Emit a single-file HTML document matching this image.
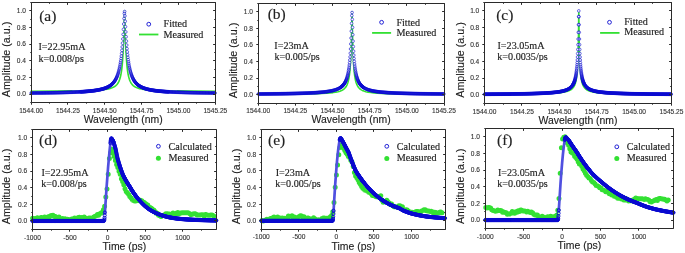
<!DOCTYPE html>
<html><head><meta charset="utf-8"><title>Figure</title>
<style>html,body{margin:0;padding:0;background:#fff;width:685px;height:253px;overflow:hidden}svg{display:block;will-change:transform}</style>
</head><body>
<svg width="685" height="253" viewBox="0 0 685 253">
<style>.tl{font:6.6px "Liberation Sans", sans-serif;fill:#333;stroke:#333;stroke-width:.12px}.at{font:10.45px "Liberation Sans", sans-serif;fill:#222;stroke:#222;stroke-width:.12px}.yt{font:10.7px "Liberation Sans", sans-serif;fill:#222;stroke:#222;stroke-width:.12px}.tx{font:10.15px "Liberation Serif", serif;fill:#222;stroke:#222;stroke-width:.15px}.pl{font:15.5px "Liberation Serif", serif;fill:#222;stroke:#222;stroke-width:.15px}</style>
<rect width="685" height="253" fill="#fff"/>
<path d="M31.1 91.2 57.33 91.07 75.6 90.87 88.42 90.58 97.71 90.15 101.39 89.87 104.49 89.53 107.14 89.13 109.5 88.63 111.41 88.07 113.18 87.35 114.65 86.53 115.83 85.65 117.01 84.47 118.04 83.04 118.93 81.38 119.66 79.52 120.25 77.58 120.84 75.05 121.43 71.67 121.87 68.32 122.32 63.95 122.61 60.28 123.2 50.27 123.64 39.49 124.38 15.13 124.56 10.92 124.67 13.36 125.41 37.79 125.85 49.01 126.44 59.45 126.74 63.27 127.18 67.8 127.62 71.27 128.21 74.76 128.8 77.36 129.39 79.35 130.13 81.25 131.01 82.94 132.04 84.4 133.22 85.6 134.4 86.5 135.87 87.33 137.64 88.05 139.56 88.61 141.77 89.09 144.42 89.51 147.37 89.84 150.9 90.12 159.89 90.55 172.42 90.85 190.1 91.05 215.3 91.19" fill="none" stroke="#33e033" stroke-width="1.6" stroke-linejoin="round" stroke-linecap="round"/>
<path d="M29.83 93.05a1.35 1.35 0 1 0 2.7 0a1.35 1.35 0 1 0 -2.7 0M30.43 93.04a1.35 1.35 0 1 0 2.7 0a1.35 1.35 0 1 0 -2.7 0M31.03 93.04a1.35 1.35 0 1 0 2.7 0a1.35 1.35 0 1 0 -2.7 0M31.63 93.03a1.35 1.35 0 1 0 2.7 0a1.35 1.35 0 1 0 -2.7 0M32.23 93.02a1.35 1.35 0 1 0 2.7 0a1.35 1.35 0 1 0 -2.7 0M32.83 93.02a1.35 1.35 0 1 0 2.7 0a1.35 1.35 0 1 0 -2.7 0M33.43 93.01a1.35 1.35 0 1 0 2.7 0a1.35 1.35 0 1 0 -2.7 0M34.03 93a1.35 1.35 0 1 0 2.7 0a1.35 1.35 0 1 0 -2.7 0M34.62 93a1.35 1.35 0 1 0 2.7 0a1.35 1.35 0 1 0 -2.7 0M35.22 92.99a1.35 1.35 0 1 0 2.7 0a1.35 1.35 0 1 0 -2.7 0M35.82 92.98a1.35 1.35 0 1 0 2.7 0a1.35 1.35 0 1 0 -2.7 0M36.42 92.98a1.35 1.35 0 1 0 2.7 0a1.35 1.35 0 1 0 -2.7 0M37.02 92.97a1.35 1.35 0 1 0 2.7 0a1.35 1.35 0 1 0 -2.7 0M37.62 92.96a1.35 1.35 0 1 0 2.7 0a1.35 1.35 0 1 0 -2.7 0M38.22 92.95a1.35 1.35 0 1 0 2.7 0a1.35 1.35 0 1 0 -2.7 0M38.82 92.95a1.35 1.35 0 1 0 2.7 0a1.35 1.35 0 1 0 -2.7 0M39.42 92.94a1.35 1.35 0 1 0 2.7 0a1.35 1.35 0 1 0 -2.7 0M40.02 92.93a1.35 1.35 0 1 0 2.7 0a1.35 1.35 0 1 0 -2.7 0M40.62 92.92a1.35 1.35 0 1 0 2.7 0a1.35 1.35 0 1 0 -2.7 0M41.21 92.91a1.35 1.35 0 1 0 2.7 0a1.35 1.35 0 1 0 -2.7 0M41.81 92.91a1.35 1.35 0 1 0 2.7 0a1.35 1.35 0 1 0 -2.7 0M42.41 92.9a1.35 1.35 0 1 0 2.7 0a1.35 1.35 0 1 0 -2.7 0M43.01 92.89a1.35 1.35 0 1 0 2.7 0a1.35 1.35 0 1 0 -2.7 0M43.61 92.88a1.35 1.35 0 1 0 2.7 0a1.35 1.35 0 1 0 -2.7 0M44.21 92.87a1.35 1.35 0 1 0 2.7 0a1.35 1.35 0 1 0 -2.7 0M44.81 92.86a1.35 1.35 0 1 0 2.7 0a1.35 1.35 0 1 0 -2.7 0M45.41 92.85a1.35 1.35 0 1 0 2.7 0a1.35 1.35 0 1 0 -2.7 0M46.01 92.84a1.35 1.35 0 1 0 2.7 0a1.35 1.35 0 1 0 -2.7 0M46.61 92.83a1.35 1.35 0 1 0 2.7 0a1.35 1.35 0 1 0 -2.7 0M47.2 92.82a1.35 1.35 0 1 0 2.7 0a1.35 1.35 0 1 0 -2.7 0M47.8 92.81a1.35 1.35 0 1 0 2.7 0a1.35 1.35 0 1 0 -2.7 0M48.4 92.8a1.35 1.35 0 1 0 2.7 0a1.35 1.35 0 1 0 -2.7 0M49 92.79a1.35 1.35 0 1 0 2.7 0a1.35 1.35 0 1 0 -2.7 0M49.6 92.78a1.35 1.35 0 1 0 2.7 0a1.35 1.35 0 1 0 -2.7 0M50.2 92.77a1.35 1.35 0 1 0 2.7 0a1.35 1.35 0 1 0 -2.7 0M50.8 92.76a1.35 1.35 0 1 0 2.7 0a1.35 1.35 0 1 0 -2.7 0M51.4 92.75a1.35 1.35 0 1 0 2.7 0a1.35 1.35 0 1 0 -2.7 0M52 92.74a1.35 1.35 0 1 0 2.7 0a1.35 1.35 0 1 0 -2.7 0M52.6 92.73a1.35 1.35 0 1 0 2.7 0a1.35 1.35 0 1 0 -2.7 0M53.19 92.72a1.35 1.35 0 1 0 2.7 0a1.35 1.35 0 1 0 -2.7 0M53.79 92.7a1.35 1.35 0 1 0 2.7 0a1.35 1.35 0 1 0 -2.7 0M54.39 92.69a1.35 1.35 0 1 0 2.7 0a1.35 1.35 0 1 0 -2.7 0M54.99 92.68a1.35 1.35 0 1 0 2.7 0a1.35 1.35 0 1 0 -2.7 0M55.59 92.67a1.35 1.35 0 1 0 2.7 0a1.35 1.35 0 1 0 -2.7 0M56.19 92.65a1.35 1.35 0 1 0 2.7 0a1.35 1.35 0 1 0 -2.7 0M56.79 92.64a1.35 1.35 0 1 0 2.7 0a1.35 1.35 0 1 0 -2.7 0M57.39 92.63a1.35 1.35 0 1 0 2.7 0a1.35 1.35 0 1 0 -2.7 0M57.99 92.61a1.35 1.35 0 1 0 2.7 0a1.35 1.35 0 1 0 -2.7 0M58.59 92.6a1.35 1.35 0 1 0 2.7 0a1.35 1.35 0 1 0 -2.7 0M59.18 92.58a1.35 1.35 0 1 0 2.7 0a1.35 1.35 0 1 0 -2.7 0M59.78 92.57a1.35 1.35 0 1 0 2.7 0a1.35 1.35 0 1 0 -2.7 0M60.38 92.55a1.35 1.35 0 1 0 2.7 0a1.35 1.35 0 1 0 -2.7 0M60.98 92.54a1.35 1.35 0 1 0 2.7 0a1.35 1.35 0 1 0 -2.7 0M61.58 92.52a1.35 1.35 0 1 0 2.7 0a1.35 1.35 0 1 0 -2.7 0M62.18 92.51a1.35 1.35 0 1 0 2.7 0a1.35 1.35 0 1 0 -2.7 0M62.78 92.49a1.35 1.35 0 1 0 2.7 0a1.35 1.35 0 1 0 -2.7 0M63.38 92.47a1.35 1.35 0 1 0 2.7 0a1.35 1.35 0 1 0 -2.7 0M63.98 92.46a1.35 1.35 0 1 0 2.7 0a1.35 1.35 0 1 0 -2.7 0M64.58 92.44a1.35 1.35 0 1 0 2.7 0a1.35 1.35 0 1 0 -2.7 0M65.18 92.42a1.35 1.35 0 1 0 2.7 0a1.35 1.35 0 1 0 -2.7 0M65.77 92.4a1.35 1.35 0 1 0 2.7 0a1.35 1.35 0 1 0 -2.7 0M66.37 92.38a1.35 1.35 0 1 0 2.7 0a1.35 1.35 0 1 0 -2.7 0M66.97 92.36a1.35 1.35 0 1 0 2.7 0a1.35 1.35 0 1 0 -2.7 0M67.57 92.34a1.35 1.35 0 1 0 2.7 0a1.35 1.35 0 1 0 -2.7 0M68.17 92.32a1.35 1.35 0 1 0 2.7 0a1.35 1.35 0 1 0 -2.7 0M68.77 92.3a1.35 1.35 0 1 0 2.7 0a1.35 1.35 0 1 0 -2.7 0M69.37 92.28a1.35 1.35 0 1 0 2.7 0a1.35 1.35 0 1 0 -2.7 0M69.97 92.26a1.35 1.35 0 1 0 2.7 0a1.35 1.35 0 1 0 -2.7 0M70.57 92.24a1.35 1.35 0 1 0 2.7 0a1.35 1.35 0 1 0 -2.7 0M71.17 92.21a1.35 1.35 0 1 0 2.7 0a1.35 1.35 0 1 0 -2.7 0M71.76 92.19a1.35 1.35 0 1 0 2.7 0a1.35 1.35 0 1 0 -2.7 0M72.36 92.16a1.35 1.35 0 1 0 2.7 0a1.35 1.35 0 1 0 -2.7 0M72.96 92.14a1.35 1.35 0 1 0 2.7 0a1.35 1.35 0 1 0 -2.7 0M73.56 92.11a1.35 1.35 0 1 0 2.7 0a1.35 1.35 0 1 0 -2.7 0M74.16 92.09a1.35 1.35 0 1 0 2.7 0a1.35 1.35 0 1 0 -2.7 0M74.76 92.06a1.35 1.35 0 1 0 2.7 0a1.35 1.35 0 1 0 -2.7 0M75.36 92.03a1.35 1.35 0 1 0 2.7 0a1.35 1.35 0 1 0 -2.7 0M75.96 92a1.35 1.35 0 1 0 2.7 0a1.35 1.35 0 1 0 -2.7 0M76.56 91.97a1.35 1.35 0 1 0 2.7 0a1.35 1.35 0 1 0 -2.7 0M77.16 91.94a1.35 1.35 0 1 0 2.7 0a1.35 1.35 0 1 0 -2.7 0M77.75 91.91a1.35 1.35 0 1 0 2.7 0a1.35 1.35 0 1 0 -2.7 0M78.35 91.88a1.35 1.35 0 1 0 2.7 0a1.35 1.35 0 1 0 -2.7 0M78.95 91.84a1.35 1.35 0 1 0 2.7 0a1.35 1.35 0 1 0 -2.7 0M79.25 91.82a1.35 1.35 0 1 0 2.7 0a1.35 1.35 0 1 0 -2.7 0M79.55 91.81a1.35 1.35 0 1 0 2.7 0a1.35 1.35 0 1 0 -2.7 0M79.85 91.79a1.35 1.35 0 1 0 2.7 0a1.35 1.35 0 1 0 -2.7 0M80.15 91.77a1.35 1.35 0 1 0 2.7 0a1.35 1.35 0 1 0 -2.7 0M80.45 91.75a1.35 1.35 0 1 0 2.7 0a1.35 1.35 0 1 0 -2.7 0M80.75 91.73a1.35 1.35 0 1 0 2.7 0a1.35 1.35 0 1 0 -2.7 0M81.05 91.71a1.35 1.35 0 1 0 2.7 0a1.35 1.35 0 1 0 -2.7 0M81.35 91.7a1.35 1.35 0 1 0 2.7 0a1.35 1.35 0 1 0 -2.7 0M81.65 91.68a1.35 1.35 0 1 0 2.7 0a1.35 1.35 0 1 0 -2.7 0M81.95 91.66a1.35 1.35 0 1 0 2.7 0a1.35 1.35 0 1 0 -2.7 0M82.25 91.64a1.35 1.35 0 1 0 2.7 0a1.35 1.35 0 1 0 -2.7 0M82.55 91.61a1.35 1.35 0 1 0 2.7 0a1.35 1.35 0 1 0 -2.7 0M82.85 91.59a1.35 1.35 0 1 0 2.7 0a1.35 1.35 0 1 0 -2.7 0M83.15 91.57a1.35 1.35 0 1 0 2.7 0a1.35 1.35 0 1 0 -2.7 0M83.45 91.55a1.35 1.35 0 1 0 2.7 0a1.35 1.35 0 1 0 -2.7 0M83.74 91.53a1.35 1.35 0 1 0 2.7 0a1.35 1.35 0 1 0 -2.7 0M84.04 91.51a1.35 1.35 0 1 0 2.7 0a1.35 1.35 0 1 0 -2.7 0M84.34 91.48a1.35 1.35 0 1 0 2.7 0a1.35 1.35 0 1 0 -2.7 0M84.64 91.46a1.35 1.35 0 1 0 2.7 0a1.35 1.35 0 1 0 -2.7 0M84.94 91.44a1.35 1.35 0 1 0 2.7 0a1.35 1.35 0 1 0 -2.7 0M85.24 91.41a1.35 1.35 0 1 0 2.7 0a1.35 1.35 0 1 0 -2.7 0M85.54 91.39a1.35 1.35 0 1 0 2.7 0a1.35 1.35 0 1 0 -2.7 0M85.84 91.36a1.35 1.35 0 1 0 2.7 0a1.35 1.35 0 1 0 -2.7 0M86.14 91.34a1.35 1.35 0 1 0 2.7 0a1.35 1.35 0 1 0 -2.7 0M86.44 91.31a1.35 1.35 0 1 0 2.7 0a1.35 1.35 0 1 0 -2.7 0M86.74 91.28a1.35 1.35 0 1 0 2.7 0a1.35 1.35 0 1 0 -2.7 0M87.04 91.26a1.35 1.35 0 1 0 2.7 0a1.35 1.35 0 1 0 -2.7 0M87.34 91.23a1.35 1.35 0 1 0 2.7 0a1.35 1.35 0 1 0 -2.7 0M87.64 91.2a1.35 1.35 0 1 0 2.7 0a1.35 1.35 0 1 0 -2.7 0M87.94 91.17a1.35 1.35 0 1 0 2.7 0a1.35 1.35 0 1 0 -2.7 0M88.24 91.14a1.35 1.35 0 1 0 2.7 0a1.35 1.35 0 1 0 -2.7 0M88.54 91.11a1.35 1.35 0 1 0 2.7 0a1.35 1.35 0 1 0 -2.7 0M88.84 91.08a1.35 1.35 0 1 0 2.7 0a1.35 1.35 0 1 0 -2.7 0M89.14 91.05a1.35 1.35 0 1 0 2.7 0a1.35 1.35 0 1 0 -2.7 0M89.44 91.02a1.35 1.35 0 1 0 2.7 0a1.35 1.35 0 1 0 -2.7 0M89.74 90.99a1.35 1.35 0 1 0 2.7 0a1.35 1.35 0 1 0 -2.7 0M90.03 90.96a1.35 1.35 0 1 0 2.7 0a1.35 1.35 0 1 0 -2.7 0M90.33 90.92a1.35 1.35 0 1 0 2.7 0a1.35 1.35 0 1 0 -2.7 0M90.63 90.89a1.35 1.35 0 1 0 2.7 0a1.35 1.35 0 1 0 -2.7 0M90.93 90.85a1.35 1.35 0 1 0 2.7 0a1.35 1.35 0 1 0 -2.7 0M91.23 90.82a1.35 1.35 0 1 0 2.7 0a1.35 1.35 0 1 0 -2.7 0M91.53 90.78a1.35 1.35 0 1 0 2.7 0a1.35 1.35 0 1 0 -2.7 0M91.83 90.74a1.35 1.35 0 1 0 2.7 0a1.35 1.35 0 1 0 -2.7 0M92.13 90.71a1.35 1.35 0 1 0 2.7 0a1.35 1.35 0 1 0 -2.7 0M92.43 90.67a1.35 1.35 0 1 0 2.7 0a1.35 1.35 0 1 0 -2.7 0M92.73 90.63a1.35 1.35 0 1 0 2.7 0a1.35 1.35 0 1 0 -2.7 0M93.03 90.59a1.35 1.35 0 1 0 2.7 0a1.35 1.35 0 1 0 -2.7 0M93.33 90.55a1.35 1.35 0 1 0 2.7 0a1.35 1.35 0 1 0 -2.7 0M93.63 90.5a1.35 1.35 0 1 0 2.7 0a1.35 1.35 0 1 0 -2.7 0M93.93 90.46a1.35 1.35 0 1 0 2.7 0a1.35 1.35 0 1 0 -2.7 0M94.23 90.42a1.35 1.35 0 1 0 2.7 0a1.35 1.35 0 1 0 -2.7 0M94.53 90.37a1.35 1.35 0 1 0 2.7 0a1.35 1.35 0 1 0 -2.7 0M94.83 90.32a1.35 1.35 0 1 0 2.7 0a1.35 1.35 0 1 0 -2.7 0M95.13 90.28a1.35 1.35 0 1 0 2.7 0a1.35 1.35 0 1 0 -2.7 0M95.43 90.23a1.35 1.35 0 1 0 2.7 0a1.35 1.35 0 1 0 -2.7 0M95.73 90.18a1.35 1.35 0 1 0 2.7 0a1.35 1.35 0 1 0 -2.7 0M96.02 90.13a1.35 1.35 0 1 0 2.7 0a1.35 1.35 0 1 0 -2.7 0M96.32 90.07a1.35 1.35 0 1 0 2.7 0a1.35 1.35 0 1 0 -2.7 0M96.62 90.02a1.35 1.35 0 1 0 2.7 0a1.35 1.35 0 1 0 -2.7 0M96.92 89.96a1.35 1.35 0 1 0 2.7 0a1.35 1.35 0 1 0 -2.7 0M97.22 89.91a1.35 1.35 0 1 0 2.7 0a1.35 1.35 0 1 0 -2.7 0M97.52 89.85a1.35 1.35 0 1 0 2.7 0a1.35 1.35 0 1 0 -2.7 0M97.82 89.79a1.35 1.35 0 1 0 2.7 0a1.35 1.35 0 1 0 -2.7 0M98.12 89.73a1.35 1.35 0 1 0 2.7 0a1.35 1.35 0 1 0 -2.7 0M98.42 89.66a1.35 1.35 0 1 0 2.7 0a1.35 1.35 0 1 0 -2.7 0M98.72 89.6a1.35 1.35 0 1 0 2.7 0a1.35 1.35 0 1 0 -2.7 0M99.02 89.53a1.35 1.35 0 1 0 2.7 0a1.35 1.35 0 1 0 -2.7 0M99.32 89.46a1.35 1.35 0 1 0 2.7 0a1.35 1.35 0 1 0 -2.7 0M99.62 89.39a1.35 1.35 0 1 0 2.7 0a1.35 1.35 0 1 0 -2.7 0M99.92 89.32a1.35 1.35 0 1 0 2.7 0a1.35 1.35 0 1 0 -2.7 0M100.22 89.25a1.35 1.35 0 1 0 2.7 0a1.35 1.35 0 1 0 -2.7 0M100.52 89.17a1.35 1.35 0 1 0 2.7 0a1.35 1.35 0 1 0 -2.7 0M100.82 89.09a1.35 1.35 0 1 0 2.7 0a1.35 1.35 0 1 0 -2.7 0M101.12 89.01a1.35 1.35 0 1 0 2.7 0a1.35 1.35 0 1 0 -2.7 0M101.42 88.93a1.35 1.35 0 1 0 2.7 0a1.35 1.35 0 1 0 -2.7 0M101.72 88.84a1.35 1.35 0 1 0 2.7 0a1.35 1.35 0 1 0 -2.7 0M102.02 88.75a1.35 1.35 0 1 0 2.7 0a1.35 1.35 0 1 0 -2.7 0M102.31 88.66a1.35 1.35 0 1 0 2.7 0a1.35 1.35 0 1 0 -2.7 0M102.61 88.57a1.35 1.35 0 1 0 2.7 0a1.35 1.35 0 1 0 -2.7 0M102.91 88.47a1.35 1.35 0 1 0 2.7 0a1.35 1.35 0 1 0 -2.7 0M103.21 88.37a1.35 1.35 0 1 0 2.7 0a1.35 1.35 0 1 0 -2.7 0M103.51 88.26a1.35 1.35 0 1 0 2.7 0a1.35 1.35 0 1 0 -2.7 0M103.81 88.16a1.35 1.35 0 1 0 2.7 0a1.35 1.35 0 1 0 -2.7 0M104.11 88.04a1.35 1.35 0 1 0 2.7 0a1.35 1.35 0 1 0 -2.7 0M104.41 87.93a1.35 1.35 0 1 0 2.7 0a1.35 1.35 0 1 0 -2.7 0M104.71 87.81a1.35 1.35 0 1 0 2.7 0a1.35 1.35 0 1 0 -2.7 0M105.01 87.69a1.35 1.35 0 1 0 2.7 0a1.35 1.35 0 1 0 -2.7 0M105.31 87.56a1.35 1.35 0 1 0 2.7 0a1.35 1.35 0 1 0 -2.7 0M105.61 87.42a1.35 1.35 0 1 0 2.7 0a1.35 1.35 0 1 0 -2.7 0M105.91 87.29a1.35 1.35 0 1 0 2.7 0a1.35 1.35 0 1 0 -2.7 0M106.21 87.14a1.35 1.35 0 1 0 2.7 0a1.35 1.35 0 1 0 -2.7 0M106.51 87a1.35 1.35 0 1 0 2.7 0a1.35 1.35 0 1 0 -2.7 0M106.81 86.84a1.35 1.35 0 1 0 2.7 0a1.35 1.35 0 1 0 -2.7 0M107.11 86.68a1.35 1.35 0 1 0 2.7 0a1.35 1.35 0 1 0 -2.7 0M107.41 86.51a1.35 1.35 0 1 0 2.7 0a1.35 1.35 0 1 0 -2.7 0M107.71 86.34a1.35 1.35 0 1 0 2.7 0a1.35 1.35 0 1 0 -2.7 0M108.01 86.16a1.35 1.35 0 1 0 2.7 0a1.35 1.35 0 1 0 -2.7 0M108.3 85.97a1.35 1.35 0 1 0 2.7 0a1.35 1.35 0 1 0 -2.7 0M108.6 85.77a1.35 1.35 0 1 0 2.7 0a1.35 1.35 0 1 0 -2.7 0M108.9 85.57a1.35 1.35 0 1 0 2.7 0a1.35 1.35 0 1 0 -2.7 0M109.2 85.35a1.35 1.35 0 1 0 2.7 0a1.35 1.35 0 1 0 -2.7 0M109.5 85.13a1.35 1.35 0 1 0 2.7 0a1.35 1.35 0 1 0 -2.7 0M109.8 84.89a1.35 1.35 0 1 0 2.7 0a1.35 1.35 0 1 0 -2.7 0M110.1 84.65a1.35 1.35 0 1 0 2.7 0a1.35 1.35 0 1 0 -2.7 0M110.4 84.39a1.35 1.35 0 1 0 2.7 0a1.35 1.35 0 1 0 -2.7 0M110.7 84.12a1.35 1.35 0 1 0 2.7 0a1.35 1.35 0 1 0 -2.7 0M111 83.83a1.35 1.35 0 1 0 2.7 0a1.35 1.35 0 1 0 -2.7 0M111.3 83.54a1.35 1.35 0 1 0 2.7 0a1.35 1.35 0 1 0 -2.7 0M111.6 83.22a1.35 1.35 0 1 0 2.7 0a1.35 1.35 0 1 0 -2.7 0M111.9 82.89a1.35 1.35 0 1 0 2.7 0a1.35 1.35 0 1 0 -2.7 0M112.2 82.54a1.35 1.35 0 1 0 2.7 0a1.35 1.35 0 1 0 -2.7 0M112.5 82.17a1.35 1.35 0 1 0 2.7 0a1.35 1.35 0 1 0 -2.7 0M112.8 81.78a1.35 1.35 0 1 0 2.7 0a1.35 1.35 0 1 0 -2.7 0M113.1 81.37a1.35 1.35 0 1 0 2.7 0a1.35 1.35 0 1 0 -2.7 0M113.4 80.93a1.35 1.35 0 1 0 2.7 0a1.35 1.35 0 1 0 -2.7 0M113.7 80.47a1.35 1.35 0 1 0 2.7 0a1.35 1.35 0 1 0 -2.7 0M114 79.98a1.35 1.35 0 1 0 2.7 0a1.35 1.35 0 1 0 -2.7 0M114.3 79.45a1.35 1.35 0 1 0 2.7 0a1.35 1.35 0 1 0 -2.7 0M114.59 78.89a1.35 1.35 0 1 0 2.7 0a1.35 1.35 0 1 0 -2.7 0M114.89 78.3a1.35 1.35 0 1 0 2.7 0a1.35 1.35 0 1 0 -2.7 0M115.19 77.66a1.35 1.35 0 1 0 2.7 0a1.35 1.35 0 1 0 -2.7 0M115.49 76.98a1.35 1.35 0 1 0 2.7 0a1.35 1.35 0 1 0 -2.7 0M115.79 76.25a1.35 1.35 0 1 0 2.7 0a1.35 1.35 0 1 0 -2.7 0M116.09 75.46a1.35 1.35 0 1 0 2.7 0a1.35 1.35 0 1 0 -2.7 0M116.39 74.61a1.35 1.35 0 1 0 2.7 0a1.35 1.35 0 1 0 -2.7 0M116.69 73.7a1.35 1.35 0 1 0 2.7 0a1.35 1.35 0 1 0 -2.7 0M116.99 72.71a1.35 1.35 0 1 0 2.7 0a1.35 1.35 0 1 0 -2.7 0M117.29 71.64a1.35 1.35 0 1 0 2.7 0a1.35 1.35 0 1 0 -2.7 0M117.59 70.47a1.35 1.35 0 1 0 2.7 0a1.35 1.35 0 1 0 -2.7 0M117.89 69.21a1.35 1.35 0 1 0 2.7 0a1.35 1.35 0 1 0 -2.7 0M118.19 67.82a1.35 1.35 0 1 0 2.7 0a1.35 1.35 0 1 0 -2.7 0M118.49 66.31a1.35 1.35 0 1 0 2.7 0a1.35 1.35 0 1 0 -2.7 0M118.79 64.65a1.35 1.35 0 1 0 2.7 0a1.35 1.35 0 1 0 -2.7 0M119.09 62.82a1.35 1.35 0 1 0 2.7 0a1.35 1.35 0 1 0 -2.7 0M119.39 60.81a1.35 1.35 0 1 0 2.7 0a1.35 1.35 0 1 0 -2.7 0M119.69 58.58a1.35 1.35 0 1 0 2.7 0a1.35 1.35 0 1 0 -2.7 0M119.99 56.11a1.35 1.35 0 1 0 2.7 0a1.35 1.35 0 1 0 -2.7 0M120.29 53.37a1.35 1.35 0 1 0 2.7 0a1.35 1.35 0 1 0 -2.7 0M120.58 50.33a1.35 1.35 0 1 0 2.7 0a1.35 1.35 0 1 0 -2.7 0M120.88 46.94a1.35 1.35 0 1 0 2.7 0a1.35 1.35 0 1 0 -2.7 0M121.18 43.17a1.35 1.35 0 1 0 2.7 0a1.35 1.35 0 1 0 -2.7 0M121.48 38.99a1.35 1.35 0 1 0 2.7 0a1.35 1.35 0 1 0 -2.7 0M121.78 34.39a1.35 1.35 0 1 0 2.7 0a1.35 1.35 0 1 0 -2.7 0M122.08 29.37a1.35 1.35 0 1 0 2.7 0a1.35 1.35 0 1 0 -2.7 0M122.38 24.03a1.35 1.35 0 1 0 2.7 0a1.35 1.35 0 1 0 -2.7 0M122.68 18.56a1.35 1.35 0 1 0 2.7 0a1.35 1.35 0 1 0 -2.7 0M122.98 13.49a1.35 1.35 0 1 0 2.7 0a1.35 1.35 0 1 0 -2.7 0M123.28 11.51a1.35 1.35 0 1 0 2.7 0a1.35 1.35 0 1 0 -2.7 0M123.58 15.92a1.35 1.35 0 1 0 2.7 0a1.35 1.35 0 1 0 -2.7 0M123.88 21.29a1.35 1.35 0 1 0 2.7 0a1.35 1.35 0 1 0 -2.7 0M124.18 26.73a1.35 1.35 0 1 0 2.7 0a1.35 1.35 0 1 0 -2.7 0M124.48 31.93a1.35 1.35 0 1 0 2.7 0a1.35 1.35 0 1 0 -2.7 0M124.78 36.74a1.35 1.35 0 1 0 2.7 0a1.35 1.35 0 1 0 -2.7 0M125.08 41.13a1.35 1.35 0 1 0 2.7 0a1.35 1.35 0 1 0 -2.7 0M125.38 45.1a1.35 1.35 0 1 0 2.7 0a1.35 1.35 0 1 0 -2.7 0M125.68 48.68a1.35 1.35 0 1 0 2.7 0a1.35 1.35 0 1 0 -2.7 0M125.98 51.89a1.35 1.35 0 1 0 2.7 0a1.35 1.35 0 1 0 -2.7 0M126.28 54.78a1.35 1.35 0 1 0 2.7 0a1.35 1.35 0 1 0 -2.7 0M126.58 57.38a1.35 1.35 0 1 0 2.7 0a1.35 1.35 0 1 0 -2.7 0M126.87 59.72a1.35 1.35 0 1 0 2.7 0a1.35 1.35 0 1 0 -2.7 0M127.17 61.84a1.35 1.35 0 1 0 2.7 0a1.35 1.35 0 1 0 -2.7 0M127.47 63.76a1.35 1.35 0 1 0 2.7 0a1.35 1.35 0 1 0 -2.7 0M127.77 65.5a1.35 1.35 0 1 0 2.7 0a1.35 1.35 0 1 0 -2.7 0M128.07 67.08a1.35 1.35 0 1 0 2.7 0a1.35 1.35 0 1 0 -2.7 0M128.37 68.53a1.35 1.35 0 1 0 2.7 0a1.35 1.35 0 1 0 -2.7 0M128.67 69.85a1.35 1.35 0 1 0 2.7 0a1.35 1.35 0 1 0 -2.7 0M128.97 71.07a1.35 1.35 0 1 0 2.7 0a1.35 1.35 0 1 0 -2.7 0M129.27 72.18a1.35 1.35 0 1 0 2.7 0a1.35 1.35 0 1 0 -2.7 0M129.57 73.21a1.35 1.35 0 1 0 2.7 0a1.35 1.35 0 1 0 -2.7 0M129.87 74.16a1.35 1.35 0 1 0 2.7 0a1.35 1.35 0 1 0 -2.7 0M130.17 75.04a1.35 1.35 0 1 0 2.7 0a1.35 1.35 0 1 0 -2.7 0M130.47 75.86a1.35 1.35 0 1 0 2.7 0a1.35 1.35 0 1 0 -2.7 0M130.77 76.62a1.35 1.35 0 1 0 2.7 0a1.35 1.35 0 1 0 -2.7 0M131.07 77.33a1.35 1.35 0 1 0 2.7 0a1.35 1.35 0 1 0 -2.7 0M131.37 77.99a1.35 1.35 0 1 0 2.7 0a1.35 1.35 0 1 0 -2.7 0M131.67 78.6a1.35 1.35 0 1 0 2.7 0a1.35 1.35 0 1 0 -2.7 0M131.97 79.18a1.35 1.35 0 1 0 2.7 0a1.35 1.35 0 1 0 -2.7 0M132.27 79.72a1.35 1.35 0 1 0 2.7 0a1.35 1.35 0 1 0 -2.7 0M132.57 80.23a1.35 1.35 0 1 0 2.7 0a1.35 1.35 0 1 0 -2.7 0M132.86 80.71a1.35 1.35 0 1 0 2.7 0a1.35 1.35 0 1 0 -2.7 0M133.16 81.16a1.35 1.35 0 1 0 2.7 0a1.35 1.35 0 1 0 -2.7 0M133.46 81.58a1.35 1.35 0 1 0 2.7 0a1.35 1.35 0 1 0 -2.7 0M133.76 81.98a1.35 1.35 0 1 0 2.7 0a1.35 1.35 0 1 0 -2.7 0M134.06 82.36a1.35 1.35 0 1 0 2.7 0a1.35 1.35 0 1 0 -2.7 0M134.36 82.72a1.35 1.35 0 1 0 2.7 0a1.35 1.35 0 1 0 -2.7 0M134.66 83.06a1.35 1.35 0 1 0 2.7 0a1.35 1.35 0 1 0 -2.7 0M134.96 83.38a1.35 1.35 0 1 0 2.7 0a1.35 1.35 0 1 0 -2.7 0M135.26 83.69a1.35 1.35 0 1 0 2.7 0a1.35 1.35 0 1 0 -2.7 0M135.56 83.98a1.35 1.35 0 1 0 2.7 0a1.35 1.35 0 1 0 -2.7 0M135.86 84.26a1.35 1.35 0 1 0 2.7 0a1.35 1.35 0 1 0 -2.7 0M136.16 84.52a1.35 1.35 0 1 0 2.7 0a1.35 1.35 0 1 0 -2.7 0M136.46 84.77a1.35 1.35 0 1 0 2.7 0a1.35 1.35 0 1 0 -2.7 0M136.76 85.01a1.35 1.35 0 1 0 2.7 0a1.35 1.35 0 1 0 -2.7 0M137.06 85.24a1.35 1.35 0 1 0 2.7 0a1.35 1.35 0 1 0 -2.7 0M137.36 85.46a1.35 1.35 0 1 0 2.7 0a1.35 1.35 0 1 0 -2.7 0M137.66 85.67a1.35 1.35 0 1 0 2.7 0a1.35 1.35 0 1 0 -2.7 0M137.96 85.87a1.35 1.35 0 1 0 2.7 0a1.35 1.35 0 1 0 -2.7 0M138.26 86.07a1.35 1.35 0 1 0 2.7 0a1.35 1.35 0 1 0 -2.7 0M138.56 86.25a1.35 1.35 0 1 0 2.7 0a1.35 1.35 0 1 0 -2.7 0M138.86 86.43a1.35 1.35 0 1 0 2.7 0a1.35 1.35 0 1 0 -2.7 0M139.15 86.6a1.35 1.35 0 1 0 2.7 0a1.35 1.35 0 1 0 -2.7 0M139.45 86.76a1.35 1.35 0 1 0 2.7 0a1.35 1.35 0 1 0 -2.7 0M139.75 86.92a1.35 1.35 0 1 0 2.7 0a1.35 1.35 0 1 0 -2.7 0M140.05 87.07a1.35 1.35 0 1 0 2.7 0a1.35 1.35 0 1 0 -2.7 0M140.35 87.22a1.35 1.35 0 1 0 2.7 0a1.35 1.35 0 1 0 -2.7 0M140.65 87.36a1.35 1.35 0 1 0 2.7 0a1.35 1.35 0 1 0 -2.7 0M140.95 87.49a1.35 1.35 0 1 0 2.7 0a1.35 1.35 0 1 0 -2.7 0M141.25 87.62a1.35 1.35 0 1 0 2.7 0a1.35 1.35 0 1 0 -2.7 0M141.55 87.75a1.35 1.35 0 1 0 2.7 0a1.35 1.35 0 1 0 -2.7 0M141.85 87.87a1.35 1.35 0 1 0 2.7 0a1.35 1.35 0 1 0 -2.7 0M142.15 87.99a1.35 1.35 0 1 0 2.7 0a1.35 1.35 0 1 0 -2.7 0M142.45 88.1a1.35 1.35 0 1 0 2.7 0a1.35 1.35 0 1 0 -2.7 0M142.75 88.21a1.35 1.35 0 1 0 2.7 0a1.35 1.35 0 1 0 -2.7 0M143.05 88.32a1.35 1.35 0 1 0 2.7 0a1.35 1.35 0 1 0 -2.7 0M143.35 88.42a1.35 1.35 0 1 0 2.7 0a1.35 1.35 0 1 0 -2.7 0M143.65 88.52a1.35 1.35 0 1 0 2.7 0a1.35 1.35 0 1 0 -2.7 0M143.95 88.61a1.35 1.35 0 1 0 2.7 0a1.35 1.35 0 1 0 -2.7 0M144.25 88.71a1.35 1.35 0 1 0 2.7 0a1.35 1.35 0 1 0 -2.7 0M144.55 88.8a1.35 1.35 0 1 0 2.7 0a1.35 1.35 0 1 0 -2.7 0M144.85 88.88a1.35 1.35 0 1 0 2.7 0a1.35 1.35 0 1 0 -2.7 0M145.14 88.97a1.35 1.35 0 1 0 2.7 0a1.35 1.35 0 1 0 -2.7 0M145.44 89.05a1.35 1.35 0 1 0 2.7 0a1.35 1.35 0 1 0 -2.7 0M145.74 89.13a1.35 1.35 0 1 0 2.7 0a1.35 1.35 0 1 0 -2.7 0M146.04 89.21a1.35 1.35 0 1 0 2.7 0a1.35 1.35 0 1 0 -2.7 0M146.34 89.29a1.35 1.35 0 1 0 2.7 0a1.35 1.35 0 1 0 -2.7 0M146.64 89.36a1.35 1.35 0 1 0 2.7 0a1.35 1.35 0 1 0 -2.7 0M146.94 89.43a1.35 1.35 0 1 0 2.7 0a1.35 1.35 0 1 0 -2.7 0M147.24 89.5a1.35 1.35 0 1 0 2.7 0a1.35 1.35 0 1 0 -2.7 0M147.54 89.57a1.35 1.35 0 1 0 2.7 0a1.35 1.35 0 1 0 -2.7 0M147.84 89.63a1.35 1.35 0 1 0 2.7 0a1.35 1.35 0 1 0 -2.7 0M148.14 89.7a1.35 1.35 0 1 0 2.7 0a1.35 1.35 0 1 0 -2.7 0M148.44 89.76a1.35 1.35 0 1 0 2.7 0a1.35 1.35 0 1 0 -2.7 0M148.74 89.82a1.35 1.35 0 1 0 2.7 0a1.35 1.35 0 1 0 -2.7 0M149.04 89.88a1.35 1.35 0 1 0 2.7 0a1.35 1.35 0 1 0 -2.7 0M149.34 89.94a1.35 1.35 0 1 0 2.7 0a1.35 1.35 0 1 0 -2.7 0M149.64 89.99a1.35 1.35 0 1 0 2.7 0a1.35 1.35 0 1 0 -2.7 0M149.94 90.05a1.35 1.35 0 1 0 2.7 0a1.35 1.35 0 1 0 -2.7 0M150.24 90.1a1.35 1.35 0 1 0 2.7 0a1.35 1.35 0 1 0 -2.7 0M150.54 90.15a1.35 1.35 0 1 0 2.7 0a1.35 1.35 0 1 0 -2.7 0M150.84 90.2a1.35 1.35 0 1 0 2.7 0a1.35 1.35 0 1 0 -2.7 0M151.14 90.25a1.35 1.35 0 1 0 2.7 0a1.35 1.35 0 1 0 -2.7 0M151.43 90.3a1.35 1.35 0 1 0 2.7 0a1.35 1.35 0 1 0 -2.7 0M151.73 90.35a1.35 1.35 0 1 0 2.7 0a1.35 1.35 0 1 0 -2.7 0M152.03 90.39a1.35 1.35 0 1 0 2.7 0a1.35 1.35 0 1 0 -2.7 0M152.33 90.44a1.35 1.35 0 1 0 2.7 0a1.35 1.35 0 1 0 -2.7 0M152.63 90.48a1.35 1.35 0 1 0 2.7 0a1.35 1.35 0 1 0 -2.7 0M152.93 90.52a1.35 1.35 0 1 0 2.7 0a1.35 1.35 0 1 0 -2.7 0M153.23 90.57a1.35 1.35 0 1 0 2.7 0a1.35 1.35 0 1 0 -2.7 0M153.53 90.61a1.35 1.35 0 1 0 2.7 0a1.35 1.35 0 1 0 -2.7 0M153.83 90.65a1.35 1.35 0 1 0 2.7 0a1.35 1.35 0 1 0 -2.7 0M154.13 90.69a1.35 1.35 0 1 0 2.7 0a1.35 1.35 0 1 0 -2.7 0M154.43 90.73a1.35 1.35 0 1 0 2.7 0a1.35 1.35 0 1 0 -2.7 0M154.73 90.76a1.35 1.35 0 1 0 2.7 0a1.35 1.35 0 1 0 -2.7 0M155.03 90.8a1.35 1.35 0 1 0 2.7 0a1.35 1.35 0 1 0 -2.7 0M155.33 90.84a1.35 1.35 0 1 0 2.7 0a1.35 1.35 0 1 0 -2.7 0M155.63 90.87a1.35 1.35 0 1 0 2.7 0a1.35 1.35 0 1 0 -2.7 0M155.93 90.91a1.35 1.35 0 1 0 2.7 0a1.35 1.35 0 1 0 -2.7 0M156.23 90.94a1.35 1.35 0 1 0 2.7 0a1.35 1.35 0 1 0 -2.7 0M156.53 90.97a1.35 1.35 0 1 0 2.7 0a1.35 1.35 0 1 0 -2.7 0M156.83 91.01a1.35 1.35 0 1 0 2.7 0a1.35 1.35 0 1 0 -2.7 0M157.13 91.04a1.35 1.35 0 1 0 2.7 0a1.35 1.35 0 1 0 -2.7 0M157.42 91.07a1.35 1.35 0 1 0 2.7 0a1.35 1.35 0 1 0 -2.7 0M157.72 91.1a1.35 1.35 0 1 0 2.7 0a1.35 1.35 0 1 0 -2.7 0M158.02 91.13a1.35 1.35 0 1 0 2.7 0a1.35 1.35 0 1 0 -2.7 0M158.32 91.16a1.35 1.35 0 1 0 2.7 0a1.35 1.35 0 1 0 -2.7 0M158.62 91.19a1.35 1.35 0 1 0 2.7 0a1.35 1.35 0 1 0 -2.7 0M158.92 91.22a1.35 1.35 0 1 0 2.7 0a1.35 1.35 0 1 0 -2.7 0M159.22 91.24a1.35 1.35 0 1 0 2.7 0a1.35 1.35 0 1 0 -2.7 0M159.52 91.27a1.35 1.35 0 1 0 2.7 0a1.35 1.35 0 1 0 -2.7 0M159.82 91.3a1.35 1.35 0 1 0 2.7 0a1.35 1.35 0 1 0 -2.7 0M160.12 91.32a1.35 1.35 0 1 0 2.7 0a1.35 1.35 0 1 0 -2.7 0M160.42 91.35a1.35 1.35 0 1 0 2.7 0a1.35 1.35 0 1 0 -2.7 0M160.72 91.37a1.35 1.35 0 1 0 2.7 0a1.35 1.35 0 1 0 -2.7 0M161.02 91.4a1.35 1.35 0 1 0 2.7 0a1.35 1.35 0 1 0 -2.7 0M161.32 91.42a1.35 1.35 0 1 0 2.7 0a1.35 1.35 0 1 0 -2.7 0M161.62 91.45a1.35 1.35 0 1 0 2.7 0a1.35 1.35 0 1 0 -2.7 0M161.92 91.47a1.35 1.35 0 1 0 2.7 0a1.35 1.35 0 1 0 -2.7 0M162.22 91.49a1.35 1.35 0 1 0 2.7 0a1.35 1.35 0 1 0 -2.7 0M162.52 91.52a1.35 1.35 0 1 0 2.7 0a1.35 1.35 0 1 0 -2.7 0M162.82 91.54a1.35 1.35 0 1 0 2.7 0a1.35 1.35 0 1 0 -2.7 0M163.12 91.56a1.35 1.35 0 1 0 2.7 0a1.35 1.35 0 1 0 -2.7 0M163.42 91.58a1.35 1.35 0 1 0 2.7 0a1.35 1.35 0 1 0 -2.7 0M163.71 91.6a1.35 1.35 0 1 0 2.7 0a1.35 1.35 0 1 0 -2.7 0M164.01 91.62a1.35 1.35 0 1 0 2.7 0a1.35 1.35 0 1 0 -2.7 0M164.31 91.65a1.35 1.35 0 1 0 2.7 0a1.35 1.35 0 1 0 -2.7 0M164.61 91.67a1.35 1.35 0 1 0 2.7 0a1.35 1.35 0 1 0 -2.7 0M164.91 91.69a1.35 1.35 0 1 0 2.7 0a1.35 1.35 0 1 0 -2.7 0M165.21 91.7a1.35 1.35 0 1 0 2.7 0a1.35 1.35 0 1 0 -2.7 0M165.51 91.72a1.35 1.35 0 1 0 2.7 0a1.35 1.35 0 1 0 -2.7 0M165.81 91.74a1.35 1.35 0 1 0 2.7 0a1.35 1.35 0 1 0 -2.7 0M166.11 91.76a1.35 1.35 0 1 0 2.7 0a1.35 1.35 0 1 0 -2.7 0M166.41 91.78a1.35 1.35 0 1 0 2.7 0a1.35 1.35 0 1 0 -2.7 0M166.71 91.8a1.35 1.35 0 1 0 2.7 0a1.35 1.35 0 1 0 -2.7 0M167.01 91.82a1.35 1.35 0 1 0 2.7 0a1.35 1.35 0 1 0 -2.7 0M167.31 91.83a1.35 1.35 0 1 0 2.7 0a1.35 1.35 0 1 0 -2.7 0M167.61 91.85a1.35 1.35 0 1 0 2.7 0a1.35 1.35 0 1 0 -2.7 0M168.21 91.88a1.35 1.35 0 1 0 2.7 0a1.35 1.35 0 1 0 -2.7 0M168.81 91.92a1.35 1.35 0 1 0 2.7 0a1.35 1.35 0 1 0 -2.7 0M169.41 91.95a1.35 1.35 0 1 0 2.7 0a1.35 1.35 0 1 0 -2.7 0M170 91.98a1.35 1.35 0 1 0 2.7 0a1.35 1.35 0 1 0 -2.7 0M170.6 92.01a1.35 1.35 0 1 0 2.7 0a1.35 1.35 0 1 0 -2.7 0M171.2 92.04a1.35 1.35 0 1 0 2.7 0a1.35 1.35 0 1 0 -2.7 0M171.8 92.07a1.35 1.35 0 1 0 2.7 0a1.35 1.35 0 1 0 -2.7 0M172.4 92.09a1.35 1.35 0 1 0 2.7 0a1.35 1.35 0 1 0 -2.7 0M173 92.12a1.35 1.35 0 1 0 2.7 0a1.35 1.35 0 1 0 -2.7 0M173.6 92.14a1.35 1.35 0 1 0 2.7 0a1.35 1.35 0 1 0 -2.7 0M174.2 92.17a1.35 1.35 0 1 0 2.7 0a1.35 1.35 0 1 0 -2.7 0M174.8 92.19a1.35 1.35 0 1 0 2.7 0a1.35 1.35 0 1 0 -2.7 0M175.4 92.22a1.35 1.35 0 1 0 2.7 0a1.35 1.35 0 1 0 -2.7 0M175.99 92.24a1.35 1.35 0 1 0 2.7 0a1.35 1.35 0 1 0 -2.7 0M176.59 92.26a1.35 1.35 0 1 0 2.7 0a1.35 1.35 0 1 0 -2.7 0M177.19 92.29a1.35 1.35 0 1 0 2.7 0a1.35 1.35 0 1 0 -2.7 0M177.79 92.31a1.35 1.35 0 1 0 2.7 0a1.35 1.35 0 1 0 -2.7 0M178.39 92.33a1.35 1.35 0 1 0 2.7 0a1.35 1.35 0 1 0 -2.7 0M178.99 92.35a1.35 1.35 0 1 0 2.7 0a1.35 1.35 0 1 0 -2.7 0M179.59 92.37a1.35 1.35 0 1 0 2.7 0a1.35 1.35 0 1 0 -2.7 0M180.19 92.39a1.35 1.35 0 1 0 2.7 0a1.35 1.35 0 1 0 -2.7 0M180.79 92.41a1.35 1.35 0 1 0 2.7 0a1.35 1.35 0 1 0 -2.7 0M181.39 92.43a1.35 1.35 0 1 0 2.7 0a1.35 1.35 0 1 0 -2.7 0M181.98 92.44a1.35 1.35 0 1 0 2.7 0a1.35 1.35 0 1 0 -2.7 0M182.58 92.46a1.35 1.35 0 1 0 2.7 0a1.35 1.35 0 1 0 -2.7 0M183.18 92.48a1.35 1.35 0 1 0 2.7 0a1.35 1.35 0 1 0 -2.7 0M183.78 92.5a1.35 1.35 0 1 0 2.7 0a1.35 1.35 0 1 0 -2.7 0M184.38 92.51a1.35 1.35 0 1 0 2.7 0a1.35 1.35 0 1 0 -2.7 0M184.98 92.53a1.35 1.35 0 1 0 2.7 0a1.35 1.35 0 1 0 -2.7 0M185.58 92.54a1.35 1.35 0 1 0 2.7 0a1.35 1.35 0 1 0 -2.7 0M186.18 92.56a1.35 1.35 0 1 0 2.7 0a1.35 1.35 0 1 0 -2.7 0M186.78 92.57a1.35 1.35 0 1 0 2.7 0a1.35 1.35 0 1 0 -2.7 0M187.38 92.59a1.35 1.35 0 1 0 2.7 0a1.35 1.35 0 1 0 -2.7 0M187.98 92.6a1.35 1.35 0 1 0 2.7 0a1.35 1.35 0 1 0 -2.7 0M188.57 92.62a1.35 1.35 0 1 0 2.7 0a1.35 1.35 0 1 0 -2.7 0M189.17 92.63a1.35 1.35 0 1 0 2.7 0a1.35 1.35 0 1 0 -2.7 0M189.77 92.64a1.35 1.35 0 1 0 2.7 0a1.35 1.35 0 1 0 -2.7 0M190.37 92.66a1.35 1.35 0 1 0 2.7 0a1.35 1.35 0 1 0 -2.7 0M190.97 92.67a1.35 1.35 0 1 0 2.7 0a1.35 1.35 0 1 0 -2.7 0M191.57 92.68a1.35 1.35 0 1 0 2.7 0a1.35 1.35 0 1 0 -2.7 0M192.17 92.7a1.35 1.35 0 1 0 2.7 0a1.35 1.35 0 1 0 -2.7 0M192.77 92.71a1.35 1.35 0 1 0 2.7 0a1.35 1.35 0 1 0 -2.7 0M193.37 92.72a1.35 1.35 0 1 0 2.7 0a1.35 1.35 0 1 0 -2.7 0M193.97 92.73a1.35 1.35 0 1 0 2.7 0a1.35 1.35 0 1 0 -2.7 0M194.56 92.74a1.35 1.35 0 1 0 2.7 0a1.35 1.35 0 1 0 -2.7 0M195.16 92.75a1.35 1.35 0 1 0 2.7 0a1.35 1.35 0 1 0 -2.7 0M195.76 92.77a1.35 1.35 0 1 0 2.7 0a1.35 1.35 0 1 0 -2.7 0M196.36 92.78a1.35 1.35 0 1 0 2.7 0a1.35 1.35 0 1 0 -2.7 0M196.96 92.79a1.35 1.35 0 1 0 2.7 0a1.35 1.35 0 1 0 -2.7 0M197.56 92.8a1.35 1.35 0 1 0 2.7 0a1.35 1.35 0 1 0 -2.7 0M198.16 92.81a1.35 1.35 0 1 0 2.7 0a1.35 1.35 0 1 0 -2.7 0M198.76 92.82a1.35 1.35 0 1 0 2.7 0a1.35 1.35 0 1 0 -2.7 0M199.36 92.83a1.35 1.35 0 1 0 2.7 0a1.35 1.35 0 1 0 -2.7 0M199.96 92.84a1.35 1.35 0 1 0 2.7 0a1.35 1.35 0 1 0 -2.7 0M200.55 92.85a1.35 1.35 0 1 0 2.7 0a1.35 1.35 0 1 0 -2.7 0M201.15 92.86a1.35 1.35 0 1 0 2.7 0a1.35 1.35 0 1 0 -2.7 0M201.75 92.86a1.35 1.35 0 1 0 2.7 0a1.35 1.35 0 1 0 -2.7 0M202.35 92.87a1.35 1.35 0 1 0 2.7 0a1.35 1.35 0 1 0 -2.7 0M202.95 92.88a1.35 1.35 0 1 0 2.7 0a1.35 1.35 0 1 0 -2.7 0M203.55 92.89a1.35 1.35 0 1 0 2.7 0a1.35 1.35 0 1 0 -2.7 0M204.15 92.9a1.35 1.35 0 1 0 2.7 0a1.35 1.35 0 1 0 -2.7 0M204.75 92.91a1.35 1.35 0 1 0 2.7 0a1.35 1.35 0 1 0 -2.7 0M205.35 92.92a1.35 1.35 0 1 0 2.7 0a1.35 1.35 0 1 0 -2.7 0M205.95 92.92a1.35 1.35 0 1 0 2.7 0a1.35 1.35 0 1 0 -2.7 0M206.54 92.93a1.35 1.35 0 1 0 2.7 0a1.35 1.35 0 1 0 -2.7 0M207.14 92.94a1.35 1.35 0 1 0 2.7 0a1.35 1.35 0 1 0 -2.7 0M207.74 92.95a1.35 1.35 0 1 0 2.7 0a1.35 1.35 0 1 0 -2.7 0M208.34 92.96a1.35 1.35 0 1 0 2.7 0a1.35 1.35 0 1 0 -2.7 0M208.94 92.96a1.35 1.35 0 1 0 2.7 0a1.35 1.35 0 1 0 -2.7 0M209.54 92.97a1.35 1.35 0 1 0 2.7 0a1.35 1.35 0 1 0 -2.7 0M210.14 92.98a1.35 1.35 0 1 0 2.7 0a1.35 1.35 0 1 0 -2.7 0M210.74 92.99a1.35 1.35 0 1 0 2.7 0a1.35 1.35 0 1 0 -2.7 0M211.34 92.99a1.35 1.35 0 1 0 2.7 0a1.35 1.35 0 1 0 -2.7 0M211.94 93a1.35 1.35 0 1 0 2.7 0a1.35 1.35 0 1 0 -2.7 0M212.54 93.01a1.35 1.35 0 1 0 2.7 0a1.35 1.35 0 1 0 -2.7 0M213.13 93.01a1.35 1.35 0 1 0 2.7 0a1.35 1.35 0 1 0 -2.7 0M213.73 93.02a1.35 1.35 0 1 0 2.7 0a1.35 1.35 0 1 0 -2.7 0" fill="#fff" stroke="#0a0ad0" stroke-width="0.6"/>
<path d="M258.2 94.21 285.25 94.08 303.98 93.89 317.06 93.6 326.43 93.18 329.99 92.91 333.11 92.58 335.79 92.19 338.02 91.72 339.95 91.16 341.59 90.51 343.07 89.69 344.26 88.78 345.45 87.52 346.34 86.22 347.09 84.76 347.83 82.78 348.42 80.63 349.02 77.7 349.46 74.72 349.91 70.71 350.51 62.75 350.8 56.99 351.1 49.38 351.4 39.24 352.01 11.7 352.59 38.06 353.03 52.69 353.63 64.67 354.22 71.9 354.67 75.6 355.11 78.37 355.56 80.51 356.15 82.69 356.9 84.69 357.64 86.16 358.53 87.48 359.72 88.75 360.91 89.67 362.25 90.42 363.88 91.1 365.82 91.68 368.04 92.15 370.72 92.56 373.84 92.9 377.41 93.17 386.62 93.59 399.56 93.88 417.84 94.08 444 94.21" fill="none" stroke="#33e033" stroke-width="1.6" stroke-linejoin="round" stroke-linecap="round"/>
<path d="M256.95 94.01a1.35 1.35 0 1 0 2.7 0a1.35 1.35 0 1 0 -2.7 0M257.44 94.01a1.35 1.35 0 1 0 2.7 0a1.35 1.35 0 1 0 -2.7 0M257.94 94a1.35 1.35 0 1 0 2.7 0a1.35 1.35 0 1 0 -2.7 0M258.44 94a1.35 1.35 0 1 0 2.7 0a1.35 1.35 0 1 0 -2.7 0M258.94 94a1.35 1.35 0 1 0 2.7 0a1.35 1.35 0 1 0 -2.7 0M259.44 93.99a1.35 1.35 0 1 0 2.7 0a1.35 1.35 0 1 0 -2.7 0M259.94 93.99a1.35 1.35 0 1 0 2.7 0a1.35 1.35 0 1 0 -2.7 0M260.44 93.98a1.35 1.35 0 1 0 2.7 0a1.35 1.35 0 1 0 -2.7 0M260.94 93.98a1.35 1.35 0 1 0 2.7 0a1.35 1.35 0 1 0 -2.7 0M261.44 93.97a1.35 1.35 0 1 0 2.7 0a1.35 1.35 0 1 0 -2.7 0M261.93 93.97a1.35 1.35 0 1 0 2.7 0a1.35 1.35 0 1 0 -2.7 0M262.43 93.96a1.35 1.35 0 1 0 2.7 0a1.35 1.35 0 1 0 -2.7 0M262.93 93.96a1.35 1.35 0 1 0 2.7 0a1.35 1.35 0 1 0 -2.7 0M263.43 93.95a1.35 1.35 0 1 0 2.7 0a1.35 1.35 0 1 0 -2.7 0M263.93 93.95a1.35 1.35 0 1 0 2.7 0a1.35 1.35 0 1 0 -2.7 0M264.43 93.94a1.35 1.35 0 1 0 2.7 0a1.35 1.35 0 1 0 -2.7 0M264.93 93.94a1.35 1.35 0 1 0 2.7 0a1.35 1.35 0 1 0 -2.7 0M265.43 93.93a1.35 1.35 0 1 0 2.7 0a1.35 1.35 0 1 0 -2.7 0M265.92 93.93a1.35 1.35 0 1 0 2.7 0a1.35 1.35 0 1 0 -2.7 0M266.42 93.92a1.35 1.35 0 1 0 2.7 0a1.35 1.35 0 1 0 -2.7 0M266.92 93.92a1.35 1.35 0 1 0 2.7 0a1.35 1.35 0 1 0 -2.7 0M267.42 93.91a1.35 1.35 0 1 0 2.7 0a1.35 1.35 0 1 0 -2.7 0M267.92 93.91a1.35 1.35 0 1 0 2.7 0a1.35 1.35 0 1 0 -2.7 0M268.42 93.9a1.35 1.35 0 1 0 2.7 0a1.35 1.35 0 1 0 -2.7 0M268.92 93.9a1.35 1.35 0 1 0 2.7 0a1.35 1.35 0 1 0 -2.7 0M269.42 93.89a1.35 1.35 0 1 0 2.7 0a1.35 1.35 0 1 0 -2.7 0M269.91 93.88a1.35 1.35 0 1 0 2.7 0a1.35 1.35 0 1 0 -2.7 0M270.41 93.88a1.35 1.35 0 1 0 2.7 0a1.35 1.35 0 1 0 -2.7 0M270.91 93.87a1.35 1.35 0 1 0 2.7 0a1.35 1.35 0 1 0 -2.7 0M271.41 93.87a1.35 1.35 0 1 0 2.7 0a1.35 1.35 0 1 0 -2.7 0M271.91 93.86a1.35 1.35 0 1 0 2.7 0a1.35 1.35 0 1 0 -2.7 0M272.41 93.85a1.35 1.35 0 1 0 2.7 0a1.35 1.35 0 1 0 -2.7 0M272.91 93.85a1.35 1.35 0 1 0 2.7 0a1.35 1.35 0 1 0 -2.7 0M273.41 93.84a1.35 1.35 0 1 0 2.7 0a1.35 1.35 0 1 0 -2.7 0M273.91 93.84a1.35 1.35 0 1 0 2.7 0a1.35 1.35 0 1 0 -2.7 0M274.4 93.83a1.35 1.35 0 1 0 2.7 0a1.35 1.35 0 1 0 -2.7 0M274.9 93.82a1.35 1.35 0 1 0 2.7 0a1.35 1.35 0 1 0 -2.7 0M275.4 93.82a1.35 1.35 0 1 0 2.7 0a1.35 1.35 0 1 0 -2.7 0M275.9 93.81a1.35 1.35 0 1 0 2.7 0a1.35 1.35 0 1 0 -2.7 0M276.4 93.8a1.35 1.35 0 1 0 2.7 0a1.35 1.35 0 1 0 -2.7 0M276.9 93.8a1.35 1.35 0 1 0 2.7 0a1.35 1.35 0 1 0 -2.7 0M277.4 93.79a1.35 1.35 0 1 0 2.7 0a1.35 1.35 0 1 0 -2.7 0M277.9 93.78a1.35 1.35 0 1 0 2.7 0a1.35 1.35 0 1 0 -2.7 0M278.39 93.77a1.35 1.35 0 1 0 2.7 0a1.35 1.35 0 1 0 -2.7 0M278.89 93.77a1.35 1.35 0 1 0 2.7 0a1.35 1.35 0 1 0 -2.7 0M279.39 93.76a1.35 1.35 0 1 0 2.7 0a1.35 1.35 0 1 0 -2.7 0M279.89 93.75a1.35 1.35 0 1 0 2.7 0a1.35 1.35 0 1 0 -2.7 0M280.39 93.74a1.35 1.35 0 1 0 2.7 0a1.35 1.35 0 1 0 -2.7 0M280.89 93.74a1.35 1.35 0 1 0 2.7 0a1.35 1.35 0 1 0 -2.7 0M281.39 93.73a1.35 1.35 0 1 0 2.7 0a1.35 1.35 0 1 0 -2.7 0M281.89 93.72a1.35 1.35 0 1 0 2.7 0a1.35 1.35 0 1 0 -2.7 0M282.38 93.71a1.35 1.35 0 1 0 2.7 0a1.35 1.35 0 1 0 -2.7 0M282.88 93.7a1.35 1.35 0 1 0 2.7 0a1.35 1.35 0 1 0 -2.7 0M283.38 93.7a1.35 1.35 0 1 0 2.7 0a1.35 1.35 0 1 0 -2.7 0M283.88 93.69a1.35 1.35 0 1 0 2.7 0a1.35 1.35 0 1 0 -2.7 0M284.38 93.68a1.35 1.35 0 1 0 2.7 0a1.35 1.35 0 1 0 -2.7 0M284.88 93.67a1.35 1.35 0 1 0 2.7 0a1.35 1.35 0 1 0 -2.7 0M285.38 93.66a1.35 1.35 0 1 0 2.7 0a1.35 1.35 0 1 0 -2.7 0M285.88 93.65a1.35 1.35 0 1 0 2.7 0a1.35 1.35 0 1 0 -2.7 0M286.37 93.64a1.35 1.35 0 1 0 2.7 0a1.35 1.35 0 1 0 -2.7 0M286.87 93.63a1.35 1.35 0 1 0 2.7 0a1.35 1.35 0 1 0 -2.7 0M287.37 93.62a1.35 1.35 0 1 0 2.7 0a1.35 1.35 0 1 0 -2.7 0M287.87 93.61a1.35 1.35 0 1 0 2.7 0a1.35 1.35 0 1 0 -2.7 0M288.37 93.6a1.35 1.35 0 1 0 2.7 0a1.35 1.35 0 1 0 -2.7 0M288.87 93.59a1.35 1.35 0 1 0 2.7 0a1.35 1.35 0 1 0 -2.7 0M289.37 93.58a1.35 1.35 0 1 0 2.7 0a1.35 1.35 0 1 0 -2.7 0M289.87 93.57a1.35 1.35 0 1 0 2.7 0a1.35 1.35 0 1 0 -2.7 0M290.37 93.56a1.35 1.35 0 1 0 2.7 0a1.35 1.35 0 1 0 -2.7 0M290.86 93.55a1.35 1.35 0 1 0 2.7 0a1.35 1.35 0 1 0 -2.7 0M291.36 93.54a1.35 1.35 0 1 0 2.7 0a1.35 1.35 0 1 0 -2.7 0M291.86 93.53a1.35 1.35 0 1 0 2.7 0a1.35 1.35 0 1 0 -2.7 0M292.36 93.52a1.35 1.35 0 1 0 2.7 0a1.35 1.35 0 1 0 -2.7 0M292.86 93.51a1.35 1.35 0 1 0 2.7 0a1.35 1.35 0 1 0 -2.7 0M293.36 93.49a1.35 1.35 0 1 0 2.7 0a1.35 1.35 0 1 0 -2.7 0M293.86 93.48a1.35 1.35 0 1 0 2.7 0a1.35 1.35 0 1 0 -2.7 0M294.36 93.47a1.35 1.35 0 1 0 2.7 0a1.35 1.35 0 1 0 -2.7 0M294.85 93.46a1.35 1.35 0 1 0 2.7 0a1.35 1.35 0 1 0 -2.7 0M295.35 93.44a1.35 1.35 0 1 0 2.7 0a1.35 1.35 0 1 0 -2.7 0M295.85 93.43a1.35 1.35 0 1 0 2.7 0a1.35 1.35 0 1 0 -2.7 0M296.35 93.42a1.35 1.35 0 1 0 2.7 0a1.35 1.35 0 1 0 -2.7 0M296.85 93.4a1.35 1.35 0 1 0 2.7 0a1.35 1.35 0 1 0 -2.7 0M297.35 93.39a1.35 1.35 0 1 0 2.7 0a1.35 1.35 0 1 0 -2.7 0M297.85 93.38a1.35 1.35 0 1 0 2.7 0a1.35 1.35 0 1 0 -2.7 0M298.35 93.36a1.35 1.35 0 1 0 2.7 0a1.35 1.35 0 1 0 -2.7 0M298.84 93.35a1.35 1.35 0 1 0 2.7 0a1.35 1.35 0 1 0 -2.7 0M299.34 93.33a1.35 1.35 0 1 0 2.7 0a1.35 1.35 0 1 0 -2.7 0M299.84 93.32a1.35 1.35 0 1 0 2.7 0a1.35 1.35 0 1 0 -2.7 0M300.34 93.3a1.35 1.35 0 1 0 2.7 0a1.35 1.35 0 1 0 -2.7 0M300.84 93.29a1.35 1.35 0 1 0 2.7 0a1.35 1.35 0 1 0 -2.7 0M301.34 93.27a1.35 1.35 0 1 0 2.7 0a1.35 1.35 0 1 0 -2.7 0M301.84 93.25a1.35 1.35 0 1 0 2.7 0a1.35 1.35 0 1 0 -2.7 0M302.34 93.24a1.35 1.35 0 1 0 2.7 0a1.35 1.35 0 1 0 -2.7 0M302.84 93.22a1.35 1.35 0 1 0 2.7 0a1.35 1.35 0 1 0 -2.7 0M303.33 93.2a1.35 1.35 0 1 0 2.7 0a1.35 1.35 0 1 0 -2.7 0M303.83 93.18a1.35 1.35 0 1 0 2.7 0a1.35 1.35 0 1 0 -2.7 0M304.33 93.16a1.35 1.35 0 1 0 2.7 0a1.35 1.35 0 1 0 -2.7 0M304.83 93.14a1.35 1.35 0 1 0 2.7 0a1.35 1.35 0 1 0 -2.7 0M305.33 93.13a1.35 1.35 0 1 0 2.7 0a1.35 1.35 0 1 0 -2.7 0M305.83 93.11a1.35 1.35 0 1 0 2.7 0a1.35 1.35 0 1 0 -2.7 0M306.33 93.09a1.35 1.35 0 1 0 2.7 0a1.35 1.35 0 1 0 -2.7 0M306.83 93.06a1.35 1.35 0 1 0 2.7 0a1.35 1.35 0 1 0 -2.7 0M307.32 93.04a1.35 1.35 0 1 0 2.7 0a1.35 1.35 0 1 0 -2.7 0M307.82 93.02a1.35 1.35 0 1 0 2.7 0a1.35 1.35 0 1 0 -2.7 0M308.32 93a1.35 1.35 0 1 0 2.7 0a1.35 1.35 0 1 0 -2.7 0M308.82 92.98a1.35 1.35 0 1 0 2.7 0a1.35 1.35 0 1 0 -2.7 0M309.32 92.95a1.35 1.35 0 1 0 2.7 0a1.35 1.35 0 1 0 -2.7 0M309.82 92.93a1.35 1.35 0 1 0 2.7 0a1.35 1.35 0 1 0 -2.7 0M310.32 92.9a1.35 1.35 0 1 0 2.7 0a1.35 1.35 0 1 0 -2.7 0M310.82 92.88a1.35 1.35 0 1 0 2.7 0a1.35 1.35 0 1 0 -2.7 0M311.31 92.85a1.35 1.35 0 1 0 2.7 0a1.35 1.35 0 1 0 -2.7 0M311.81 92.82a1.35 1.35 0 1 0 2.7 0a1.35 1.35 0 1 0 -2.7 0M312.31 92.8a1.35 1.35 0 1 0 2.7 0a1.35 1.35 0 1 0 -2.7 0M312.81 92.77a1.35 1.35 0 1 0 2.7 0a1.35 1.35 0 1 0 -2.7 0M313.31 92.74a1.35 1.35 0 1 0 2.7 0a1.35 1.35 0 1 0 -2.7 0M313.81 92.71a1.35 1.35 0 1 0 2.7 0a1.35 1.35 0 1 0 -2.7 0M314.31 92.68a1.35 1.35 0 1 0 2.7 0a1.35 1.35 0 1 0 -2.7 0M314.81 92.65a1.35 1.35 0 1 0 2.7 0a1.35 1.35 0 1 0 -2.7 0M315.3 92.61a1.35 1.35 0 1 0 2.7 0a1.35 1.35 0 1 0 -2.7 0M315.8 92.58a1.35 1.35 0 1 0 2.7 0a1.35 1.35 0 1 0 -2.7 0M316.3 92.54a1.35 1.35 0 1 0 2.7 0a1.35 1.35 0 1 0 -2.7 0M316.8 92.51a1.35 1.35 0 1 0 2.7 0a1.35 1.35 0 1 0 -2.7 0M317.3 92.47a1.35 1.35 0 1 0 2.7 0a1.35 1.35 0 1 0 -2.7 0M317.8 92.43a1.35 1.35 0 1 0 2.7 0a1.35 1.35 0 1 0 -2.7 0M318.3 92.39a1.35 1.35 0 1 0 2.7 0a1.35 1.35 0 1 0 -2.7 0M318.8 92.35a1.35 1.35 0 1 0 2.7 0a1.35 1.35 0 1 0 -2.7 0M319.3 92.31a1.35 1.35 0 1 0 2.7 0a1.35 1.35 0 1 0 -2.7 0M319.79 92.27a1.35 1.35 0 1 0 2.7 0a1.35 1.35 0 1 0 -2.7 0M320.29 92.22a1.35 1.35 0 1 0 2.7 0a1.35 1.35 0 1 0 -2.7 0M320.79 92.18a1.35 1.35 0 1 0 2.7 0a1.35 1.35 0 1 0 -2.7 0M321.29 92.13a1.35 1.35 0 1 0 2.7 0a1.35 1.35 0 1 0 -2.7 0M321.79 92.08a1.35 1.35 0 1 0 2.7 0a1.35 1.35 0 1 0 -2.7 0M322.29 92.03a1.35 1.35 0 1 0 2.7 0a1.35 1.35 0 1 0 -2.7 0M322.79 91.97a1.35 1.35 0 1 0 2.7 0a1.35 1.35 0 1 0 -2.7 0M323.29 91.92a1.35 1.35 0 1 0 2.7 0a1.35 1.35 0 1 0 -2.7 0M323.78 91.86a1.35 1.35 0 1 0 2.7 0a1.35 1.35 0 1 0 -2.7 0M324.28 91.8a1.35 1.35 0 1 0 2.7 0a1.35 1.35 0 1 0 -2.7 0M324.78 91.73a1.35 1.35 0 1 0 2.7 0a1.35 1.35 0 1 0 -2.7 0M325.28 91.67a1.35 1.35 0 1 0 2.7 0a1.35 1.35 0 1 0 -2.7 0M325.78 91.6a1.35 1.35 0 1 0 2.7 0a1.35 1.35 0 1 0 -2.7 0M326.28 91.53a1.35 1.35 0 1 0 2.7 0a1.35 1.35 0 1 0 -2.7 0M326.78 91.46a1.35 1.35 0 1 0 2.7 0a1.35 1.35 0 1 0 -2.7 0M327.28 91.38a1.35 1.35 0 1 0 2.7 0a1.35 1.35 0 1 0 -2.7 0M327.77 91.3a1.35 1.35 0 1 0 2.7 0a1.35 1.35 0 1 0 -2.7 0M328.27 91.21a1.35 1.35 0 1 0 2.7 0a1.35 1.35 0 1 0 -2.7 0M328.77 91.12a1.35 1.35 0 1 0 2.7 0a1.35 1.35 0 1 0 -2.7 0M329.27 91.03a1.35 1.35 0 1 0 2.7 0a1.35 1.35 0 1 0 -2.7 0M329.77 90.93a1.35 1.35 0 1 0 2.7 0a1.35 1.35 0 1 0 -2.7 0M330.27 90.83a1.35 1.35 0 1 0 2.7 0a1.35 1.35 0 1 0 -2.7 0M330.77 90.72a1.35 1.35 0 1 0 2.7 0a1.35 1.35 0 1 0 -2.7 0M331.27 90.61a1.35 1.35 0 1 0 2.7 0a1.35 1.35 0 1 0 -2.7 0M331.76 90.49a1.35 1.35 0 1 0 2.7 0a1.35 1.35 0 1 0 -2.7 0M332.26 90.36a1.35 1.35 0 1 0 2.7 0a1.35 1.35 0 1 0 -2.7 0M332.76 90.23a1.35 1.35 0 1 0 2.7 0a1.35 1.35 0 1 0 -2.7 0M333.26 90.09a1.35 1.35 0 1 0 2.7 0a1.35 1.35 0 1 0 -2.7 0M333.76 89.94a1.35 1.35 0 1 0 2.7 0a1.35 1.35 0 1 0 -2.7 0M334.26 89.78a1.35 1.35 0 1 0 2.7 0a1.35 1.35 0 1 0 -2.7 0M334.76 89.61a1.35 1.35 0 1 0 2.7 0a1.35 1.35 0 1 0 -2.7 0M335.26 89.42a1.35 1.35 0 1 0 2.7 0a1.35 1.35 0 1 0 -2.7 0M335.76 89.23a1.35 1.35 0 1 0 2.7 0a1.35 1.35 0 1 0 -2.7 0M336.25 89.02a1.35 1.35 0 1 0 2.7 0a1.35 1.35 0 1 0 -2.7 0M336.75 88.8a1.35 1.35 0 1 0 2.7 0a1.35 1.35 0 1 0 -2.7 0M337.25 88.56a1.35 1.35 0 1 0 2.7 0a1.35 1.35 0 1 0 -2.7 0M337.75 88.3a1.35 1.35 0 1 0 2.7 0a1.35 1.35 0 1 0 -2.7 0M338.25 88.02a1.35 1.35 0 1 0 2.7 0a1.35 1.35 0 1 0 -2.7 0M338.75 87.72a1.35 1.35 0 1 0 2.7 0a1.35 1.35 0 1 0 -2.7 0M339.25 87.39a1.35 1.35 0 1 0 2.7 0a1.35 1.35 0 1 0 -2.7 0M339.5 87.22a1.35 1.35 0 1 0 2.7 0a1.35 1.35 0 1 0 -2.7 0M339.75 87.03a1.35 1.35 0 1 0 2.7 0a1.35 1.35 0 1 0 -2.7 0M340 86.84a1.35 1.35 0 1 0 2.7 0a1.35 1.35 0 1 0 -2.7 0M340.24 86.64a1.35 1.35 0 1 0 2.7 0a1.35 1.35 0 1 0 -2.7 0M340.49 86.43a1.35 1.35 0 1 0 2.7 0a1.35 1.35 0 1 0 -2.7 0M340.74 86.21a1.35 1.35 0 1 0 2.7 0a1.35 1.35 0 1 0 -2.7 0M340.99 85.98a1.35 1.35 0 1 0 2.7 0a1.35 1.35 0 1 0 -2.7 0M341.24 85.73a1.35 1.35 0 1 0 2.7 0a1.35 1.35 0 1 0 -2.7 0M341.49 85.47a1.35 1.35 0 1 0 2.7 0a1.35 1.35 0 1 0 -2.7 0M341.74 85.2a1.35 1.35 0 1 0 2.7 0a1.35 1.35 0 1 0 -2.7 0M341.99 84.92a1.35 1.35 0 1 0 2.7 0a1.35 1.35 0 1 0 -2.7 0M342.24 84.61a1.35 1.35 0 1 0 2.7 0a1.35 1.35 0 1 0 -2.7 0M342.49 84.29a1.35 1.35 0 1 0 2.7 0a1.35 1.35 0 1 0 -2.7 0M342.74 83.95a1.35 1.35 0 1 0 2.7 0a1.35 1.35 0 1 0 -2.7 0M342.99 83.59a1.35 1.35 0 1 0 2.7 0a1.35 1.35 0 1 0 -2.7 0M343.24 83.21a1.35 1.35 0 1 0 2.7 0a1.35 1.35 0 1 0 -2.7 0M343.49 82.8a1.35 1.35 0 1 0 2.7 0a1.35 1.35 0 1 0 -2.7 0M343.74 82.36a1.35 1.35 0 1 0 2.7 0a1.35 1.35 0 1 0 -2.7 0M343.99 81.89a1.35 1.35 0 1 0 2.7 0a1.35 1.35 0 1 0 -2.7 0M344.23 81.39a1.35 1.35 0 1 0 2.7 0a1.35 1.35 0 1 0 -2.7 0M344.48 80.85a1.35 1.35 0 1 0 2.7 0a1.35 1.35 0 1 0 -2.7 0M344.73 80.27a1.35 1.35 0 1 0 2.7 0a1.35 1.35 0 1 0 -2.7 0M344.98 79.64a1.35 1.35 0 1 0 2.7 0a1.35 1.35 0 1 0 -2.7 0M345.23 78.96a1.35 1.35 0 1 0 2.7 0a1.35 1.35 0 1 0 -2.7 0M345.48 78.23a1.35 1.35 0 1 0 2.7 0a1.35 1.35 0 1 0 -2.7 0M345.73 77.43a1.35 1.35 0 1 0 2.7 0a1.35 1.35 0 1 0 -2.7 0M345.98 76.55a1.35 1.35 0 1 0 2.7 0a1.35 1.35 0 1 0 -2.7 0M346.23 75.59a1.35 1.35 0 1 0 2.7 0a1.35 1.35 0 1 0 -2.7 0M346.48 74.53a1.35 1.35 0 1 0 2.7 0a1.35 1.35 0 1 0 -2.7 0M346.73 73.36a1.35 1.35 0 1 0 2.7 0a1.35 1.35 0 1 0 -2.7 0M346.98 72.07a1.35 1.35 0 1 0 2.7 0a1.35 1.35 0 1 0 -2.7 0M347.23 70.62a1.35 1.35 0 1 0 2.7 0a1.35 1.35 0 1 0 -2.7 0M347.48 69a1.35 1.35 0 1 0 2.7 0a1.35 1.35 0 1 0 -2.7 0M347.73 67.18a1.35 1.35 0 1 0 2.7 0a1.35 1.35 0 1 0 -2.7 0M347.98 65.11a1.35 1.35 0 1 0 2.7 0a1.35 1.35 0 1 0 -2.7 0M348.23 62.75a1.35 1.35 0 1 0 2.7 0a1.35 1.35 0 1 0 -2.7 0M348.47 60.04a1.35 1.35 0 1 0 2.7 0a1.35 1.35 0 1 0 -2.7 0M348.72 56.91a1.35 1.35 0 1 0 2.7 0a1.35 1.35 0 1 0 -2.7 0M348.97 53.26a1.35 1.35 0 1 0 2.7 0a1.35 1.35 0 1 0 -2.7 0M349.22 49a1.35 1.35 0 1 0 2.7 0a1.35 1.35 0 1 0 -2.7 0M349.47 43.98a1.35 1.35 0 1 0 2.7 0a1.35 1.35 0 1 0 -2.7 0M349.72 38.07a1.35 1.35 0 1 0 2.7 0a1.35 1.35 0 1 0 -2.7 0M349.97 31.19a1.35 1.35 0 1 0 2.7 0a1.35 1.35 0 1 0 -2.7 0M350.22 23.44a1.35 1.35 0 1 0 2.7 0a1.35 1.35 0 1 0 -2.7 0M350.47 15.61a1.35 1.35 0 1 0 2.7 0a1.35 1.35 0 1 0 -2.7 0M350.72 12.51a1.35 1.35 0 1 0 2.7 0a1.35 1.35 0 1 0 -2.7 0M350.97 19.43a1.35 1.35 0 1 0 2.7 0a1.35 1.35 0 1 0 -2.7 0M351.22 27.4a1.35 1.35 0 1 0 2.7 0a1.35 1.35 0 1 0 -2.7 0M351.47 34.75a1.35 1.35 0 1 0 2.7 0a1.35 1.35 0 1 0 -2.7 0M351.72 41.14a1.35 1.35 0 1 0 2.7 0a1.35 1.35 0 1 0 -2.7 0M351.97 46.59a1.35 1.35 0 1 0 2.7 0a1.35 1.35 0 1 0 -2.7 0M352.22 51.22a1.35 1.35 0 1 0 2.7 0a1.35 1.35 0 1 0 -2.7 0M352.46 55.16a1.35 1.35 0 1 0 2.7 0a1.35 1.35 0 1 0 -2.7 0M352.71 58.53a1.35 1.35 0 1 0 2.7 0a1.35 1.35 0 1 0 -2.7 0M352.96 61.44a1.35 1.35 0 1 0 2.7 0a1.35 1.35 0 1 0 -2.7 0M353.21 63.97a1.35 1.35 0 1 0 2.7 0a1.35 1.35 0 1 0 -2.7 0M353.46 66.18a1.35 1.35 0 1 0 2.7 0a1.35 1.35 0 1 0 -2.7 0M353.71 68.12a1.35 1.35 0 1 0 2.7 0a1.35 1.35 0 1 0 -2.7 0M353.96 69.84a1.35 1.35 0 1 0 2.7 0a1.35 1.35 0 1 0 -2.7 0M354.21 71.37a1.35 1.35 0 1 0 2.7 0a1.35 1.35 0 1 0 -2.7 0M354.46 72.73a1.35 1.35 0 1 0 2.7 0a1.35 1.35 0 1 0 -2.7 0M354.71 73.96a1.35 1.35 0 1 0 2.7 0a1.35 1.35 0 1 0 -2.7 0M354.96 75.07a1.35 1.35 0 1 0 2.7 0a1.35 1.35 0 1 0 -2.7 0M355.21 76.08a1.35 1.35 0 1 0 2.7 0a1.35 1.35 0 1 0 -2.7 0M355.46 77a1.35 1.35 0 1 0 2.7 0a1.35 1.35 0 1 0 -2.7 0M355.71 77.84a1.35 1.35 0 1 0 2.7 0a1.35 1.35 0 1 0 -2.7 0M355.96 78.6a1.35 1.35 0 1 0 2.7 0a1.35 1.35 0 1 0 -2.7 0M356.21 79.31a1.35 1.35 0 1 0 2.7 0a1.35 1.35 0 1 0 -2.7 0M356.46 79.96a1.35 1.35 0 1 0 2.7 0a1.35 1.35 0 1 0 -2.7 0M356.7 80.56a1.35 1.35 0 1 0 2.7 0a1.35 1.35 0 1 0 -2.7 0M356.95 81.12a1.35 1.35 0 1 0 2.7 0a1.35 1.35 0 1 0 -2.7 0M357.2 81.64a1.35 1.35 0 1 0 2.7 0a1.35 1.35 0 1 0 -2.7 0M357.45 82.13a1.35 1.35 0 1 0 2.7 0a1.35 1.35 0 1 0 -2.7 0M357.7 82.58a1.35 1.35 0 1 0 2.7 0a1.35 1.35 0 1 0 -2.7 0M357.95 83a1.35 1.35 0 1 0 2.7 0a1.35 1.35 0 1 0 -2.7 0M358.2 83.4a1.35 1.35 0 1 0 2.7 0a1.35 1.35 0 1 0 -2.7 0M358.45 83.77a1.35 1.35 0 1 0 2.7 0a1.35 1.35 0 1 0 -2.7 0M358.7 84.12a1.35 1.35 0 1 0 2.7 0a1.35 1.35 0 1 0 -2.7 0M358.95 84.45a1.35 1.35 0 1 0 2.7 0a1.35 1.35 0 1 0 -2.7 0M359.2 84.77a1.35 1.35 0 1 0 2.7 0a1.35 1.35 0 1 0 -2.7 0M359.45 85.06a1.35 1.35 0 1 0 2.7 0a1.35 1.35 0 1 0 -2.7 0M359.7 85.34a1.35 1.35 0 1 0 2.7 0a1.35 1.35 0 1 0 -2.7 0M359.95 85.6a1.35 1.35 0 1 0 2.7 0a1.35 1.35 0 1 0 -2.7 0M360.2 85.85a1.35 1.35 0 1 0 2.7 0a1.35 1.35 0 1 0 -2.7 0M360.45 86.09a1.35 1.35 0 1 0 2.7 0a1.35 1.35 0 1 0 -2.7 0M360.69 86.32a1.35 1.35 0 1 0 2.7 0a1.35 1.35 0 1 0 -2.7 0M360.94 86.54a1.35 1.35 0 1 0 2.7 0a1.35 1.35 0 1 0 -2.7 0M361.19 86.74a1.35 1.35 0 1 0 2.7 0a1.35 1.35 0 1 0 -2.7 0M361.44 86.94a1.35 1.35 0 1 0 2.7 0a1.35 1.35 0 1 0 -2.7 0M361.69 87.13a1.35 1.35 0 1 0 2.7 0a1.35 1.35 0 1 0 -2.7 0M361.94 87.3a1.35 1.35 0 1 0 2.7 0a1.35 1.35 0 1 0 -2.7 0M362.19 87.48a1.35 1.35 0 1 0 2.7 0a1.35 1.35 0 1 0 -2.7 0M362.69 87.8a1.35 1.35 0 1 0 2.7 0a1.35 1.35 0 1 0 -2.7 0M363.19 88.09a1.35 1.35 0 1 0 2.7 0a1.35 1.35 0 1 0 -2.7 0M363.69 88.37a1.35 1.35 0 1 0 2.7 0a1.35 1.35 0 1 0 -2.7 0M364.19 88.62a1.35 1.35 0 1 0 2.7 0a1.35 1.35 0 1 0 -2.7 0M364.69 88.86a1.35 1.35 0 1 0 2.7 0a1.35 1.35 0 1 0 -2.7 0M365.18 89.08a1.35 1.35 0 1 0 2.7 0a1.35 1.35 0 1 0 -2.7 0M365.68 89.28a1.35 1.35 0 1 0 2.7 0a1.35 1.35 0 1 0 -2.7 0M366.18 89.47a1.35 1.35 0 1 0 2.7 0a1.35 1.35 0 1 0 -2.7 0M366.68 89.65a1.35 1.35 0 1 0 2.7 0a1.35 1.35 0 1 0 -2.7 0M367.18 89.82a1.35 1.35 0 1 0 2.7 0a1.35 1.35 0 1 0 -2.7 0M367.68 89.97a1.35 1.35 0 1 0 2.7 0a1.35 1.35 0 1 0 -2.7 0M368.18 90.12a1.35 1.35 0 1 0 2.7 0a1.35 1.35 0 1 0 -2.7 0M368.68 90.26a1.35 1.35 0 1 0 2.7 0a1.35 1.35 0 1 0 -2.7 0M369.17 90.39a1.35 1.35 0 1 0 2.7 0a1.35 1.35 0 1 0 -2.7 0M369.67 90.52a1.35 1.35 0 1 0 2.7 0a1.35 1.35 0 1 0 -2.7 0M370.17 90.64a1.35 1.35 0 1 0 2.7 0a1.35 1.35 0 1 0 -2.7 0M370.67 90.75a1.35 1.35 0 1 0 2.7 0a1.35 1.35 0 1 0 -2.7 0M371.17 90.86a1.35 1.35 0 1 0 2.7 0a1.35 1.35 0 1 0 -2.7 0M371.67 90.96a1.35 1.35 0 1 0 2.7 0a1.35 1.35 0 1 0 -2.7 0M372.17 91.05a1.35 1.35 0 1 0 2.7 0a1.35 1.35 0 1 0 -2.7 0M372.67 91.15a1.35 1.35 0 1 0 2.7 0a1.35 1.35 0 1 0 -2.7 0M373.16 91.23a1.35 1.35 0 1 0 2.7 0a1.35 1.35 0 1 0 -2.7 0M373.66 91.32a1.35 1.35 0 1 0 2.7 0a1.35 1.35 0 1 0 -2.7 0M374.16 91.4a1.35 1.35 0 1 0 2.7 0a1.35 1.35 0 1 0 -2.7 0M374.66 91.47a1.35 1.35 0 1 0 2.7 0a1.35 1.35 0 1 0 -2.7 0M375.16 91.55a1.35 1.35 0 1 0 2.7 0a1.35 1.35 0 1 0 -2.7 0M375.66 91.62a1.35 1.35 0 1 0 2.7 0a1.35 1.35 0 1 0 -2.7 0M376.16 91.69a1.35 1.35 0 1 0 2.7 0a1.35 1.35 0 1 0 -2.7 0M376.66 91.75a1.35 1.35 0 1 0 2.7 0a1.35 1.35 0 1 0 -2.7 0M377.16 91.81a1.35 1.35 0 1 0 2.7 0a1.35 1.35 0 1 0 -2.7 0M377.65 91.87a1.35 1.35 0 1 0 2.7 0a1.35 1.35 0 1 0 -2.7 0M378.15 91.93a1.35 1.35 0 1 0 2.7 0a1.35 1.35 0 1 0 -2.7 0M378.65 91.99a1.35 1.35 0 1 0 2.7 0a1.35 1.35 0 1 0 -2.7 0M379.15 92.04a1.35 1.35 0 1 0 2.7 0a1.35 1.35 0 1 0 -2.7 0M379.65 92.09a1.35 1.35 0 1 0 2.7 0a1.35 1.35 0 1 0 -2.7 0M380.15 92.14a1.35 1.35 0 1 0 2.7 0a1.35 1.35 0 1 0 -2.7 0M380.65 92.19a1.35 1.35 0 1 0 2.7 0a1.35 1.35 0 1 0 -2.7 0M381.15 92.23a1.35 1.35 0 1 0 2.7 0a1.35 1.35 0 1 0 -2.7 0M381.64 92.28a1.35 1.35 0 1 0 2.7 0a1.35 1.35 0 1 0 -2.7 0M382.14 92.32a1.35 1.35 0 1 0 2.7 0a1.35 1.35 0 1 0 -2.7 0M382.64 92.36a1.35 1.35 0 1 0 2.7 0a1.35 1.35 0 1 0 -2.7 0M383.14 92.4a1.35 1.35 0 1 0 2.7 0a1.35 1.35 0 1 0 -2.7 0M383.64 92.44a1.35 1.35 0 1 0 2.7 0a1.35 1.35 0 1 0 -2.7 0M384.14 92.48a1.35 1.35 0 1 0 2.7 0a1.35 1.35 0 1 0 -2.7 0M384.64 92.52a1.35 1.35 0 1 0 2.7 0a1.35 1.35 0 1 0 -2.7 0M385.14 92.55a1.35 1.35 0 1 0 2.7 0a1.35 1.35 0 1 0 -2.7 0M385.63 92.59a1.35 1.35 0 1 0 2.7 0a1.35 1.35 0 1 0 -2.7 0M386.13 92.62a1.35 1.35 0 1 0 2.7 0a1.35 1.35 0 1 0 -2.7 0M386.63 92.65a1.35 1.35 0 1 0 2.7 0a1.35 1.35 0 1 0 -2.7 0M387.13 92.69a1.35 1.35 0 1 0 2.7 0a1.35 1.35 0 1 0 -2.7 0M387.63 92.72a1.35 1.35 0 1 0 2.7 0a1.35 1.35 0 1 0 -2.7 0M388.13 92.75a1.35 1.35 0 1 0 2.7 0a1.35 1.35 0 1 0 -2.7 0M388.63 92.78a1.35 1.35 0 1 0 2.7 0a1.35 1.35 0 1 0 -2.7 0M389.13 92.8a1.35 1.35 0 1 0 2.7 0a1.35 1.35 0 1 0 -2.7 0M389.62 92.83a1.35 1.35 0 1 0 2.7 0a1.35 1.35 0 1 0 -2.7 0M390.12 92.86a1.35 1.35 0 1 0 2.7 0a1.35 1.35 0 1 0 -2.7 0M390.62 92.88a1.35 1.35 0 1 0 2.7 0a1.35 1.35 0 1 0 -2.7 0M391.12 92.91a1.35 1.35 0 1 0 2.7 0a1.35 1.35 0 1 0 -2.7 0M391.62 92.93a1.35 1.35 0 1 0 2.7 0a1.35 1.35 0 1 0 -2.7 0M392.12 92.96a1.35 1.35 0 1 0 2.7 0a1.35 1.35 0 1 0 -2.7 0M392.62 92.98a1.35 1.35 0 1 0 2.7 0a1.35 1.35 0 1 0 -2.7 0M393.12 93a1.35 1.35 0 1 0 2.7 0a1.35 1.35 0 1 0 -2.7 0M393.62 93.03a1.35 1.35 0 1 0 2.7 0a1.35 1.35 0 1 0 -2.7 0M394.11 93.05a1.35 1.35 0 1 0 2.7 0a1.35 1.35 0 1 0 -2.7 0M394.61 93.07a1.35 1.35 0 1 0 2.7 0a1.35 1.35 0 1 0 -2.7 0M395.11 93.09a1.35 1.35 0 1 0 2.7 0a1.35 1.35 0 1 0 -2.7 0M395.61 93.11a1.35 1.35 0 1 0 2.7 0a1.35 1.35 0 1 0 -2.7 0M396.11 93.13a1.35 1.35 0 1 0 2.7 0a1.35 1.35 0 1 0 -2.7 0M396.61 93.15a1.35 1.35 0 1 0 2.7 0a1.35 1.35 0 1 0 -2.7 0M397.11 93.17a1.35 1.35 0 1 0 2.7 0a1.35 1.35 0 1 0 -2.7 0M397.61 93.19a1.35 1.35 0 1 0 2.7 0a1.35 1.35 0 1 0 -2.7 0M398.1 93.21a1.35 1.35 0 1 0 2.7 0a1.35 1.35 0 1 0 -2.7 0M398.6 93.22a1.35 1.35 0 1 0 2.7 0a1.35 1.35 0 1 0 -2.7 0M399.1 93.24a1.35 1.35 0 1 0 2.7 0a1.35 1.35 0 1 0 -2.7 0M399.6 93.26a1.35 1.35 0 1 0 2.7 0a1.35 1.35 0 1 0 -2.7 0M400.1 93.27a1.35 1.35 0 1 0 2.7 0a1.35 1.35 0 1 0 -2.7 0M400.6 93.29a1.35 1.35 0 1 0 2.7 0a1.35 1.35 0 1 0 -2.7 0M401.1 93.31a1.35 1.35 0 1 0 2.7 0a1.35 1.35 0 1 0 -2.7 0M401.6 93.32a1.35 1.35 0 1 0 2.7 0a1.35 1.35 0 1 0 -2.7 0M402.09 93.34a1.35 1.35 0 1 0 2.7 0a1.35 1.35 0 1 0 -2.7 0M402.59 93.35a1.35 1.35 0 1 0 2.7 0a1.35 1.35 0 1 0 -2.7 0M403.09 93.37a1.35 1.35 0 1 0 2.7 0a1.35 1.35 0 1 0 -2.7 0M403.59 93.38a1.35 1.35 0 1 0 2.7 0a1.35 1.35 0 1 0 -2.7 0M404.09 93.39a1.35 1.35 0 1 0 2.7 0a1.35 1.35 0 1 0 -2.7 0M404.59 93.41a1.35 1.35 0 1 0 2.7 0a1.35 1.35 0 1 0 -2.7 0M405.09 93.42a1.35 1.35 0 1 0 2.7 0a1.35 1.35 0 1 0 -2.7 0M405.59 93.43a1.35 1.35 0 1 0 2.7 0a1.35 1.35 0 1 0 -2.7 0M406.08 93.45a1.35 1.35 0 1 0 2.7 0a1.35 1.35 0 1 0 -2.7 0M406.58 93.46a1.35 1.35 0 1 0 2.7 0a1.35 1.35 0 1 0 -2.7 0M407.08 93.47a1.35 1.35 0 1 0 2.7 0a1.35 1.35 0 1 0 -2.7 0M407.58 93.48a1.35 1.35 0 1 0 2.7 0a1.35 1.35 0 1 0 -2.7 0M408.08 93.5a1.35 1.35 0 1 0 2.7 0a1.35 1.35 0 1 0 -2.7 0M408.58 93.51a1.35 1.35 0 1 0 2.7 0a1.35 1.35 0 1 0 -2.7 0M409.08 93.52a1.35 1.35 0 1 0 2.7 0a1.35 1.35 0 1 0 -2.7 0M409.58 93.53a1.35 1.35 0 1 0 2.7 0a1.35 1.35 0 1 0 -2.7 0M410.08 93.54a1.35 1.35 0 1 0 2.7 0a1.35 1.35 0 1 0 -2.7 0M410.57 93.55a1.35 1.35 0 1 0 2.7 0a1.35 1.35 0 1 0 -2.7 0M411.07 93.56a1.35 1.35 0 1 0 2.7 0a1.35 1.35 0 1 0 -2.7 0M411.57 93.58a1.35 1.35 0 1 0 2.7 0a1.35 1.35 0 1 0 -2.7 0M412.07 93.59a1.35 1.35 0 1 0 2.7 0a1.35 1.35 0 1 0 -2.7 0M412.57 93.6a1.35 1.35 0 1 0 2.7 0a1.35 1.35 0 1 0 -2.7 0M413.07 93.61a1.35 1.35 0 1 0 2.7 0a1.35 1.35 0 1 0 -2.7 0M413.57 93.62a1.35 1.35 0 1 0 2.7 0a1.35 1.35 0 1 0 -2.7 0M414.07 93.63a1.35 1.35 0 1 0 2.7 0a1.35 1.35 0 1 0 -2.7 0M414.56 93.64a1.35 1.35 0 1 0 2.7 0a1.35 1.35 0 1 0 -2.7 0M415.06 93.64a1.35 1.35 0 1 0 2.7 0a1.35 1.35 0 1 0 -2.7 0M415.56 93.65a1.35 1.35 0 1 0 2.7 0a1.35 1.35 0 1 0 -2.7 0M416.06 93.66a1.35 1.35 0 1 0 2.7 0a1.35 1.35 0 1 0 -2.7 0M416.56 93.67a1.35 1.35 0 1 0 2.7 0a1.35 1.35 0 1 0 -2.7 0M417.06 93.68a1.35 1.35 0 1 0 2.7 0a1.35 1.35 0 1 0 -2.7 0M417.56 93.69a1.35 1.35 0 1 0 2.7 0a1.35 1.35 0 1 0 -2.7 0M418.06 93.7a1.35 1.35 0 1 0 2.7 0a1.35 1.35 0 1 0 -2.7 0M418.55 93.71a1.35 1.35 0 1 0 2.7 0a1.35 1.35 0 1 0 -2.7 0M419.05 93.71a1.35 1.35 0 1 0 2.7 0a1.35 1.35 0 1 0 -2.7 0M419.55 93.72a1.35 1.35 0 1 0 2.7 0a1.35 1.35 0 1 0 -2.7 0M420.05 93.73a1.35 1.35 0 1 0 2.7 0a1.35 1.35 0 1 0 -2.7 0M420.55 93.74a1.35 1.35 0 1 0 2.7 0a1.35 1.35 0 1 0 -2.7 0M421.05 93.75a1.35 1.35 0 1 0 2.7 0a1.35 1.35 0 1 0 -2.7 0M421.55 93.75a1.35 1.35 0 1 0 2.7 0a1.35 1.35 0 1 0 -2.7 0M422.05 93.76a1.35 1.35 0 1 0 2.7 0a1.35 1.35 0 1 0 -2.7 0M422.55 93.77a1.35 1.35 0 1 0 2.7 0a1.35 1.35 0 1 0 -2.7 0M423.04 93.78a1.35 1.35 0 1 0 2.7 0a1.35 1.35 0 1 0 -2.7 0M423.54 93.78a1.35 1.35 0 1 0 2.7 0a1.35 1.35 0 1 0 -2.7 0M424.04 93.79a1.35 1.35 0 1 0 2.7 0a1.35 1.35 0 1 0 -2.7 0M424.54 93.8a1.35 1.35 0 1 0 2.7 0a1.35 1.35 0 1 0 -2.7 0M425.04 93.8a1.35 1.35 0 1 0 2.7 0a1.35 1.35 0 1 0 -2.7 0M425.54 93.81a1.35 1.35 0 1 0 2.7 0a1.35 1.35 0 1 0 -2.7 0M426.04 93.82a1.35 1.35 0 1 0 2.7 0a1.35 1.35 0 1 0 -2.7 0M426.54 93.82a1.35 1.35 0 1 0 2.7 0a1.35 1.35 0 1 0 -2.7 0M427.03 93.83a1.35 1.35 0 1 0 2.7 0a1.35 1.35 0 1 0 -2.7 0M427.53 93.84a1.35 1.35 0 1 0 2.7 0a1.35 1.35 0 1 0 -2.7 0M428.03 93.84a1.35 1.35 0 1 0 2.7 0a1.35 1.35 0 1 0 -2.7 0M428.53 93.85a1.35 1.35 0 1 0 2.7 0a1.35 1.35 0 1 0 -2.7 0M429.03 93.86a1.35 1.35 0 1 0 2.7 0a1.35 1.35 0 1 0 -2.7 0M429.53 93.86a1.35 1.35 0 1 0 2.7 0a1.35 1.35 0 1 0 -2.7 0M430.03 93.87a1.35 1.35 0 1 0 2.7 0a1.35 1.35 0 1 0 -2.7 0M430.53 93.87a1.35 1.35 0 1 0 2.7 0a1.35 1.35 0 1 0 -2.7 0M431.02 93.88a1.35 1.35 0 1 0 2.7 0a1.35 1.35 0 1 0 -2.7 0M431.52 93.89a1.35 1.35 0 1 0 2.7 0a1.35 1.35 0 1 0 -2.7 0M432.02 93.89a1.35 1.35 0 1 0 2.7 0a1.35 1.35 0 1 0 -2.7 0M432.52 93.9a1.35 1.35 0 1 0 2.7 0a1.35 1.35 0 1 0 -2.7 0M433.02 93.9a1.35 1.35 0 1 0 2.7 0a1.35 1.35 0 1 0 -2.7 0M433.52 93.91a1.35 1.35 0 1 0 2.7 0a1.35 1.35 0 1 0 -2.7 0M434.02 93.91a1.35 1.35 0 1 0 2.7 0a1.35 1.35 0 1 0 -2.7 0M434.52 93.92a1.35 1.35 0 1 0 2.7 0a1.35 1.35 0 1 0 -2.7 0M435.01 93.92a1.35 1.35 0 1 0 2.7 0a1.35 1.35 0 1 0 -2.7 0M435.51 93.93a1.35 1.35 0 1 0 2.7 0a1.35 1.35 0 1 0 -2.7 0M436.01 93.93a1.35 1.35 0 1 0 2.7 0a1.35 1.35 0 1 0 -2.7 0M436.51 93.94a1.35 1.35 0 1 0 2.7 0a1.35 1.35 0 1 0 -2.7 0M437.01 93.94a1.35 1.35 0 1 0 2.7 0a1.35 1.35 0 1 0 -2.7 0M437.51 93.95a1.35 1.35 0 1 0 2.7 0a1.35 1.35 0 1 0 -2.7 0M438.01 93.95a1.35 1.35 0 1 0 2.7 0a1.35 1.35 0 1 0 -2.7 0M438.51 93.96a1.35 1.35 0 1 0 2.7 0a1.35 1.35 0 1 0 -2.7 0M439.01 93.96a1.35 1.35 0 1 0 2.7 0a1.35 1.35 0 1 0 -2.7 0M439.5 93.97a1.35 1.35 0 1 0 2.7 0a1.35 1.35 0 1 0 -2.7 0M440 93.97a1.35 1.35 0 1 0 2.7 0a1.35 1.35 0 1 0 -2.7 0M440.5 93.98a1.35 1.35 0 1 0 2.7 0a1.35 1.35 0 1 0 -2.7 0M441 93.98a1.35 1.35 0 1 0 2.7 0a1.35 1.35 0 1 0 -2.7 0M441.5 93.99a1.35 1.35 0 1 0 2.7 0a1.35 1.35 0 1 0 -2.7 0M442 93.99a1.35 1.35 0 1 0 2.7 0a1.35 1.35 0 1 0 -2.7 0M442.5 94a1.35 1.35 0 1 0 2.7 0a1.35 1.35 0 1 0 -2.7 0" fill="#fff" stroke="#0a0ad0" stroke-width="0.6"/>
<path d="M484.5 94.39 511.28 94.23 530.28 94.02 543.89 93.71 553.62 93.27 557.36 93 560.65 92.66 563.34 92.27 565.73 91.78 567.68 91.24 569.32 90.59 570.82 89.78 572.02 88.88 573.06 87.79 573.96 86.5 574.71 85.03 575.46 82.95 576.06 80.57 576.5 78.1 576.95 74.66 577.25 71.54 577.7 64.68 578.15 52.82 578.45 38.93 578.79 10.9 579.05 33.1 579.35 49.36 579.8 62.84 580.09 68.29 580.39 72.23 580.69 75.2 581.14 78.47 581.59 80.85 582.19 83.14 582.79 84.81 583.54 86.35 584.43 87.68 585.48 88.8 586.68 89.73 588.17 90.55 589.82 91.21 591.76 91.76 594.01 92.23 596.7 92.63 599.84 92.96 603.58 93.25 613.16 93.69 626.47 94 645.17 94.22 671.5 94.38" fill="none" stroke="#33e033" stroke-width="1.6" stroke-linejoin="round" stroke-linecap="round"/>
<path d="M483.16 94.27a1.35 1.35 0 1 0 2.7 0a1.35 1.35 0 1 0 -2.7 0M483.47 94.26a1.35 1.35 0 1 0 2.7 0a1.35 1.35 0 1 0 -2.7 0M483.79 94.26a1.35 1.35 0 1 0 2.7 0a1.35 1.35 0 1 0 -2.7 0M484.1 94.26a1.35 1.35 0 1 0 2.7 0a1.35 1.35 0 1 0 -2.7 0M484.41 94.26a1.35 1.35 0 1 0 2.7 0a1.35 1.35 0 1 0 -2.7 0M484.73 94.25a1.35 1.35 0 1 0 2.7 0a1.35 1.35 0 1 0 -2.7 0M485.04 94.25a1.35 1.35 0 1 0 2.7 0a1.35 1.35 0 1 0 -2.7 0M485.36 94.25a1.35 1.35 0 1 0 2.7 0a1.35 1.35 0 1 0 -2.7 0M485.67 94.25a1.35 1.35 0 1 0 2.7 0a1.35 1.35 0 1 0 -2.7 0M485.99 94.25a1.35 1.35 0 1 0 2.7 0a1.35 1.35 0 1 0 -2.7 0M486.3 94.24a1.35 1.35 0 1 0 2.7 0a1.35 1.35 0 1 0 -2.7 0M486.61 94.24a1.35 1.35 0 1 0 2.7 0a1.35 1.35 0 1 0 -2.7 0M486.93 94.24a1.35 1.35 0 1 0 2.7 0a1.35 1.35 0 1 0 -2.7 0M487.24 94.24a1.35 1.35 0 1 0 2.7 0a1.35 1.35 0 1 0 -2.7 0M487.56 94.23a1.35 1.35 0 1 0 2.7 0a1.35 1.35 0 1 0 -2.7 0M487.87 94.23a1.35 1.35 0 1 0 2.7 0a1.35 1.35 0 1 0 -2.7 0M488.19 94.23a1.35 1.35 0 1 0 2.7 0a1.35 1.35 0 1 0 -2.7 0M488.5 94.23a1.35 1.35 0 1 0 2.7 0a1.35 1.35 0 1 0 -2.7 0M488.81 94.22a1.35 1.35 0 1 0 2.7 0a1.35 1.35 0 1 0 -2.7 0M489.13 94.22a1.35 1.35 0 1 0 2.7 0a1.35 1.35 0 1 0 -2.7 0M489.44 94.22a1.35 1.35 0 1 0 2.7 0a1.35 1.35 0 1 0 -2.7 0M489.76 94.22a1.35 1.35 0 1 0 2.7 0a1.35 1.35 0 1 0 -2.7 0M490.07 94.21a1.35 1.35 0 1 0 2.7 0a1.35 1.35 0 1 0 -2.7 0M490.39 94.21a1.35 1.35 0 1 0 2.7 0a1.35 1.35 0 1 0 -2.7 0M490.7 94.21a1.35 1.35 0 1 0 2.7 0a1.35 1.35 0 1 0 -2.7 0M491.01 94.21a1.35 1.35 0 1 0 2.7 0a1.35 1.35 0 1 0 -2.7 0M491.33 94.2a1.35 1.35 0 1 0 2.7 0a1.35 1.35 0 1 0 -2.7 0M491.64 94.2a1.35 1.35 0 1 0 2.7 0a1.35 1.35 0 1 0 -2.7 0M491.96 94.2a1.35 1.35 0 1 0 2.7 0a1.35 1.35 0 1 0 -2.7 0M492.27 94.2a1.35 1.35 0 1 0 2.7 0a1.35 1.35 0 1 0 -2.7 0M492.59 94.19a1.35 1.35 0 1 0 2.7 0a1.35 1.35 0 1 0 -2.7 0M492.9 94.19a1.35 1.35 0 1 0 2.7 0a1.35 1.35 0 1 0 -2.7 0M493.21 94.19a1.35 1.35 0 1 0 2.7 0a1.35 1.35 0 1 0 -2.7 0M493.53 94.19a1.35 1.35 0 1 0 2.7 0a1.35 1.35 0 1 0 -2.7 0M493.84 94.18a1.35 1.35 0 1 0 2.7 0a1.35 1.35 0 1 0 -2.7 0M494.16 94.18a1.35 1.35 0 1 0 2.7 0a1.35 1.35 0 1 0 -2.7 0M494.47 94.18a1.35 1.35 0 1 0 2.7 0a1.35 1.35 0 1 0 -2.7 0M494.79 94.17a1.35 1.35 0 1 0 2.7 0a1.35 1.35 0 1 0 -2.7 0M495.1 94.17a1.35 1.35 0 1 0 2.7 0a1.35 1.35 0 1 0 -2.7 0M495.41 94.17a1.35 1.35 0 1 0 2.7 0a1.35 1.35 0 1 0 -2.7 0M495.73 94.17a1.35 1.35 0 1 0 2.7 0a1.35 1.35 0 1 0 -2.7 0M496.04 94.16a1.35 1.35 0 1 0 2.7 0a1.35 1.35 0 1 0 -2.7 0M496.36 94.16a1.35 1.35 0 1 0 2.7 0a1.35 1.35 0 1 0 -2.7 0M496.67 94.16a1.35 1.35 0 1 0 2.7 0a1.35 1.35 0 1 0 -2.7 0M496.99 94.15a1.35 1.35 0 1 0 2.7 0a1.35 1.35 0 1 0 -2.7 0M497.3 94.15a1.35 1.35 0 1 0 2.7 0a1.35 1.35 0 1 0 -2.7 0M497.61 94.15a1.35 1.35 0 1 0 2.7 0a1.35 1.35 0 1 0 -2.7 0M497.93 94.15a1.35 1.35 0 1 0 2.7 0a1.35 1.35 0 1 0 -2.7 0M498.24 94.14a1.35 1.35 0 1 0 2.7 0a1.35 1.35 0 1 0 -2.7 0M498.56 94.14a1.35 1.35 0 1 0 2.7 0a1.35 1.35 0 1 0 -2.7 0M498.87 94.14a1.35 1.35 0 1 0 2.7 0a1.35 1.35 0 1 0 -2.7 0M499.19 94.13a1.35 1.35 0 1 0 2.7 0a1.35 1.35 0 1 0 -2.7 0M499.5 94.13a1.35 1.35 0 1 0 2.7 0a1.35 1.35 0 1 0 -2.7 0M499.81 94.13a1.35 1.35 0 1 0 2.7 0a1.35 1.35 0 1 0 -2.7 0M500.13 94.12a1.35 1.35 0 1 0 2.7 0a1.35 1.35 0 1 0 -2.7 0M500.44 94.12a1.35 1.35 0 1 0 2.7 0a1.35 1.35 0 1 0 -2.7 0M500.76 94.12a1.35 1.35 0 1 0 2.7 0a1.35 1.35 0 1 0 -2.7 0M501.07 94.11a1.35 1.35 0 1 0 2.7 0a1.35 1.35 0 1 0 -2.7 0M501.39 94.11a1.35 1.35 0 1 0 2.7 0a1.35 1.35 0 1 0 -2.7 0M501.7 94.11a1.35 1.35 0 1 0 2.7 0a1.35 1.35 0 1 0 -2.7 0M502.01 94.1a1.35 1.35 0 1 0 2.7 0a1.35 1.35 0 1 0 -2.7 0M502.33 94.1a1.35 1.35 0 1 0 2.7 0a1.35 1.35 0 1 0 -2.7 0M502.64 94.1a1.35 1.35 0 1 0 2.7 0a1.35 1.35 0 1 0 -2.7 0M502.96 94.09a1.35 1.35 0 1 0 2.7 0a1.35 1.35 0 1 0 -2.7 0M503.27 94.09a1.35 1.35 0 1 0 2.7 0a1.35 1.35 0 1 0 -2.7 0M503.59 94.09a1.35 1.35 0 1 0 2.7 0a1.35 1.35 0 1 0 -2.7 0M503.9 94.08a1.35 1.35 0 1 0 2.7 0a1.35 1.35 0 1 0 -2.7 0M504.21 94.08a1.35 1.35 0 1 0 2.7 0a1.35 1.35 0 1 0 -2.7 0M504.53 94.08a1.35 1.35 0 1 0 2.7 0a1.35 1.35 0 1 0 -2.7 0M504.84 94.07a1.35 1.35 0 1 0 2.7 0a1.35 1.35 0 1 0 -2.7 0M505.16 94.07a1.35 1.35 0 1 0 2.7 0a1.35 1.35 0 1 0 -2.7 0M505.47 94.07a1.35 1.35 0 1 0 2.7 0a1.35 1.35 0 1 0 -2.7 0M505.79 94.06a1.35 1.35 0 1 0 2.7 0a1.35 1.35 0 1 0 -2.7 0M506.1 94.06a1.35 1.35 0 1 0 2.7 0a1.35 1.35 0 1 0 -2.7 0M506.41 94.05a1.35 1.35 0 1 0 2.7 0a1.35 1.35 0 1 0 -2.7 0M506.73 94.05a1.35 1.35 0 1 0 2.7 0a1.35 1.35 0 1 0 -2.7 0M507.04 94.05a1.35 1.35 0 1 0 2.7 0a1.35 1.35 0 1 0 -2.7 0M507.36 94.04a1.35 1.35 0 1 0 2.7 0a1.35 1.35 0 1 0 -2.7 0M507.67 94.04a1.35 1.35 0 1 0 2.7 0a1.35 1.35 0 1 0 -2.7 0M507.99 94.03a1.35 1.35 0 1 0 2.7 0a1.35 1.35 0 1 0 -2.7 0M508.3 94.03a1.35 1.35 0 1 0 2.7 0a1.35 1.35 0 1 0 -2.7 0M508.61 94.03a1.35 1.35 0 1 0 2.7 0a1.35 1.35 0 1 0 -2.7 0M508.93 94.02a1.35 1.35 0 1 0 2.7 0a1.35 1.35 0 1 0 -2.7 0M509.24 94.02a1.35 1.35 0 1 0 2.7 0a1.35 1.35 0 1 0 -2.7 0M509.56 94.01a1.35 1.35 0 1 0 2.7 0a1.35 1.35 0 1 0 -2.7 0M509.87 94.01a1.35 1.35 0 1 0 2.7 0a1.35 1.35 0 1 0 -2.7 0M510.19 94.01a1.35 1.35 0 1 0 2.7 0a1.35 1.35 0 1 0 -2.7 0M510.5 94a1.35 1.35 0 1 0 2.7 0a1.35 1.35 0 1 0 -2.7 0M510.81 94a1.35 1.35 0 1 0 2.7 0a1.35 1.35 0 1 0 -2.7 0M511.13 93.99a1.35 1.35 0 1 0 2.7 0a1.35 1.35 0 1 0 -2.7 0M511.44 93.99a1.35 1.35 0 1 0 2.7 0a1.35 1.35 0 1 0 -2.7 0M511.76 93.98a1.35 1.35 0 1 0 2.7 0a1.35 1.35 0 1 0 -2.7 0M512.07 93.98a1.35 1.35 0 1 0 2.7 0a1.35 1.35 0 1 0 -2.7 0M512.39 93.98a1.35 1.35 0 1 0 2.7 0a1.35 1.35 0 1 0 -2.7 0M512.7 93.97a1.35 1.35 0 1 0 2.7 0a1.35 1.35 0 1 0 -2.7 0M513.01 93.97a1.35 1.35 0 1 0 2.7 0a1.35 1.35 0 1 0 -2.7 0M513.33 93.96a1.35 1.35 0 1 0 2.7 0a1.35 1.35 0 1 0 -2.7 0M513.64 93.96a1.35 1.35 0 1 0 2.7 0a1.35 1.35 0 1 0 -2.7 0M513.96 93.95a1.35 1.35 0 1 0 2.7 0a1.35 1.35 0 1 0 -2.7 0M514.27 93.95a1.35 1.35 0 1 0 2.7 0a1.35 1.35 0 1 0 -2.7 0M514.59 93.94a1.35 1.35 0 1 0 2.7 0a1.35 1.35 0 1 0 -2.7 0M514.9 93.94a1.35 1.35 0 1 0 2.7 0a1.35 1.35 0 1 0 -2.7 0M515.21 93.93a1.35 1.35 0 1 0 2.7 0a1.35 1.35 0 1 0 -2.7 0M515.53 93.93a1.35 1.35 0 1 0 2.7 0a1.35 1.35 0 1 0 -2.7 0M515.84 93.92a1.35 1.35 0 1 0 2.7 0a1.35 1.35 0 1 0 -2.7 0M516.16 93.92a1.35 1.35 0 1 0 2.7 0a1.35 1.35 0 1 0 -2.7 0M516.47 93.91a1.35 1.35 0 1 0 2.7 0a1.35 1.35 0 1 0 -2.7 0M516.79 93.91a1.35 1.35 0 1 0 2.7 0a1.35 1.35 0 1 0 -2.7 0M517.1 93.9a1.35 1.35 0 1 0 2.7 0a1.35 1.35 0 1 0 -2.7 0M517.41 93.9a1.35 1.35 0 1 0 2.7 0a1.35 1.35 0 1 0 -2.7 0M517.73 93.89a1.35 1.35 0 1 0 2.7 0a1.35 1.35 0 1 0 -2.7 0M518.04 93.89a1.35 1.35 0 1 0 2.7 0a1.35 1.35 0 1 0 -2.7 0M518.36 93.88a1.35 1.35 0 1 0 2.7 0a1.35 1.35 0 1 0 -2.7 0M518.67 93.87a1.35 1.35 0 1 0 2.7 0a1.35 1.35 0 1 0 -2.7 0M518.99 93.87a1.35 1.35 0 1 0 2.7 0a1.35 1.35 0 1 0 -2.7 0M519.3 93.86a1.35 1.35 0 1 0 2.7 0a1.35 1.35 0 1 0 -2.7 0M519.61 93.86a1.35 1.35 0 1 0 2.7 0a1.35 1.35 0 1 0 -2.7 0M519.93 93.85a1.35 1.35 0 1 0 2.7 0a1.35 1.35 0 1 0 -2.7 0M520.24 93.85a1.35 1.35 0 1 0 2.7 0a1.35 1.35 0 1 0 -2.7 0M520.56 93.84a1.35 1.35 0 1 0 2.7 0a1.35 1.35 0 1 0 -2.7 0M520.87 93.83a1.35 1.35 0 1 0 2.7 0a1.35 1.35 0 1 0 -2.7 0M521.19 93.83a1.35 1.35 0 1 0 2.7 0a1.35 1.35 0 1 0 -2.7 0M521.5 93.82a1.35 1.35 0 1 0 2.7 0a1.35 1.35 0 1 0 -2.7 0M521.81 93.82a1.35 1.35 0 1 0 2.7 0a1.35 1.35 0 1 0 -2.7 0M522.13 93.81a1.35 1.35 0 1 0 2.7 0a1.35 1.35 0 1 0 -2.7 0M522.44 93.8a1.35 1.35 0 1 0 2.7 0a1.35 1.35 0 1 0 -2.7 0M522.76 93.8a1.35 1.35 0 1 0 2.7 0a1.35 1.35 0 1 0 -2.7 0M523.07 93.79a1.35 1.35 0 1 0 2.7 0a1.35 1.35 0 1 0 -2.7 0M523.39 93.78a1.35 1.35 0 1 0 2.7 0a1.35 1.35 0 1 0 -2.7 0M523.7 93.78a1.35 1.35 0 1 0 2.7 0a1.35 1.35 0 1 0 -2.7 0M524.01 93.77a1.35 1.35 0 1 0 2.7 0a1.35 1.35 0 1 0 -2.7 0M524.33 93.76a1.35 1.35 0 1 0 2.7 0a1.35 1.35 0 1 0 -2.7 0M524.64 93.76a1.35 1.35 0 1 0 2.7 0a1.35 1.35 0 1 0 -2.7 0M524.96 93.75a1.35 1.35 0 1 0 2.7 0a1.35 1.35 0 1 0 -2.7 0M525.27 93.74a1.35 1.35 0 1 0 2.7 0a1.35 1.35 0 1 0 -2.7 0M525.59 93.74a1.35 1.35 0 1 0 2.7 0a1.35 1.35 0 1 0 -2.7 0M525.9 93.73a1.35 1.35 0 1 0 2.7 0a1.35 1.35 0 1 0 -2.7 0M526.21 93.72a1.35 1.35 0 1 0 2.7 0a1.35 1.35 0 1 0 -2.7 0M526.53 93.71a1.35 1.35 0 1 0 2.7 0a1.35 1.35 0 1 0 -2.7 0M526.84 93.71a1.35 1.35 0 1 0 2.7 0a1.35 1.35 0 1 0 -2.7 0M527.16 93.7a1.35 1.35 0 1 0 2.7 0a1.35 1.35 0 1 0 -2.7 0M527.47 93.69a1.35 1.35 0 1 0 2.7 0a1.35 1.35 0 1 0 -2.7 0M527.79 93.68a1.35 1.35 0 1 0 2.7 0a1.35 1.35 0 1 0 -2.7 0M528.1 93.68a1.35 1.35 0 1 0 2.7 0a1.35 1.35 0 1 0 -2.7 0M528.41 93.67a1.35 1.35 0 1 0 2.7 0a1.35 1.35 0 1 0 -2.7 0M528.73 93.66a1.35 1.35 0 1 0 2.7 0a1.35 1.35 0 1 0 -2.7 0M529.04 93.65a1.35 1.35 0 1 0 2.7 0a1.35 1.35 0 1 0 -2.7 0M529.36 93.64a1.35 1.35 0 1 0 2.7 0a1.35 1.35 0 1 0 -2.7 0M529.67 93.63a1.35 1.35 0 1 0 2.7 0a1.35 1.35 0 1 0 -2.7 0M529.99 93.63a1.35 1.35 0 1 0 2.7 0a1.35 1.35 0 1 0 -2.7 0M530.3 93.62a1.35 1.35 0 1 0 2.7 0a1.35 1.35 0 1 0 -2.7 0M530.61 93.61a1.35 1.35 0 1 0 2.7 0a1.35 1.35 0 1 0 -2.7 0M530.93 93.6a1.35 1.35 0 1 0 2.7 0a1.35 1.35 0 1 0 -2.7 0M531.24 93.59a1.35 1.35 0 1 0 2.7 0a1.35 1.35 0 1 0 -2.7 0M531.56 93.58a1.35 1.35 0 1 0 2.7 0a1.35 1.35 0 1 0 -2.7 0M531.87 93.57a1.35 1.35 0 1 0 2.7 0a1.35 1.35 0 1 0 -2.7 0M532.19 93.56a1.35 1.35 0 1 0 2.7 0a1.35 1.35 0 1 0 -2.7 0M532.5 93.55a1.35 1.35 0 1 0 2.7 0a1.35 1.35 0 1 0 -2.7 0M532.81 93.54a1.35 1.35 0 1 0 2.7 0a1.35 1.35 0 1 0 -2.7 0M533.13 93.53a1.35 1.35 0 1 0 2.7 0a1.35 1.35 0 1 0 -2.7 0M533.44 93.52a1.35 1.35 0 1 0 2.7 0a1.35 1.35 0 1 0 -2.7 0M533.76 93.51a1.35 1.35 0 1 0 2.7 0a1.35 1.35 0 1 0 -2.7 0M534.07 93.5a1.35 1.35 0 1 0 2.7 0a1.35 1.35 0 1 0 -2.7 0M534.39 93.49a1.35 1.35 0 1 0 2.7 0a1.35 1.35 0 1 0 -2.7 0M534.7 93.48a1.35 1.35 0 1 0 2.7 0a1.35 1.35 0 1 0 -2.7 0M535.01 93.47a1.35 1.35 0 1 0 2.7 0a1.35 1.35 0 1 0 -2.7 0M535.33 93.46a1.35 1.35 0 1 0 2.7 0a1.35 1.35 0 1 0 -2.7 0M535.64 93.45a1.35 1.35 0 1 0 2.7 0a1.35 1.35 0 1 0 -2.7 0M535.96 93.44a1.35 1.35 0 1 0 2.7 0a1.35 1.35 0 1 0 -2.7 0M536.27 93.43a1.35 1.35 0 1 0 2.7 0a1.35 1.35 0 1 0 -2.7 0M536.59 93.42a1.35 1.35 0 1 0 2.7 0a1.35 1.35 0 1 0 -2.7 0M536.9 93.41a1.35 1.35 0 1 0 2.7 0a1.35 1.35 0 1 0 -2.7 0M537.21 93.39a1.35 1.35 0 1 0 2.7 0a1.35 1.35 0 1 0 -2.7 0M537.53 93.38a1.35 1.35 0 1 0 2.7 0a1.35 1.35 0 1 0 -2.7 0M537.84 93.37a1.35 1.35 0 1 0 2.7 0a1.35 1.35 0 1 0 -2.7 0M538.16 93.36a1.35 1.35 0 1 0 2.7 0a1.35 1.35 0 1 0 -2.7 0M538.47 93.34a1.35 1.35 0 1 0 2.7 0a1.35 1.35 0 1 0 -2.7 0M538.79 93.33a1.35 1.35 0 1 0 2.7 0a1.35 1.35 0 1 0 -2.7 0M539.1 93.32a1.35 1.35 0 1 0 2.7 0a1.35 1.35 0 1 0 -2.7 0M539.41 93.31a1.35 1.35 0 1 0 2.7 0a1.35 1.35 0 1 0 -2.7 0M539.73 93.29a1.35 1.35 0 1 0 2.7 0a1.35 1.35 0 1 0 -2.7 0M540.04 93.28a1.35 1.35 0 1 0 2.7 0a1.35 1.35 0 1 0 -2.7 0M540.36 93.26a1.35 1.35 0 1 0 2.7 0a1.35 1.35 0 1 0 -2.7 0M540.67 93.25a1.35 1.35 0 1 0 2.7 0a1.35 1.35 0 1 0 -2.7 0M540.99 93.24a1.35 1.35 0 1 0 2.7 0a1.35 1.35 0 1 0 -2.7 0M541.3 93.22a1.35 1.35 0 1 0 2.7 0a1.35 1.35 0 1 0 -2.7 0M541.61 93.21a1.35 1.35 0 1 0 2.7 0a1.35 1.35 0 1 0 -2.7 0M541.93 93.19a1.35 1.35 0 1 0 2.7 0a1.35 1.35 0 1 0 -2.7 0M542.24 93.18a1.35 1.35 0 1 0 2.7 0a1.35 1.35 0 1 0 -2.7 0M542.56 93.16a1.35 1.35 0 1 0 2.7 0a1.35 1.35 0 1 0 -2.7 0M542.87 93.14a1.35 1.35 0 1 0 2.7 0a1.35 1.35 0 1 0 -2.7 0M543.19 93.13a1.35 1.35 0 1 0 2.7 0a1.35 1.35 0 1 0 -2.7 0M543.5 93.11a1.35 1.35 0 1 0 2.7 0a1.35 1.35 0 1 0 -2.7 0M543.81 93.09a1.35 1.35 0 1 0 2.7 0a1.35 1.35 0 1 0 -2.7 0M544.13 93.08a1.35 1.35 0 1 0 2.7 0a1.35 1.35 0 1 0 -2.7 0M544.44 93.06a1.35 1.35 0 1 0 2.7 0a1.35 1.35 0 1 0 -2.7 0M544.76 93.04a1.35 1.35 0 1 0 2.7 0a1.35 1.35 0 1 0 -2.7 0M545.07 93.02a1.35 1.35 0 1 0 2.7 0a1.35 1.35 0 1 0 -2.7 0M545.39 93a1.35 1.35 0 1 0 2.7 0a1.35 1.35 0 1 0 -2.7 0M545.7 92.99a1.35 1.35 0 1 0 2.7 0a1.35 1.35 0 1 0 -2.7 0M546.01 92.97a1.35 1.35 0 1 0 2.7 0a1.35 1.35 0 1 0 -2.7 0M546.33 92.95a1.35 1.35 0 1 0 2.7 0a1.35 1.35 0 1 0 -2.7 0M546.64 92.93a1.35 1.35 0 1 0 2.7 0a1.35 1.35 0 1 0 -2.7 0M546.96 92.91a1.35 1.35 0 1 0 2.7 0a1.35 1.35 0 1 0 -2.7 0M547.27 92.88a1.35 1.35 0 1 0 2.7 0a1.35 1.35 0 1 0 -2.7 0M547.59 92.86a1.35 1.35 0 1 0 2.7 0a1.35 1.35 0 1 0 -2.7 0M547.9 92.84a1.35 1.35 0 1 0 2.7 0a1.35 1.35 0 1 0 -2.7 0M548.21 92.82a1.35 1.35 0 1 0 2.7 0a1.35 1.35 0 1 0 -2.7 0M548.53 92.8a1.35 1.35 0 1 0 2.7 0a1.35 1.35 0 1 0 -2.7 0M548.84 92.77a1.35 1.35 0 1 0 2.7 0a1.35 1.35 0 1 0 -2.7 0M549.16 92.75a1.35 1.35 0 1 0 2.7 0a1.35 1.35 0 1 0 -2.7 0M549.47 92.72a1.35 1.35 0 1 0 2.7 0a1.35 1.35 0 1 0 -2.7 0M549.79 92.7a1.35 1.35 0 1 0 2.7 0a1.35 1.35 0 1 0 -2.7 0M550.1 92.67a1.35 1.35 0 1 0 2.7 0a1.35 1.35 0 1 0 -2.7 0M550.41 92.65a1.35 1.35 0 1 0 2.7 0a1.35 1.35 0 1 0 -2.7 0M550.73 92.62a1.35 1.35 0 1 0 2.7 0a1.35 1.35 0 1 0 -2.7 0M551.04 92.59a1.35 1.35 0 1 0 2.7 0a1.35 1.35 0 1 0 -2.7 0M551.36 92.57a1.35 1.35 0 1 0 2.7 0a1.35 1.35 0 1 0 -2.7 0M551.67 92.54a1.35 1.35 0 1 0 2.7 0a1.35 1.35 0 1 0 -2.7 0M551.99 92.51a1.35 1.35 0 1 0 2.7 0a1.35 1.35 0 1 0 -2.7 0M552.3 92.48a1.35 1.35 0 1 0 2.7 0a1.35 1.35 0 1 0 -2.7 0M552.61 92.45a1.35 1.35 0 1 0 2.7 0a1.35 1.35 0 1 0 -2.7 0M552.93 92.41a1.35 1.35 0 1 0 2.7 0a1.35 1.35 0 1 0 -2.7 0M553.24 92.38a1.35 1.35 0 1 0 2.7 0a1.35 1.35 0 1 0 -2.7 0M553.56 92.35a1.35 1.35 0 1 0 2.7 0a1.35 1.35 0 1 0 -2.7 0M553.87 92.31a1.35 1.35 0 1 0 2.7 0a1.35 1.35 0 1 0 -2.7 0M554.19 92.28a1.35 1.35 0 1 0 2.7 0a1.35 1.35 0 1 0 -2.7 0M554.5 92.24a1.35 1.35 0 1 0 2.7 0a1.35 1.35 0 1 0 -2.7 0M554.81 92.21a1.35 1.35 0 1 0 2.7 0a1.35 1.35 0 1 0 -2.7 0M555.13 92.17a1.35 1.35 0 1 0 2.7 0a1.35 1.35 0 1 0 -2.7 0M555.44 92.13a1.35 1.35 0 1 0 2.7 0a1.35 1.35 0 1 0 -2.7 0M555.76 92.09a1.35 1.35 0 1 0 2.7 0a1.35 1.35 0 1 0 -2.7 0M556.07 92.05a1.35 1.35 0 1 0 2.7 0a1.35 1.35 0 1 0 -2.7 0M556.39 92a1.35 1.35 0 1 0 2.7 0a1.35 1.35 0 1 0 -2.7 0M556.7 91.96a1.35 1.35 0 1 0 2.7 0a1.35 1.35 0 1 0 -2.7 0M557.01 91.91a1.35 1.35 0 1 0 2.7 0a1.35 1.35 0 1 0 -2.7 0M557.33 91.87a1.35 1.35 0 1 0 2.7 0a1.35 1.35 0 1 0 -2.7 0M557.64 91.82a1.35 1.35 0 1 0 2.7 0a1.35 1.35 0 1 0 -2.7 0M557.96 91.77a1.35 1.35 0 1 0 2.7 0a1.35 1.35 0 1 0 -2.7 0M558.27 91.72a1.35 1.35 0 1 0 2.7 0a1.35 1.35 0 1 0 -2.7 0M558.59 91.66a1.35 1.35 0 1 0 2.7 0a1.35 1.35 0 1 0 -2.7 0M558.9 91.61a1.35 1.35 0 1 0 2.7 0a1.35 1.35 0 1 0 -2.7 0M559.21 91.55a1.35 1.35 0 1 0 2.7 0a1.35 1.35 0 1 0 -2.7 0M559.53 91.49a1.35 1.35 0 1 0 2.7 0a1.35 1.35 0 1 0 -2.7 0M559.84 91.43a1.35 1.35 0 1 0 2.7 0a1.35 1.35 0 1 0 -2.7 0M560.16 91.37a1.35 1.35 0 1 0 2.7 0a1.35 1.35 0 1 0 -2.7 0M560.47 91.3a1.35 1.35 0 1 0 2.7 0a1.35 1.35 0 1 0 -2.7 0M560.79 91.23a1.35 1.35 0 1 0 2.7 0a1.35 1.35 0 1 0 -2.7 0M561.1 91.16a1.35 1.35 0 1 0 2.7 0a1.35 1.35 0 1 0 -2.7 0M561.41 91.09a1.35 1.35 0 1 0 2.7 0a1.35 1.35 0 1 0 -2.7 0M561.73 91.01a1.35 1.35 0 1 0 2.7 0a1.35 1.35 0 1 0 -2.7 0M562.04 90.94a1.35 1.35 0 1 0 2.7 0a1.35 1.35 0 1 0 -2.7 0M562.36 90.85a1.35 1.35 0 1 0 2.7 0a1.35 1.35 0 1 0 -2.7 0M562.67 90.77a1.35 1.35 0 1 0 2.7 0a1.35 1.35 0 1 0 -2.7 0M562.99 90.68a1.35 1.35 0 1 0 2.7 0a1.35 1.35 0 1 0 -2.7 0M563.3 90.58a1.35 1.35 0 1 0 2.7 0a1.35 1.35 0 1 0 -2.7 0M563.61 90.49a1.35 1.35 0 1 0 2.7 0a1.35 1.35 0 1 0 -2.7 0M563.93 90.38a1.35 1.35 0 1 0 2.7 0a1.35 1.35 0 1 0 -2.7 0M564.24 90.28a1.35 1.35 0 1 0 2.7 0a1.35 1.35 0 1 0 -2.7 0M564.56 90.16a1.35 1.35 0 1 0 2.7 0a1.35 1.35 0 1 0 -2.7 0M564.87 90.05a1.35 1.35 0 1 0 2.7 0a1.35 1.35 0 1 0 -2.7 0M565.19 89.92a1.35 1.35 0 1 0 2.7 0a1.35 1.35 0 1 0 -2.7 0M565.5 89.79a1.35 1.35 0 1 0 2.7 0a1.35 1.35 0 1 0 -2.7 0M565.81 89.65a1.35 1.35 0 1 0 2.7 0a1.35 1.35 0 1 0 -2.7 0M566.13 89.51a1.35 1.35 0 1 0 2.7 0a1.35 1.35 0 1 0 -2.7 0M566.44 89.36a1.35 1.35 0 1 0 2.7 0a1.35 1.35 0 1 0 -2.7 0M566.76 89.2a1.35 1.35 0 1 0 2.7 0a1.35 1.35 0 1 0 -2.7 0M567.07 89.03a1.35 1.35 0 1 0 2.7 0a1.35 1.35 0 1 0 -2.7 0M567.39 88.84a1.35 1.35 0 1 0 2.7 0a1.35 1.35 0 1 0 -2.7 0M567.7 88.65a1.35 1.35 0 1 0 2.7 0a1.35 1.35 0 1 0 -2.7 0M568.01 88.45a1.35 1.35 0 1 0 2.7 0a1.35 1.35 0 1 0 -2.7 0M568.33 88.23a1.35 1.35 0 1 0 2.7 0a1.35 1.35 0 1 0 -2.7 0M568.64 87.99a1.35 1.35 0 1 0 2.7 0a1.35 1.35 0 1 0 -2.7 0M568.96 87.74a1.35 1.35 0 1 0 2.7 0a1.35 1.35 0 1 0 -2.7 0M569.27 87.47a1.35 1.35 0 1 0 2.7 0a1.35 1.35 0 1 0 -2.7 0M569.59 87.18a1.35 1.35 0 1 0 2.7 0a1.35 1.35 0 1 0 -2.7 0M569.9 86.87a1.35 1.35 0 1 0 2.7 0a1.35 1.35 0 1 0 -2.7 0M570.21 86.53a1.35 1.35 0 1 0 2.7 0a1.35 1.35 0 1 0 -2.7 0M570.53 86.16a1.35 1.35 0 1 0 2.7 0a1.35 1.35 0 1 0 -2.7 0M570.84 85.76a1.35 1.35 0 1 0 2.7 0a1.35 1.35 0 1 0 -2.7 0M571.16 85.32a1.35 1.35 0 1 0 2.7 0a1.35 1.35 0 1 0 -2.7 0M571.47 84.84a1.35 1.35 0 1 0 2.7 0a1.35 1.35 0 1 0 -2.7 0M571.63 84.58a1.35 1.35 0 1 0 2.7 0a1.35 1.35 0 1 0 -2.7 0M571.79 84.3a1.35 1.35 0 1 0 2.7 0a1.35 1.35 0 1 0 -2.7 0M571.94 84.01a1.35 1.35 0 1 0 2.7 0a1.35 1.35 0 1 0 -2.7 0M572.1 83.71a1.35 1.35 0 1 0 2.7 0a1.35 1.35 0 1 0 -2.7 0M572.26 83.39a1.35 1.35 0 1 0 2.7 0a1.35 1.35 0 1 0 -2.7 0M572.41 83.05a1.35 1.35 0 1 0 2.7 0a1.35 1.35 0 1 0 -2.7 0M572.57 82.69a1.35 1.35 0 1 0 2.7 0a1.35 1.35 0 1 0 -2.7 0M572.73 82.3a1.35 1.35 0 1 0 2.7 0a1.35 1.35 0 1 0 -2.7 0M572.89 81.9a1.35 1.35 0 1 0 2.7 0a1.35 1.35 0 1 0 -2.7 0M573.04 81.46a1.35 1.35 0 1 0 2.7 0a1.35 1.35 0 1 0 -2.7 0M573.2 81a1.35 1.35 0 1 0 2.7 0a1.35 1.35 0 1 0 -2.7 0M573.36 80.51a1.35 1.35 0 1 0 2.7 0a1.35 1.35 0 1 0 -2.7 0M573.51 79.98a1.35 1.35 0 1 0 2.7 0a1.35 1.35 0 1 0 -2.7 0M573.67 79.41a1.35 1.35 0 1 0 2.7 0a1.35 1.35 0 1 0 -2.7 0M573.83 78.8a1.35 1.35 0 1 0 2.7 0a1.35 1.35 0 1 0 -2.7 0M573.99 78.13a1.35 1.35 0 1 0 2.7 0a1.35 1.35 0 1 0 -2.7 0M574.14 77.42a1.35 1.35 0 1 0 2.7 0a1.35 1.35 0 1 0 -2.7 0M574.3 76.64a1.35 1.35 0 1 0 2.7 0a1.35 1.35 0 1 0 -2.7 0M574.46 75.79a1.35 1.35 0 1 0 2.7 0a1.35 1.35 0 1 0 -2.7 0M574.61 74.86a1.35 1.35 0 1 0 2.7 0a1.35 1.35 0 1 0 -2.7 0M574.77 73.84a1.35 1.35 0 1 0 2.7 0a1.35 1.35 0 1 0 -2.7 0M574.93 72.72a1.35 1.35 0 1 0 2.7 0a1.35 1.35 0 1 0 -2.7 0M575.09 71.48a1.35 1.35 0 1 0 2.7 0a1.35 1.35 0 1 0 -2.7 0M575.24 70.09a1.35 1.35 0 1 0 2.7 0a1.35 1.35 0 1 0 -2.7 0M575.4 68.54a1.35 1.35 0 1 0 2.7 0a1.35 1.35 0 1 0 -2.7 0M575.56 66.8a1.35 1.35 0 1 0 2.7 0a1.35 1.35 0 1 0 -2.7 0M575.71 64.83a1.35 1.35 0 1 0 2.7 0a1.35 1.35 0 1 0 -2.7 0M575.87 62.59a1.35 1.35 0 1 0 2.7 0a1.35 1.35 0 1 0 -2.7 0M576.03 60.01a1.35 1.35 0 1 0 2.7 0a1.35 1.35 0 1 0 -2.7 0M576.19 57.03a1.35 1.35 0 1 0 2.7 0a1.35 1.35 0 1 0 -2.7 0M576.34 53.56a1.35 1.35 0 1 0 2.7 0a1.35 1.35 0 1 0 -2.7 0M576.5 49.5a1.35 1.35 0 1 0 2.7 0a1.35 1.35 0 1 0 -2.7 0M576.66 44.7a1.35 1.35 0 1 0 2.7 0a1.35 1.35 0 1 0 -2.7 0M576.81 39.03a1.35 1.35 0 1 0 2.7 0a1.35 1.35 0 1 0 -2.7 0M576.97 32.36a1.35 1.35 0 1 0 2.7 0a1.35 1.35 0 1 0 -2.7 0M577.13 24.73a1.35 1.35 0 1 0 2.7 0a1.35 1.35 0 1 0 -2.7 0M577.29 16.69a1.35 1.35 0 1 0 2.7 0a1.35 1.35 0 1 0 -2.7 0M577.44 10.9a1.35 1.35 0 1 0 2.7 0a1.35 1.35 0 1 0 -2.7 0M577.6 16.69a1.35 1.35 0 1 0 2.7 0a1.35 1.35 0 1 0 -2.7 0M577.76 24.73a1.35 1.35 0 1 0 2.7 0a1.35 1.35 0 1 0 -2.7 0M577.91 32.36a1.35 1.35 0 1 0 2.7 0a1.35 1.35 0 1 0 -2.7 0M578.07 39.03a1.35 1.35 0 1 0 2.7 0a1.35 1.35 0 1 0 -2.7 0M578.23 44.7a1.35 1.35 0 1 0 2.7 0a1.35 1.35 0 1 0 -2.7 0M578.39 49.5a1.35 1.35 0 1 0 2.7 0a1.35 1.35 0 1 0 -2.7 0M578.54 53.56a1.35 1.35 0 1 0 2.7 0a1.35 1.35 0 1 0 -2.7 0M578.7 57.03a1.35 1.35 0 1 0 2.7 0a1.35 1.35 0 1 0 -2.7 0M578.86 60.01a1.35 1.35 0 1 0 2.7 0a1.35 1.35 0 1 0 -2.7 0M579.01 62.59a1.35 1.35 0 1 0 2.7 0a1.35 1.35 0 1 0 -2.7 0M579.17 64.83a1.35 1.35 0 1 0 2.7 0a1.35 1.35 0 1 0 -2.7 0M579.33 66.8a1.35 1.35 0 1 0 2.7 0a1.35 1.35 0 1 0 -2.7 0M579.49 68.54a1.35 1.35 0 1 0 2.7 0a1.35 1.35 0 1 0 -2.7 0M579.64 70.09a1.35 1.35 0 1 0 2.7 0a1.35 1.35 0 1 0 -2.7 0M579.8 71.48a1.35 1.35 0 1 0 2.7 0a1.35 1.35 0 1 0 -2.7 0M579.96 72.72a1.35 1.35 0 1 0 2.7 0a1.35 1.35 0 1 0 -2.7 0M580.11 73.84a1.35 1.35 0 1 0 2.7 0a1.35 1.35 0 1 0 -2.7 0M580.27 74.86a1.35 1.35 0 1 0 2.7 0a1.35 1.35 0 1 0 -2.7 0M580.43 75.79a1.35 1.35 0 1 0 2.7 0a1.35 1.35 0 1 0 -2.7 0M580.59 76.64a1.35 1.35 0 1 0 2.7 0a1.35 1.35 0 1 0 -2.7 0M580.74 77.42a1.35 1.35 0 1 0 2.7 0a1.35 1.35 0 1 0 -2.7 0M580.9 78.13a1.35 1.35 0 1 0 2.7 0a1.35 1.35 0 1 0 -2.7 0M581.06 78.8a1.35 1.35 0 1 0 2.7 0a1.35 1.35 0 1 0 -2.7 0M581.21 79.41a1.35 1.35 0 1 0 2.7 0a1.35 1.35 0 1 0 -2.7 0M581.37 79.98a1.35 1.35 0 1 0 2.7 0a1.35 1.35 0 1 0 -2.7 0M581.53 80.51a1.35 1.35 0 1 0 2.7 0a1.35 1.35 0 1 0 -2.7 0M581.69 81a1.35 1.35 0 1 0 2.7 0a1.35 1.35 0 1 0 -2.7 0M581.84 81.46a1.35 1.35 0 1 0 2.7 0a1.35 1.35 0 1 0 -2.7 0M582 81.9a1.35 1.35 0 1 0 2.7 0a1.35 1.35 0 1 0 -2.7 0M582.16 82.3a1.35 1.35 0 1 0 2.7 0a1.35 1.35 0 1 0 -2.7 0M582.31 82.69a1.35 1.35 0 1 0 2.7 0a1.35 1.35 0 1 0 -2.7 0M582.47 83.05a1.35 1.35 0 1 0 2.7 0a1.35 1.35 0 1 0 -2.7 0M582.63 83.39a1.35 1.35 0 1 0 2.7 0a1.35 1.35 0 1 0 -2.7 0M582.79 83.71a1.35 1.35 0 1 0 2.7 0a1.35 1.35 0 1 0 -2.7 0M582.94 84.01a1.35 1.35 0 1 0 2.7 0a1.35 1.35 0 1 0 -2.7 0M583.1 84.3a1.35 1.35 0 1 0 2.7 0a1.35 1.35 0 1 0 -2.7 0M583.26 84.58a1.35 1.35 0 1 0 2.7 0a1.35 1.35 0 1 0 -2.7 0M583.41 84.84a1.35 1.35 0 1 0 2.7 0a1.35 1.35 0 1 0 -2.7 0M583.73 85.32a1.35 1.35 0 1 0 2.7 0a1.35 1.35 0 1 0 -2.7 0M584.04 85.76a1.35 1.35 0 1 0 2.7 0a1.35 1.35 0 1 0 -2.7 0M584.36 86.16a1.35 1.35 0 1 0 2.7 0a1.35 1.35 0 1 0 -2.7 0M584.67 86.53a1.35 1.35 0 1 0 2.7 0a1.35 1.35 0 1 0 -2.7 0M584.99 86.87a1.35 1.35 0 1 0 2.7 0a1.35 1.35 0 1 0 -2.7 0M585.3 87.18a1.35 1.35 0 1 0 2.7 0a1.35 1.35 0 1 0 -2.7 0M585.61 87.47a1.35 1.35 0 1 0 2.7 0a1.35 1.35 0 1 0 -2.7 0M585.93 87.74a1.35 1.35 0 1 0 2.7 0a1.35 1.35 0 1 0 -2.7 0M586.24 87.99a1.35 1.35 0 1 0 2.7 0a1.35 1.35 0 1 0 -2.7 0M586.56 88.23a1.35 1.35 0 1 0 2.7 0a1.35 1.35 0 1 0 -2.7 0M586.87 88.45a1.35 1.35 0 1 0 2.7 0a1.35 1.35 0 1 0 -2.7 0M587.19 88.65a1.35 1.35 0 1 0 2.7 0a1.35 1.35 0 1 0 -2.7 0M587.5 88.84a1.35 1.35 0 1 0 2.7 0a1.35 1.35 0 1 0 -2.7 0M587.81 89.03a1.35 1.35 0 1 0 2.7 0a1.35 1.35 0 1 0 -2.7 0M588.13 89.2a1.35 1.35 0 1 0 2.7 0a1.35 1.35 0 1 0 -2.7 0M588.44 89.36a1.35 1.35 0 1 0 2.7 0a1.35 1.35 0 1 0 -2.7 0M588.76 89.51a1.35 1.35 0 1 0 2.7 0a1.35 1.35 0 1 0 -2.7 0M589.07 89.65a1.35 1.35 0 1 0 2.7 0a1.35 1.35 0 1 0 -2.7 0M589.39 89.79a1.35 1.35 0 1 0 2.7 0a1.35 1.35 0 1 0 -2.7 0M589.7 89.92a1.35 1.35 0 1 0 2.7 0a1.35 1.35 0 1 0 -2.7 0M590.01 90.05a1.35 1.35 0 1 0 2.7 0a1.35 1.35 0 1 0 -2.7 0M590.33 90.16a1.35 1.35 0 1 0 2.7 0a1.35 1.35 0 1 0 -2.7 0M590.64 90.28a1.35 1.35 0 1 0 2.7 0a1.35 1.35 0 1 0 -2.7 0M590.96 90.38a1.35 1.35 0 1 0 2.7 0a1.35 1.35 0 1 0 -2.7 0M591.27 90.49a1.35 1.35 0 1 0 2.7 0a1.35 1.35 0 1 0 -2.7 0M591.59 90.58a1.35 1.35 0 1 0 2.7 0a1.35 1.35 0 1 0 -2.7 0M591.9 90.68a1.35 1.35 0 1 0 2.7 0a1.35 1.35 0 1 0 -2.7 0M592.21 90.77a1.35 1.35 0 1 0 2.7 0a1.35 1.35 0 1 0 -2.7 0M592.53 90.85a1.35 1.35 0 1 0 2.7 0a1.35 1.35 0 1 0 -2.7 0M592.84 90.94a1.35 1.35 0 1 0 2.7 0a1.35 1.35 0 1 0 -2.7 0M593.16 91.01a1.35 1.35 0 1 0 2.7 0a1.35 1.35 0 1 0 -2.7 0M593.47 91.09a1.35 1.35 0 1 0 2.7 0a1.35 1.35 0 1 0 -2.7 0M593.79 91.16a1.35 1.35 0 1 0 2.7 0a1.35 1.35 0 1 0 -2.7 0M594.1 91.23a1.35 1.35 0 1 0 2.7 0a1.35 1.35 0 1 0 -2.7 0M594.41 91.3a1.35 1.35 0 1 0 2.7 0a1.35 1.35 0 1 0 -2.7 0M594.73 91.37a1.35 1.35 0 1 0 2.7 0a1.35 1.35 0 1 0 -2.7 0M595.04 91.43a1.35 1.35 0 1 0 2.7 0a1.35 1.35 0 1 0 -2.7 0M595.36 91.49a1.35 1.35 0 1 0 2.7 0a1.35 1.35 0 1 0 -2.7 0M595.67 91.55a1.35 1.35 0 1 0 2.7 0a1.35 1.35 0 1 0 -2.7 0M595.99 91.61a1.35 1.35 0 1 0 2.7 0a1.35 1.35 0 1 0 -2.7 0M596.3 91.66a1.35 1.35 0 1 0 2.7 0a1.35 1.35 0 1 0 -2.7 0M596.61 91.72a1.35 1.35 0 1 0 2.7 0a1.35 1.35 0 1 0 -2.7 0M596.93 91.77a1.35 1.35 0 1 0 2.7 0a1.35 1.35 0 1 0 -2.7 0M597.24 91.82a1.35 1.35 0 1 0 2.7 0a1.35 1.35 0 1 0 -2.7 0M597.56 91.87a1.35 1.35 0 1 0 2.7 0a1.35 1.35 0 1 0 -2.7 0M597.87 91.91a1.35 1.35 0 1 0 2.7 0a1.35 1.35 0 1 0 -2.7 0M598.19 91.96a1.35 1.35 0 1 0 2.7 0a1.35 1.35 0 1 0 -2.7 0M598.5 92a1.35 1.35 0 1 0 2.7 0a1.35 1.35 0 1 0 -2.7 0M598.81 92.05a1.35 1.35 0 1 0 2.7 0a1.35 1.35 0 1 0 -2.7 0M599.13 92.09a1.35 1.35 0 1 0 2.7 0a1.35 1.35 0 1 0 -2.7 0M599.44 92.13a1.35 1.35 0 1 0 2.7 0a1.35 1.35 0 1 0 -2.7 0M599.76 92.17a1.35 1.35 0 1 0 2.7 0a1.35 1.35 0 1 0 -2.7 0M600.07 92.21a1.35 1.35 0 1 0 2.7 0a1.35 1.35 0 1 0 -2.7 0M600.39 92.24a1.35 1.35 0 1 0 2.7 0a1.35 1.35 0 1 0 -2.7 0M600.7 92.28a1.35 1.35 0 1 0 2.7 0a1.35 1.35 0 1 0 -2.7 0M601.01 92.31a1.35 1.35 0 1 0 2.7 0a1.35 1.35 0 1 0 -2.7 0M601.33 92.35a1.35 1.35 0 1 0 2.7 0a1.35 1.35 0 1 0 -2.7 0M601.64 92.38a1.35 1.35 0 1 0 2.7 0a1.35 1.35 0 1 0 -2.7 0M601.96 92.41a1.35 1.35 0 1 0 2.7 0a1.35 1.35 0 1 0 -2.7 0M602.27 92.45a1.35 1.35 0 1 0 2.7 0a1.35 1.35 0 1 0 -2.7 0M602.59 92.48a1.35 1.35 0 1 0 2.7 0a1.35 1.35 0 1 0 -2.7 0M602.9 92.51a1.35 1.35 0 1 0 2.7 0a1.35 1.35 0 1 0 -2.7 0M603.21 92.54a1.35 1.35 0 1 0 2.7 0a1.35 1.35 0 1 0 -2.7 0M603.53 92.57a1.35 1.35 0 1 0 2.7 0a1.35 1.35 0 1 0 -2.7 0M603.84 92.59a1.35 1.35 0 1 0 2.7 0a1.35 1.35 0 1 0 -2.7 0M604.16 92.62a1.35 1.35 0 1 0 2.7 0a1.35 1.35 0 1 0 -2.7 0M604.47 92.65a1.35 1.35 0 1 0 2.7 0a1.35 1.35 0 1 0 -2.7 0M604.79 92.67a1.35 1.35 0 1 0 2.7 0a1.35 1.35 0 1 0 -2.7 0M605.1 92.7a1.35 1.35 0 1 0 2.7 0a1.35 1.35 0 1 0 -2.7 0M605.41 92.72a1.35 1.35 0 1 0 2.7 0a1.35 1.35 0 1 0 -2.7 0M605.73 92.75a1.35 1.35 0 1 0 2.7 0a1.35 1.35 0 1 0 -2.7 0M606.04 92.77a1.35 1.35 0 1 0 2.7 0a1.35 1.35 0 1 0 -2.7 0M606.36 92.8a1.35 1.35 0 1 0 2.7 0a1.35 1.35 0 1 0 -2.7 0M606.67 92.82a1.35 1.35 0 1 0 2.7 0a1.35 1.35 0 1 0 -2.7 0M606.99 92.84a1.35 1.35 0 1 0 2.7 0a1.35 1.35 0 1 0 -2.7 0M607.3 92.86a1.35 1.35 0 1 0 2.7 0a1.35 1.35 0 1 0 -2.7 0M607.61 92.88a1.35 1.35 0 1 0 2.7 0a1.35 1.35 0 1 0 -2.7 0M607.93 92.91a1.35 1.35 0 1 0 2.7 0a1.35 1.35 0 1 0 -2.7 0M608.24 92.93a1.35 1.35 0 1 0 2.7 0a1.35 1.35 0 1 0 -2.7 0M608.56 92.95a1.35 1.35 0 1 0 2.7 0a1.35 1.35 0 1 0 -2.7 0M608.87 92.97a1.35 1.35 0 1 0 2.7 0a1.35 1.35 0 1 0 -2.7 0M609.19 92.99a1.35 1.35 0 1 0 2.7 0a1.35 1.35 0 1 0 -2.7 0M609.5 93a1.35 1.35 0 1 0 2.7 0a1.35 1.35 0 1 0 -2.7 0M609.81 93.02a1.35 1.35 0 1 0 2.7 0a1.35 1.35 0 1 0 -2.7 0M610.13 93.04a1.35 1.35 0 1 0 2.7 0a1.35 1.35 0 1 0 -2.7 0M610.44 93.06a1.35 1.35 0 1 0 2.7 0a1.35 1.35 0 1 0 -2.7 0M610.76 93.08a1.35 1.35 0 1 0 2.7 0a1.35 1.35 0 1 0 -2.7 0M611.07 93.09a1.35 1.35 0 1 0 2.7 0a1.35 1.35 0 1 0 -2.7 0M611.39 93.11a1.35 1.35 0 1 0 2.7 0a1.35 1.35 0 1 0 -2.7 0M611.7 93.13a1.35 1.35 0 1 0 2.7 0a1.35 1.35 0 1 0 -2.7 0M612.01 93.14a1.35 1.35 0 1 0 2.7 0a1.35 1.35 0 1 0 -2.7 0M612.33 93.16a1.35 1.35 0 1 0 2.7 0a1.35 1.35 0 1 0 -2.7 0M612.64 93.18a1.35 1.35 0 1 0 2.7 0a1.35 1.35 0 1 0 -2.7 0M612.96 93.19a1.35 1.35 0 1 0 2.7 0a1.35 1.35 0 1 0 -2.7 0M613.27 93.21a1.35 1.35 0 1 0 2.7 0a1.35 1.35 0 1 0 -2.7 0M613.59 93.22a1.35 1.35 0 1 0 2.7 0a1.35 1.35 0 1 0 -2.7 0M613.9 93.24a1.35 1.35 0 1 0 2.7 0a1.35 1.35 0 1 0 -2.7 0M614.21 93.25a1.35 1.35 0 1 0 2.7 0a1.35 1.35 0 1 0 -2.7 0M614.53 93.26a1.35 1.35 0 1 0 2.7 0a1.35 1.35 0 1 0 -2.7 0M614.84 93.28a1.35 1.35 0 1 0 2.7 0a1.35 1.35 0 1 0 -2.7 0M615.16 93.29a1.35 1.35 0 1 0 2.7 0a1.35 1.35 0 1 0 -2.7 0M615.47 93.31a1.35 1.35 0 1 0 2.7 0a1.35 1.35 0 1 0 -2.7 0M615.79 93.32a1.35 1.35 0 1 0 2.7 0a1.35 1.35 0 1 0 -2.7 0M616.1 93.33a1.35 1.35 0 1 0 2.7 0a1.35 1.35 0 1 0 -2.7 0M616.41 93.34a1.35 1.35 0 1 0 2.7 0a1.35 1.35 0 1 0 -2.7 0M616.73 93.36a1.35 1.35 0 1 0 2.7 0a1.35 1.35 0 1 0 -2.7 0M617.04 93.37a1.35 1.35 0 1 0 2.7 0a1.35 1.35 0 1 0 -2.7 0M617.36 93.38a1.35 1.35 0 1 0 2.7 0a1.35 1.35 0 1 0 -2.7 0M617.67 93.39a1.35 1.35 0 1 0 2.7 0a1.35 1.35 0 1 0 -2.7 0M617.99 93.41a1.35 1.35 0 1 0 2.7 0a1.35 1.35 0 1 0 -2.7 0M618.3 93.42a1.35 1.35 0 1 0 2.7 0a1.35 1.35 0 1 0 -2.7 0M618.61 93.43a1.35 1.35 0 1 0 2.7 0a1.35 1.35 0 1 0 -2.7 0M618.93 93.44a1.35 1.35 0 1 0 2.7 0a1.35 1.35 0 1 0 -2.7 0M619.24 93.45a1.35 1.35 0 1 0 2.7 0a1.35 1.35 0 1 0 -2.7 0M619.56 93.46a1.35 1.35 0 1 0 2.7 0a1.35 1.35 0 1 0 -2.7 0M619.87 93.47a1.35 1.35 0 1 0 2.7 0a1.35 1.35 0 1 0 -2.7 0M620.19 93.48a1.35 1.35 0 1 0 2.7 0a1.35 1.35 0 1 0 -2.7 0M620.5 93.49a1.35 1.35 0 1 0 2.7 0a1.35 1.35 0 1 0 -2.7 0M620.81 93.5a1.35 1.35 0 1 0 2.7 0a1.35 1.35 0 1 0 -2.7 0M621.13 93.51a1.35 1.35 0 1 0 2.7 0a1.35 1.35 0 1 0 -2.7 0M621.44 93.52a1.35 1.35 0 1 0 2.7 0a1.35 1.35 0 1 0 -2.7 0M621.76 93.53a1.35 1.35 0 1 0 2.7 0a1.35 1.35 0 1 0 -2.7 0M622.07 93.54a1.35 1.35 0 1 0 2.7 0a1.35 1.35 0 1 0 -2.7 0M622.39 93.55a1.35 1.35 0 1 0 2.7 0a1.35 1.35 0 1 0 -2.7 0M622.7 93.56a1.35 1.35 0 1 0 2.7 0a1.35 1.35 0 1 0 -2.7 0M623.01 93.57a1.35 1.35 0 1 0 2.7 0a1.35 1.35 0 1 0 -2.7 0M623.33 93.58a1.35 1.35 0 1 0 2.7 0a1.35 1.35 0 1 0 -2.7 0M623.64 93.59a1.35 1.35 0 1 0 2.7 0a1.35 1.35 0 1 0 -2.7 0M623.96 93.6a1.35 1.35 0 1 0 2.7 0a1.35 1.35 0 1 0 -2.7 0M624.27 93.61a1.35 1.35 0 1 0 2.7 0a1.35 1.35 0 1 0 -2.7 0M624.59 93.62a1.35 1.35 0 1 0 2.7 0a1.35 1.35 0 1 0 -2.7 0M624.9 93.63a1.35 1.35 0 1 0 2.7 0a1.35 1.35 0 1 0 -2.7 0M625.21 93.63a1.35 1.35 0 1 0 2.7 0a1.35 1.35 0 1 0 -2.7 0M625.53 93.64a1.35 1.35 0 1 0 2.7 0a1.35 1.35 0 1 0 -2.7 0M625.84 93.65a1.35 1.35 0 1 0 2.7 0a1.35 1.35 0 1 0 -2.7 0M626.16 93.66a1.35 1.35 0 1 0 2.7 0a1.35 1.35 0 1 0 -2.7 0M626.47 93.67a1.35 1.35 0 1 0 2.7 0a1.35 1.35 0 1 0 -2.7 0M626.79 93.68a1.35 1.35 0 1 0 2.7 0a1.35 1.35 0 1 0 -2.7 0M627.1 93.68a1.35 1.35 0 1 0 2.7 0a1.35 1.35 0 1 0 -2.7 0M627.41 93.69a1.35 1.35 0 1 0 2.7 0a1.35 1.35 0 1 0 -2.7 0M627.73 93.7a1.35 1.35 0 1 0 2.7 0a1.35 1.35 0 1 0 -2.7 0M628.04 93.71a1.35 1.35 0 1 0 2.7 0a1.35 1.35 0 1 0 -2.7 0M628.36 93.71a1.35 1.35 0 1 0 2.7 0a1.35 1.35 0 1 0 -2.7 0M628.67 93.72a1.35 1.35 0 1 0 2.7 0a1.35 1.35 0 1 0 -2.7 0M628.99 93.73a1.35 1.35 0 1 0 2.7 0a1.35 1.35 0 1 0 -2.7 0M629.3 93.74a1.35 1.35 0 1 0 2.7 0a1.35 1.35 0 1 0 -2.7 0M629.61 93.74a1.35 1.35 0 1 0 2.7 0a1.35 1.35 0 1 0 -2.7 0M629.93 93.75a1.35 1.35 0 1 0 2.7 0a1.35 1.35 0 1 0 -2.7 0M630.24 93.76a1.35 1.35 0 1 0 2.7 0a1.35 1.35 0 1 0 -2.7 0M630.56 93.76a1.35 1.35 0 1 0 2.7 0a1.35 1.35 0 1 0 -2.7 0M630.87 93.77a1.35 1.35 0 1 0 2.7 0a1.35 1.35 0 1 0 -2.7 0M631.19 93.78a1.35 1.35 0 1 0 2.7 0a1.35 1.35 0 1 0 -2.7 0M631.5 93.78a1.35 1.35 0 1 0 2.7 0a1.35 1.35 0 1 0 -2.7 0M631.81 93.79a1.35 1.35 0 1 0 2.7 0a1.35 1.35 0 1 0 -2.7 0M632.13 93.8a1.35 1.35 0 1 0 2.7 0a1.35 1.35 0 1 0 -2.7 0M632.44 93.8a1.35 1.35 0 1 0 2.7 0a1.35 1.35 0 1 0 -2.7 0M632.76 93.81a1.35 1.35 0 1 0 2.7 0a1.35 1.35 0 1 0 -2.7 0M633.07 93.82a1.35 1.35 0 1 0 2.7 0a1.35 1.35 0 1 0 -2.7 0M633.39 93.82a1.35 1.35 0 1 0 2.7 0a1.35 1.35 0 1 0 -2.7 0M633.7 93.83a1.35 1.35 0 1 0 2.7 0a1.35 1.35 0 1 0 -2.7 0M634.01 93.83a1.35 1.35 0 1 0 2.7 0a1.35 1.35 0 1 0 -2.7 0M634.33 93.84a1.35 1.35 0 1 0 2.7 0a1.35 1.35 0 1 0 -2.7 0M634.64 93.85a1.35 1.35 0 1 0 2.7 0a1.35 1.35 0 1 0 -2.7 0M634.96 93.85a1.35 1.35 0 1 0 2.7 0a1.35 1.35 0 1 0 -2.7 0M635.27 93.86a1.35 1.35 0 1 0 2.7 0a1.35 1.35 0 1 0 -2.7 0M635.59 93.86a1.35 1.35 0 1 0 2.7 0a1.35 1.35 0 1 0 -2.7 0M635.9 93.87a1.35 1.35 0 1 0 2.7 0a1.35 1.35 0 1 0 -2.7 0M636.21 93.87a1.35 1.35 0 1 0 2.7 0a1.35 1.35 0 1 0 -2.7 0M636.53 93.88a1.35 1.35 0 1 0 2.7 0a1.35 1.35 0 1 0 -2.7 0M636.84 93.89a1.35 1.35 0 1 0 2.7 0a1.35 1.35 0 1 0 -2.7 0M637.16 93.89a1.35 1.35 0 1 0 2.7 0a1.35 1.35 0 1 0 -2.7 0M637.47 93.9a1.35 1.35 0 1 0 2.7 0a1.35 1.35 0 1 0 -2.7 0M637.79 93.9a1.35 1.35 0 1 0 2.7 0a1.35 1.35 0 1 0 -2.7 0M638.1 93.91a1.35 1.35 0 1 0 2.7 0a1.35 1.35 0 1 0 -2.7 0M638.41 93.91a1.35 1.35 0 1 0 2.7 0a1.35 1.35 0 1 0 -2.7 0M638.73 93.92a1.35 1.35 0 1 0 2.7 0a1.35 1.35 0 1 0 -2.7 0M639.04 93.92a1.35 1.35 0 1 0 2.7 0a1.35 1.35 0 1 0 -2.7 0M639.36 93.93a1.35 1.35 0 1 0 2.7 0a1.35 1.35 0 1 0 -2.7 0M639.67 93.93a1.35 1.35 0 1 0 2.7 0a1.35 1.35 0 1 0 -2.7 0M639.99 93.94a1.35 1.35 0 1 0 2.7 0a1.35 1.35 0 1 0 -2.7 0M640.3 93.94a1.35 1.35 0 1 0 2.7 0a1.35 1.35 0 1 0 -2.7 0M640.61 93.95a1.35 1.35 0 1 0 2.7 0a1.35 1.35 0 1 0 -2.7 0M640.93 93.95a1.35 1.35 0 1 0 2.7 0a1.35 1.35 0 1 0 -2.7 0M641.24 93.96a1.35 1.35 0 1 0 2.7 0a1.35 1.35 0 1 0 -2.7 0M641.56 93.96a1.35 1.35 0 1 0 2.7 0a1.35 1.35 0 1 0 -2.7 0M641.87 93.97a1.35 1.35 0 1 0 2.7 0a1.35 1.35 0 1 0 -2.7 0M642.19 93.97a1.35 1.35 0 1 0 2.7 0a1.35 1.35 0 1 0 -2.7 0M642.5 93.98a1.35 1.35 0 1 0 2.7 0a1.35 1.35 0 1 0 -2.7 0M642.81 93.98a1.35 1.35 0 1 0 2.7 0a1.35 1.35 0 1 0 -2.7 0M643.13 93.98a1.35 1.35 0 1 0 2.7 0a1.35 1.35 0 1 0 -2.7 0M643.44 93.99a1.35 1.35 0 1 0 2.7 0a1.35 1.35 0 1 0 -2.7 0M643.76 93.99a1.35 1.35 0 1 0 2.7 0a1.35 1.35 0 1 0 -2.7 0M644.07 94a1.35 1.35 0 1 0 2.7 0a1.35 1.35 0 1 0 -2.7 0M644.39 94a1.35 1.35 0 1 0 2.7 0a1.35 1.35 0 1 0 -2.7 0M644.7 94.01a1.35 1.35 0 1 0 2.7 0a1.35 1.35 0 1 0 -2.7 0M645.01 94.01a1.35 1.35 0 1 0 2.7 0a1.35 1.35 0 1 0 -2.7 0M645.33 94.01a1.35 1.35 0 1 0 2.7 0a1.35 1.35 0 1 0 -2.7 0M645.64 94.02a1.35 1.35 0 1 0 2.7 0a1.35 1.35 0 1 0 -2.7 0M645.96 94.02a1.35 1.35 0 1 0 2.7 0a1.35 1.35 0 1 0 -2.7 0M646.27 94.03a1.35 1.35 0 1 0 2.7 0a1.35 1.35 0 1 0 -2.7 0M646.59 94.03a1.35 1.35 0 1 0 2.7 0a1.35 1.35 0 1 0 -2.7 0M646.9 94.03a1.35 1.35 0 1 0 2.7 0a1.35 1.35 0 1 0 -2.7 0M647.21 94.04a1.35 1.35 0 1 0 2.7 0a1.35 1.35 0 1 0 -2.7 0M647.53 94.04a1.35 1.35 0 1 0 2.7 0a1.35 1.35 0 1 0 -2.7 0M647.84 94.05a1.35 1.35 0 1 0 2.7 0a1.35 1.35 0 1 0 -2.7 0M648.16 94.05a1.35 1.35 0 1 0 2.7 0a1.35 1.35 0 1 0 -2.7 0M648.47 94.05a1.35 1.35 0 1 0 2.7 0a1.35 1.35 0 1 0 -2.7 0M648.79 94.06a1.35 1.35 0 1 0 2.7 0a1.35 1.35 0 1 0 -2.7 0M649.1 94.06a1.35 1.35 0 1 0 2.7 0a1.35 1.35 0 1 0 -2.7 0M649.41 94.07a1.35 1.35 0 1 0 2.7 0a1.35 1.35 0 1 0 -2.7 0M649.73 94.07a1.35 1.35 0 1 0 2.7 0a1.35 1.35 0 1 0 -2.7 0M650.04 94.07a1.35 1.35 0 1 0 2.7 0a1.35 1.35 0 1 0 -2.7 0M650.36 94.08a1.35 1.35 0 1 0 2.7 0a1.35 1.35 0 1 0 -2.7 0M650.67 94.08a1.35 1.35 0 1 0 2.7 0a1.35 1.35 0 1 0 -2.7 0M650.99 94.08a1.35 1.35 0 1 0 2.7 0a1.35 1.35 0 1 0 -2.7 0M651.3 94.09a1.35 1.35 0 1 0 2.7 0a1.35 1.35 0 1 0 -2.7 0M651.61 94.09a1.35 1.35 0 1 0 2.7 0a1.35 1.35 0 1 0 -2.7 0M651.93 94.09a1.35 1.35 0 1 0 2.7 0a1.35 1.35 0 1 0 -2.7 0M652.24 94.1a1.35 1.35 0 1 0 2.7 0a1.35 1.35 0 1 0 -2.7 0M652.56 94.1a1.35 1.35 0 1 0 2.7 0a1.35 1.35 0 1 0 -2.7 0M652.87 94.1a1.35 1.35 0 1 0 2.7 0a1.35 1.35 0 1 0 -2.7 0M653.19 94.11a1.35 1.35 0 1 0 2.7 0a1.35 1.35 0 1 0 -2.7 0M653.5 94.11a1.35 1.35 0 1 0 2.7 0a1.35 1.35 0 1 0 -2.7 0M653.81 94.11a1.35 1.35 0 1 0 2.7 0a1.35 1.35 0 1 0 -2.7 0M654.13 94.12a1.35 1.35 0 1 0 2.7 0a1.35 1.35 0 1 0 -2.7 0M654.44 94.12a1.35 1.35 0 1 0 2.7 0a1.35 1.35 0 1 0 -2.7 0M654.76 94.12a1.35 1.35 0 1 0 2.7 0a1.35 1.35 0 1 0 -2.7 0M655.07 94.13a1.35 1.35 0 1 0 2.7 0a1.35 1.35 0 1 0 -2.7 0M655.39 94.13a1.35 1.35 0 1 0 2.7 0a1.35 1.35 0 1 0 -2.7 0M655.7 94.13a1.35 1.35 0 1 0 2.7 0a1.35 1.35 0 1 0 -2.7 0M656.01 94.14a1.35 1.35 0 1 0 2.7 0a1.35 1.35 0 1 0 -2.7 0M656.33 94.14a1.35 1.35 0 1 0 2.7 0a1.35 1.35 0 1 0 -2.7 0M656.64 94.14a1.35 1.35 0 1 0 2.7 0a1.35 1.35 0 1 0 -2.7 0M656.96 94.15a1.35 1.35 0 1 0 2.7 0a1.35 1.35 0 1 0 -2.7 0M657.27 94.15a1.35 1.35 0 1 0 2.7 0a1.35 1.35 0 1 0 -2.7 0M657.59 94.15a1.35 1.35 0 1 0 2.7 0a1.35 1.35 0 1 0 -2.7 0M657.9 94.15a1.35 1.35 0 1 0 2.7 0a1.35 1.35 0 1 0 -2.7 0M658.21 94.16a1.35 1.35 0 1 0 2.7 0a1.35 1.35 0 1 0 -2.7 0M658.53 94.16a1.35 1.35 0 1 0 2.7 0a1.35 1.35 0 1 0 -2.7 0M658.84 94.16a1.35 1.35 0 1 0 2.7 0a1.35 1.35 0 1 0 -2.7 0M659.16 94.17a1.35 1.35 0 1 0 2.7 0a1.35 1.35 0 1 0 -2.7 0M659.47 94.17a1.35 1.35 0 1 0 2.7 0a1.35 1.35 0 1 0 -2.7 0M659.79 94.17a1.35 1.35 0 1 0 2.7 0a1.35 1.35 0 1 0 -2.7 0M660.1 94.17a1.35 1.35 0 1 0 2.7 0a1.35 1.35 0 1 0 -2.7 0M660.41 94.18a1.35 1.35 0 1 0 2.7 0a1.35 1.35 0 1 0 -2.7 0M660.73 94.18a1.35 1.35 0 1 0 2.7 0a1.35 1.35 0 1 0 -2.7 0M661.04 94.18a1.35 1.35 0 1 0 2.7 0a1.35 1.35 0 1 0 -2.7 0M661.36 94.19a1.35 1.35 0 1 0 2.7 0a1.35 1.35 0 1 0 -2.7 0M661.67 94.19a1.35 1.35 0 1 0 2.7 0a1.35 1.35 0 1 0 -2.7 0M661.99 94.19a1.35 1.35 0 1 0 2.7 0a1.35 1.35 0 1 0 -2.7 0M662.3 94.19a1.35 1.35 0 1 0 2.7 0a1.35 1.35 0 1 0 -2.7 0M662.61 94.2a1.35 1.35 0 1 0 2.7 0a1.35 1.35 0 1 0 -2.7 0M662.93 94.2a1.35 1.35 0 1 0 2.7 0a1.35 1.35 0 1 0 -2.7 0M663.24 94.2a1.35 1.35 0 1 0 2.7 0a1.35 1.35 0 1 0 -2.7 0M663.56 94.2a1.35 1.35 0 1 0 2.7 0a1.35 1.35 0 1 0 -2.7 0M663.87 94.21a1.35 1.35 0 1 0 2.7 0a1.35 1.35 0 1 0 -2.7 0M664.19 94.21a1.35 1.35 0 1 0 2.7 0a1.35 1.35 0 1 0 -2.7 0M664.5 94.21a1.35 1.35 0 1 0 2.7 0a1.35 1.35 0 1 0 -2.7 0M664.81 94.21a1.35 1.35 0 1 0 2.7 0a1.35 1.35 0 1 0 -2.7 0M665.13 94.22a1.35 1.35 0 1 0 2.7 0a1.35 1.35 0 1 0 -2.7 0M665.44 94.22a1.35 1.35 0 1 0 2.7 0a1.35 1.35 0 1 0 -2.7 0M665.76 94.22a1.35 1.35 0 1 0 2.7 0a1.35 1.35 0 1 0 -2.7 0M666.07 94.22a1.35 1.35 0 1 0 2.7 0a1.35 1.35 0 1 0 -2.7 0M666.39 94.23a1.35 1.35 0 1 0 2.7 0a1.35 1.35 0 1 0 -2.7 0M666.7 94.23a1.35 1.35 0 1 0 2.7 0a1.35 1.35 0 1 0 -2.7 0M667.01 94.23a1.35 1.35 0 1 0 2.7 0a1.35 1.35 0 1 0 -2.7 0M667.33 94.23a1.35 1.35 0 1 0 2.7 0a1.35 1.35 0 1 0 -2.7 0M667.64 94.24a1.35 1.35 0 1 0 2.7 0a1.35 1.35 0 1 0 -2.7 0M667.96 94.24a1.35 1.35 0 1 0 2.7 0a1.35 1.35 0 1 0 -2.7 0M668.27 94.24a1.35 1.35 0 1 0 2.7 0a1.35 1.35 0 1 0 -2.7 0M668.59 94.24a1.35 1.35 0 1 0 2.7 0a1.35 1.35 0 1 0 -2.7 0M668.9 94.25a1.35 1.35 0 1 0 2.7 0a1.35 1.35 0 1 0 -2.7 0M669.21 94.25a1.35 1.35 0 1 0 2.7 0a1.35 1.35 0 1 0 -2.7 0M669.53 94.25a1.35 1.35 0 1 0 2.7 0a1.35 1.35 0 1 0 -2.7 0M669.84 94.25a1.35 1.35 0 1 0 2.7 0a1.35 1.35 0 1 0 -2.7 0" fill="#fff" stroke="#0a0ad0" stroke-width="0.6"/>
<path d="M30.1 218.19a2.5 2.5 0 1 0 5 0a2.5 2.5 0 1 0 -5 0M31.3 218.98a2.5 2.5 0 1 0 5 0a2.5 2.5 0 1 0 -5 0M32.5 218.54a2.5 2.5 0 1 0 5 0a2.5 2.5 0 1 0 -5 0M33.7 218.19a2.5 2.5 0 1 0 5 0a2.5 2.5 0 1 0 -5 0M34.9 217.66a2.5 2.5 0 1 0 5 0a2.5 2.5 0 1 0 -5 0M36.1 218.3a2.5 2.5 0 1 0 5 0a2.5 2.5 0 1 0 -5 0M37.3 217.94a2.5 2.5 0 1 0 5 0a2.5 2.5 0 1 0 -5 0M38.5 217.61a2.5 2.5 0 1 0 5 0a2.5 2.5 0 1 0 -5 0M39.7 217.76a2.5 2.5 0 1 0 5 0a2.5 2.5 0 1 0 -5 0M40.9 217.87a2.5 2.5 0 1 0 5 0a2.5 2.5 0 1 0 -5 0M42.1 217.01a2.5 2.5 0 1 0 5 0a2.5 2.5 0 1 0 -5 0M43.3 217.69a2.5 2.5 0 1 0 5 0a2.5 2.5 0 1 0 -5 0M44.5 217.48a2.5 2.5 0 1 0 5 0a2.5 2.5 0 1 0 -5 0M45.7 216.86a2.5 2.5 0 1 0 5 0a2.5 2.5 0 1 0 -5 0M46.9 217.1a2.5 2.5 0 1 0 5 0a2.5 2.5 0 1 0 -5 0M48.1 215.81a2.5 2.5 0 1 0 5 0a2.5 2.5 0 1 0 -5 0M49.3 215.46a2.5 2.5 0 1 0 5 0a2.5 2.5 0 1 0 -5 0M50.5 215.21a2.5 2.5 0 1 0 5 0a2.5 2.5 0 1 0 -5 0M51.7 216.57a2.5 2.5 0 1 0 5 0a2.5 2.5 0 1 0 -5 0M52.9 216.45a2.5 2.5 0 1 0 5 0a2.5 2.5 0 1 0 -5 0M54.1 217.34a2.5 2.5 0 1 0 5 0a2.5 2.5 0 1 0 -5 0M55.3 217.96a2.5 2.5 0 1 0 5 0a2.5 2.5 0 1 0 -5 0M56.5 217.07a2.5 2.5 0 1 0 5 0a2.5 2.5 0 1 0 -5 0M57.7 218.36a2.5 2.5 0 1 0 5 0a2.5 2.5 0 1 0 -5 0M58.9 219.21a2.5 2.5 0 1 0 5 0a2.5 2.5 0 1 0 -5 0M60.1 218.4a2.5 2.5 0 1 0 5 0a2.5 2.5 0 1 0 -5 0M61.3 219.53a2.5 2.5 0 1 0 5 0a2.5 2.5 0 1 0 -5 0M62.5 218.82a2.5 2.5 0 1 0 5 0a2.5 2.5 0 1 0 -5 0M63.7 220.27a2.5 2.5 0 1 0 5 0a2.5 2.5 0 1 0 -5 0M64.9 219.15a2.5 2.5 0 1 0 5 0a2.5 2.5 0 1 0 -5 0M66.1 219.48a2.5 2.5 0 1 0 5 0a2.5 2.5 0 1 0 -5 0M67.3 219.89a2.5 2.5 0 1 0 5 0a2.5 2.5 0 1 0 -5 0M68.5 219.29a2.5 2.5 0 1 0 5 0a2.5 2.5 0 1 0 -5 0M69.7 218.99a2.5 2.5 0 1 0 5 0a2.5 2.5 0 1 0 -5 0M70.9 218.96a2.5 2.5 0 1 0 5 0a2.5 2.5 0 1 0 -5 0M72.1 218.08a2.5 2.5 0 1 0 5 0a2.5 2.5 0 1 0 -5 0M73.3 218.77a2.5 2.5 0 1 0 5 0a2.5 2.5 0 1 0 -5 0M74.5 219.14a2.5 2.5 0 1 0 5 0a2.5 2.5 0 1 0 -5 0M75.7 217.6a2.5 2.5 0 1 0 5 0a2.5 2.5 0 1 0 -5 0M76.9 217.22a2.5 2.5 0 1 0 5 0a2.5 2.5 0 1 0 -5 0M78.1 217.7a2.5 2.5 0 1 0 5 0a2.5 2.5 0 1 0 -5 0M79.3 217.52a2.5 2.5 0 1 0 5 0a2.5 2.5 0 1 0 -5 0M80.5 217.46a2.5 2.5 0 1 0 5 0a2.5 2.5 0 1 0 -5 0M81.7 216.96a2.5 2.5 0 1 0 5 0a2.5 2.5 0 1 0 -5 0M82.9 218.03a2.5 2.5 0 1 0 5 0a2.5 2.5 0 1 0 -5 0M84.1 218.93a2.5 2.5 0 1 0 5 0a2.5 2.5 0 1 0 -5 0M85.3 219.21a2.5 2.5 0 1 0 5 0a2.5 2.5 0 1 0 -5 0M86.5 217.91a2.5 2.5 0 1 0 5 0a2.5 2.5 0 1 0 -5 0M87.7 218.06a2.5 2.5 0 1 0 5 0a2.5 2.5 0 1 0 -5 0M88.9 218.54a2.5 2.5 0 1 0 5 0a2.5 2.5 0 1 0 -5 0M90.1 218.02a2.5 2.5 0 1 0 5 0a2.5 2.5 0 1 0 -5 0M91.3 216.94a2.5 2.5 0 1 0 5 0a2.5 2.5 0 1 0 -5 0M92.5 216.16a2.5 2.5 0 1 0 5 0a2.5 2.5 0 1 0 -5 0M93.7 215.79a2.5 2.5 0 1 0 5 0a2.5 2.5 0 1 0 -5 0M94.9 214.54a2.5 2.5 0 1 0 5 0a2.5 2.5 0 1 0 -5 0M96.1 215.34a2.5 2.5 0 1 0 5 0a2.5 2.5 0 1 0 -5 0M97.3 213.64a2.5 2.5 0 1 0 5 0a2.5 2.5 0 1 0 -5 0M98.5 212.91a2.5 2.5 0 1 0 5 0a2.5 2.5 0 1 0 -5 0M99.7 212.29a2.5 2.5 0 1 0 5 0a2.5 2.5 0 1 0 -5 0M100.9 209.85a2.5 2.5 0 1 0 5 0a2.5 2.5 0 1 0 -5 0M102.1 206.29a2.5 2.5 0 1 0 5 0a2.5 2.5 0 1 0 -5 0M103.3 197.12a2.5 2.5 0 1 0 5 0a2.5 2.5 0 1 0 -5 0M104.5 189.01a2.5 2.5 0 1 0 5 0a2.5 2.5 0 1 0 -5 0M105.7 174.13a2.5 2.5 0 1 0 5 0a2.5 2.5 0 1 0 -5 0M106.9 158.62a2.5 2.5 0 1 0 5 0a2.5 2.5 0 1 0 -5 0M108.1 153.07a2.5 2.5 0 1 0 5 0a2.5 2.5 0 1 0 -5 0M109.3 149.29a2.5 2.5 0 1 0 5 0a2.5 2.5 0 1 0 -5 0M110.5 152.61a2.5 2.5 0 1 0 5 0a2.5 2.5 0 1 0 -5 0M111.7 156.47a2.5 2.5 0 1 0 5 0a2.5 2.5 0 1 0 -5 0M112.9 160.48a2.5 2.5 0 1 0 5 0a2.5 2.5 0 1 0 -5 0M114.1 164.44a2.5 2.5 0 1 0 5 0a2.5 2.5 0 1 0 -5 0M115.3 167.59a2.5 2.5 0 1 0 5 0a2.5 2.5 0 1 0 -5 0M116.5 171.28a2.5 2.5 0 1 0 5 0a2.5 2.5 0 1 0 -5 0M117.7 174.26a2.5 2.5 0 1 0 5 0a2.5 2.5 0 1 0 -5 0M118.9 178.76a2.5 2.5 0 1 0 5 0a2.5 2.5 0 1 0 -5 0M120.1 181.59a2.5 2.5 0 1 0 5 0a2.5 2.5 0 1 0 -5 0M121.3 184.83a2.5 2.5 0 1 0 5 0a2.5 2.5 0 1 0 -5 0M122.5 188.76a2.5 2.5 0 1 0 5 0a2.5 2.5 0 1 0 -5 0M123.7 191.5a2.5 2.5 0 1 0 5 0a2.5 2.5 0 1 0 -5 0M124.9 192.67a2.5 2.5 0 1 0 5 0a2.5 2.5 0 1 0 -5 0M126.1 194.27a2.5 2.5 0 1 0 5 0a2.5 2.5 0 1 0 -5 0M127.3 196.58a2.5 2.5 0 1 0 5 0a2.5 2.5 0 1 0 -5 0M128.5 197.69a2.5 2.5 0 1 0 5 0a2.5 2.5 0 1 0 -5 0M129.7 199.47a2.5 2.5 0 1 0 5 0a2.5 2.5 0 1 0 -5 0M130.9 200.51a2.5 2.5 0 1 0 5 0a2.5 2.5 0 1 0 -5 0M132.1 201.06a2.5 2.5 0 1 0 5 0a2.5 2.5 0 1 0 -5 0M133.3 201a2.5 2.5 0 1 0 5 0a2.5 2.5 0 1 0 -5 0M134.5 200a2.5 2.5 0 1 0 5 0a2.5 2.5 0 1 0 -5 0M135.7 200.43a2.5 2.5 0 1 0 5 0a2.5 2.5 0 1 0 -5 0M136.9 200.63a2.5 2.5 0 1 0 5 0a2.5 2.5 0 1 0 -5 0M138.1 200.22a2.5 2.5 0 1 0 5 0a2.5 2.5 0 1 0 -5 0M139.3 200.87a2.5 2.5 0 1 0 5 0a2.5 2.5 0 1 0 -5 0M140.5 202.41a2.5 2.5 0 1 0 5 0a2.5 2.5 0 1 0 -5 0M141.7 202.55a2.5 2.5 0 1 0 5 0a2.5 2.5 0 1 0 -5 0M142.9 203.47a2.5 2.5 0 1 0 5 0a2.5 2.5 0 1 0 -5 0M144.1 204.65a2.5 2.5 0 1 0 5 0a2.5 2.5 0 1 0 -5 0M145.3 205.07a2.5 2.5 0 1 0 5 0a2.5 2.5 0 1 0 -5 0M146.5 207.04a2.5 2.5 0 1 0 5 0a2.5 2.5 0 1 0 -5 0M147.7 207.6a2.5 2.5 0 1 0 5 0a2.5 2.5 0 1 0 -5 0M148.9 208.3a2.5 2.5 0 1 0 5 0a2.5 2.5 0 1 0 -5 0M150.1 209.81a2.5 2.5 0 1 0 5 0a2.5 2.5 0 1 0 -5 0M151.3 209.93a2.5 2.5 0 1 0 5 0a2.5 2.5 0 1 0 -5 0M152.5 211.43a2.5 2.5 0 1 0 5 0a2.5 2.5 0 1 0 -5 0M153.7 213.28a2.5 2.5 0 1 0 5 0a2.5 2.5 0 1 0 -5 0M154.9 213.18a2.5 2.5 0 1 0 5 0a2.5 2.5 0 1 0 -5 0M156.1 215.32a2.5 2.5 0 1 0 5 0a2.5 2.5 0 1 0 -5 0M157.3 215.64a2.5 2.5 0 1 0 5 0a2.5 2.5 0 1 0 -5 0M158.5 216.41a2.5 2.5 0 1 0 5 0a2.5 2.5 0 1 0 -5 0M159.7 215.61a2.5 2.5 0 1 0 5 0a2.5 2.5 0 1 0 -5 0M160.9 215.43a2.5 2.5 0 1 0 5 0a2.5 2.5 0 1 0 -5 0M162.1 214.69a2.5 2.5 0 1 0 5 0a2.5 2.5 0 1 0 -5 0M163.3 213.75a2.5 2.5 0 1 0 5 0a2.5 2.5 0 1 0 -5 0M164.5 213.72a2.5 2.5 0 1 0 5 0a2.5 2.5 0 1 0 -5 0M165.7 213.9a2.5 2.5 0 1 0 5 0a2.5 2.5 0 1 0 -5 0M166.9 213.94a2.5 2.5 0 1 0 5 0a2.5 2.5 0 1 0 -5 0M168.1 214.56a2.5 2.5 0 1 0 5 0a2.5 2.5 0 1 0 -5 0M169.3 214.55a2.5 2.5 0 1 0 5 0a2.5 2.5 0 1 0 -5 0M170.5 212.98a2.5 2.5 0 1 0 5 0a2.5 2.5 0 1 0 -5 0M171.7 214.04a2.5 2.5 0 1 0 5 0a2.5 2.5 0 1 0 -5 0M172.9 213.99a2.5 2.5 0 1 0 5 0a2.5 2.5 0 1 0 -5 0M174.1 212.89a2.5 2.5 0 1 0 5 0a2.5 2.5 0 1 0 -5 0M175.3 212.46a2.5 2.5 0 1 0 5 0a2.5 2.5 0 1 0 -5 0M176.5 213.7a2.5 2.5 0 1 0 5 0a2.5 2.5 0 1 0 -5 0M177.7 212.93a2.5 2.5 0 1 0 5 0a2.5 2.5 0 1 0 -5 0M178.9 213.03a2.5 2.5 0 1 0 5 0a2.5 2.5 0 1 0 -5 0M180.1 212.71a2.5 2.5 0 1 0 5 0a2.5 2.5 0 1 0 -5 0M181.3 212.83a2.5 2.5 0 1 0 5 0a2.5 2.5 0 1 0 -5 0M182.5 212.81a2.5 2.5 0 1 0 5 0a2.5 2.5 0 1 0 -5 0M183.7 212.68a2.5 2.5 0 1 0 5 0a2.5 2.5 0 1 0 -5 0M184.9 212.8a2.5 2.5 0 1 0 5 0a2.5 2.5 0 1 0 -5 0M186.1 212.91a2.5 2.5 0 1 0 5 0a2.5 2.5 0 1 0 -5 0M187.3 213.67a2.5 2.5 0 1 0 5 0a2.5 2.5 0 1 0 -5 0M188.5 214.69a2.5 2.5 0 1 0 5 0a2.5 2.5 0 1 0 -5 0M189.7 214.13a2.5 2.5 0 1 0 5 0a2.5 2.5 0 1 0 -5 0M190.9 214.11a2.5 2.5 0 1 0 5 0a2.5 2.5 0 1 0 -5 0M192.1 213.83a2.5 2.5 0 1 0 5 0a2.5 2.5 0 1 0 -5 0M193.3 214a2.5 2.5 0 1 0 5 0a2.5 2.5 0 1 0 -5 0M194.5 215.01a2.5 2.5 0 1 0 5 0a2.5 2.5 0 1 0 -5 0M195.7 215.12a2.5 2.5 0 1 0 5 0a2.5 2.5 0 1 0 -5 0M196.9 215a2.5 2.5 0 1 0 5 0a2.5 2.5 0 1 0 -5 0M198.1 215.05a2.5 2.5 0 1 0 5 0a2.5 2.5 0 1 0 -5 0M199.3 214.69a2.5 2.5 0 1 0 5 0a2.5 2.5 0 1 0 -5 0M200.5 214.68a2.5 2.5 0 1 0 5 0a2.5 2.5 0 1 0 -5 0M201.7 215.99a2.5 2.5 0 1 0 5 0a2.5 2.5 0 1 0 -5 0M202.9 214.49a2.5 2.5 0 1 0 5 0a2.5 2.5 0 1 0 -5 0M204.1 214.69a2.5 2.5 0 1 0 5 0a2.5 2.5 0 1 0 -5 0M205.3 215.16a2.5 2.5 0 1 0 5 0a2.5 2.5 0 1 0 -5 0M206.5 215.28a2.5 2.5 0 1 0 5 0a2.5 2.5 0 1 0 -5 0M207.7 215.27a2.5 2.5 0 1 0 5 0a2.5 2.5 0 1 0 -5 0M208.9 214.99a2.5 2.5 0 1 0 5 0a2.5 2.5 0 1 0 -5 0M210.1 215.35a2.5 2.5 0 1 0 5 0a2.5 2.5 0 1 0 -5 0M211.3 215.88a2.5 2.5 0 1 0 5 0a2.5 2.5 0 1 0 -5 0" fill="#33e033" stroke="none" stroke-width="0"/>
<path d="M104.87 213.18 106.56 187.76 108.14 166.71 109.53 151.03 110.17 145.05 110.69 140.99" fill="none" stroke="#5050e0" stroke-width="2.7" stroke-linejoin="round" stroke-linecap="round"/>
<path d="M30.85 220.98a1.55 1.55 0 1 0 3.1 0a1.55 1.55 0 1 0 -3.1 0M31.23 220.98a1.55 1.55 0 1 0 3.1 0a1.55 1.55 0 1 0 -3.1 0M31.6 220.98a1.55 1.55 0 1 0 3.1 0a1.55 1.55 0 1 0 -3.1 0M31.98 220.98a1.55 1.55 0 1 0 3.1 0a1.55 1.55 0 1 0 -3.1 0M32.35 220.98a1.55 1.55 0 1 0 3.1 0a1.55 1.55 0 1 0 -3.1 0M32.73 220.98a1.55 1.55 0 1 0 3.1 0a1.55 1.55 0 1 0 -3.1 0M33.1 220.98a1.55 1.55 0 1 0 3.1 0a1.55 1.55 0 1 0 -3.1 0M33.48 220.98a1.55 1.55 0 1 0 3.1 0a1.55 1.55 0 1 0 -3.1 0M33.86 220.98a1.55 1.55 0 1 0 3.1 0a1.55 1.55 0 1 0 -3.1 0M34.23 220.98a1.55 1.55 0 1 0 3.1 0a1.55 1.55 0 1 0 -3.1 0M34.61 220.98a1.55 1.55 0 1 0 3.1 0a1.55 1.55 0 1 0 -3.1 0M34.98 220.98a1.55 1.55 0 1 0 3.1 0a1.55 1.55 0 1 0 -3.1 0M35.36 220.98a1.55 1.55 0 1 0 3.1 0a1.55 1.55 0 1 0 -3.1 0M35.73 220.98a1.55 1.55 0 1 0 3.1 0a1.55 1.55 0 1 0 -3.1 0M36.11 220.98a1.55 1.55 0 1 0 3.1 0a1.55 1.55 0 1 0 -3.1 0M36.49 220.98a1.55 1.55 0 1 0 3.1 0a1.55 1.55 0 1 0 -3.1 0M36.86 220.98a1.55 1.55 0 1 0 3.1 0a1.55 1.55 0 1 0 -3.1 0M37.24 220.98a1.55 1.55 0 1 0 3.1 0a1.55 1.55 0 1 0 -3.1 0M37.61 220.98a1.55 1.55 0 1 0 3.1 0a1.55 1.55 0 1 0 -3.1 0M37.99 220.98a1.55 1.55 0 1 0 3.1 0a1.55 1.55 0 1 0 -3.1 0M38.36 220.98a1.55 1.55 0 1 0 3.1 0a1.55 1.55 0 1 0 -3.1 0M38.74 220.98a1.55 1.55 0 1 0 3.1 0a1.55 1.55 0 1 0 -3.1 0M39.12 220.98a1.55 1.55 0 1 0 3.1 0a1.55 1.55 0 1 0 -3.1 0M39.49 220.98a1.55 1.55 0 1 0 3.1 0a1.55 1.55 0 1 0 -3.1 0M39.87 220.98a1.55 1.55 0 1 0 3.1 0a1.55 1.55 0 1 0 -3.1 0M40.24 220.98a1.55 1.55 0 1 0 3.1 0a1.55 1.55 0 1 0 -3.1 0M40.62 220.98a1.55 1.55 0 1 0 3.1 0a1.55 1.55 0 1 0 -3.1 0M40.99 220.98a1.55 1.55 0 1 0 3.1 0a1.55 1.55 0 1 0 -3.1 0M41.37 220.98a1.55 1.55 0 1 0 3.1 0a1.55 1.55 0 1 0 -3.1 0M41.75 220.98a1.55 1.55 0 1 0 3.1 0a1.55 1.55 0 1 0 -3.1 0M42.12 220.98a1.55 1.55 0 1 0 3.1 0a1.55 1.55 0 1 0 -3.1 0M42.5 220.98a1.55 1.55 0 1 0 3.1 0a1.55 1.55 0 1 0 -3.1 0M42.87 220.98a1.55 1.55 0 1 0 3.1 0a1.55 1.55 0 1 0 -3.1 0M43.25 220.98a1.55 1.55 0 1 0 3.1 0a1.55 1.55 0 1 0 -3.1 0M43.62 220.98a1.55 1.55 0 1 0 3.1 0a1.55 1.55 0 1 0 -3.1 0M44 220.98a1.55 1.55 0 1 0 3.1 0a1.55 1.55 0 1 0 -3.1 0M44.38 220.98a1.55 1.55 0 1 0 3.1 0a1.55 1.55 0 1 0 -3.1 0M44.75 220.98a1.55 1.55 0 1 0 3.1 0a1.55 1.55 0 1 0 -3.1 0M45.13 220.98a1.55 1.55 0 1 0 3.1 0a1.55 1.55 0 1 0 -3.1 0M45.5 220.98a1.55 1.55 0 1 0 3.1 0a1.55 1.55 0 1 0 -3.1 0M45.88 220.98a1.55 1.55 0 1 0 3.1 0a1.55 1.55 0 1 0 -3.1 0M46.25 220.98a1.55 1.55 0 1 0 3.1 0a1.55 1.55 0 1 0 -3.1 0M46.63 220.98a1.55 1.55 0 1 0 3.1 0a1.55 1.55 0 1 0 -3.1 0M47.01 220.98a1.55 1.55 0 1 0 3.1 0a1.55 1.55 0 1 0 -3.1 0M47.38 220.98a1.55 1.55 0 1 0 3.1 0a1.55 1.55 0 1 0 -3.1 0M47.76 220.98a1.55 1.55 0 1 0 3.1 0a1.55 1.55 0 1 0 -3.1 0M48.13 220.98a1.55 1.55 0 1 0 3.1 0a1.55 1.55 0 1 0 -3.1 0M48.51 220.98a1.55 1.55 0 1 0 3.1 0a1.55 1.55 0 1 0 -3.1 0M48.88 220.98a1.55 1.55 0 1 0 3.1 0a1.55 1.55 0 1 0 -3.1 0M49.26 220.98a1.55 1.55 0 1 0 3.1 0a1.55 1.55 0 1 0 -3.1 0M49.64 220.98a1.55 1.55 0 1 0 3.1 0a1.55 1.55 0 1 0 -3.1 0M50.01 220.98a1.55 1.55 0 1 0 3.1 0a1.55 1.55 0 1 0 -3.1 0M50.39 220.98a1.55 1.55 0 1 0 3.1 0a1.55 1.55 0 1 0 -3.1 0M50.76 220.98a1.55 1.55 0 1 0 3.1 0a1.55 1.55 0 1 0 -3.1 0M51.14 220.98a1.55 1.55 0 1 0 3.1 0a1.55 1.55 0 1 0 -3.1 0M51.51 220.98a1.55 1.55 0 1 0 3.1 0a1.55 1.55 0 1 0 -3.1 0M51.89 220.98a1.55 1.55 0 1 0 3.1 0a1.55 1.55 0 1 0 -3.1 0M52.27 220.98a1.55 1.55 0 1 0 3.1 0a1.55 1.55 0 1 0 -3.1 0M52.64 220.98a1.55 1.55 0 1 0 3.1 0a1.55 1.55 0 1 0 -3.1 0M53.02 220.98a1.55 1.55 0 1 0 3.1 0a1.55 1.55 0 1 0 -3.1 0M53.39 220.98a1.55 1.55 0 1 0 3.1 0a1.55 1.55 0 1 0 -3.1 0M53.77 220.98a1.55 1.55 0 1 0 3.1 0a1.55 1.55 0 1 0 -3.1 0M54.14 220.98a1.55 1.55 0 1 0 3.1 0a1.55 1.55 0 1 0 -3.1 0M54.52 220.98a1.55 1.55 0 1 0 3.1 0a1.55 1.55 0 1 0 -3.1 0M54.9 220.98a1.55 1.55 0 1 0 3.1 0a1.55 1.55 0 1 0 -3.1 0M55.27 220.98a1.55 1.55 0 1 0 3.1 0a1.55 1.55 0 1 0 -3.1 0M55.65 220.98a1.55 1.55 0 1 0 3.1 0a1.55 1.55 0 1 0 -3.1 0M56.02 220.98a1.55 1.55 0 1 0 3.1 0a1.55 1.55 0 1 0 -3.1 0M56.4 220.98a1.55 1.55 0 1 0 3.1 0a1.55 1.55 0 1 0 -3.1 0M56.77 220.98a1.55 1.55 0 1 0 3.1 0a1.55 1.55 0 1 0 -3.1 0M57.15 220.98a1.55 1.55 0 1 0 3.1 0a1.55 1.55 0 1 0 -3.1 0M57.53 220.98a1.55 1.55 0 1 0 3.1 0a1.55 1.55 0 1 0 -3.1 0M57.9 220.98a1.55 1.55 0 1 0 3.1 0a1.55 1.55 0 1 0 -3.1 0M58.28 220.98a1.55 1.55 0 1 0 3.1 0a1.55 1.55 0 1 0 -3.1 0M58.65 220.98a1.55 1.55 0 1 0 3.1 0a1.55 1.55 0 1 0 -3.1 0M59.03 220.98a1.55 1.55 0 1 0 3.1 0a1.55 1.55 0 1 0 -3.1 0M59.4 220.98a1.55 1.55 0 1 0 3.1 0a1.55 1.55 0 1 0 -3.1 0M59.78 220.98a1.55 1.55 0 1 0 3.1 0a1.55 1.55 0 1 0 -3.1 0M60.16 220.98a1.55 1.55 0 1 0 3.1 0a1.55 1.55 0 1 0 -3.1 0M60.53 220.98a1.55 1.55 0 1 0 3.1 0a1.55 1.55 0 1 0 -3.1 0M60.91 220.98a1.55 1.55 0 1 0 3.1 0a1.55 1.55 0 1 0 -3.1 0M61.28 220.98a1.55 1.55 0 1 0 3.1 0a1.55 1.55 0 1 0 -3.1 0M61.66 220.98a1.55 1.55 0 1 0 3.1 0a1.55 1.55 0 1 0 -3.1 0M62.03 220.98a1.55 1.55 0 1 0 3.1 0a1.55 1.55 0 1 0 -3.1 0M62.41 220.98a1.55 1.55 0 1 0 3.1 0a1.55 1.55 0 1 0 -3.1 0M62.79 220.98a1.55 1.55 0 1 0 3.1 0a1.55 1.55 0 1 0 -3.1 0M63.16 220.98a1.55 1.55 0 1 0 3.1 0a1.55 1.55 0 1 0 -3.1 0M63.54 220.98a1.55 1.55 0 1 0 3.1 0a1.55 1.55 0 1 0 -3.1 0M63.91 220.98a1.55 1.55 0 1 0 3.1 0a1.55 1.55 0 1 0 -3.1 0M64.29 220.98a1.55 1.55 0 1 0 3.1 0a1.55 1.55 0 1 0 -3.1 0M64.66 220.98a1.55 1.55 0 1 0 3.1 0a1.55 1.55 0 1 0 -3.1 0M65.04 220.98a1.55 1.55 0 1 0 3.1 0a1.55 1.55 0 1 0 -3.1 0M65.42 220.98a1.55 1.55 0 1 0 3.1 0a1.55 1.55 0 1 0 -3.1 0M65.79 220.98a1.55 1.55 0 1 0 3.1 0a1.55 1.55 0 1 0 -3.1 0M66.17 220.98a1.55 1.55 0 1 0 3.1 0a1.55 1.55 0 1 0 -3.1 0M66.54 220.98a1.55 1.55 0 1 0 3.1 0a1.55 1.55 0 1 0 -3.1 0M66.92 220.98a1.55 1.55 0 1 0 3.1 0a1.55 1.55 0 1 0 -3.1 0M67.29 220.98a1.55 1.55 0 1 0 3.1 0a1.55 1.55 0 1 0 -3.1 0M67.67 220.98a1.55 1.55 0 1 0 3.1 0a1.55 1.55 0 1 0 -3.1 0M68.05 220.98a1.55 1.55 0 1 0 3.1 0a1.55 1.55 0 1 0 -3.1 0M68.42 220.98a1.55 1.55 0 1 0 3.1 0a1.55 1.55 0 1 0 -3.1 0M68.8 220.98a1.55 1.55 0 1 0 3.1 0a1.55 1.55 0 1 0 -3.1 0M69.17 220.98a1.55 1.55 0 1 0 3.1 0a1.55 1.55 0 1 0 -3.1 0M69.55 220.98a1.55 1.55 0 1 0 3.1 0a1.55 1.55 0 1 0 -3.1 0M69.92 220.98a1.55 1.55 0 1 0 3.1 0a1.55 1.55 0 1 0 -3.1 0M70.3 220.98a1.55 1.55 0 1 0 3.1 0a1.55 1.55 0 1 0 -3.1 0M70.68 220.98a1.55 1.55 0 1 0 3.1 0a1.55 1.55 0 1 0 -3.1 0M71.05 220.98a1.55 1.55 0 1 0 3.1 0a1.55 1.55 0 1 0 -3.1 0M71.43 220.98a1.55 1.55 0 1 0 3.1 0a1.55 1.55 0 1 0 -3.1 0M71.8 220.98a1.55 1.55 0 1 0 3.1 0a1.55 1.55 0 1 0 -3.1 0M72.18 220.98a1.55 1.55 0 1 0 3.1 0a1.55 1.55 0 1 0 -3.1 0M72.55 220.98a1.55 1.55 0 1 0 3.1 0a1.55 1.55 0 1 0 -3.1 0M72.93 220.98a1.55 1.55 0 1 0 3.1 0a1.55 1.55 0 1 0 -3.1 0M73.31 220.98a1.55 1.55 0 1 0 3.1 0a1.55 1.55 0 1 0 -3.1 0M73.68 220.98a1.55 1.55 0 1 0 3.1 0a1.55 1.55 0 1 0 -3.1 0M74.06 220.98a1.55 1.55 0 1 0 3.1 0a1.55 1.55 0 1 0 -3.1 0M74.43 220.98a1.55 1.55 0 1 0 3.1 0a1.55 1.55 0 1 0 -3.1 0M74.81 220.98a1.55 1.55 0 1 0 3.1 0a1.55 1.55 0 1 0 -3.1 0M75.18 220.98a1.55 1.55 0 1 0 3.1 0a1.55 1.55 0 1 0 -3.1 0M75.56 220.98a1.55 1.55 0 1 0 3.1 0a1.55 1.55 0 1 0 -3.1 0M75.94 220.98a1.55 1.55 0 1 0 3.1 0a1.55 1.55 0 1 0 -3.1 0M76.31 220.98a1.55 1.55 0 1 0 3.1 0a1.55 1.55 0 1 0 -3.1 0M76.69 220.98a1.55 1.55 0 1 0 3.1 0a1.55 1.55 0 1 0 -3.1 0M77.06 220.98a1.55 1.55 0 1 0 3.1 0a1.55 1.55 0 1 0 -3.1 0M77.44 220.98a1.55 1.55 0 1 0 3.1 0a1.55 1.55 0 1 0 -3.1 0M77.81 220.98a1.55 1.55 0 1 0 3.1 0a1.55 1.55 0 1 0 -3.1 0M78.19 220.98a1.55 1.55 0 1 0 3.1 0a1.55 1.55 0 1 0 -3.1 0M78.57 220.98a1.55 1.55 0 1 0 3.1 0a1.55 1.55 0 1 0 -3.1 0M78.94 220.98a1.55 1.55 0 1 0 3.1 0a1.55 1.55 0 1 0 -3.1 0M79.32 220.98a1.55 1.55 0 1 0 3.1 0a1.55 1.55 0 1 0 -3.1 0M79.69 220.98a1.55 1.55 0 1 0 3.1 0a1.55 1.55 0 1 0 -3.1 0M80.07 220.98a1.55 1.55 0 1 0 3.1 0a1.55 1.55 0 1 0 -3.1 0M80.44 220.98a1.55 1.55 0 1 0 3.1 0a1.55 1.55 0 1 0 -3.1 0M80.82 220.98a1.55 1.55 0 1 0 3.1 0a1.55 1.55 0 1 0 -3.1 0M81.2 220.98a1.55 1.55 0 1 0 3.1 0a1.55 1.55 0 1 0 -3.1 0M81.57 220.98a1.55 1.55 0 1 0 3.1 0a1.55 1.55 0 1 0 -3.1 0M81.95 220.98a1.55 1.55 0 1 0 3.1 0a1.55 1.55 0 1 0 -3.1 0M82.32 220.98a1.55 1.55 0 1 0 3.1 0a1.55 1.55 0 1 0 -3.1 0M82.7 220.98a1.55 1.55 0 1 0 3.1 0a1.55 1.55 0 1 0 -3.1 0M83.07 220.98a1.55 1.55 0 1 0 3.1 0a1.55 1.55 0 1 0 -3.1 0M83.45 220.98a1.55 1.55 0 1 0 3.1 0a1.55 1.55 0 1 0 -3.1 0M83.83 220.98a1.55 1.55 0 1 0 3.1 0a1.55 1.55 0 1 0 -3.1 0M84.2 220.98a1.55 1.55 0 1 0 3.1 0a1.55 1.55 0 1 0 -3.1 0M84.58 220.98a1.55 1.55 0 1 0 3.1 0a1.55 1.55 0 1 0 -3.1 0M84.95 220.98a1.55 1.55 0 1 0 3.1 0a1.55 1.55 0 1 0 -3.1 0M85.33 220.98a1.55 1.55 0 1 0 3.1 0a1.55 1.55 0 1 0 -3.1 0M85.7 220.98a1.55 1.55 0 1 0 3.1 0a1.55 1.55 0 1 0 -3.1 0M86.08 220.98a1.55 1.55 0 1 0 3.1 0a1.55 1.55 0 1 0 -3.1 0M86.46 220.98a1.55 1.55 0 1 0 3.1 0a1.55 1.55 0 1 0 -3.1 0M86.83 220.98a1.55 1.55 0 1 0 3.1 0a1.55 1.55 0 1 0 -3.1 0M87.21 220.98a1.55 1.55 0 1 0 3.1 0a1.55 1.55 0 1 0 -3.1 0M87.58 220.98a1.55 1.55 0 1 0 3.1 0a1.55 1.55 0 1 0 -3.1 0M87.96 220.98a1.55 1.55 0 1 0 3.1 0a1.55 1.55 0 1 0 -3.1 0M88.33 220.98a1.55 1.55 0 1 0 3.1 0a1.55 1.55 0 1 0 -3.1 0M88.71 220.98a1.55 1.55 0 1 0 3.1 0a1.55 1.55 0 1 0 -3.1 0M89.09 220.98a1.55 1.55 0 1 0 3.1 0a1.55 1.55 0 1 0 -3.1 0M89.46 220.98a1.55 1.55 0 1 0 3.1 0a1.55 1.55 0 1 0 -3.1 0M89.84 220.98a1.55 1.55 0 1 0 3.1 0a1.55 1.55 0 1 0 -3.1 0M90.21 220.98a1.55 1.55 0 1 0 3.1 0a1.55 1.55 0 1 0 -3.1 0M90.59 220.98a1.55 1.55 0 1 0 3.1 0a1.55 1.55 0 1 0 -3.1 0M90.96 220.98a1.55 1.55 0 1 0 3.1 0a1.55 1.55 0 1 0 -3.1 0M91.34 220.98a1.55 1.55 0 1 0 3.1 0a1.55 1.55 0 1 0 -3.1 0M91.72 220.98a1.55 1.55 0 1 0 3.1 0a1.55 1.55 0 1 0 -3.1 0M92.09 220.98a1.55 1.55 0 1 0 3.1 0a1.55 1.55 0 1 0 -3.1 0M92.47 220.98a1.55 1.55 0 1 0 3.1 0a1.55 1.55 0 1 0 -3.1 0M92.84 220.98a1.55 1.55 0 1 0 3.1 0a1.55 1.55 0 1 0 -3.1 0M93.22 220.98a1.55 1.55 0 1 0 3.1 0a1.55 1.55 0 1 0 -3.1 0M93.59 220.98a1.55 1.55 0 1 0 3.1 0a1.55 1.55 0 1 0 -3.1 0M93.97 220.98a1.55 1.55 0 1 0 3.1 0a1.55 1.55 0 1 0 -3.1 0M94.35 220.98a1.55 1.55 0 1 0 3.1 0a1.55 1.55 0 1 0 -3.1 0M94.72 220.98a1.55 1.55 0 1 0 3.1 0a1.55 1.55 0 1 0 -3.1 0M95.1 220.98a1.55 1.55 0 1 0 3.1 0a1.55 1.55 0 1 0 -3.1 0M95.47 220.98a1.55 1.55 0 1 0 3.1 0a1.55 1.55 0 1 0 -3.1 0M95.85 220.98a1.55 1.55 0 1 0 3.1 0a1.55 1.55 0 1 0 -3.1 0M96.22 220.98a1.55 1.55 0 1 0 3.1 0a1.55 1.55 0 1 0 -3.1 0M96.6 220.98a1.55 1.55 0 1 0 3.1 0a1.55 1.55 0 1 0 -3.1 0M96.98 220.98a1.55 1.55 0 1 0 3.1 0a1.55 1.55 0 1 0 -3.1 0M97.35 220.98a1.55 1.55 0 1 0 3.1 0a1.55 1.55 0 1 0 -3.1 0M97.73 220.98a1.55 1.55 0 1 0 3.1 0a1.55 1.55 0 1 0 -3.1 0M98.1 220.98a1.55 1.55 0 1 0 3.1 0a1.55 1.55 0 1 0 -3.1 0M98.48 220.98a1.55 1.55 0 1 0 3.1 0a1.55 1.55 0 1 0 -3.1 0M98.85 220.98a1.55 1.55 0 1 0 3.1 0a1.55 1.55 0 1 0 -3.1 0M99.23 220.98a1.55 1.55 0 1 0 3.1 0a1.55 1.55 0 1 0 -3.1 0M99.61 220.98a1.55 1.55 0 1 0 3.1 0a1.55 1.55 0 1 0 -3.1 0M99.98 220.98a1.55 1.55 0 1 0 3.1 0a1.55 1.55 0 1 0 -3.1 0M100.36 220.98a1.55 1.55 0 1 0 3.1 0a1.55 1.55 0 1 0 -3.1 0M100.73 220.98a1.55 1.55 0 1 0 3.1 0a1.55 1.55 0 1 0 -3.1 0M101.11 220.97a1.55 1.55 0 1 0 3.1 0a1.55 1.55 0 1 0 -3.1 0M101.48 220.97a1.55 1.55 0 1 0 3.1 0a1.55 1.55 0 1 0 -3.1 0M101.86 220.97a1.55 1.55 0 1 0 3.1 0a1.55 1.55 0 1 0 -3.1 0M102.24 220.96a1.55 1.55 0 1 0 3.1 0a1.55 1.55 0 1 0 -3.1 0M102.61 220.52a1.55 1.55 0 1 0 3.1 0a1.55 1.55 0 1 0 -3.1 0M102.8 219.56a1.55 1.55 0 1 0 3.1 0a1.55 1.55 0 1 0 -3.1 0M102.99 217.82a1.55 1.55 0 1 0 3.1 0a1.55 1.55 0 1 0 -3.1 0M103.17 215.35a1.55 1.55 0 1 0 3.1 0a1.55 1.55 0 1 0 -3.1 0M103.36 212.53a1.55 1.55 0 1 0 3.1 0a1.55 1.55 0 1 0 -3.1 0M108.85 143.16a1.55 1.55 0 1 0 3.1 0a1.55 1.55 0 1 0 -3.1 0M109.04 141.74a1.55 1.55 0 1 0 3.1 0a1.55 1.55 0 1 0 -3.1 0M109.22 140.47a1.55 1.55 0 1 0 3.1 0a1.55 1.55 0 1 0 -3.1 0M109.41 139.42a1.55 1.55 0 1 0 3.1 0a1.55 1.55 0 1 0 -3.1 0M109.6 138.66a1.55 1.55 0 1 0 3.1 0a1.55 1.55 0 1 0 -3.1 0M109.79 138.31a1.55 1.55 0 1 0 3.1 0a1.55 1.55 0 1 0 -3.1 0M110.16 138.54a1.55 1.55 0 1 0 3.1 0a1.55 1.55 0 1 0 -3.1 0M110.35 138.86a1.55 1.55 0 1 0 3.1 0a1.55 1.55 0 1 0 -3.1 0M110.54 139.21a1.55 1.55 0 1 0 3.1 0a1.55 1.55 0 1 0 -3.1 0M110.73 139.55a1.55 1.55 0 1 0 3.1 0a1.55 1.55 0 1 0 -3.1 0M110.91 139.9a1.55 1.55 0 1 0 3.1 0a1.55 1.55 0 1 0 -3.1 0M111.1 140.25a1.55 1.55 0 1 0 3.1 0a1.55 1.55 0 1 0 -3.1 0M111.29 140.59a1.55 1.55 0 1 0 3.1 0a1.55 1.55 0 1 0 -3.1 0M111.48 140.94a1.55 1.55 0 1 0 3.1 0a1.55 1.55 0 1 0 -3.1 0M111.67 141.3a1.55 1.55 0 1 0 3.1 0a1.55 1.55 0 1 0 -3.1 0M111.85 141.7a1.55 1.55 0 1 0 3.1 0a1.55 1.55 0 1 0 -3.1 0M112.04 142.18a1.55 1.55 0 1 0 3.1 0a1.55 1.55 0 1 0 -3.1 0M112.23 142.74a1.55 1.55 0 1 0 3.1 0a1.55 1.55 0 1 0 -3.1 0M112.42 143.37a1.55 1.55 0 1 0 3.1 0a1.55 1.55 0 1 0 -3.1 0M112.61 144.03a1.55 1.55 0 1 0 3.1 0a1.55 1.55 0 1 0 -3.1 0M112.79 144.68a1.55 1.55 0 1 0 3.1 0a1.55 1.55 0 1 0 -3.1 0M112.98 145.33a1.55 1.55 0 1 0 3.1 0a1.55 1.55 0 1 0 -3.1 0M113.17 145.98a1.55 1.55 0 1 0 3.1 0a1.55 1.55 0 1 0 -3.1 0M113.36 146.62a1.55 1.55 0 1 0 3.1 0a1.55 1.55 0 1 0 -3.1 0M113.54 147.26a1.55 1.55 0 1 0 3.1 0a1.55 1.55 0 1 0 -3.1 0M113.73 147.89a1.55 1.55 0 1 0 3.1 0a1.55 1.55 0 1 0 -3.1 0M113.92 148.56a1.55 1.55 0 1 0 3.1 0a1.55 1.55 0 1 0 -3.1 0M114.11 149.28a1.55 1.55 0 1 0 3.1 0a1.55 1.55 0 1 0 -3.1 0M114.3 150.1a1.55 1.55 0 1 0 3.1 0a1.55 1.55 0 1 0 -3.1 0M114.48 151.02a1.55 1.55 0 1 0 3.1 0a1.55 1.55 0 1 0 -3.1 0M114.67 151.98a1.55 1.55 0 1 0 3.1 0a1.55 1.55 0 1 0 -3.1 0M114.86 152.95a1.55 1.55 0 1 0 3.1 0a1.55 1.55 0 1 0 -3.1 0M115.05 153.91a1.55 1.55 0 1 0 3.1 0a1.55 1.55 0 1 0 -3.1 0M115.24 154.86a1.55 1.55 0 1 0 3.1 0a1.55 1.55 0 1 0 -3.1 0M115.42 155.79a1.55 1.55 0 1 0 3.1 0a1.55 1.55 0 1 0 -3.1 0M115.61 156.71a1.55 1.55 0 1 0 3.1 0a1.55 1.55 0 1 0 -3.1 0M115.8 157.58a1.55 1.55 0 1 0 3.1 0a1.55 1.55 0 1 0 -3.1 0M115.99 158.4a1.55 1.55 0 1 0 3.1 0a1.55 1.55 0 1 0 -3.1 0M116.17 159.14a1.55 1.55 0 1 0 3.1 0a1.55 1.55 0 1 0 -3.1 0M116.36 159.83a1.55 1.55 0 1 0 3.1 0a1.55 1.55 0 1 0 -3.1 0M116.55 160.48a1.55 1.55 0 1 0 3.1 0a1.55 1.55 0 1 0 -3.1 0M116.74 161.12a1.55 1.55 0 1 0 3.1 0a1.55 1.55 0 1 0 -3.1 0M116.93 161.75a1.55 1.55 0 1 0 3.1 0a1.55 1.55 0 1 0 -3.1 0M117.11 162.37a1.55 1.55 0 1 0 3.1 0a1.55 1.55 0 1 0 -3.1 0M117.3 162.99a1.55 1.55 0 1 0 3.1 0a1.55 1.55 0 1 0 -3.1 0M117.49 163.6a1.55 1.55 0 1 0 3.1 0a1.55 1.55 0 1 0 -3.1 0M117.68 164.2a1.55 1.55 0 1 0 3.1 0a1.55 1.55 0 1 0 -3.1 0M117.87 164.8a1.55 1.55 0 1 0 3.1 0a1.55 1.55 0 1 0 -3.1 0M118.05 165.39a1.55 1.55 0 1 0 3.1 0a1.55 1.55 0 1 0 -3.1 0M118.24 165.98a1.55 1.55 0 1 0 3.1 0a1.55 1.55 0 1 0 -3.1 0M118.43 166.55a1.55 1.55 0 1 0 3.1 0a1.55 1.55 0 1 0 -3.1 0M118.62 167.13a1.55 1.55 0 1 0 3.1 0a1.55 1.55 0 1 0 -3.1 0M118.8 167.69a1.55 1.55 0 1 0 3.1 0a1.55 1.55 0 1 0 -3.1 0M118.99 168.26a1.55 1.55 0 1 0 3.1 0a1.55 1.55 0 1 0 -3.1 0M119.18 168.81a1.55 1.55 0 1 0 3.1 0a1.55 1.55 0 1 0 -3.1 0M119.37 169.36a1.55 1.55 0 1 0 3.1 0a1.55 1.55 0 1 0 -3.1 0M119.56 169.9a1.55 1.55 0 1 0 3.1 0a1.55 1.55 0 1 0 -3.1 0M119.74 170.44a1.55 1.55 0 1 0 3.1 0a1.55 1.55 0 1 0 -3.1 0M119.93 170.97a1.55 1.55 0 1 0 3.1 0a1.55 1.55 0 1 0 -3.1 0M120.12 171.5a1.55 1.55 0 1 0 3.1 0a1.55 1.55 0 1 0 -3.1 0M120.31 172.02a1.55 1.55 0 1 0 3.1 0a1.55 1.55 0 1 0 -3.1 0M120.5 172.53a1.55 1.55 0 1 0 3.1 0a1.55 1.55 0 1 0 -3.1 0M120.68 173.04a1.55 1.55 0 1 0 3.1 0a1.55 1.55 0 1 0 -3.1 0M120.87 173.55a1.55 1.55 0 1 0 3.1 0a1.55 1.55 0 1 0 -3.1 0M121.06 174.04a1.55 1.55 0 1 0 3.1 0a1.55 1.55 0 1 0 -3.1 0M121.25 174.51a1.55 1.55 0 1 0 3.1 0a1.55 1.55 0 1 0 -3.1 0M121.43 174.96a1.55 1.55 0 1 0 3.1 0a1.55 1.55 0 1 0 -3.1 0M121.62 175.36a1.55 1.55 0 1 0 3.1 0a1.55 1.55 0 1 0 -3.1 0M121.81 175.75a1.55 1.55 0 1 0 3.1 0a1.55 1.55 0 1 0 -3.1 0M122 176.12a1.55 1.55 0 1 0 3.1 0a1.55 1.55 0 1 0 -3.1 0M122.19 176.48a1.55 1.55 0 1 0 3.1 0a1.55 1.55 0 1 0 -3.1 0M122.37 176.84a1.55 1.55 0 1 0 3.1 0a1.55 1.55 0 1 0 -3.1 0M122.56 177.2a1.55 1.55 0 1 0 3.1 0a1.55 1.55 0 1 0 -3.1 0M122.75 177.55a1.55 1.55 0 1 0 3.1 0a1.55 1.55 0 1 0 -3.1 0M122.94 177.9a1.55 1.55 0 1 0 3.1 0a1.55 1.55 0 1 0 -3.1 0M123.13 178.25a1.55 1.55 0 1 0 3.1 0a1.55 1.55 0 1 0 -3.1 0M123.31 178.6a1.55 1.55 0 1 0 3.1 0a1.55 1.55 0 1 0 -3.1 0M123.5 178.94a1.55 1.55 0 1 0 3.1 0a1.55 1.55 0 1 0 -3.1 0M123.69 179.28a1.55 1.55 0 1 0 3.1 0a1.55 1.55 0 1 0 -3.1 0M123.88 179.62a1.55 1.55 0 1 0 3.1 0a1.55 1.55 0 1 0 -3.1 0M124.06 179.95a1.55 1.55 0 1 0 3.1 0a1.55 1.55 0 1 0 -3.1 0M124.25 180.29a1.55 1.55 0 1 0 3.1 0a1.55 1.55 0 1 0 -3.1 0M124.44 180.62a1.55 1.55 0 1 0 3.1 0a1.55 1.55 0 1 0 -3.1 0M124.63 180.94a1.55 1.55 0 1 0 3.1 0a1.55 1.55 0 1 0 -3.1 0M124.82 181.27a1.55 1.55 0 1 0 3.1 0a1.55 1.55 0 1 0 -3.1 0M125 181.59a1.55 1.55 0 1 0 3.1 0a1.55 1.55 0 1 0 -3.1 0M125.19 181.91a1.55 1.55 0 1 0 3.1 0a1.55 1.55 0 1 0 -3.1 0M125.38 182.22a1.55 1.55 0 1 0 3.1 0a1.55 1.55 0 1 0 -3.1 0M125.57 182.54a1.55 1.55 0 1 0 3.1 0a1.55 1.55 0 1 0 -3.1 0M125.76 182.85a1.55 1.55 0 1 0 3.1 0a1.55 1.55 0 1 0 -3.1 0M125.94 183.16a1.55 1.55 0 1 0 3.1 0a1.55 1.55 0 1 0 -3.1 0M126.13 183.46a1.55 1.55 0 1 0 3.1 0a1.55 1.55 0 1 0 -3.1 0M126.32 183.77a1.55 1.55 0 1 0 3.1 0a1.55 1.55 0 1 0 -3.1 0M126.51 184.07a1.55 1.55 0 1 0 3.1 0a1.55 1.55 0 1 0 -3.1 0M126.69 184.37a1.55 1.55 0 1 0 3.1 0a1.55 1.55 0 1 0 -3.1 0M126.88 184.66a1.55 1.55 0 1 0 3.1 0a1.55 1.55 0 1 0 -3.1 0M127.07 184.96a1.55 1.55 0 1 0 3.1 0a1.55 1.55 0 1 0 -3.1 0M127.26 185.25a1.55 1.55 0 1 0 3.1 0a1.55 1.55 0 1 0 -3.1 0M127.45 185.54a1.55 1.55 0 1 0 3.1 0a1.55 1.55 0 1 0 -3.1 0M127.63 185.83a1.55 1.55 0 1 0 3.1 0a1.55 1.55 0 1 0 -3.1 0M127.82 186.11a1.55 1.55 0 1 0 3.1 0a1.55 1.55 0 1 0 -3.1 0M128.01 186.4a1.55 1.55 0 1 0 3.1 0a1.55 1.55 0 1 0 -3.1 0M128.2 186.69a1.55 1.55 0 1 0 3.1 0a1.55 1.55 0 1 0 -3.1 0M128.39 187a1.55 1.55 0 1 0 3.1 0a1.55 1.55 0 1 0 -3.1 0M128.57 187.31a1.55 1.55 0 1 0 3.1 0a1.55 1.55 0 1 0 -3.1 0M128.76 187.64a1.55 1.55 0 1 0 3.1 0a1.55 1.55 0 1 0 -3.1 0M128.95 187.96a1.55 1.55 0 1 0 3.1 0a1.55 1.55 0 1 0 -3.1 0M129.14 188.28a1.55 1.55 0 1 0 3.1 0a1.55 1.55 0 1 0 -3.1 0M129.32 188.6a1.55 1.55 0 1 0 3.1 0a1.55 1.55 0 1 0 -3.1 0M129.51 188.92a1.55 1.55 0 1 0 3.1 0a1.55 1.55 0 1 0 -3.1 0M129.7 189.23a1.55 1.55 0 1 0 3.1 0a1.55 1.55 0 1 0 -3.1 0M129.89 189.54a1.55 1.55 0 1 0 3.1 0a1.55 1.55 0 1 0 -3.1 0M130.08 189.85a1.55 1.55 0 1 0 3.1 0a1.55 1.55 0 1 0 -3.1 0M130.26 190.16a1.55 1.55 0 1 0 3.1 0a1.55 1.55 0 1 0 -3.1 0M130.45 190.46a1.55 1.55 0 1 0 3.1 0a1.55 1.55 0 1 0 -3.1 0M130.64 190.76a1.55 1.55 0 1 0 3.1 0a1.55 1.55 0 1 0 -3.1 0M130.83 191.05a1.55 1.55 0 1 0 3.1 0a1.55 1.55 0 1 0 -3.1 0M131.02 191.34a1.55 1.55 0 1 0 3.1 0a1.55 1.55 0 1 0 -3.1 0M131.2 191.63a1.55 1.55 0 1 0 3.1 0a1.55 1.55 0 1 0 -3.1 0M131.39 191.92a1.55 1.55 0 1 0 3.1 0a1.55 1.55 0 1 0 -3.1 0M131.58 192.21a1.55 1.55 0 1 0 3.1 0a1.55 1.55 0 1 0 -3.1 0M131.77 192.49a1.55 1.55 0 1 0 3.1 0a1.55 1.55 0 1 0 -3.1 0M131.95 192.77a1.55 1.55 0 1 0 3.1 0a1.55 1.55 0 1 0 -3.1 0M132.14 193.04a1.55 1.55 0 1 0 3.1 0a1.55 1.55 0 1 0 -3.1 0M132.33 193.31a1.55 1.55 0 1 0 3.1 0a1.55 1.55 0 1 0 -3.1 0M132.52 193.59a1.55 1.55 0 1 0 3.1 0a1.55 1.55 0 1 0 -3.1 0M132.71 193.85a1.55 1.55 0 1 0 3.1 0a1.55 1.55 0 1 0 -3.1 0M132.89 194.12a1.55 1.55 0 1 0 3.1 0a1.55 1.55 0 1 0 -3.1 0M133.08 194.38a1.55 1.55 0 1 0 3.1 0a1.55 1.55 0 1 0 -3.1 0M133.27 194.64a1.55 1.55 0 1 0 3.1 0a1.55 1.55 0 1 0 -3.1 0M133.46 194.9a1.55 1.55 0 1 0 3.1 0a1.55 1.55 0 1 0 -3.1 0M133.65 195.15a1.55 1.55 0 1 0 3.1 0a1.55 1.55 0 1 0 -3.1 0M133.83 195.41a1.55 1.55 0 1 0 3.1 0a1.55 1.55 0 1 0 -3.1 0M134.02 195.66a1.55 1.55 0 1 0 3.1 0a1.55 1.55 0 1 0 -3.1 0M134.21 195.9a1.55 1.55 0 1 0 3.1 0a1.55 1.55 0 1 0 -3.1 0M134.4 196.15a1.55 1.55 0 1 0 3.1 0a1.55 1.55 0 1 0 -3.1 0M134.58 196.39a1.55 1.55 0 1 0 3.1 0a1.55 1.55 0 1 0 -3.1 0M134.77 196.63a1.55 1.55 0 1 0 3.1 0a1.55 1.55 0 1 0 -3.1 0M134.96 196.87a1.55 1.55 0 1 0 3.1 0a1.55 1.55 0 1 0 -3.1 0M135.15 197.11a1.55 1.55 0 1 0 3.1 0a1.55 1.55 0 1 0 -3.1 0M135.52 197.57a1.55 1.55 0 1 0 3.1 0a1.55 1.55 0 1 0 -3.1 0M135.9 198.03a1.55 1.55 0 1 0 3.1 0a1.55 1.55 0 1 0 -3.1 0M136.28 198.47a1.55 1.55 0 1 0 3.1 0a1.55 1.55 0 1 0 -3.1 0M136.65 198.91a1.55 1.55 0 1 0 3.1 0a1.55 1.55 0 1 0 -3.1 0M137.03 199.34a1.55 1.55 0 1 0 3.1 0a1.55 1.55 0 1 0 -3.1 0M137.4 199.76a1.55 1.55 0 1 0 3.1 0a1.55 1.55 0 1 0 -3.1 0M137.78 200.18a1.55 1.55 0 1 0 3.1 0a1.55 1.55 0 1 0 -3.1 0M138.15 200.59a1.55 1.55 0 1 0 3.1 0a1.55 1.55 0 1 0 -3.1 0M138.53 201.02a1.55 1.55 0 1 0 3.1 0a1.55 1.55 0 1 0 -3.1 0M138.91 201.46a1.55 1.55 0 1 0 3.1 0a1.55 1.55 0 1 0 -3.1 0M139.28 201.88a1.55 1.55 0 1 0 3.1 0a1.55 1.55 0 1 0 -3.1 0M139.66 202.3a1.55 1.55 0 1 0 3.1 0a1.55 1.55 0 1 0 -3.1 0M140.03 202.71a1.55 1.55 0 1 0 3.1 0a1.55 1.55 0 1 0 -3.1 0M140.41 203.11a1.55 1.55 0 1 0 3.1 0a1.55 1.55 0 1 0 -3.1 0M140.78 203.51a1.55 1.55 0 1 0 3.1 0a1.55 1.55 0 1 0 -3.1 0M141.16 203.89a1.55 1.55 0 1 0 3.1 0a1.55 1.55 0 1 0 -3.1 0M141.54 204.26a1.55 1.55 0 1 0 3.1 0a1.55 1.55 0 1 0 -3.1 0M141.91 204.63a1.55 1.55 0 1 0 3.1 0a1.55 1.55 0 1 0 -3.1 0M142.29 204.99a1.55 1.55 0 1 0 3.1 0a1.55 1.55 0 1 0 -3.1 0M142.66 205.34a1.55 1.55 0 1 0 3.1 0a1.55 1.55 0 1 0 -3.1 0M143.04 205.68a1.55 1.55 0 1 0 3.1 0a1.55 1.55 0 1 0 -3.1 0M143.41 206.02a1.55 1.55 0 1 0 3.1 0a1.55 1.55 0 1 0 -3.1 0M143.79 206.35a1.55 1.55 0 1 0 3.1 0a1.55 1.55 0 1 0 -3.1 0M144.17 206.67a1.55 1.55 0 1 0 3.1 0a1.55 1.55 0 1 0 -3.1 0M144.54 206.98a1.55 1.55 0 1 0 3.1 0a1.55 1.55 0 1 0 -3.1 0M144.92 207.29a1.55 1.55 0 1 0 3.1 0a1.55 1.55 0 1 0 -3.1 0M145.29 207.59a1.55 1.55 0 1 0 3.1 0a1.55 1.55 0 1 0 -3.1 0M145.67 207.89a1.55 1.55 0 1 0 3.1 0a1.55 1.55 0 1 0 -3.1 0M146.04 208.17a1.55 1.55 0 1 0 3.1 0a1.55 1.55 0 1 0 -3.1 0M146.42 208.45a1.55 1.55 0 1 0 3.1 0a1.55 1.55 0 1 0 -3.1 0M146.8 208.73a1.55 1.55 0 1 0 3.1 0a1.55 1.55 0 1 0 -3.1 0M147.17 209a1.55 1.55 0 1 0 3.1 0a1.55 1.55 0 1 0 -3.1 0M147.55 209.26a1.55 1.55 0 1 0 3.1 0a1.55 1.55 0 1 0 -3.1 0M147.92 209.52a1.55 1.55 0 1 0 3.1 0a1.55 1.55 0 1 0 -3.1 0M148.3 209.76a1.55 1.55 0 1 0 3.1 0a1.55 1.55 0 1 0 -3.1 0M148.67 210a1.55 1.55 0 1 0 3.1 0a1.55 1.55 0 1 0 -3.1 0M149.05 210.23a1.55 1.55 0 1 0 3.1 0a1.55 1.55 0 1 0 -3.1 0M149.43 210.46a1.55 1.55 0 1 0 3.1 0a1.55 1.55 0 1 0 -3.1 0M149.8 210.68a1.55 1.55 0 1 0 3.1 0a1.55 1.55 0 1 0 -3.1 0M150.18 210.9a1.55 1.55 0 1 0 3.1 0a1.55 1.55 0 1 0 -3.1 0M150.55 211.11a1.55 1.55 0 1 0 3.1 0a1.55 1.55 0 1 0 -3.1 0M150.93 211.32a1.55 1.55 0 1 0 3.1 0a1.55 1.55 0 1 0 -3.1 0M151.3 211.52a1.55 1.55 0 1 0 3.1 0a1.55 1.55 0 1 0 -3.1 0M151.68 211.72a1.55 1.55 0 1 0 3.1 0a1.55 1.55 0 1 0 -3.1 0M152.06 211.92a1.55 1.55 0 1 0 3.1 0a1.55 1.55 0 1 0 -3.1 0M152.43 212.11a1.55 1.55 0 1 0 3.1 0a1.55 1.55 0 1 0 -3.1 0M152.81 212.29a1.55 1.55 0 1 0 3.1 0a1.55 1.55 0 1 0 -3.1 0M153.18 212.48a1.55 1.55 0 1 0 3.1 0a1.55 1.55 0 1 0 -3.1 0M153.56 212.66a1.55 1.55 0 1 0 3.1 0a1.55 1.55 0 1 0 -3.1 0M153.93 212.83a1.55 1.55 0 1 0 3.1 0a1.55 1.55 0 1 0 -3.1 0M154.31 213a1.55 1.55 0 1 0 3.1 0a1.55 1.55 0 1 0 -3.1 0M154.69 213.17a1.55 1.55 0 1 0 3.1 0a1.55 1.55 0 1 0 -3.1 0M155.06 213.34a1.55 1.55 0 1 0 3.1 0a1.55 1.55 0 1 0 -3.1 0M155.44 213.5a1.55 1.55 0 1 0 3.1 0a1.55 1.55 0 1 0 -3.1 0M155.81 213.66a1.55 1.55 0 1 0 3.1 0a1.55 1.55 0 1 0 -3.1 0M156.19 213.81a1.55 1.55 0 1 0 3.1 0a1.55 1.55 0 1 0 -3.1 0M156.56 213.96a1.55 1.55 0 1 0 3.1 0a1.55 1.55 0 1 0 -3.1 0M156.94 214.11a1.55 1.55 0 1 0 3.1 0a1.55 1.55 0 1 0 -3.1 0M157.32 214.26a1.55 1.55 0 1 0 3.1 0a1.55 1.55 0 1 0 -3.1 0M157.69 214.4a1.55 1.55 0 1 0 3.1 0a1.55 1.55 0 1 0 -3.1 0M158.07 214.54a1.55 1.55 0 1 0 3.1 0a1.55 1.55 0 1 0 -3.1 0M158.44 214.68a1.55 1.55 0 1 0 3.1 0a1.55 1.55 0 1 0 -3.1 0M158.82 214.82a1.55 1.55 0 1 0 3.1 0a1.55 1.55 0 1 0 -3.1 0M159.19 214.95a1.55 1.55 0 1 0 3.1 0a1.55 1.55 0 1 0 -3.1 0M159.57 215.08a1.55 1.55 0 1 0 3.1 0a1.55 1.55 0 1 0 -3.1 0M159.95 215.21a1.55 1.55 0 1 0 3.1 0a1.55 1.55 0 1 0 -3.1 0M160.32 215.34a1.55 1.55 0 1 0 3.1 0a1.55 1.55 0 1 0 -3.1 0M160.7 215.46a1.55 1.55 0 1 0 3.1 0a1.55 1.55 0 1 0 -3.1 0M161.07 215.58a1.55 1.55 0 1 0 3.1 0a1.55 1.55 0 1 0 -3.1 0M161.45 215.7a1.55 1.55 0 1 0 3.1 0a1.55 1.55 0 1 0 -3.1 0M161.82 215.81a1.55 1.55 0 1 0 3.1 0a1.55 1.55 0 1 0 -3.1 0M162.2 215.93a1.55 1.55 0 1 0 3.1 0a1.55 1.55 0 1 0 -3.1 0M162.58 216.04a1.55 1.55 0 1 0 3.1 0a1.55 1.55 0 1 0 -3.1 0M162.95 216.15a1.55 1.55 0 1 0 3.1 0a1.55 1.55 0 1 0 -3.1 0M163.33 216.25a1.55 1.55 0 1 0 3.1 0a1.55 1.55 0 1 0 -3.1 0M163.7 216.35a1.55 1.55 0 1 0 3.1 0a1.55 1.55 0 1 0 -3.1 0M164.08 216.46a1.55 1.55 0 1 0 3.1 0a1.55 1.55 0 1 0 -3.1 0M164.45 216.55a1.55 1.55 0 1 0 3.1 0a1.55 1.55 0 1 0 -3.1 0M164.83 216.65a1.55 1.55 0 1 0 3.1 0a1.55 1.55 0 1 0 -3.1 0M165.21 216.75a1.55 1.55 0 1 0 3.1 0a1.55 1.55 0 1 0 -3.1 0M165.58 216.84a1.55 1.55 0 1 0 3.1 0a1.55 1.55 0 1 0 -3.1 0M165.96 216.93a1.55 1.55 0 1 0 3.1 0a1.55 1.55 0 1 0 -3.1 0M166.33 217.02a1.55 1.55 0 1 0 3.1 0a1.55 1.55 0 1 0 -3.1 0M166.71 217.1a1.55 1.55 0 1 0 3.1 0a1.55 1.55 0 1 0 -3.1 0M167.08 217.19a1.55 1.55 0 1 0 3.1 0a1.55 1.55 0 1 0 -3.1 0M167.46 217.27a1.55 1.55 0 1 0 3.1 0a1.55 1.55 0 1 0 -3.1 0M167.84 217.35a1.55 1.55 0 1 0 3.1 0a1.55 1.55 0 1 0 -3.1 0M168.21 217.43a1.55 1.55 0 1 0 3.1 0a1.55 1.55 0 1 0 -3.1 0M168.59 217.5a1.55 1.55 0 1 0 3.1 0a1.55 1.55 0 1 0 -3.1 0M168.96 217.57a1.55 1.55 0 1 0 3.1 0a1.55 1.55 0 1 0 -3.1 0M169.34 217.64a1.55 1.55 0 1 0 3.1 0a1.55 1.55 0 1 0 -3.1 0M169.71 217.7a1.55 1.55 0 1 0 3.1 0a1.55 1.55 0 1 0 -3.1 0M170.09 217.76a1.55 1.55 0 1 0 3.1 0a1.55 1.55 0 1 0 -3.1 0M170.47 217.82a1.55 1.55 0 1 0 3.1 0a1.55 1.55 0 1 0 -3.1 0M170.84 217.88a1.55 1.55 0 1 0 3.1 0a1.55 1.55 0 1 0 -3.1 0M171.22 217.94a1.55 1.55 0 1 0 3.1 0a1.55 1.55 0 1 0 -3.1 0M171.59 218a1.55 1.55 0 1 0 3.1 0a1.55 1.55 0 1 0 -3.1 0M171.97 218.05a1.55 1.55 0 1 0 3.1 0a1.55 1.55 0 1 0 -3.1 0M172.34 218.11a1.55 1.55 0 1 0 3.1 0a1.55 1.55 0 1 0 -3.1 0M172.72 218.16a1.55 1.55 0 1 0 3.1 0a1.55 1.55 0 1 0 -3.1 0M173.1 218.22a1.55 1.55 0 1 0 3.1 0a1.55 1.55 0 1 0 -3.1 0M173.47 218.27a1.55 1.55 0 1 0 3.1 0a1.55 1.55 0 1 0 -3.1 0M173.85 218.32a1.55 1.55 0 1 0 3.1 0a1.55 1.55 0 1 0 -3.1 0M174.22 218.37a1.55 1.55 0 1 0 3.1 0a1.55 1.55 0 1 0 -3.1 0M174.6 218.42a1.55 1.55 0 1 0 3.1 0a1.55 1.55 0 1 0 -3.1 0M174.97 218.47a1.55 1.55 0 1 0 3.1 0a1.55 1.55 0 1 0 -3.1 0M175.35 218.52a1.55 1.55 0 1 0 3.1 0a1.55 1.55 0 1 0 -3.1 0M175.73 218.56a1.55 1.55 0 1 0 3.1 0a1.55 1.55 0 1 0 -3.1 0M176.1 218.61a1.55 1.55 0 1 0 3.1 0a1.55 1.55 0 1 0 -3.1 0M176.48 218.65a1.55 1.55 0 1 0 3.1 0a1.55 1.55 0 1 0 -3.1 0M176.85 218.7a1.55 1.55 0 1 0 3.1 0a1.55 1.55 0 1 0 -3.1 0M177.23 218.74a1.55 1.55 0 1 0 3.1 0a1.55 1.55 0 1 0 -3.1 0M177.6 218.78a1.55 1.55 0 1 0 3.1 0a1.55 1.55 0 1 0 -3.1 0M177.98 218.82a1.55 1.55 0 1 0 3.1 0a1.55 1.55 0 1 0 -3.1 0M178.36 218.86a1.55 1.55 0 1 0 3.1 0a1.55 1.55 0 1 0 -3.1 0M178.73 218.9a1.55 1.55 0 1 0 3.1 0a1.55 1.55 0 1 0 -3.1 0M179.11 218.94a1.55 1.55 0 1 0 3.1 0a1.55 1.55 0 1 0 -3.1 0M179.48 218.98a1.55 1.55 0 1 0 3.1 0a1.55 1.55 0 1 0 -3.1 0M179.86 219.02a1.55 1.55 0 1 0 3.1 0a1.55 1.55 0 1 0 -3.1 0M180.23 219.06a1.55 1.55 0 1 0 3.1 0a1.55 1.55 0 1 0 -3.1 0M180.61 219.09a1.55 1.55 0 1 0 3.1 0a1.55 1.55 0 1 0 -3.1 0M180.99 219.13a1.55 1.55 0 1 0 3.1 0a1.55 1.55 0 1 0 -3.1 0M181.36 219.16a1.55 1.55 0 1 0 3.1 0a1.55 1.55 0 1 0 -3.1 0M181.74 219.19a1.55 1.55 0 1 0 3.1 0a1.55 1.55 0 1 0 -3.1 0M182.11 219.21a1.55 1.55 0 1 0 3.1 0a1.55 1.55 0 1 0 -3.1 0M182.49 219.24a1.55 1.55 0 1 0 3.1 0a1.55 1.55 0 1 0 -3.1 0M182.86 219.27a1.55 1.55 0 1 0 3.1 0a1.55 1.55 0 1 0 -3.1 0M183.24 219.29a1.55 1.55 0 1 0 3.1 0a1.55 1.55 0 1 0 -3.1 0M183.62 219.32a1.55 1.55 0 1 0 3.1 0a1.55 1.55 0 1 0 -3.1 0M183.99 219.34a1.55 1.55 0 1 0 3.1 0a1.55 1.55 0 1 0 -3.1 0M184.37 219.37a1.55 1.55 0 1 0 3.1 0a1.55 1.55 0 1 0 -3.1 0M184.74 219.39a1.55 1.55 0 1 0 3.1 0a1.55 1.55 0 1 0 -3.1 0M185.12 219.42a1.55 1.55 0 1 0 3.1 0a1.55 1.55 0 1 0 -3.1 0M185.49 219.44a1.55 1.55 0 1 0 3.1 0a1.55 1.55 0 1 0 -3.1 0M185.87 219.46a1.55 1.55 0 1 0 3.1 0a1.55 1.55 0 1 0 -3.1 0M186.25 219.48a1.55 1.55 0 1 0 3.1 0a1.55 1.55 0 1 0 -3.1 0M186.62 219.51a1.55 1.55 0 1 0 3.1 0a1.55 1.55 0 1 0 -3.1 0M187 219.53a1.55 1.55 0 1 0 3.1 0a1.55 1.55 0 1 0 -3.1 0M187.37 219.55a1.55 1.55 0 1 0 3.1 0a1.55 1.55 0 1 0 -3.1 0M187.75 219.57a1.55 1.55 0 1 0 3.1 0a1.55 1.55 0 1 0 -3.1 0M188.12 219.59a1.55 1.55 0 1 0 3.1 0a1.55 1.55 0 1 0 -3.1 0M188.5 219.61a1.55 1.55 0 1 0 3.1 0a1.55 1.55 0 1 0 -3.1 0M188.88 219.63a1.55 1.55 0 1 0 3.1 0a1.55 1.55 0 1 0 -3.1 0M189.25 219.65a1.55 1.55 0 1 0 3.1 0a1.55 1.55 0 1 0 -3.1 0M189.63 219.67a1.55 1.55 0 1 0 3.1 0a1.55 1.55 0 1 0 -3.1 0M190 219.69a1.55 1.55 0 1 0 3.1 0a1.55 1.55 0 1 0 -3.1 0M190.38 219.71a1.55 1.55 0 1 0 3.1 0a1.55 1.55 0 1 0 -3.1 0M190.75 219.73a1.55 1.55 0 1 0 3.1 0a1.55 1.55 0 1 0 -3.1 0M191.13 219.75a1.55 1.55 0 1 0 3.1 0a1.55 1.55 0 1 0 -3.1 0M191.51 219.77a1.55 1.55 0 1 0 3.1 0a1.55 1.55 0 1 0 -3.1 0M191.88 219.79a1.55 1.55 0 1 0 3.1 0a1.55 1.55 0 1 0 -3.1 0M192.26 219.81a1.55 1.55 0 1 0 3.1 0a1.55 1.55 0 1 0 -3.1 0M192.63 219.82a1.55 1.55 0 1 0 3.1 0a1.55 1.55 0 1 0 -3.1 0M193.01 219.84a1.55 1.55 0 1 0 3.1 0a1.55 1.55 0 1 0 -3.1 0M193.38 219.86a1.55 1.55 0 1 0 3.1 0a1.55 1.55 0 1 0 -3.1 0M193.76 219.87a1.55 1.55 0 1 0 3.1 0a1.55 1.55 0 1 0 -3.1 0M194.14 219.89a1.55 1.55 0 1 0 3.1 0a1.55 1.55 0 1 0 -3.1 0M194.51 219.91a1.55 1.55 0 1 0 3.1 0a1.55 1.55 0 1 0 -3.1 0M194.89 219.92a1.55 1.55 0 1 0 3.1 0a1.55 1.55 0 1 0 -3.1 0M195.26 219.94a1.55 1.55 0 1 0 3.1 0a1.55 1.55 0 1 0 -3.1 0M195.64 219.95a1.55 1.55 0 1 0 3.1 0a1.55 1.55 0 1 0 -3.1 0M196.01 219.97a1.55 1.55 0 1 0 3.1 0a1.55 1.55 0 1 0 -3.1 0M196.39 219.98a1.55 1.55 0 1 0 3.1 0a1.55 1.55 0 1 0 -3.1 0M196.77 220a1.55 1.55 0 1 0 3.1 0a1.55 1.55 0 1 0 -3.1 0M197.14 220.01a1.55 1.55 0 1 0 3.1 0a1.55 1.55 0 1 0 -3.1 0M197.52 220.02a1.55 1.55 0 1 0 3.1 0a1.55 1.55 0 1 0 -3.1 0M197.89 220.04a1.55 1.55 0 1 0 3.1 0a1.55 1.55 0 1 0 -3.1 0M198.27 220.05a1.55 1.55 0 1 0 3.1 0a1.55 1.55 0 1 0 -3.1 0M198.64 220.06a1.55 1.55 0 1 0 3.1 0a1.55 1.55 0 1 0 -3.1 0M199.02 220.08a1.55 1.55 0 1 0 3.1 0a1.55 1.55 0 1 0 -3.1 0M199.4 220.09a1.55 1.55 0 1 0 3.1 0a1.55 1.55 0 1 0 -3.1 0M199.77 220.1a1.55 1.55 0 1 0 3.1 0a1.55 1.55 0 1 0 -3.1 0M200.15 220.11a1.55 1.55 0 1 0 3.1 0a1.55 1.55 0 1 0 -3.1 0M200.52 220.12a1.55 1.55 0 1 0 3.1 0a1.55 1.55 0 1 0 -3.1 0M200.9 220.14a1.55 1.55 0 1 0 3.1 0a1.55 1.55 0 1 0 -3.1 0M201.27 220.15a1.55 1.55 0 1 0 3.1 0a1.55 1.55 0 1 0 -3.1 0M201.65 220.16a1.55 1.55 0 1 0 3.1 0a1.55 1.55 0 1 0 -3.1 0M202.03 220.17a1.55 1.55 0 1 0 3.1 0a1.55 1.55 0 1 0 -3.1 0M202.4 220.18a1.55 1.55 0 1 0 3.1 0a1.55 1.55 0 1 0 -3.1 0M202.78 220.19a1.55 1.55 0 1 0 3.1 0a1.55 1.55 0 1 0 -3.1 0M203.15 220.2a1.55 1.55 0 1 0 3.1 0a1.55 1.55 0 1 0 -3.1 0M203.53 220.21a1.55 1.55 0 1 0 3.1 0a1.55 1.55 0 1 0 -3.1 0M203.9 220.22a1.55 1.55 0 1 0 3.1 0a1.55 1.55 0 1 0 -3.1 0M204.28 220.23a1.55 1.55 0 1 0 3.1 0a1.55 1.55 0 1 0 -3.1 0M204.66 220.24a1.55 1.55 0 1 0 3.1 0a1.55 1.55 0 1 0 -3.1 0M205.03 220.25a1.55 1.55 0 1 0 3.1 0a1.55 1.55 0 1 0 -3.1 0M205.41 220.26a1.55 1.55 0 1 0 3.1 0a1.55 1.55 0 1 0 -3.1 0M205.78 220.27a1.55 1.55 0 1 0 3.1 0a1.55 1.55 0 1 0 -3.1 0M206.16 220.28a1.55 1.55 0 1 0 3.1 0a1.55 1.55 0 1 0 -3.1 0M206.53 220.29a1.55 1.55 0 1 0 3.1 0a1.55 1.55 0 1 0 -3.1 0M206.91 220.3a1.55 1.55 0 1 0 3.1 0a1.55 1.55 0 1 0 -3.1 0M207.29 220.31a1.55 1.55 0 1 0 3.1 0a1.55 1.55 0 1 0 -3.1 0M207.66 220.32a1.55 1.55 0 1 0 3.1 0a1.55 1.55 0 1 0 -3.1 0M208.04 220.33a1.55 1.55 0 1 0 3.1 0a1.55 1.55 0 1 0 -3.1 0M208.41 220.34a1.55 1.55 0 1 0 3.1 0a1.55 1.55 0 1 0 -3.1 0M208.79 220.35a1.55 1.55 0 1 0 3.1 0a1.55 1.55 0 1 0 -3.1 0M209.16 220.36a1.55 1.55 0 1 0 3.1 0a1.55 1.55 0 1 0 -3.1 0M209.54 220.37a1.55 1.55 0 1 0 3.1 0a1.55 1.55 0 1 0 -3.1 0M209.92 220.37a1.55 1.55 0 1 0 3.1 0a1.55 1.55 0 1 0 -3.1 0M210.29 220.38a1.55 1.55 0 1 0 3.1 0a1.55 1.55 0 1 0 -3.1 0M210.67 220.39a1.55 1.55 0 1 0 3.1 0a1.55 1.55 0 1 0 -3.1 0M211.04 220.4a1.55 1.55 0 1 0 3.1 0a1.55 1.55 0 1 0 -3.1 0M211.42 220.41a1.55 1.55 0 1 0 3.1 0a1.55 1.55 0 1 0 -3.1 0M211.79 220.41a1.55 1.55 0 1 0 3.1 0a1.55 1.55 0 1 0 -3.1 0M212.17 220.42a1.55 1.55 0 1 0 3.1 0a1.55 1.55 0 1 0 -3.1 0M212.55 220.43a1.55 1.55 0 1 0 3.1 0a1.55 1.55 0 1 0 -3.1 0M212.92 220.44a1.55 1.55 0 1 0 3.1 0a1.55 1.55 0 1 0 -3.1 0M213.3 220.44a1.55 1.55 0 1 0 3.1 0a1.55 1.55 0 1 0 -3.1 0M213.67 220.45a1.55 1.55 0 1 0 3.1 0a1.55 1.55 0 1 0 -3.1 0M214.05 220.46a1.55 1.55 0 1 0 3.1 0a1.55 1.55 0 1 0 -3.1 0M214.42 220.47a1.55 1.55 0 1 0 3.1 0a1.55 1.55 0 1 0 -3.1 0M214.8 220.47a1.55 1.55 0 1 0 3.1 0a1.55 1.55 0 1 0 -3.1 0" fill="none" stroke="#0a0ad0" stroke-width="0.95"/>
<path d="M259.5 220.49a2.5 2.5 0 1 0 5 0a2.5 2.5 0 1 0 -5 0M260.7 221.06a2.5 2.5 0 1 0 5 0a2.5 2.5 0 1 0 -5 0M261.9 220.46a2.5 2.5 0 1 0 5 0a2.5 2.5 0 1 0 -5 0M263.1 219.91a2.5 2.5 0 1 0 5 0a2.5 2.5 0 1 0 -5 0M264.3 219.18a2.5 2.5 0 1 0 5 0a2.5 2.5 0 1 0 -5 0M265.5 219.62a2.5 2.5 0 1 0 5 0a2.5 2.5 0 1 0 -5 0M266.7 219.18a2.5 2.5 0 1 0 5 0a2.5 2.5 0 1 0 -5 0M267.9 218.47a2.5 2.5 0 1 0 5 0a2.5 2.5 0 1 0 -5 0M269.1 218.22a2.5 2.5 0 1 0 5 0a2.5 2.5 0 1 0 -5 0M270.3 217.97a2.5 2.5 0 1 0 5 0a2.5 2.5 0 1 0 -5 0M271.5 216.93a2.5 2.5 0 1 0 5 0a2.5 2.5 0 1 0 -5 0M272.7 217.62a2.5 2.5 0 1 0 5 0a2.5 2.5 0 1 0 -5 0M273.9 217.49a2.5 2.5 0 1 0 5 0a2.5 2.5 0 1 0 -5 0M275.1 217a2.5 2.5 0 1 0 5 0a2.5 2.5 0 1 0 -5 0M276.3 218.09a2.5 2.5 0 1 0 5 0a2.5 2.5 0 1 0 -5 0M277.5 217.91a2.5 2.5 0 1 0 5 0a2.5 2.5 0 1 0 -5 0M278.7 218.52a2.5 2.5 0 1 0 5 0a2.5 2.5 0 1 0 -5 0M279.9 217.91a2.5 2.5 0 1 0 5 0a2.5 2.5 0 1 0 -5 0M281.1 218.79a2.5 2.5 0 1 0 5 0a2.5 2.5 0 1 0 -5 0M282.3 218.13a2.5 2.5 0 1 0 5 0a2.5 2.5 0 1 0 -5 0M283.5 218.22a2.5 2.5 0 1 0 5 0a2.5 2.5 0 1 0 -5 0M284.7 217.96a2.5 2.5 0 1 0 5 0a2.5 2.5 0 1 0 -5 0M285.9 216.07a2.5 2.5 0 1 0 5 0a2.5 2.5 0 1 0 -5 0M287.1 216.4a2.5 2.5 0 1 0 5 0a2.5 2.5 0 1 0 -5 0M288.3 216.29a2.5 2.5 0 1 0 5 0a2.5 2.5 0 1 0 -5 0M289.5 215.73a2.5 2.5 0 1 0 5 0a2.5 2.5 0 1 0 -5 0M290.7 217.39a2.5 2.5 0 1 0 5 0a2.5 2.5 0 1 0 -5 0M291.9 217.05a2.5 2.5 0 1 0 5 0a2.5 2.5 0 1 0 -5 0M293.1 218.59a2.5 2.5 0 1 0 5 0a2.5 2.5 0 1 0 -5 0M294.3 217.73a2.5 2.5 0 1 0 5 0a2.5 2.5 0 1 0 -5 0M295.5 217.15a2.5 2.5 0 1 0 5 0a2.5 2.5 0 1 0 -5 0M296.7 216.54a2.5 2.5 0 1 0 5 0a2.5 2.5 0 1 0 -5 0M297.9 215.87a2.5 2.5 0 1 0 5 0a2.5 2.5 0 1 0 -5 0M299.1 216.05a2.5 2.5 0 1 0 5 0a2.5 2.5 0 1 0 -5 0M300.3 216.91a2.5 2.5 0 1 0 5 0a2.5 2.5 0 1 0 -5 0M301.5 216.78a2.5 2.5 0 1 0 5 0a2.5 2.5 0 1 0 -5 0M302.7 218.02a2.5 2.5 0 1 0 5 0a2.5 2.5 0 1 0 -5 0M303.9 218.94a2.5 2.5 0 1 0 5 0a2.5 2.5 0 1 0 -5 0M305.1 218.1a2.5 2.5 0 1 0 5 0a2.5 2.5 0 1 0 -5 0M306.3 218.32a2.5 2.5 0 1 0 5 0a2.5 2.5 0 1 0 -5 0M307.5 219.35a2.5 2.5 0 1 0 5 0a2.5 2.5 0 1 0 -5 0M308.7 219.27a2.5 2.5 0 1 0 5 0a2.5 2.5 0 1 0 -5 0M309.9 218.72a2.5 2.5 0 1 0 5 0a2.5 2.5 0 1 0 -5 0M311.1 217.83a2.5 2.5 0 1 0 5 0a2.5 2.5 0 1 0 -5 0M312.3 218.7a2.5 2.5 0 1 0 5 0a2.5 2.5 0 1 0 -5 0M313.5 219.39a2.5 2.5 0 1 0 5 0a2.5 2.5 0 1 0 -5 0M314.7 220.08a2.5 2.5 0 1 0 5 0a2.5 2.5 0 1 0 -5 0M315.9 219.84a2.5 2.5 0 1 0 5 0a2.5 2.5 0 1 0 -5 0M317.1 220.19a2.5 2.5 0 1 0 5 0a2.5 2.5 0 1 0 -5 0M318.3 219.88a2.5 2.5 0 1 0 5 0a2.5 2.5 0 1 0 -5 0M319.5 218.55a2.5 2.5 0 1 0 5 0a2.5 2.5 0 1 0 -5 0M320.7 218.07a2.5 2.5 0 1 0 5 0a2.5 2.5 0 1 0 -5 0M321.9 218.06a2.5 2.5 0 1 0 5 0a2.5 2.5 0 1 0 -5 0M323.1 218.59a2.5 2.5 0 1 0 5 0a2.5 2.5 0 1 0 -5 0M324.3 218.32a2.5 2.5 0 1 0 5 0a2.5 2.5 0 1 0 -5 0M325.5 220.06a2.5 2.5 0 1 0 5 0a2.5 2.5 0 1 0 -5 0M326.7 217.87a2.5 2.5 0 1 0 5 0a2.5 2.5 0 1 0 -5 0M327.9 216.75a2.5 2.5 0 1 0 5 0a2.5 2.5 0 1 0 -5 0M329.1 215.43a2.5 2.5 0 1 0 5 0a2.5 2.5 0 1 0 -5 0M330.3 211.69a2.5 2.5 0 1 0 5 0a2.5 2.5 0 1 0 -5 0M331.5 202.52a2.5 2.5 0 1 0 5 0a2.5 2.5 0 1 0 -5 0M332.7 187.35a2.5 2.5 0 1 0 5 0a2.5 2.5 0 1 0 -5 0M333.9 174.88a2.5 2.5 0 1 0 5 0a2.5 2.5 0 1 0 -5 0M335.1 165.02a2.5 2.5 0 1 0 5 0a2.5 2.5 0 1 0 -5 0M336.3 154.65a2.5 2.5 0 1 0 5 0a2.5 2.5 0 1 0 -5 0M337.5 147.61a2.5 2.5 0 1 0 5 0a2.5 2.5 0 1 0 -5 0M338.7 142.39a2.5 2.5 0 1 0 5 0a2.5 2.5 0 1 0 -5 0M339.9 145.48a2.5 2.5 0 1 0 5 0a2.5 2.5 0 1 0 -5 0M341.1 148.25a2.5 2.5 0 1 0 5 0a2.5 2.5 0 1 0 -5 0M342.3 150.44a2.5 2.5 0 1 0 5 0a2.5 2.5 0 1 0 -5 0M343.5 152.66a2.5 2.5 0 1 0 5 0a2.5 2.5 0 1 0 -5 0M344.7 154.27a2.5 2.5 0 1 0 5 0a2.5 2.5 0 1 0 -5 0M345.9 156.39a2.5 2.5 0 1 0 5 0a2.5 2.5 0 1 0 -5 0M347.1 157.49a2.5 2.5 0 1 0 5 0a2.5 2.5 0 1 0 -5 0M348.3 160.2a2.5 2.5 0 1 0 5 0a2.5 2.5 0 1 0 -5 0M349.5 161.89a2.5 2.5 0 1 0 5 0a2.5 2.5 0 1 0 -5 0M350.7 166.44a2.5 2.5 0 1 0 5 0a2.5 2.5 0 1 0 -5 0M351.9 172.58a2.5 2.5 0 1 0 5 0a2.5 2.5 0 1 0 -5 0M353.1 176.02a2.5 2.5 0 1 0 5 0a2.5 2.5 0 1 0 -5 0M354.3 177.69a2.5 2.5 0 1 0 5 0a2.5 2.5 0 1 0 -5 0M355.5 179.65a2.5 2.5 0 1 0 5 0a2.5 2.5 0 1 0 -5 0M356.7 182.55a2.5 2.5 0 1 0 5 0a2.5 2.5 0 1 0 -5 0M357.9 184.31a2.5 2.5 0 1 0 5 0a2.5 2.5 0 1 0 -5 0M359.1 186.54a2.5 2.5 0 1 0 5 0a2.5 2.5 0 1 0 -5 0M360.3 188.17a2.5 2.5 0 1 0 5 0a2.5 2.5 0 1 0 -5 0M361.5 189.19a2.5 2.5 0 1 0 5 0a2.5 2.5 0 1 0 -5 0M362.7 190.28a2.5 2.5 0 1 0 5 0a2.5 2.5 0 1 0 -5 0M363.9 190.11a2.5 2.5 0 1 0 5 0a2.5 2.5 0 1 0 -5 0M365.1 191.23a2.5 2.5 0 1 0 5 0a2.5 2.5 0 1 0 -5 0M366.3 192.3a2.5 2.5 0 1 0 5 0a2.5 2.5 0 1 0 -5 0M367.5 192.64a2.5 2.5 0 1 0 5 0a2.5 2.5 0 1 0 -5 0M368.7 193.74a2.5 2.5 0 1 0 5 0a2.5 2.5 0 1 0 -5 0M369.9 195.39a2.5 2.5 0 1 0 5 0a2.5 2.5 0 1 0 -5 0M371.1 195.49a2.5 2.5 0 1 0 5 0a2.5 2.5 0 1 0 -5 0M372.3 196.03a2.5 2.5 0 1 0 5 0a2.5 2.5 0 1 0 -5 0M373.5 196.71a2.5 2.5 0 1 0 5 0a2.5 2.5 0 1 0 -5 0M374.7 196.25a2.5 2.5 0 1 0 5 0a2.5 2.5 0 1 0 -5 0M375.9 196.94a2.5 2.5 0 1 0 5 0a2.5 2.5 0 1 0 -5 0M377.1 196.24a2.5 2.5 0 1 0 5 0a2.5 2.5 0 1 0 -5 0M378.3 195.84a2.5 2.5 0 1 0 5 0a2.5 2.5 0 1 0 -5 0M379.5 200.34a2.5 2.5 0 1 0 5 0a2.5 2.5 0 1 0 -5 0M380.7 202.32a2.5 2.5 0 1 0 5 0a2.5 2.5 0 1 0 -5 0M381.9 201.79a2.5 2.5 0 1 0 5 0a2.5 2.5 0 1 0 -5 0M383.1 201.86a2.5 2.5 0 1 0 5 0a2.5 2.5 0 1 0 -5 0M384.3 200.25a2.5 2.5 0 1 0 5 0a2.5 2.5 0 1 0 -5 0M385.5 201.66a2.5 2.5 0 1 0 5 0a2.5 2.5 0 1 0 -5 0M386.7 203.04a2.5 2.5 0 1 0 5 0a2.5 2.5 0 1 0 -5 0M387.9 204.61a2.5 2.5 0 1 0 5 0a2.5 2.5 0 1 0 -5 0M389.1 204.11a2.5 2.5 0 1 0 5 0a2.5 2.5 0 1 0 -5 0M390.3 205.68a2.5 2.5 0 1 0 5 0a2.5 2.5 0 1 0 -5 0M391.5 206.7a2.5 2.5 0 1 0 5 0a2.5 2.5 0 1 0 -5 0M392.7 206.72a2.5 2.5 0 1 0 5 0a2.5 2.5 0 1 0 -5 0M393.9 206.88a2.5 2.5 0 1 0 5 0a2.5 2.5 0 1 0 -5 0M395.1 206.45a2.5 2.5 0 1 0 5 0a2.5 2.5 0 1 0 -5 0M396.3 205.86a2.5 2.5 0 1 0 5 0a2.5 2.5 0 1 0 -5 0M397.5 205.84a2.5 2.5 0 1 0 5 0a2.5 2.5 0 1 0 -5 0M398.7 206.96a2.5 2.5 0 1 0 5 0a2.5 2.5 0 1 0 -5 0M399.9 206.86a2.5 2.5 0 1 0 5 0a2.5 2.5 0 1 0 -5 0M401.1 209.54a2.5 2.5 0 1 0 5 0a2.5 2.5 0 1 0 -5 0M402.3 210.41a2.5 2.5 0 1 0 5 0a2.5 2.5 0 1 0 -5 0M403.5 209.87a2.5 2.5 0 1 0 5 0a2.5 2.5 0 1 0 -5 0M404.7 210.02a2.5 2.5 0 1 0 5 0a2.5 2.5 0 1 0 -5 0M405.9 211.86a2.5 2.5 0 1 0 5 0a2.5 2.5 0 1 0 -5 0M407.1 211.69a2.5 2.5 0 1 0 5 0a2.5 2.5 0 1 0 -5 0M408.3 212.23a2.5 2.5 0 1 0 5 0a2.5 2.5 0 1 0 -5 0M409.5 212.27a2.5 2.5 0 1 0 5 0a2.5 2.5 0 1 0 -5 0M410.7 212.68a2.5 2.5 0 1 0 5 0a2.5 2.5 0 1 0 -5 0M411.9 212.26a2.5 2.5 0 1 0 5 0a2.5 2.5 0 1 0 -5 0M413.1 211.64a2.5 2.5 0 1 0 5 0a2.5 2.5 0 1 0 -5 0M414.3 211.54a2.5 2.5 0 1 0 5 0a2.5 2.5 0 1 0 -5 0M415.5 211.57a2.5 2.5 0 1 0 5 0a2.5 2.5 0 1 0 -5 0M416.7 212.11a2.5 2.5 0 1 0 5 0a2.5 2.5 0 1 0 -5 0M417.9 212.33a2.5 2.5 0 1 0 5 0a2.5 2.5 0 1 0 -5 0M419.1 210.96a2.5 2.5 0 1 0 5 0a2.5 2.5 0 1 0 -5 0M420.3 210.45a2.5 2.5 0 1 0 5 0a2.5 2.5 0 1 0 -5 0M421.5 209.85a2.5 2.5 0 1 0 5 0a2.5 2.5 0 1 0 -5 0M422.7 209.76a2.5 2.5 0 1 0 5 0a2.5 2.5 0 1 0 -5 0M423.9 210.81a2.5 2.5 0 1 0 5 0a2.5 2.5 0 1 0 -5 0M425.1 210.96a2.5 2.5 0 1 0 5 0a2.5 2.5 0 1 0 -5 0M426.3 211.04a2.5 2.5 0 1 0 5 0a2.5 2.5 0 1 0 -5 0M427.5 211.41a2.5 2.5 0 1 0 5 0a2.5 2.5 0 1 0 -5 0M428.7 211.36a2.5 2.5 0 1 0 5 0a2.5 2.5 0 1 0 -5 0M429.9 211.76a2.5 2.5 0 1 0 5 0a2.5 2.5 0 1 0 -5 0M431.1 213.52a2.5 2.5 0 1 0 5 0a2.5 2.5 0 1 0 -5 0M432.3 212.2a2.5 2.5 0 1 0 5 0a2.5 2.5 0 1 0 -5 0M433.5 212.44a2.5 2.5 0 1 0 5 0a2.5 2.5 0 1 0 -5 0M434.7 212.92a2.5 2.5 0 1 0 5 0a2.5 2.5 0 1 0 -5 0M435.9 212.69a2.5 2.5 0 1 0 5 0a2.5 2.5 0 1 0 -5 0M437.1 212.3a2.5 2.5 0 1 0 5 0a2.5 2.5 0 1 0 -5 0M438.3 212.01a2.5 2.5 0 1 0 5 0a2.5 2.5 0 1 0 -5 0M439.5 212.71a2.5 2.5 0 1 0 5 0a2.5 2.5 0 1 0 -5 0" fill="#33e033" stroke="none" stroke-width="0"/>
<path d="M333.55 211.25 334.45 196.05 335.28 183.39 336.11 172.03 336.93 162.05 337.76 153.53 338.51 147.16 339.26 142.22 339.64 140.35 339.97 139.07" fill="none" stroke="#5050e0" stroke-width="2.7" stroke-linejoin="round" stroke-linecap="round"/>
<path d="M259.75 220.88a1.55 1.55 0 1 0 3.1 0a1.55 1.55 0 1 0 -3.1 0M260.13 220.88a1.55 1.55 0 1 0 3.1 0a1.55 1.55 0 1 0 -3.1 0M260.5 220.88a1.55 1.55 0 1 0 3.1 0a1.55 1.55 0 1 0 -3.1 0M260.88 220.88a1.55 1.55 0 1 0 3.1 0a1.55 1.55 0 1 0 -3.1 0M261.25 220.88a1.55 1.55 0 1 0 3.1 0a1.55 1.55 0 1 0 -3.1 0M261.63 220.88a1.55 1.55 0 1 0 3.1 0a1.55 1.55 0 1 0 -3.1 0M262 220.88a1.55 1.55 0 1 0 3.1 0a1.55 1.55 0 1 0 -3.1 0M262.38 220.88a1.55 1.55 0 1 0 3.1 0a1.55 1.55 0 1 0 -3.1 0M262.75 220.88a1.55 1.55 0 1 0 3.1 0a1.55 1.55 0 1 0 -3.1 0M263.13 220.88a1.55 1.55 0 1 0 3.1 0a1.55 1.55 0 1 0 -3.1 0M263.51 220.88a1.55 1.55 0 1 0 3.1 0a1.55 1.55 0 1 0 -3.1 0M263.88 220.88a1.55 1.55 0 1 0 3.1 0a1.55 1.55 0 1 0 -3.1 0M264.26 220.88a1.55 1.55 0 1 0 3.1 0a1.55 1.55 0 1 0 -3.1 0M264.63 220.88a1.55 1.55 0 1 0 3.1 0a1.55 1.55 0 1 0 -3.1 0M265.01 220.88a1.55 1.55 0 1 0 3.1 0a1.55 1.55 0 1 0 -3.1 0M265.38 220.88a1.55 1.55 0 1 0 3.1 0a1.55 1.55 0 1 0 -3.1 0M265.76 220.88a1.55 1.55 0 1 0 3.1 0a1.55 1.55 0 1 0 -3.1 0M266.13 220.88a1.55 1.55 0 1 0 3.1 0a1.55 1.55 0 1 0 -3.1 0M266.51 220.88a1.55 1.55 0 1 0 3.1 0a1.55 1.55 0 1 0 -3.1 0M266.88 220.88a1.55 1.55 0 1 0 3.1 0a1.55 1.55 0 1 0 -3.1 0M267.26 220.88a1.55 1.55 0 1 0 3.1 0a1.55 1.55 0 1 0 -3.1 0M267.64 220.88a1.55 1.55 0 1 0 3.1 0a1.55 1.55 0 1 0 -3.1 0M268.01 220.88a1.55 1.55 0 1 0 3.1 0a1.55 1.55 0 1 0 -3.1 0M268.39 220.88a1.55 1.55 0 1 0 3.1 0a1.55 1.55 0 1 0 -3.1 0M268.76 220.88a1.55 1.55 0 1 0 3.1 0a1.55 1.55 0 1 0 -3.1 0M269.14 220.88a1.55 1.55 0 1 0 3.1 0a1.55 1.55 0 1 0 -3.1 0M269.51 220.88a1.55 1.55 0 1 0 3.1 0a1.55 1.55 0 1 0 -3.1 0M269.89 220.88a1.55 1.55 0 1 0 3.1 0a1.55 1.55 0 1 0 -3.1 0M270.26 220.88a1.55 1.55 0 1 0 3.1 0a1.55 1.55 0 1 0 -3.1 0M270.64 220.88a1.55 1.55 0 1 0 3.1 0a1.55 1.55 0 1 0 -3.1 0M271.02 220.88a1.55 1.55 0 1 0 3.1 0a1.55 1.55 0 1 0 -3.1 0M271.39 220.88a1.55 1.55 0 1 0 3.1 0a1.55 1.55 0 1 0 -3.1 0M271.77 220.88a1.55 1.55 0 1 0 3.1 0a1.55 1.55 0 1 0 -3.1 0M272.14 220.88a1.55 1.55 0 1 0 3.1 0a1.55 1.55 0 1 0 -3.1 0M272.52 220.88a1.55 1.55 0 1 0 3.1 0a1.55 1.55 0 1 0 -3.1 0M272.89 220.88a1.55 1.55 0 1 0 3.1 0a1.55 1.55 0 1 0 -3.1 0M273.27 220.88a1.55 1.55 0 1 0 3.1 0a1.55 1.55 0 1 0 -3.1 0M273.64 220.88a1.55 1.55 0 1 0 3.1 0a1.55 1.55 0 1 0 -3.1 0M274.02 220.88a1.55 1.55 0 1 0 3.1 0a1.55 1.55 0 1 0 -3.1 0M274.39 220.88a1.55 1.55 0 1 0 3.1 0a1.55 1.55 0 1 0 -3.1 0M274.77 220.88a1.55 1.55 0 1 0 3.1 0a1.55 1.55 0 1 0 -3.1 0M275.15 220.88a1.55 1.55 0 1 0 3.1 0a1.55 1.55 0 1 0 -3.1 0M275.52 220.88a1.55 1.55 0 1 0 3.1 0a1.55 1.55 0 1 0 -3.1 0M275.9 220.88a1.55 1.55 0 1 0 3.1 0a1.55 1.55 0 1 0 -3.1 0M276.27 220.88a1.55 1.55 0 1 0 3.1 0a1.55 1.55 0 1 0 -3.1 0M276.65 220.88a1.55 1.55 0 1 0 3.1 0a1.55 1.55 0 1 0 -3.1 0M277.02 220.88a1.55 1.55 0 1 0 3.1 0a1.55 1.55 0 1 0 -3.1 0M277.4 220.88a1.55 1.55 0 1 0 3.1 0a1.55 1.55 0 1 0 -3.1 0M277.77 220.88a1.55 1.55 0 1 0 3.1 0a1.55 1.55 0 1 0 -3.1 0M278.15 220.88a1.55 1.55 0 1 0 3.1 0a1.55 1.55 0 1 0 -3.1 0M278.53 220.88a1.55 1.55 0 1 0 3.1 0a1.55 1.55 0 1 0 -3.1 0M278.9 220.88a1.55 1.55 0 1 0 3.1 0a1.55 1.55 0 1 0 -3.1 0M279.28 220.88a1.55 1.55 0 1 0 3.1 0a1.55 1.55 0 1 0 -3.1 0M279.65 220.88a1.55 1.55 0 1 0 3.1 0a1.55 1.55 0 1 0 -3.1 0M280.03 220.88a1.55 1.55 0 1 0 3.1 0a1.55 1.55 0 1 0 -3.1 0M280.4 220.88a1.55 1.55 0 1 0 3.1 0a1.55 1.55 0 1 0 -3.1 0M280.78 220.88a1.55 1.55 0 1 0 3.1 0a1.55 1.55 0 1 0 -3.1 0M281.15 220.88a1.55 1.55 0 1 0 3.1 0a1.55 1.55 0 1 0 -3.1 0M281.53 220.88a1.55 1.55 0 1 0 3.1 0a1.55 1.55 0 1 0 -3.1 0M281.91 220.88a1.55 1.55 0 1 0 3.1 0a1.55 1.55 0 1 0 -3.1 0M282.28 220.88a1.55 1.55 0 1 0 3.1 0a1.55 1.55 0 1 0 -3.1 0M282.66 220.88a1.55 1.55 0 1 0 3.1 0a1.55 1.55 0 1 0 -3.1 0M283.03 220.88a1.55 1.55 0 1 0 3.1 0a1.55 1.55 0 1 0 -3.1 0M283.41 220.88a1.55 1.55 0 1 0 3.1 0a1.55 1.55 0 1 0 -3.1 0M283.78 220.88a1.55 1.55 0 1 0 3.1 0a1.55 1.55 0 1 0 -3.1 0M284.16 220.88a1.55 1.55 0 1 0 3.1 0a1.55 1.55 0 1 0 -3.1 0M284.53 220.88a1.55 1.55 0 1 0 3.1 0a1.55 1.55 0 1 0 -3.1 0M284.91 220.88a1.55 1.55 0 1 0 3.1 0a1.55 1.55 0 1 0 -3.1 0M285.28 220.88a1.55 1.55 0 1 0 3.1 0a1.55 1.55 0 1 0 -3.1 0M285.66 220.88a1.55 1.55 0 1 0 3.1 0a1.55 1.55 0 1 0 -3.1 0M286.04 220.88a1.55 1.55 0 1 0 3.1 0a1.55 1.55 0 1 0 -3.1 0M286.41 220.88a1.55 1.55 0 1 0 3.1 0a1.55 1.55 0 1 0 -3.1 0M286.79 220.88a1.55 1.55 0 1 0 3.1 0a1.55 1.55 0 1 0 -3.1 0M287.16 220.88a1.55 1.55 0 1 0 3.1 0a1.55 1.55 0 1 0 -3.1 0M287.54 220.88a1.55 1.55 0 1 0 3.1 0a1.55 1.55 0 1 0 -3.1 0M287.91 220.88a1.55 1.55 0 1 0 3.1 0a1.55 1.55 0 1 0 -3.1 0M288.29 220.88a1.55 1.55 0 1 0 3.1 0a1.55 1.55 0 1 0 -3.1 0M288.66 220.88a1.55 1.55 0 1 0 3.1 0a1.55 1.55 0 1 0 -3.1 0M289.04 220.88a1.55 1.55 0 1 0 3.1 0a1.55 1.55 0 1 0 -3.1 0M289.42 220.88a1.55 1.55 0 1 0 3.1 0a1.55 1.55 0 1 0 -3.1 0M289.79 220.88a1.55 1.55 0 1 0 3.1 0a1.55 1.55 0 1 0 -3.1 0M290.17 220.88a1.55 1.55 0 1 0 3.1 0a1.55 1.55 0 1 0 -3.1 0M290.54 220.88a1.55 1.55 0 1 0 3.1 0a1.55 1.55 0 1 0 -3.1 0M290.92 220.88a1.55 1.55 0 1 0 3.1 0a1.55 1.55 0 1 0 -3.1 0M291.29 220.88a1.55 1.55 0 1 0 3.1 0a1.55 1.55 0 1 0 -3.1 0M291.67 220.88a1.55 1.55 0 1 0 3.1 0a1.55 1.55 0 1 0 -3.1 0M292.04 220.88a1.55 1.55 0 1 0 3.1 0a1.55 1.55 0 1 0 -3.1 0M292.42 220.88a1.55 1.55 0 1 0 3.1 0a1.55 1.55 0 1 0 -3.1 0M292.79 220.88a1.55 1.55 0 1 0 3.1 0a1.55 1.55 0 1 0 -3.1 0M293.17 220.88a1.55 1.55 0 1 0 3.1 0a1.55 1.55 0 1 0 -3.1 0M293.55 220.88a1.55 1.55 0 1 0 3.1 0a1.55 1.55 0 1 0 -3.1 0M293.92 220.88a1.55 1.55 0 1 0 3.1 0a1.55 1.55 0 1 0 -3.1 0M294.3 220.88a1.55 1.55 0 1 0 3.1 0a1.55 1.55 0 1 0 -3.1 0M294.67 220.88a1.55 1.55 0 1 0 3.1 0a1.55 1.55 0 1 0 -3.1 0M295.05 220.88a1.55 1.55 0 1 0 3.1 0a1.55 1.55 0 1 0 -3.1 0M295.42 220.88a1.55 1.55 0 1 0 3.1 0a1.55 1.55 0 1 0 -3.1 0M295.8 220.88a1.55 1.55 0 1 0 3.1 0a1.55 1.55 0 1 0 -3.1 0M296.17 220.88a1.55 1.55 0 1 0 3.1 0a1.55 1.55 0 1 0 -3.1 0M296.55 220.88a1.55 1.55 0 1 0 3.1 0a1.55 1.55 0 1 0 -3.1 0M296.93 220.88a1.55 1.55 0 1 0 3.1 0a1.55 1.55 0 1 0 -3.1 0M297.3 220.88a1.55 1.55 0 1 0 3.1 0a1.55 1.55 0 1 0 -3.1 0M297.68 220.88a1.55 1.55 0 1 0 3.1 0a1.55 1.55 0 1 0 -3.1 0M298.05 220.88a1.55 1.55 0 1 0 3.1 0a1.55 1.55 0 1 0 -3.1 0M298.43 220.88a1.55 1.55 0 1 0 3.1 0a1.55 1.55 0 1 0 -3.1 0M298.8 220.88a1.55 1.55 0 1 0 3.1 0a1.55 1.55 0 1 0 -3.1 0M299.18 220.88a1.55 1.55 0 1 0 3.1 0a1.55 1.55 0 1 0 -3.1 0M299.55 220.88a1.55 1.55 0 1 0 3.1 0a1.55 1.55 0 1 0 -3.1 0M299.93 220.88a1.55 1.55 0 1 0 3.1 0a1.55 1.55 0 1 0 -3.1 0M300.31 220.88a1.55 1.55 0 1 0 3.1 0a1.55 1.55 0 1 0 -3.1 0M300.68 220.88a1.55 1.55 0 1 0 3.1 0a1.55 1.55 0 1 0 -3.1 0M301.06 220.88a1.55 1.55 0 1 0 3.1 0a1.55 1.55 0 1 0 -3.1 0M301.43 220.88a1.55 1.55 0 1 0 3.1 0a1.55 1.55 0 1 0 -3.1 0M301.81 220.88a1.55 1.55 0 1 0 3.1 0a1.55 1.55 0 1 0 -3.1 0M302.18 220.88a1.55 1.55 0 1 0 3.1 0a1.55 1.55 0 1 0 -3.1 0M302.56 220.88a1.55 1.55 0 1 0 3.1 0a1.55 1.55 0 1 0 -3.1 0M302.93 220.88a1.55 1.55 0 1 0 3.1 0a1.55 1.55 0 1 0 -3.1 0M303.31 220.88a1.55 1.55 0 1 0 3.1 0a1.55 1.55 0 1 0 -3.1 0M303.68 220.88a1.55 1.55 0 1 0 3.1 0a1.55 1.55 0 1 0 -3.1 0M304.06 220.88a1.55 1.55 0 1 0 3.1 0a1.55 1.55 0 1 0 -3.1 0M304.44 220.88a1.55 1.55 0 1 0 3.1 0a1.55 1.55 0 1 0 -3.1 0M304.81 220.88a1.55 1.55 0 1 0 3.1 0a1.55 1.55 0 1 0 -3.1 0M305.19 220.88a1.55 1.55 0 1 0 3.1 0a1.55 1.55 0 1 0 -3.1 0M305.56 220.88a1.55 1.55 0 1 0 3.1 0a1.55 1.55 0 1 0 -3.1 0M305.94 220.88a1.55 1.55 0 1 0 3.1 0a1.55 1.55 0 1 0 -3.1 0M306.31 220.88a1.55 1.55 0 1 0 3.1 0a1.55 1.55 0 1 0 -3.1 0M306.69 220.88a1.55 1.55 0 1 0 3.1 0a1.55 1.55 0 1 0 -3.1 0M307.06 220.88a1.55 1.55 0 1 0 3.1 0a1.55 1.55 0 1 0 -3.1 0M307.44 220.88a1.55 1.55 0 1 0 3.1 0a1.55 1.55 0 1 0 -3.1 0M307.82 220.88a1.55 1.55 0 1 0 3.1 0a1.55 1.55 0 1 0 -3.1 0M308.19 220.88a1.55 1.55 0 1 0 3.1 0a1.55 1.55 0 1 0 -3.1 0M308.57 220.88a1.55 1.55 0 1 0 3.1 0a1.55 1.55 0 1 0 -3.1 0M308.94 220.88a1.55 1.55 0 1 0 3.1 0a1.55 1.55 0 1 0 -3.1 0M309.32 220.88a1.55 1.55 0 1 0 3.1 0a1.55 1.55 0 1 0 -3.1 0M309.69 220.88a1.55 1.55 0 1 0 3.1 0a1.55 1.55 0 1 0 -3.1 0M310.07 220.88a1.55 1.55 0 1 0 3.1 0a1.55 1.55 0 1 0 -3.1 0M310.44 220.88a1.55 1.55 0 1 0 3.1 0a1.55 1.55 0 1 0 -3.1 0M310.82 220.88a1.55 1.55 0 1 0 3.1 0a1.55 1.55 0 1 0 -3.1 0M311.19 220.88a1.55 1.55 0 1 0 3.1 0a1.55 1.55 0 1 0 -3.1 0M311.57 220.88a1.55 1.55 0 1 0 3.1 0a1.55 1.55 0 1 0 -3.1 0M311.95 220.88a1.55 1.55 0 1 0 3.1 0a1.55 1.55 0 1 0 -3.1 0M312.32 220.88a1.55 1.55 0 1 0 3.1 0a1.55 1.55 0 1 0 -3.1 0M312.7 220.88a1.55 1.55 0 1 0 3.1 0a1.55 1.55 0 1 0 -3.1 0M313.07 220.88a1.55 1.55 0 1 0 3.1 0a1.55 1.55 0 1 0 -3.1 0M313.45 220.88a1.55 1.55 0 1 0 3.1 0a1.55 1.55 0 1 0 -3.1 0M313.82 220.88a1.55 1.55 0 1 0 3.1 0a1.55 1.55 0 1 0 -3.1 0M314.2 220.88a1.55 1.55 0 1 0 3.1 0a1.55 1.55 0 1 0 -3.1 0M314.57 220.88a1.55 1.55 0 1 0 3.1 0a1.55 1.55 0 1 0 -3.1 0M314.95 220.88a1.55 1.55 0 1 0 3.1 0a1.55 1.55 0 1 0 -3.1 0M315.33 220.88a1.55 1.55 0 1 0 3.1 0a1.55 1.55 0 1 0 -3.1 0M315.7 220.88a1.55 1.55 0 1 0 3.1 0a1.55 1.55 0 1 0 -3.1 0M316.08 220.88a1.55 1.55 0 1 0 3.1 0a1.55 1.55 0 1 0 -3.1 0M316.45 220.88a1.55 1.55 0 1 0 3.1 0a1.55 1.55 0 1 0 -3.1 0M316.83 220.88a1.55 1.55 0 1 0 3.1 0a1.55 1.55 0 1 0 -3.1 0M317.2 220.88a1.55 1.55 0 1 0 3.1 0a1.55 1.55 0 1 0 -3.1 0M317.58 220.88a1.55 1.55 0 1 0 3.1 0a1.55 1.55 0 1 0 -3.1 0M317.95 220.88a1.55 1.55 0 1 0 3.1 0a1.55 1.55 0 1 0 -3.1 0M318.33 220.88a1.55 1.55 0 1 0 3.1 0a1.55 1.55 0 1 0 -3.1 0M318.71 220.88a1.55 1.55 0 1 0 3.1 0a1.55 1.55 0 1 0 -3.1 0M319.08 220.88a1.55 1.55 0 1 0 3.1 0a1.55 1.55 0 1 0 -3.1 0M319.46 220.88a1.55 1.55 0 1 0 3.1 0a1.55 1.55 0 1 0 -3.1 0M319.83 220.88a1.55 1.55 0 1 0 3.1 0a1.55 1.55 0 1 0 -3.1 0M320.21 220.88a1.55 1.55 0 1 0 3.1 0a1.55 1.55 0 1 0 -3.1 0M320.58 220.88a1.55 1.55 0 1 0 3.1 0a1.55 1.55 0 1 0 -3.1 0M320.96 220.88a1.55 1.55 0 1 0 3.1 0a1.55 1.55 0 1 0 -3.1 0M321.33 220.88a1.55 1.55 0 1 0 3.1 0a1.55 1.55 0 1 0 -3.1 0M321.71 220.88a1.55 1.55 0 1 0 3.1 0a1.55 1.55 0 1 0 -3.1 0M322.08 220.88a1.55 1.55 0 1 0 3.1 0a1.55 1.55 0 1 0 -3.1 0M322.46 220.88a1.55 1.55 0 1 0 3.1 0a1.55 1.55 0 1 0 -3.1 0M322.84 220.88a1.55 1.55 0 1 0 3.1 0a1.55 1.55 0 1 0 -3.1 0M323.21 220.88a1.55 1.55 0 1 0 3.1 0a1.55 1.55 0 1 0 -3.1 0M323.59 220.88a1.55 1.55 0 1 0 3.1 0a1.55 1.55 0 1 0 -3.1 0M323.96 220.88a1.55 1.55 0 1 0 3.1 0a1.55 1.55 0 1 0 -3.1 0M324.34 220.88a1.55 1.55 0 1 0 3.1 0a1.55 1.55 0 1 0 -3.1 0M324.71 220.88a1.55 1.55 0 1 0 3.1 0a1.55 1.55 0 1 0 -3.1 0M325.09 220.88a1.55 1.55 0 1 0 3.1 0a1.55 1.55 0 1 0 -3.1 0M325.46 220.88a1.55 1.55 0 1 0 3.1 0a1.55 1.55 0 1 0 -3.1 0M325.84 220.88a1.55 1.55 0 1 0 3.1 0a1.55 1.55 0 1 0 -3.1 0M326.22 220.88a1.55 1.55 0 1 0 3.1 0a1.55 1.55 0 1 0 -3.1 0M326.59 220.88a1.55 1.55 0 1 0 3.1 0a1.55 1.55 0 1 0 -3.1 0M326.97 220.88a1.55 1.55 0 1 0 3.1 0a1.55 1.55 0 1 0 -3.1 0M327.34 220.88a1.55 1.55 0 1 0 3.1 0a1.55 1.55 0 1 0 -3.1 0M327.72 220.88a1.55 1.55 0 1 0 3.1 0a1.55 1.55 0 1 0 -3.1 0M328.09 220.88a1.55 1.55 0 1 0 3.1 0a1.55 1.55 0 1 0 -3.1 0M328.47 220.88a1.55 1.55 0 1 0 3.1 0a1.55 1.55 0 1 0 -3.1 0M328.84 220.88a1.55 1.55 0 1 0 3.1 0a1.55 1.55 0 1 0 -3.1 0M329.22 220.88a1.55 1.55 0 1 0 3.1 0a1.55 1.55 0 1 0 -3.1 0M329.59 220.88a1.55 1.55 0 1 0 3.1 0a1.55 1.55 0 1 0 -3.1 0M329.97 220.88a1.55 1.55 0 1 0 3.1 0a1.55 1.55 0 1 0 -3.1 0M330.35 220.88a1.55 1.55 0 1 0 3.1 0a1.55 1.55 0 1 0 -3.1 0M330.72 220.88a1.55 1.55 0 1 0 3.1 0a1.55 1.55 0 1 0 -3.1 0M331.1 220.72a1.55 1.55 0 1 0 3.1 0a1.55 1.55 0 1 0 -3.1 0M331.28 220.2a1.55 1.55 0 1 0 3.1 0a1.55 1.55 0 1 0 -3.1 0M331.47 218.97a1.55 1.55 0 1 0 3.1 0a1.55 1.55 0 1 0 -3.1 0M331.66 216.78a1.55 1.55 0 1 0 3.1 0a1.55 1.55 0 1 0 -3.1 0M331.85 213.9a1.55 1.55 0 1 0 3.1 0a1.55 1.55 0 1 0 -3.1 0M332.04 210.69a1.55 1.55 0 1 0 3.1 0a1.55 1.55 0 1 0 -3.1 0M338.16 140.05a1.55 1.55 0 1 0 3.1 0a1.55 1.55 0 1 0 -3.1 0M338.34 139.34a1.55 1.55 0 1 0 3.1 0a1.55 1.55 0 1 0 -3.1 0M338.53 138.75a1.55 1.55 0 1 0 3.1 0a1.55 1.55 0 1 0 -3.1 0M338.72 138.32a1.55 1.55 0 1 0 3.1 0a1.55 1.55 0 1 0 -3.1 0M338.91 138.07a1.55 1.55 0 1 0 3.1 0a1.55 1.55 0 1 0 -3.1 0M339.28 138.2a1.55 1.55 0 1 0 3.1 0a1.55 1.55 0 1 0 -3.1 0M339.47 138.48a1.55 1.55 0 1 0 3.1 0a1.55 1.55 0 1 0 -3.1 0M339.66 138.81a1.55 1.55 0 1 0 3.1 0a1.55 1.55 0 1 0 -3.1 0M339.85 139.14a1.55 1.55 0 1 0 3.1 0a1.55 1.55 0 1 0 -3.1 0M340.03 139.48a1.55 1.55 0 1 0 3.1 0a1.55 1.55 0 1 0 -3.1 0M340.22 139.81a1.55 1.55 0 1 0 3.1 0a1.55 1.55 0 1 0 -3.1 0M340.41 140.15a1.55 1.55 0 1 0 3.1 0a1.55 1.55 0 1 0 -3.1 0M340.6 140.48a1.55 1.55 0 1 0 3.1 0a1.55 1.55 0 1 0 -3.1 0M340.79 140.81a1.55 1.55 0 1 0 3.1 0a1.55 1.55 0 1 0 -3.1 0M340.97 141.14a1.55 1.55 0 1 0 3.1 0a1.55 1.55 0 1 0 -3.1 0M341.16 141.47a1.55 1.55 0 1 0 3.1 0a1.55 1.55 0 1 0 -3.1 0M341.35 141.8a1.55 1.55 0 1 0 3.1 0a1.55 1.55 0 1 0 -3.1 0M341.54 142.12a1.55 1.55 0 1 0 3.1 0a1.55 1.55 0 1 0 -3.1 0M341.72 142.45a1.55 1.55 0 1 0 3.1 0a1.55 1.55 0 1 0 -3.1 0M341.91 142.77a1.55 1.55 0 1 0 3.1 0a1.55 1.55 0 1 0 -3.1 0M342.1 143.1a1.55 1.55 0 1 0 3.1 0a1.55 1.55 0 1 0 -3.1 0M342.29 143.43a1.55 1.55 0 1 0 3.1 0a1.55 1.55 0 1 0 -3.1 0M342.47 143.78a1.55 1.55 0 1 0 3.1 0a1.55 1.55 0 1 0 -3.1 0M342.66 144.15a1.55 1.55 0 1 0 3.1 0a1.55 1.55 0 1 0 -3.1 0M342.85 144.52a1.55 1.55 0 1 0 3.1 0a1.55 1.55 0 1 0 -3.1 0M343.04 144.89a1.55 1.55 0 1 0 3.1 0a1.55 1.55 0 1 0 -3.1 0M343.23 145.27a1.55 1.55 0 1 0 3.1 0a1.55 1.55 0 1 0 -3.1 0M343.41 145.64a1.55 1.55 0 1 0 3.1 0a1.55 1.55 0 1 0 -3.1 0M343.6 146.01a1.55 1.55 0 1 0 3.1 0a1.55 1.55 0 1 0 -3.1 0M343.79 146.37a1.55 1.55 0 1 0 3.1 0a1.55 1.55 0 1 0 -3.1 0M343.98 146.74a1.55 1.55 0 1 0 3.1 0a1.55 1.55 0 1 0 -3.1 0M344.16 147.1a1.55 1.55 0 1 0 3.1 0a1.55 1.55 0 1 0 -3.1 0M344.35 147.46a1.55 1.55 0 1 0 3.1 0a1.55 1.55 0 1 0 -3.1 0M344.54 147.82a1.55 1.55 0 1 0 3.1 0a1.55 1.55 0 1 0 -3.1 0M344.73 148.18a1.55 1.55 0 1 0 3.1 0a1.55 1.55 0 1 0 -3.1 0M344.92 148.54a1.55 1.55 0 1 0 3.1 0a1.55 1.55 0 1 0 -3.1 0M345.1 148.89a1.55 1.55 0 1 0 3.1 0a1.55 1.55 0 1 0 -3.1 0M345.29 149.25a1.55 1.55 0 1 0 3.1 0a1.55 1.55 0 1 0 -3.1 0M345.48 149.6a1.55 1.55 0 1 0 3.1 0a1.55 1.55 0 1 0 -3.1 0M345.67 149.95a1.55 1.55 0 1 0 3.1 0a1.55 1.55 0 1 0 -3.1 0M345.85 150.3a1.55 1.55 0 1 0 3.1 0a1.55 1.55 0 1 0 -3.1 0M346.04 150.64a1.55 1.55 0 1 0 3.1 0a1.55 1.55 0 1 0 -3.1 0M346.23 150.99a1.55 1.55 0 1 0 3.1 0a1.55 1.55 0 1 0 -3.1 0M346.42 151.33a1.55 1.55 0 1 0 3.1 0a1.55 1.55 0 1 0 -3.1 0M346.61 151.67a1.55 1.55 0 1 0 3.1 0a1.55 1.55 0 1 0 -3.1 0M346.79 152.02a1.55 1.55 0 1 0 3.1 0a1.55 1.55 0 1 0 -3.1 0M346.98 152.39a1.55 1.55 0 1 0 3.1 0a1.55 1.55 0 1 0 -3.1 0M347.17 152.81a1.55 1.55 0 1 0 3.1 0a1.55 1.55 0 1 0 -3.1 0M347.36 153.29a1.55 1.55 0 1 0 3.1 0a1.55 1.55 0 1 0 -3.1 0M347.54 153.81a1.55 1.55 0 1 0 3.1 0a1.55 1.55 0 1 0 -3.1 0M347.73 154.35a1.55 1.55 0 1 0 3.1 0a1.55 1.55 0 1 0 -3.1 0M347.92 154.89a1.55 1.55 0 1 0 3.1 0a1.55 1.55 0 1 0 -3.1 0M348.11 155.44a1.55 1.55 0 1 0 3.1 0a1.55 1.55 0 1 0 -3.1 0M348.3 155.97a1.55 1.55 0 1 0 3.1 0a1.55 1.55 0 1 0 -3.1 0M348.48 156.5a1.55 1.55 0 1 0 3.1 0a1.55 1.55 0 1 0 -3.1 0M348.67 157.03a1.55 1.55 0 1 0 3.1 0a1.55 1.55 0 1 0 -3.1 0M348.86 157.56a1.55 1.55 0 1 0 3.1 0a1.55 1.55 0 1 0 -3.1 0M349.05 158.08a1.55 1.55 0 1 0 3.1 0a1.55 1.55 0 1 0 -3.1 0M349.23 158.59a1.55 1.55 0 1 0 3.1 0a1.55 1.55 0 1 0 -3.1 0M349.42 159.1a1.55 1.55 0 1 0 3.1 0a1.55 1.55 0 1 0 -3.1 0M349.61 159.61a1.55 1.55 0 1 0 3.1 0a1.55 1.55 0 1 0 -3.1 0M349.8 160.11a1.55 1.55 0 1 0 3.1 0a1.55 1.55 0 1 0 -3.1 0M349.99 160.61a1.55 1.55 0 1 0 3.1 0a1.55 1.55 0 1 0 -3.1 0M350.17 161.11a1.55 1.55 0 1 0 3.1 0a1.55 1.55 0 1 0 -3.1 0M350.36 161.6a1.55 1.55 0 1 0 3.1 0a1.55 1.55 0 1 0 -3.1 0M350.55 162.09a1.55 1.55 0 1 0 3.1 0a1.55 1.55 0 1 0 -3.1 0M350.74 162.57a1.55 1.55 0 1 0 3.1 0a1.55 1.55 0 1 0 -3.1 0M350.92 163.05a1.55 1.55 0 1 0 3.1 0a1.55 1.55 0 1 0 -3.1 0M351.11 163.53a1.55 1.55 0 1 0 3.1 0a1.55 1.55 0 1 0 -3.1 0M351.3 164.01a1.55 1.55 0 1 0 3.1 0a1.55 1.55 0 1 0 -3.1 0M351.49 164.49a1.55 1.55 0 1 0 3.1 0a1.55 1.55 0 1 0 -3.1 0M351.67 164.96a1.55 1.55 0 1 0 3.1 0a1.55 1.55 0 1 0 -3.1 0M351.86 165.42a1.55 1.55 0 1 0 3.1 0a1.55 1.55 0 1 0 -3.1 0M352.05 165.89a1.55 1.55 0 1 0 3.1 0a1.55 1.55 0 1 0 -3.1 0M352.24 166.35a1.55 1.55 0 1 0 3.1 0a1.55 1.55 0 1 0 -3.1 0M352.43 166.8a1.55 1.55 0 1 0 3.1 0a1.55 1.55 0 1 0 -3.1 0M352.61 167.25a1.55 1.55 0 1 0 3.1 0a1.55 1.55 0 1 0 -3.1 0M352.8 167.7a1.55 1.55 0 1 0 3.1 0a1.55 1.55 0 1 0 -3.1 0M352.99 168.14a1.55 1.55 0 1 0 3.1 0a1.55 1.55 0 1 0 -3.1 0M353.18 168.58a1.55 1.55 0 1 0 3.1 0a1.55 1.55 0 1 0 -3.1 0M353.36 169.02a1.55 1.55 0 1 0 3.1 0a1.55 1.55 0 1 0 -3.1 0M353.55 169.45a1.55 1.55 0 1 0 3.1 0a1.55 1.55 0 1 0 -3.1 0M353.74 169.88a1.55 1.55 0 1 0 3.1 0a1.55 1.55 0 1 0 -3.1 0M353.93 170.3a1.55 1.55 0 1 0 3.1 0a1.55 1.55 0 1 0 -3.1 0M354.12 170.69a1.55 1.55 0 1 0 3.1 0a1.55 1.55 0 1 0 -3.1 0M354.3 171.06a1.55 1.55 0 1 0 3.1 0a1.55 1.55 0 1 0 -3.1 0M354.49 171.39a1.55 1.55 0 1 0 3.1 0a1.55 1.55 0 1 0 -3.1 0M354.68 171.7a1.55 1.55 0 1 0 3.1 0a1.55 1.55 0 1 0 -3.1 0M354.87 172a1.55 1.55 0 1 0 3.1 0a1.55 1.55 0 1 0 -3.1 0M355.05 172.3a1.55 1.55 0 1 0 3.1 0a1.55 1.55 0 1 0 -3.1 0M355.24 172.59a1.55 1.55 0 1 0 3.1 0a1.55 1.55 0 1 0 -3.1 0M355.43 172.88a1.55 1.55 0 1 0 3.1 0a1.55 1.55 0 1 0 -3.1 0M355.62 173.17a1.55 1.55 0 1 0 3.1 0a1.55 1.55 0 1 0 -3.1 0M355.81 173.46a1.55 1.55 0 1 0 3.1 0a1.55 1.55 0 1 0 -3.1 0M355.99 173.75a1.55 1.55 0 1 0 3.1 0a1.55 1.55 0 1 0 -3.1 0M356.18 174.03a1.55 1.55 0 1 0 3.1 0a1.55 1.55 0 1 0 -3.1 0M356.37 174.31a1.55 1.55 0 1 0 3.1 0a1.55 1.55 0 1 0 -3.1 0M356.56 174.6a1.55 1.55 0 1 0 3.1 0a1.55 1.55 0 1 0 -3.1 0M356.74 174.88a1.55 1.55 0 1 0 3.1 0a1.55 1.55 0 1 0 -3.1 0M356.93 175.15a1.55 1.55 0 1 0 3.1 0a1.55 1.55 0 1 0 -3.1 0M357.12 175.43a1.55 1.55 0 1 0 3.1 0a1.55 1.55 0 1 0 -3.1 0M357.31 175.71a1.55 1.55 0 1 0 3.1 0a1.55 1.55 0 1 0 -3.1 0M357.5 175.98a1.55 1.55 0 1 0 3.1 0a1.55 1.55 0 1 0 -3.1 0M357.68 176.25a1.55 1.55 0 1 0 3.1 0a1.55 1.55 0 1 0 -3.1 0M357.87 176.52a1.55 1.55 0 1 0 3.1 0a1.55 1.55 0 1 0 -3.1 0M358.06 176.79a1.55 1.55 0 1 0 3.1 0a1.55 1.55 0 1 0 -3.1 0M358.25 177.05a1.55 1.55 0 1 0 3.1 0a1.55 1.55 0 1 0 -3.1 0M358.43 177.32a1.55 1.55 0 1 0 3.1 0a1.55 1.55 0 1 0 -3.1 0M358.62 177.59a1.55 1.55 0 1 0 3.1 0a1.55 1.55 0 1 0 -3.1 0M358.81 177.85a1.55 1.55 0 1 0 3.1 0a1.55 1.55 0 1 0 -3.1 0M359 178.11a1.55 1.55 0 1 0 3.1 0a1.55 1.55 0 1 0 -3.1 0M359.19 178.38a1.55 1.55 0 1 0 3.1 0a1.55 1.55 0 1 0 -3.1 0M359.37 178.64a1.55 1.55 0 1 0 3.1 0a1.55 1.55 0 1 0 -3.1 0M359.56 178.9a1.55 1.55 0 1 0 3.1 0a1.55 1.55 0 1 0 -3.1 0M359.75 179.16a1.55 1.55 0 1 0 3.1 0a1.55 1.55 0 1 0 -3.1 0M359.94 179.42a1.55 1.55 0 1 0 3.1 0a1.55 1.55 0 1 0 -3.1 0M360.12 179.67a1.55 1.55 0 1 0 3.1 0a1.55 1.55 0 1 0 -3.1 0M360.31 179.93a1.55 1.55 0 1 0 3.1 0a1.55 1.55 0 1 0 -3.1 0M360.5 180.18a1.55 1.55 0 1 0 3.1 0a1.55 1.55 0 1 0 -3.1 0M360.69 180.43a1.55 1.55 0 1 0 3.1 0a1.55 1.55 0 1 0 -3.1 0M360.87 180.68a1.55 1.55 0 1 0 3.1 0a1.55 1.55 0 1 0 -3.1 0M361.06 180.93a1.55 1.55 0 1 0 3.1 0a1.55 1.55 0 1 0 -3.1 0M361.25 181.18a1.55 1.55 0 1 0 3.1 0a1.55 1.55 0 1 0 -3.1 0M361.44 181.42a1.55 1.55 0 1 0 3.1 0a1.55 1.55 0 1 0 -3.1 0M361.63 181.67a1.55 1.55 0 1 0 3.1 0a1.55 1.55 0 1 0 -3.1 0M361.81 181.91a1.55 1.55 0 1 0 3.1 0a1.55 1.55 0 1 0 -3.1 0M362 182.15a1.55 1.55 0 1 0 3.1 0a1.55 1.55 0 1 0 -3.1 0M362.19 182.39a1.55 1.55 0 1 0 3.1 0a1.55 1.55 0 1 0 -3.1 0M362.38 182.62a1.55 1.55 0 1 0 3.1 0a1.55 1.55 0 1 0 -3.1 0M362.56 182.86a1.55 1.55 0 1 0 3.1 0a1.55 1.55 0 1 0 -3.1 0M362.75 183.1a1.55 1.55 0 1 0 3.1 0a1.55 1.55 0 1 0 -3.1 0M363.13 183.56a1.55 1.55 0 1 0 3.1 0a1.55 1.55 0 1 0 -3.1 0M363.5 184.02a1.55 1.55 0 1 0 3.1 0a1.55 1.55 0 1 0 -3.1 0M363.88 184.47a1.55 1.55 0 1 0 3.1 0a1.55 1.55 0 1 0 -3.1 0M364.25 184.92a1.55 1.55 0 1 0 3.1 0a1.55 1.55 0 1 0 -3.1 0M364.63 185.36a1.55 1.55 0 1 0 3.1 0a1.55 1.55 0 1 0 -3.1 0M365.01 185.8a1.55 1.55 0 1 0 3.1 0a1.55 1.55 0 1 0 -3.1 0M365.38 186.23a1.55 1.55 0 1 0 3.1 0a1.55 1.55 0 1 0 -3.1 0M365.76 186.66a1.55 1.55 0 1 0 3.1 0a1.55 1.55 0 1 0 -3.1 0M366.13 187.08a1.55 1.55 0 1 0 3.1 0a1.55 1.55 0 1 0 -3.1 0M366.51 187.5a1.55 1.55 0 1 0 3.1 0a1.55 1.55 0 1 0 -3.1 0M366.88 187.91a1.55 1.55 0 1 0 3.1 0a1.55 1.55 0 1 0 -3.1 0M367.26 188.31a1.55 1.55 0 1 0 3.1 0a1.55 1.55 0 1 0 -3.1 0M367.63 188.71a1.55 1.55 0 1 0 3.1 0a1.55 1.55 0 1 0 -3.1 0M368.01 189.11a1.55 1.55 0 1 0 3.1 0a1.55 1.55 0 1 0 -3.1 0M368.39 189.5a1.55 1.55 0 1 0 3.1 0a1.55 1.55 0 1 0 -3.1 0M368.76 189.89a1.55 1.55 0 1 0 3.1 0a1.55 1.55 0 1 0 -3.1 0M369.14 190.28a1.55 1.55 0 1 0 3.1 0a1.55 1.55 0 1 0 -3.1 0M369.51 190.66a1.55 1.55 0 1 0 3.1 0a1.55 1.55 0 1 0 -3.1 0M369.89 191.04a1.55 1.55 0 1 0 3.1 0a1.55 1.55 0 1 0 -3.1 0M370.26 191.42a1.55 1.55 0 1 0 3.1 0a1.55 1.55 0 1 0 -3.1 0M370.64 191.79a1.55 1.55 0 1 0 3.1 0a1.55 1.55 0 1 0 -3.1 0M371.01 192.15a1.55 1.55 0 1 0 3.1 0a1.55 1.55 0 1 0 -3.1 0M371.39 192.51a1.55 1.55 0 1 0 3.1 0a1.55 1.55 0 1 0 -3.1 0M371.76 192.87a1.55 1.55 0 1 0 3.1 0a1.55 1.55 0 1 0 -3.1 0M372.14 193.22a1.55 1.55 0 1 0 3.1 0a1.55 1.55 0 1 0 -3.1 0M372.52 193.57a1.55 1.55 0 1 0 3.1 0a1.55 1.55 0 1 0 -3.1 0M372.89 193.91a1.55 1.55 0 1 0 3.1 0a1.55 1.55 0 1 0 -3.1 0M373.27 194.25a1.55 1.55 0 1 0 3.1 0a1.55 1.55 0 1 0 -3.1 0M373.64 194.59a1.55 1.55 0 1 0 3.1 0a1.55 1.55 0 1 0 -3.1 0M374.02 194.92a1.55 1.55 0 1 0 3.1 0a1.55 1.55 0 1 0 -3.1 0M374.39 195.24a1.55 1.55 0 1 0 3.1 0a1.55 1.55 0 1 0 -3.1 0M374.77 195.56a1.55 1.55 0 1 0 3.1 0a1.55 1.55 0 1 0 -3.1 0M375.14 195.88a1.55 1.55 0 1 0 3.1 0a1.55 1.55 0 1 0 -3.1 0M375.52 196.2a1.55 1.55 0 1 0 3.1 0a1.55 1.55 0 1 0 -3.1 0M375.9 196.51a1.55 1.55 0 1 0 3.1 0a1.55 1.55 0 1 0 -3.1 0M376.27 196.81a1.55 1.55 0 1 0 3.1 0a1.55 1.55 0 1 0 -3.1 0M376.65 197.11a1.55 1.55 0 1 0 3.1 0a1.55 1.55 0 1 0 -3.1 0M377.02 197.41a1.55 1.55 0 1 0 3.1 0a1.55 1.55 0 1 0 -3.1 0M377.4 197.71a1.55 1.55 0 1 0 3.1 0a1.55 1.55 0 1 0 -3.1 0M377.77 198a1.55 1.55 0 1 0 3.1 0a1.55 1.55 0 1 0 -3.1 0M378.15 198.28a1.55 1.55 0 1 0 3.1 0a1.55 1.55 0 1 0 -3.1 0M378.52 198.56a1.55 1.55 0 1 0 3.1 0a1.55 1.55 0 1 0 -3.1 0M378.9 198.83a1.55 1.55 0 1 0 3.1 0a1.55 1.55 0 1 0 -3.1 0M379.27 199.09a1.55 1.55 0 1 0 3.1 0a1.55 1.55 0 1 0 -3.1 0M379.65 199.35a1.55 1.55 0 1 0 3.1 0a1.55 1.55 0 1 0 -3.1 0M380.03 199.6a1.55 1.55 0 1 0 3.1 0a1.55 1.55 0 1 0 -3.1 0M380.4 199.85a1.55 1.55 0 1 0 3.1 0a1.55 1.55 0 1 0 -3.1 0M380.78 200.1a1.55 1.55 0 1 0 3.1 0a1.55 1.55 0 1 0 -3.1 0M381.15 200.35a1.55 1.55 0 1 0 3.1 0a1.55 1.55 0 1 0 -3.1 0M381.53 200.59a1.55 1.55 0 1 0 3.1 0a1.55 1.55 0 1 0 -3.1 0M381.9 200.84a1.55 1.55 0 1 0 3.1 0a1.55 1.55 0 1 0 -3.1 0M382.28 201.07a1.55 1.55 0 1 0 3.1 0a1.55 1.55 0 1 0 -3.1 0M382.65 201.31a1.55 1.55 0 1 0 3.1 0a1.55 1.55 0 1 0 -3.1 0M383.03 201.54a1.55 1.55 0 1 0 3.1 0a1.55 1.55 0 1 0 -3.1 0M383.41 201.77a1.55 1.55 0 1 0 3.1 0a1.55 1.55 0 1 0 -3.1 0M383.78 202a1.55 1.55 0 1 0 3.1 0a1.55 1.55 0 1 0 -3.1 0M384.16 202.22a1.55 1.55 0 1 0 3.1 0a1.55 1.55 0 1 0 -3.1 0M384.53 202.44a1.55 1.55 0 1 0 3.1 0a1.55 1.55 0 1 0 -3.1 0M384.91 202.66a1.55 1.55 0 1 0 3.1 0a1.55 1.55 0 1 0 -3.1 0M385.28 202.88a1.55 1.55 0 1 0 3.1 0a1.55 1.55 0 1 0 -3.1 0M385.66 203.09a1.55 1.55 0 1 0 3.1 0a1.55 1.55 0 1 0 -3.1 0M386.03 203.3a1.55 1.55 0 1 0 3.1 0a1.55 1.55 0 1 0 -3.1 0M386.41 203.51a1.55 1.55 0 1 0 3.1 0a1.55 1.55 0 1 0 -3.1 0M386.79 203.72a1.55 1.55 0 1 0 3.1 0a1.55 1.55 0 1 0 -3.1 0M387.16 203.92a1.55 1.55 0 1 0 3.1 0a1.55 1.55 0 1 0 -3.1 0M387.54 204.12a1.55 1.55 0 1 0 3.1 0a1.55 1.55 0 1 0 -3.1 0M387.91 204.32a1.55 1.55 0 1 0 3.1 0a1.55 1.55 0 1 0 -3.1 0M388.29 204.51a1.55 1.55 0 1 0 3.1 0a1.55 1.55 0 1 0 -3.1 0M388.66 204.68a1.55 1.55 0 1 0 3.1 0a1.55 1.55 0 1 0 -3.1 0M389.04 204.85a1.55 1.55 0 1 0 3.1 0a1.55 1.55 0 1 0 -3.1 0M389.41 205.02a1.55 1.55 0 1 0 3.1 0a1.55 1.55 0 1 0 -3.1 0M389.79 205.18a1.55 1.55 0 1 0 3.1 0a1.55 1.55 0 1 0 -3.1 0M390.16 205.34a1.55 1.55 0 1 0 3.1 0a1.55 1.55 0 1 0 -3.1 0M390.54 205.5a1.55 1.55 0 1 0 3.1 0a1.55 1.55 0 1 0 -3.1 0M390.92 205.66a1.55 1.55 0 1 0 3.1 0a1.55 1.55 0 1 0 -3.1 0M391.29 205.81a1.55 1.55 0 1 0 3.1 0a1.55 1.55 0 1 0 -3.1 0M391.67 205.97a1.55 1.55 0 1 0 3.1 0a1.55 1.55 0 1 0 -3.1 0M392.04 206.12a1.55 1.55 0 1 0 3.1 0a1.55 1.55 0 1 0 -3.1 0M392.42 206.27a1.55 1.55 0 1 0 3.1 0a1.55 1.55 0 1 0 -3.1 0M392.79 206.42a1.55 1.55 0 1 0 3.1 0a1.55 1.55 0 1 0 -3.1 0M393.17 206.57a1.55 1.55 0 1 0 3.1 0a1.55 1.55 0 1 0 -3.1 0M393.54 206.72a1.55 1.55 0 1 0 3.1 0a1.55 1.55 0 1 0 -3.1 0M393.92 206.86a1.55 1.55 0 1 0 3.1 0a1.55 1.55 0 1 0 -3.1 0M394.3 207.01a1.55 1.55 0 1 0 3.1 0a1.55 1.55 0 1 0 -3.1 0M394.67 207.15a1.55 1.55 0 1 0 3.1 0a1.55 1.55 0 1 0 -3.1 0M395.05 207.29a1.55 1.55 0 1 0 3.1 0a1.55 1.55 0 1 0 -3.1 0M395.42 207.43a1.55 1.55 0 1 0 3.1 0a1.55 1.55 0 1 0 -3.1 0M395.8 207.57a1.55 1.55 0 1 0 3.1 0a1.55 1.55 0 1 0 -3.1 0M396.17 207.71a1.55 1.55 0 1 0 3.1 0a1.55 1.55 0 1 0 -3.1 0M396.55 207.84a1.55 1.55 0 1 0 3.1 0a1.55 1.55 0 1 0 -3.1 0M396.92 207.98a1.55 1.55 0 1 0 3.1 0a1.55 1.55 0 1 0 -3.1 0M397.3 208.11a1.55 1.55 0 1 0 3.1 0a1.55 1.55 0 1 0 -3.1 0M397.67 208.24a1.55 1.55 0 1 0 3.1 0a1.55 1.55 0 1 0 -3.1 0M398.05 208.39a1.55 1.55 0 1 0 3.1 0a1.55 1.55 0 1 0 -3.1 0M398.43 208.59a1.55 1.55 0 1 0 3.1 0a1.55 1.55 0 1 0 -3.1 0M398.8 208.82a1.55 1.55 0 1 0 3.1 0a1.55 1.55 0 1 0 -3.1 0M399.18 209.06a1.55 1.55 0 1 0 3.1 0a1.55 1.55 0 1 0 -3.1 0M399.55 209.29a1.55 1.55 0 1 0 3.1 0a1.55 1.55 0 1 0 -3.1 0M399.93 209.52a1.55 1.55 0 1 0 3.1 0a1.55 1.55 0 1 0 -3.1 0M400.3 209.74a1.55 1.55 0 1 0 3.1 0a1.55 1.55 0 1 0 -3.1 0M400.68 209.96a1.55 1.55 0 1 0 3.1 0a1.55 1.55 0 1 0 -3.1 0M401.05 210.17a1.55 1.55 0 1 0 3.1 0a1.55 1.55 0 1 0 -3.1 0M401.43 210.38a1.55 1.55 0 1 0 3.1 0a1.55 1.55 0 1 0 -3.1 0M401.81 210.56a1.55 1.55 0 1 0 3.1 0a1.55 1.55 0 1 0 -3.1 0M402.18 210.73a1.55 1.55 0 1 0 3.1 0a1.55 1.55 0 1 0 -3.1 0M402.56 210.88a1.55 1.55 0 1 0 3.1 0a1.55 1.55 0 1 0 -3.1 0M402.93 211.04a1.55 1.55 0 1 0 3.1 0a1.55 1.55 0 1 0 -3.1 0M403.31 211.19a1.55 1.55 0 1 0 3.1 0a1.55 1.55 0 1 0 -3.1 0M403.68 211.34a1.55 1.55 0 1 0 3.1 0a1.55 1.55 0 1 0 -3.1 0M404.06 211.48a1.55 1.55 0 1 0 3.1 0a1.55 1.55 0 1 0 -3.1 0M404.43 211.63a1.55 1.55 0 1 0 3.1 0a1.55 1.55 0 1 0 -3.1 0M404.81 211.77a1.55 1.55 0 1 0 3.1 0a1.55 1.55 0 1 0 -3.1 0M405.19 211.91a1.55 1.55 0 1 0 3.1 0a1.55 1.55 0 1 0 -3.1 0M405.56 212.05a1.55 1.55 0 1 0 3.1 0a1.55 1.55 0 1 0 -3.1 0M405.94 212.18a1.55 1.55 0 1 0 3.1 0a1.55 1.55 0 1 0 -3.1 0M406.31 212.32a1.55 1.55 0 1 0 3.1 0a1.55 1.55 0 1 0 -3.1 0M406.69 212.45a1.55 1.55 0 1 0 3.1 0a1.55 1.55 0 1 0 -3.1 0M407.06 212.58a1.55 1.55 0 1 0 3.1 0a1.55 1.55 0 1 0 -3.1 0M407.44 212.71a1.55 1.55 0 1 0 3.1 0a1.55 1.55 0 1 0 -3.1 0M407.81 212.83a1.55 1.55 0 1 0 3.1 0a1.55 1.55 0 1 0 -3.1 0M408.19 212.96a1.55 1.55 0 1 0 3.1 0a1.55 1.55 0 1 0 -3.1 0M408.56 213.08a1.55 1.55 0 1 0 3.1 0a1.55 1.55 0 1 0 -3.1 0M408.94 213.2a1.55 1.55 0 1 0 3.1 0a1.55 1.55 0 1 0 -3.1 0M409.32 213.32a1.55 1.55 0 1 0 3.1 0a1.55 1.55 0 1 0 -3.1 0M409.69 213.43a1.55 1.55 0 1 0 3.1 0a1.55 1.55 0 1 0 -3.1 0M410.07 213.53a1.55 1.55 0 1 0 3.1 0a1.55 1.55 0 1 0 -3.1 0M410.44 213.62a1.55 1.55 0 1 0 3.1 0a1.55 1.55 0 1 0 -3.1 0M410.82 213.72a1.55 1.55 0 1 0 3.1 0a1.55 1.55 0 1 0 -3.1 0M411.19 213.82a1.55 1.55 0 1 0 3.1 0a1.55 1.55 0 1 0 -3.1 0M411.57 213.91a1.55 1.55 0 1 0 3.1 0a1.55 1.55 0 1 0 -3.1 0M411.94 214a1.55 1.55 0 1 0 3.1 0a1.55 1.55 0 1 0 -3.1 0M412.32 214.09a1.55 1.55 0 1 0 3.1 0a1.55 1.55 0 1 0 -3.1 0M412.7 214.18a1.55 1.55 0 1 0 3.1 0a1.55 1.55 0 1 0 -3.1 0M413.07 214.27a1.55 1.55 0 1 0 3.1 0a1.55 1.55 0 1 0 -3.1 0M413.45 214.36a1.55 1.55 0 1 0 3.1 0a1.55 1.55 0 1 0 -3.1 0M413.82 214.45a1.55 1.55 0 1 0 3.1 0a1.55 1.55 0 1 0 -3.1 0M414.2 214.53a1.55 1.55 0 1 0 3.1 0a1.55 1.55 0 1 0 -3.1 0M414.57 214.62a1.55 1.55 0 1 0 3.1 0a1.55 1.55 0 1 0 -3.1 0M414.95 214.7a1.55 1.55 0 1 0 3.1 0a1.55 1.55 0 1 0 -3.1 0M415.32 214.78a1.55 1.55 0 1 0 3.1 0a1.55 1.55 0 1 0 -3.1 0M415.7 214.86a1.55 1.55 0 1 0 3.1 0a1.55 1.55 0 1 0 -3.1 0M416.07 214.94a1.55 1.55 0 1 0 3.1 0a1.55 1.55 0 1 0 -3.1 0M416.45 215.02a1.55 1.55 0 1 0 3.1 0a1.55 1.55 0 1 0 -3.1 0M416.83 215.1a1.55 1.55 0 1 0 3.1 0a1.55 1.55 0 1 0 -3.1 0M417.2 215.17a1.55 1.55 0 1 0 3.1 0a1.55 1.55 0 1 0 -3.1 0M417.58 215.25a1.55 1.55 0 1 0 3.1 0a1.55 1.55 0 1 0 -3.1 0M417.95 215.32a1.55 1.55 0 1 0 3.1 0a1.55 1.55 0 1 0 -3.1 0M418.33 215.39a1.55 1.55 0 1 0 3.1 0a1.55 1.55 0 1 0 -3.1 0M418.7 215.46a1.55 1.55 0 1 0 3.1 0a1.55 1.55 0 1 0 -3.1 0M419.08 215.53a1.55 1.55 0 1 0 3.1 0a1.55 1.55 0 1 0 -3.1 0M419.45 215.6a1.55 1.55 0 1 0 3.1 0a1.55 1.55 0 1 0 -3.1 0M419.83 215.67a1.55 1.55 0 1 0 3.1 0a1.55 1.55 0 1 0 -3.1 0M420.21 215.73a1.55 1.55 0 1 0 3.1 0a1.55 1.55 0 1 0 -3.1 0M420.58 215.8a1.55 1.55 0 1 0 3.1 0a1.55 1.55 0 1 0 -3.1 0M420.96 215.86a1.55 1.55 0 1 0 3.1 0a1.55 1.55 0 1 0 -3.1 0M421.33 215.93a1.55 1.55 0 1 0 3.1 0a1.55 1.55 0 1 0 -3.1 0M421.71 215.99a1.55 1.55 0 1 0 3.1 0a1.55 1.55 0 1 0 -3.1 0M422.08 216.05a1.55 1.55 0 1 0 3.1 0a1.55 1.55 0 1 0 -3.1 0M422.46 216.11a1.55 1.55 0 1 0 3.1 0a1.55 1.55 0 1 0 -3.1 0M422.83 216.17a1.55 1.55 0 1 0 3.1 0a1.55 1.55 0 1 0 -3.1 0M423.21 216.23a1.55 1.55 0 1 0 3.1 0a1.55 1.55 0 1 0 -3.1 0M423.59 216.29a1.55 1.55 0 1 0 3.1 0a1.55 1.55 0 1 0 -3.1 0M423.96 216.35a1.55 1.55 0 1 0 3.1 0a1.55 1.55 0 1 0 -3.1 0M424.34 216.41a1.55 1.55 0 1 0 3.1 0a1.55 1.55 0 1 0 -3.1 0M424.71 216.46a1.55 1.55 0 1 0 3.1 0a1.55 1.55 0 1 0 -3.1 0M425.09 216.52a1.55 1.55 0 1 0 3.1 0a1.55 1.55 0 1 0 -3.1 0M425.46 216.57a1.55 1.55 0 1 0 3.1 0a1.55 1.55 0 1 0 -3.1 0M425.84 216.62a1.55 1.55 0 1 0 3.1 0a1.55 1.55 0 1 0 -3.1 0M426.21 216.66a1.55 1.55 0 1 0 3.1 0a1.55 1.55 0 1 0 -3.1 0M426.59 216.7a1.55 1.55 0 1 0 3.1 0a1.55 1.55 0 1 0 -3.1 0M426.96 216.74a1.55 1.55 0 1 0 3.1 0a1.55 1.55 0 1 0 -3.1 0M427.34 216.79a1.55 1.55 0 1 0 3.1 0a1.55 1.55 0 1 0 -3.1 0M427.72 216.83a1.55 1.55 0 1 0 3.1 0a1.55 1.55 0 1 0 -3.1 0M428.09 216.87a1.55 1.55 0 1 0 3.1 0a1.55 1.55 0 1 0 -3.1 0M428.47 216.91a1.55 1.55 0 1 0 3.1 0a1.55 1.55 0 1 0 -3.1 0M428.84 216.95a1.55 1.55 0 1 0 3.1 0a1.55 1.55 0 1 0 -3.1 0M429.22 216.99a1.55 1.55 0 1 0 3.1 0a1.55 1.55 0 1 0 -3.1 0M429.59 217.03a1.55 1.55 0 1 0 3.1 0a1.55 1.55 0 1 0 -3.1 0M429.97 217.07a1.55 1.55 0 1 0 3.1 0a1.55 1.55 0 1 0 -3.1 0M430.34 217.11a1.55 1.55 0 1 0 3.1 0a1.55 1.55 0 1 0 -3.1 0M430.72 217.14a1.55 1.55 0 1 0 3.1 0a1.55 1.55 0 1 0 -3.1 0M431.1 217.18a1.55 1.55 0 1 0 3.1 0a1.55 1.55 0 1 0 -3.1 0M431.47 217.22a1.55 1.55 0 1 0 3.1 0a1.55 1.55 0 1 0 -3.1 0M431.85 217.26a1.55 1.55 0 1 0 3.1 0a1.55 1.55 0 1 0 -3.1 0M432.22 217.29a1.55 1.55 0 1 0 3.1 0a1.55 1.55 0 1 0 -3.1 0M432.6 217.33a1.55 1.55 0 1 0 3.1 0a1.55 1.55 0 1 0 -3.1 0M432.97 217.37a1.55 1.55 0 1 0 3.1 0a1.55 1.55 0 1 0 -3.1 0M433.35 217.4a1.55 1.55 0 1 0 3.1 0a1.55 1.55 0 1 0 -3.1 0M433.72 217.43a1.55 1.55 0 1 0 3.1 0a1.55 1.55 0 1 0 -3.1 0M434.1 217.47a1.55 1.55 0 1 0 3.1 0a1.55 1.55 0 1 0 -3.1 0M434.47 217.5a1.55 1.55 0 1 0 3.1 0a1.55 1.55 0 1 0 -3.1 0M434.85 217.53a1.55 1.55 0 1 0 3.1 0a1.55 1.55 0 1 0 -3.1 0M435.23 217.57a1.55 1.55 0 1 0 3.1 0a1.55 1.55 0 1 0 -3.1 0M435.6 217.6a1.55 1.55 0 1 0 3.1 0a1.55 1.55 0 1 0 -3.1 0M435.98 217.63a1.55 1.55 0 1 0 3.1 0a1.55 1.55 0 1 0 -3.1 0M436.35 217.66a1.55 1.55 0 1 0 3.1 0a1.55 1.55 0 1 0 -3.1 0M436.73 217.69a1.55 1.55 0 1 0 3.1 0a1.55 1.55 0 1 0 -3.1 0M437.1 217.72a1.55 1.55 0 1 0 3.1 0a1.55 1.55 0 1 0 -3.1 0M437.48 217.75a1.55 1.55 0 1 0 3.1 0a1.55 1.55 0 1 0 -3.1 0M437.85 217.78a1.55 1.55 0 1 0 3.1 0a1.55 1.55 0 1 0 -3.1 0M438.23 217.81a1.55 1.55 0 1 0 3.1 0a1.55 1.55 0 1 0 -3.1 0M438.61 217.84a1.55 1.55 0 1 0 3.1 0a1.55 1.55 0 1 0 -3.1 0M438.98 217.87a1.55 1.55 0 1 0 3.1 0a1.55 1.55 0 1 0 -3.1 0M439.36 217.9a1.55 1.55 0 1 0 3.1 0a1.55 1.55 0 1 0 -3.1 0M439.73 217.93a1.55 1.55 0 1 0 3.1 0a1.55 1.55 0 1 0 -3.1 0M440.11 217.96a1.55 1.55 0 1 0 3.1 0a1.55 1.55 0 1 0 -3.1 0M440.48 217.99a1.55 1.55 0 1 0 3.1 0a1.55 1.55 0 1 0 -3.1 0M440.86 218.02a1.55 1.55 0 1 0 3.1 0a1.55 1.55 0 1 0 -3.1 0M441.23 218.04a1.55 1.55 0 1 0 3.1 0a1.55 1.55 0 1 0 -3.1 0M441.61 218.07a1.55 1.55 0 1 0 3.1 0a1.55 1.55 0 1 0 -3.1 0M441.99 218.1a1.55 1.55 0 1 0 3.1 0a1.55 1.55 0 1 0 -3.1 0M442.36 218.12a1.55 1.55 0 1 0 3.1 0a1.55 1.55 0 1 0 -3.1 0M442.74 218.15a1.55 1.55 0 1 0 3.1 0a1.55 1.55 0 1 0 -3.1 0M443.11 218.18a1.55 1.55 0 1 0 3.1 0a1.55 1.55 0 1 0 -3.1 0M443.49 218.2a1.55 1.55 0 1 0 3.1 0a1.55 1.55 0 1 0 -3.1 0" fill="none" stroke="#0a0ad0" stroke-width="0.95"/>
<path d="M483.3 207.39a2.5 2.5 0 1 0 5 0a2.5 2.5 0 1 0 -5 0M484.5 208.06a2.5 2.5 0 1 0 5 0a2.5 2.5 0 1 0 -5 0M485.7 207.55a2.5 2.5 0 1 0 5 0a2.5 2.5 0 1 0 -5 0M486.9 207.51a2.5 2.5 0 1 0 5 0a2.5 2.5 0 1 0 -5 0M488.1 208.06a2.5 2.5 0 1 0 5 0a2.5 2.5 0 1 0 -5 0M489.3 209.78a2.5 2.5 0 1 0 5 0a2.5 2.5 0 1 0 -5 0M490.5 210.44a2.5 2.5 0 1 0 5 0a2.5 2.5 0 1 0 -5 0M491.7 210.8a2.5 2.5 0 1 0 5 0a2.5 2.5 0 1 0 -5 0M492.9 211.24a2.5 2.5 0 1 0 5 0a2.5 2.5 0 1 0 -5 0M494.1 210.96a2.5 2.5 0 1 0 5 0a2.5 2.5 0 1 0 -5 0M495.3 209.88a2.5 2.5 0 1 0 5 0a2.5 2.5 0 1 0 -5 0M496.5 210.5a2.5 2.5 0 1 0 5 0a2.5 2.5 0 1 0 -5 0M497.7 210.4a2.5 2.5 0 1 0 5 0a2.5 2.5 0 1 0 -5 0M498.9 210.78a2.5 2.5 0 1 0 5 0a2.5 2.5 0 1 0 -5 0M500.1 212.22a2.5 2.5 0 1 0 5 0a2.5 2.5 0 1 0 -5 0M501.3 211.97a2.5 2.5 0 1 0 5 0a2.5 2.5 0 1 0 -5 0M502.5 212.58a2.5 2.5 0 1 0 5 0a2.5 2.5 0 1 0 -5 0M503.7 212.73a2.5 2.5 0 1 0 5 0a2.5 2.5 0 1 0 -5 0M504.9 214.21a2.5 2.5 0 1 0 5 0a2.5 2.5 0 1 0 -5 0M506.1 214.04a2.5 2.5 0 1 0 5 0a2.5 2.5 0 1 0 -5 0M507.3 213.98a2.5 2.5 0 1 0 5 0a2.5 2.5 0 1 0 -5 0M508.5 213.36a2.5 2.5 0 1 0 5 0a2.5 2.5 0 1 0 -5 0M509.7 211.59a2.5 2.5 0 1 0 5 0a2.5 2.5 0 1 0 -5 0M510.9 212.64a2.5 2.5 0 1 0 5 0a2.5 2.5 0 1 0 -5 0M512.1 213.25a2.5 2.5 0 1 0 5 0a2.5 2.5 0 1 0 -5 0M513.3 211.82a2.5 2.5 0 1 0 5 0a2.5 2.5 0 1 0 -5 0M514.5 212.16a2.5 2.5 0 1 0 5 0a2.5 2.5 0 1 0 -5 0M515.7 210.69a2.5 2.5 0 1 0 5 0a2.5 2.5 0 1 0 -5 0M516.9 211.54a2.5 2.5 0 1 0 5 0a2.5 2.5 0 1 0 -5 0M518.1 210a2.5 2.5 0 1 0 5 0a2.5 2.5 0 1 0 -5 0M519.3 210.34a2.5 2.5 0 1 0 5 0a2.5 2.5 0 1 0 -5 0M520.5 210.97a2.5 2.5 0 1 0 5 0a2.5 2.5 0 1 0 -5 0M521.7 210.94a2.5 2.5 0 1 0 5 0a2.5 2.5 0 1 0 -5 0M522.9 211.32a2.5 2.5 0 1 0 5 0a2.5 2.5 0 1 0 -5 0M524.1 211.91a2.5 2.5 0 1 0 5 0a2.5 2.5 0 1 0 -5 0M525.3 211.2a2.5 2.5 0 1 0 5 0a2.5 2.5 0 1 0 -5 0M526.5 211.92a2.5 2.5 0 1 0 5 0a2.5 2.5 0 1 0 -5 0M527.7 212.45a2.5 2.5 0 1 0 5 0a2.5 2.5 0 1 0 -5 0M528.9 211.99a2.5 2.5 0 1 0 5 0a2.5 2.5 0 1 0 -5 0M530.1 212.69a2.5 2.5 0 1 0 5 0a2.5 2.5 0 1 0 -5 0M531.3 214.2a2.5 2.5 0 1 0 5 0a2.5 2.5 0 1 0 -5 0M532.5 215a2.5 2.5 0 1 0 5 0a2.5 2.5 0 1 0 -5 0M533.7 215.34a2.5 2.5 0 1 0 5 0a2.5 2.5 0 1 0 -5 0M534.9 215.12a2.5 2.5 0 1 0 5 0a2.5 2.5 0 1 0 -5 0M536.1 216.47a2.5 2.5 0 1 0 5 0a2.5 2.5 0 1 0 -5 0M537.3 217.27a2.5 2.5 0 1 0 5 0a2.5 2.5 0 1 0 -5 0M538.5 217.28a2.5 2.5 0 1 0 5 0a2.5 2.5 0 1 0 -5 0M539.7 216.34a2.5 2.5 0 1 0 5 0a2.5 2.5 0 1 0 -5 0M540.9 216.89a2.5 2.5 0 1 0 5 0a2.5 2.5 0 1 0 -5 0M542.1 217.78a2.5 2.5 0 1 0 5 0a2.5 2.5 0 1 0 -5 0M543.3 217.63a2.5 2.5 0 1 0 5 0a2.5 2.5 0 1 0 -5 0M544.5 216.9a2.5 2.5 0 1 0 5 0a2.5 2.5 0 1 0 -5 0M545.7 216.67a2.5 2.5 0 1 0 5 0a2.5 2.5 0 1 0 -5 0M546.9 216.93a2.5 2.5 0 1 0 5 0a2.5 2.5 0 1 0 -5 0M548.1 216.31a2.5 2.5 0 1 0 5 0a2.5 2.5 0 1 0 -5 0M549.3 217.74a2.5 2.5 0 1 0 5 0a2.5 2.5 0 1 0 -5 0M550.5 216.87a2.5 2.5 0 1 0 5 0a2.5 2.5 0 1 0 -5 0M551.7 217.02a2.5 2.5 0 1 0 5 0a2.5 2.5 0 1 0 -5 0M552.9 217.28a2.5 2.5 0 1 0 5 0a2.5 2.5 0 1 0 -5 0M554.1 215.35a2.5 2.5 0 1 0 5 0a2.5 2.5 0 1 0 -5 0M555.3 210.27a2.5 2.5 0 1 0 5 0a2.5 2.5 0 1 0 -5 0M556.5 198.4a2.5 2.5 0 1 0 5 0a2.5 2.5 0 1 0 -5 0M557.7 173.2a2.5 2.5 0 1 0 5 0a2.5 2.5 0 1 0 -5 0M558.9 147.73a2.5 2.5 0 1 0 5 0a2.5 2.5 0 1 0 -5 0M560.1 139.06a2.5 2.5 0 1 0 5 0a2.5 2.5 0 1 0 -5 0M561.3 137.22a2.5 2.5 0 1 0 5 0a2.5 2.5 0 1 0 -5 0M562.5 136.83a2.5 2.5 0 1 0 5 0a2.5 2.5 0 1 0 -5 0M563.7 140.98a2.5 2.5 0 1 0 5 0a2.5 2.5 0 1 0 -5 0M564.9 142.89a2.5 2.5 0 1 0 5 0a2.5 2.5 0 1 0 -5 0M566.1 145.2a2.5 2.5 0 1 0 5 0a2.5 2.5 0 1 0 -5 0M567.3 148.76a2.5 2.5 0 1 0 5 0a2.5 2.5 0 1 0 -5 0M568.5 151.91a2.5 2.5 0 1 0 5 0a2.5 2.5 0 1 0 -5 0M569.7 153.1a2.5 2.5 0 1 0 5 0a2.5 2.5 0 1 0 -5 0M570.9 153.52a2.5 2.5 0 1 0 5 0a2.5 2.5 0 1 0 -5 0M572.1 156.3a2.5 2.5 0 1 0 5 0a2.5 2.5 0 1 0 -5 0M573.3 157.45a2.5 2.5 0 1 0 5 0a2.5 2.5 0 1 0 -5 0M574.5 159.08a2.5 2.5 0 1 0 5 0a2.5 2.5 0 1 0 -5 0M575.7 161.84a2.5 2.5 0 1 0 5 0a2.5 2.5 0 1 0 -5 0M576.9 163.93a2.5 2.5 0 1 0 5 0a2.5 2.5 0 1 0 -5 0M578.1 164.62a2.5 2.5 0 1 0 5 0a2.5 2.5 0 1 0 -5 0M579.3 166.26a2.5 2.5 0 1 0 5 0a2.5 2.5 0 1 0 -5 0M580.5 168.92a2.5 2.5 0 1 0 5 0a2.5 2.5 0 1 0 -5 0M581.7 170.64a2.5 2.5 0 1 0 5 0a2.5 2.5 0 1 0 -5 0M582.9 173.14a2.5 2.5 0 1 0 5 0a2.5 2.5 0 1 0 -5 0M584.1 175.29a2.5 2.5 0 1 0 5 0a2.5 2.5 0 1 0 -5 0M585.3 176.58a2.5 2.5 0 1 0 5 0a2.5 2.5 0 1 0 -5 0M586.5 177.99a2.5 2.5 0 1 0 5 0a2.5 2.5 0 1 0 -5 0M587.7 178.62a2.5 2.5 0 1 0 5 0a2.5 2.5 0 1 0 -5 0M588.9 180.42a2.5 2.5 0 1 0 5 0a2.5 2.5 0 1 0 -5 0M590.1 181.9a2.5 2.5 0 1 0 5 0a2.5 2.5 0 1 0 -5 0M591.3 182.52a2.5 2.5 0 1 0 5 0a2.5 2.5 0 1 0 -5 0M592.5 183.8a2.5 2.5 0 1 0 5 0a2.5 2.5 0 1 0 -5 0M593.7 185.51a2.5 2.5 0 1 0 5 0a2.5 2.5 0 1 0 -5 0M594.9 185.66a2.5 2.5 0 1 0 5 0a2.5 2.5 0 1 0 -5 0M596.1 186.54a2.5 2.5 0 1 0 5 0a2.5 2.5 0 1 0 -5 0M597.3 187.78a2.5 2.5 0 1 0 5 0a2.5 2.5 0 1 0 -5 0M598.5 187.95a2.5 2.5 0 1 0 5 0a2.5 2.5 0 1 0 -5 0M599.7 189.63a2.5 2.5 0 1 0 5 0a2.5 2.5 0 1 0 -5 0M600.9 189.9a2.5 2.5 0 1 0 5 0a2.5 2.5 0 1 0 -5 0M602.1 190.47a2.5 2.5 0 1 0 5 0a2.5 2.5 0 1 0 -5 0M603.3 191.76a2.5 2.5 0 1 0 5 0a2.5 2.5 0 1 0 -5 0M604.5 191.37a2.5 2.5 0 1 0 5 0a2.5 2.5 0 1 0 -5 0M605.7 192.37a2.5 2.5 0 1 0 5 0a2.5 2.5 0 1 0 -5 0M606.9 193.7a2.5 2.5 0 1 0 5 0a2.5 2.5 0 1 0 -5 0M608.1 193.13a2.5 2.5 0 1 0 5 0a2.5 2.5 0 1 0 -5 0M609.3 194.97a2.5 2.5 0 1 0 5 0a2.5 2.5 0 1 0 -5 0M610.5 195.26a2.5 2.5 0 1 0 5 0a2.5 2.5 0 1 0 -5 0M611.7 196.13a2.5 2.5 0 1 0 5 0a2.5 2.5 0 1 0 -5 0M612.9 195.7a2.5 2.5 0 1 0 5 0a2.5 2.5 0 1 0 -5 0M614.1 197.22a2.5 2.5 0 1 0 5 0a2.5 2.5 0 1 0 -5 0M615.3 198.19a2.5 2.5 0 1 0 5 0a2.5 2.5 0 1 0 -5 0M616.5 198.09a2.5 2.5 0 1 0 5 0a2.5 2.5 0 1 0 -5 0M617.7 198.43a2.5 2.5 0 1 0 5 0a2.5 2.5 0 1 0 -5 0M618.9 198.98a2.5 2.5 0 1 0 5 0a2.5 2.5 0 1 0 -5 0M620.1 199.2a2.5 2.5 0 1 0 5 0a2.5 2.5 0 1 0 -5 0M621.3 199.9a2.5 2.5 0 1 0 5 0a2.5 2.5 0 1 0 -5 0M622.5 199.99a2.5 2.5 0 1 0 5 0a2.5 2.5 0 1 0 -5 0M623.7 198.73a2.5 2.5 0 1 0 5 0a2.5 2.5 0 1 0 -5 0M624.9 200.25a2.5 2.5 0 1 0 5 0a2.5 2.5 0 1 0 -5 0M626.1 200.95a2.5 2.5 0 1 0 5 0a2.5 2.5 0 1 0 -5 0M627.3 200.58a2.5 2.5 0 1 0 5 0a2.5 2.5 0 1 0 -5 0M628.5 200.54a2.5 2.5 0 1 0 5 0a2.5 2.5 0 1 0 -5 0M629.7 201.11a2.5 2.5 0 1 0 5 0a2.5 2.5 0 1 0 -5 0M630.9 199.67a2.5 2.5 0 1 0 5 0a2.5 2.5 0 1 0 -5 0M632.1 199.1a2.5 2.5 0 1 0 5 0a2.5 2.5 0 1 0 -5 0M633.3 198.1a2.5 2.5 0 1 0 5 0a2.5 2.5 0 1 0 -5 0M634.5 198.55a2.5 2.5 0 1 0 5 0a2.5 2.5 0 1 0 -5 0M635.7 198.69a2.5 2.5 0 1 0 5 0a2.5 2.5 0 1 0 -5 0M636.9 198.64a2.5 2.5 0 1 0 5 0a2.5 2.5 0 1 0 -5 0M638.1 198.87a2.5 2.5 0 1 0 5 0a2.5 2.5 0 1 0 -5 0M639.3 198.82a2.5 2.5 0 1 0 5 0a2.5 2.5 0 1 0 -5 0M640.5 198.99a2.5 2.5 0 1 0 5 0a2.5 2.5 0 1 0 -5 0M641.7 199.5a2.5 2.5 0 1 0 5 0a2.5 2.5 0 1 0 -5 0M642.9 198.85a2.5 2.5 0 1 0 5 0a2.5 2.5 0 1 0 -5 0M644.1 199.35a2.5 2.5 0 1 0 5 0a2.5 2.5 0 1 0 -5 0M645.3 199.6a2.5 2.5 0 1 0 5 0a2.5 2.5 0 1 0 -5 0M646.5 200.28a2.5 2.5 0 1 0 5 0a2.5 2.5 0 1 0 -5 0M647.7 201.78a2.5 2.5 0 1 0 5 0a2.5 2.5 0 1 0 -5 0M648.9 202.11a2.5 2.5 0 1 0 5 0a2.5 2.5 0 1 0 -5 0M650.1 201.37a2.5 2.5 0 1 0 5 0a2.5 2.5 0 1 0 -5 0M651.3 200.86a2.5 2.5 0 1 0 5 0a2.5 2.5 0 1 0 -5 0M652.5 199.94a2.5 2.5 0 1 0 5 0a2.5 2.5 0 1 0 -5 0M653.7 199.55a2.5 2.5 0 1 0 5 0a2.5 2.5 0 1 0 -5 0M654.9 200.56a2.5 2.5 0 1 0 5 0a2.5 2.5 0 1 0 -5 0M656.1 198.74a2.5 2.5 0 1 0 5 0a2.5 2.5 0 1 0 -5 0M657.3 198.6a2.5 2.5 0 1 0 5 0a2.5 2.5 0 1 0 -5 0M658.5 198.78a2.5 2.5 0 1 0 5 0a2.5 2.5 0 1 0 -5 0M659.7 199.09a2.5 2.5 0 1 0 5 0a2.5 2.5 0 1 0 -5 0M660.9 199.25a2.5 2.5 0 1 0 5 0a2.5 2.5 0 1 0 -5 0M662.1 199.24a2.5 2.5 0 1 0 5 0a2.5 2.5 0 1 0 -5 0M663.3 200.09a2.5 2.5 0 1 0 5 0a2.5 2.5 0 1 0 -5 0M664.5 200.94a2.5 2.5 0 1 0 5 0a2.5 2.5 0 1 0 -5 0M665.7 199.99a2.5 2.5 0 1 0 5 0a2.5 2.5 0 1 0 -5 0" fill="#33e033" stroke="none" stroke-width="0"/>
<path d="M558.74 211.11 560.47 184.23 561.31 172.73 562.12 162.88 562.89 154.62 563.66 147.58 564.39 142.19 565.04 138.7" fill="none" stroke="#5050e0" stroke-width="2.7" stroke-linejoin="round" stroke-linecap="round"/>
<path d="M483.65 220.08a1.55 1.55 0 1 0 3.1 0a1.55 1.55 0 1 0 -3.1 0M484.03 220.08a1.55 1.55 0 1 0 3.1 0a1.55 1.55 0 1 0 -3.1 0M484.42 220.08a1.55 1.55 0 1 0 3.1 0a1.55 1.55 0 1 0 -3.1 0M484.8 220.08a1.55 1.55 0 1 0 3.1 0a1.55 1.55 0 1 0 -3.1 0M485.19 220.08a1.55 1.55 0 1 0 3.1 0a1.55 1.55 0 1 0 -3.1 0M485.57 220.08a1.55 1.55 0 1 0 3.1 0a1.55 1.55 0 1 0 -3.1 0M485.96 220.08a1.55 1.55 0 1 0 3.1 0a1.55 1.55 0 1 0 -3.1 0M486.34 220.08a1.55 1.55 0 1 0 3.1 0a1.55 1.55 0 1 0 -3.1 0M486.72 220.08a1.55 1.55 0 1 0 3.1 0a1.55 1.55 0 1 0 -3.1 0M487.11 220.08a1.55 1.55 0 1 0 3.1 0a1.55 1.55 0 1 0 -3.1 0M487.49 220.08a1.55 1.55 0 1 0 3.1 0a1.55 1.55 0 1 0 -3.1 0M487.88 220.08a1.55 1.55 0 1 0 3.1 0a1.55 1.55 0 1 0 -3.1 0M488.26 220.08a1.55 1.55 0 1 0 3.1 0a1.55 1.55 0 1 0 -3.1 0M488.65 220.08a1.55 1.55 0 1 0 3.1 0a1.55 1.55 0 1 0 -3.1 0M489.03 220.08a1.55 1.55 0 1 0 3.1 0a1.55 1.55 0 1 0 -3.1 0M489.41 220.08a1.55 1.55 0 1 0 3.1 0a1.55 1.55 0 1 0 -3.1 0M489.8 220.08a1.55 1.55 0 1 0 3.1 0a1.55 1.55 0 1 0 -3.1 0M490.18 220.08a1.55 1.55 0 1 0 3.1 0a1.55 1.55 0 1 0 -3.1 0M490.57 220.08a1.55 1.55 0 1 0 3.1 0a1.55 1.55 0 1 0 -3.1 0M490.95 220.08a1.55 1.55 0 1 0 3.1 0a1.55 1.55 0 1 0 -3.1 0M491.34 220.08a1.55 1.55 0 1 0 3.1 0a1.55 1.55 0 1 0 -3.1 0M491.72 220.08a1.55 1.55 0 1 0 3.1 0a1.55 1.55 0 1 0 -3.1 0M492.1 220.08a1.55 1.55 0 1 0 3.1 0a1.55 1.55 0 1 0 -3.1 0M492.49 220.08a1.55 1.55 0 1 0 3.1 0a1.55 1.55 0 1 0 -3.1 0M492.87 220.08a1.55 1.55 0 1 0 3.1 0a1.55 1.55 0 1 0 -3.1 0M493.26 220.08a1.55 1.55 0 1 0 3.1 0a1.55 1.55 0 1 0 -3.1 0M493.64 220.08a1.55 1.55 0 1 0 3.1 0a1.55 1.55 0 1 0 -3.1 0M494.03 220.08a1.55 1.55 0 1 0 3.1 0a1.55 1.55 0 1 0 -3.1 0M494.41 220.08a1.55 1.55 0 1 0 3.1 0a1.55 1.55 0 1 0 -3.1 0M494.79 220.08a1.55 1.55 0 1 0 3.1 0a1.55 1.55 0 1 0 -3.1 0M495.18 220.08a1.55 1.55 0 1 0 3.1 0a1.55 1.55 0 1 0 -3.1 0M495.56 220.08a1.55 1.55 0 1 0 3.1 0a1.55 1.55 0 1 0 -3.1 0M495.95 220.08a1.55 1.55 0 1 0 3.1 0a1.55 1.55 0 1 0 -3.1 0M496.33 220.08a1.55 1.55 0 1 0 3.1 0a1.55 1.55 0 1 0 -3.1 0M496.72 220.08a1.55 1.55 0 1 0 3.1 0a1.55 1.55 0 1 0 -3.1 0M497.1 220.08a1.55 1.55 0 1 0 3.1 0a1.55 1.55 0 1 0 -3.1 0M497.48 220.08a1.55 1.55 0 1 0 3.1 0a1.55 1.55 0 1 0 -3.1 0M497.87 220.08a1.55 1.55 0 1 0 3.1 0a1.55 1.55 0 1 0 -3.1 0M498.25 220.08a1.55 1.55 0 1 0 3.1 0a1.55 1.55 0 1 0 -3.1 0M498.64 220.08a1.55 1.55 0 1 0 3.1 0a1.55 1.55 0 1 0 -3.1 0M499.02 220.08a1.55 1.55 0 1 0 3.1 0a1.55 1.55 0 1 0 -3.1 0M499.41 220.08a1.55 1.55 0 1 0 3.1 0a1.55 1.55 0 1 0 -3.1 0M499.79 220.08a1.55 1.55 0 1 0 3.1 0a1.55 1.55 0 1 0 -3.1 0M500.17 220.08a1.55 1.55 0 1 0 3.1 0a1.55 1.55 0 1 0 -3.1 0M500.56 220.08a1.55 1.55 0 1 0 3.1 0a1.55 1.55 0 1 0 -3.1 0M500.94 220.08a1.55 1.55 0 1 0 3.1 0a1.55 1.55 0 1 0 -3.1 0M501.33 220.08a1.55 1.55 0 1 0 3.1 0a1.55 1.55 0 1 0 -3.1 0M501.71 220.08a1.55 1.55 0 1 0 3.1 0a1.55 1.55 0 1 0 -3.1 0M502.1 220.08a1.55 1.55 0 1 0 3.1 0a1.55 1.55 0 1 0 -3.1 0M502.48 220.08a1.55 1.55 0 1 0 3.1 0a1.55 1.55 0 1 0 -3.1 0M502.86 220.08a1.55 1.55 0 1 0 3.1 0a1.55 1.55 0 1 0 -3.1 0M503.25 220.08a1.55 1.55 0 1 0 3.1 0a1.55 1.55 0 1 0 -3.1 0M503.63 220.08a1.55 1.55 0 1 0 3.1 0a1.55 1.55 0 1 0 -3.1 0M504.02 220.08a1.55 1.55 0 1 0 3.1 0a1.55 1.55 0 1 0 -3.1 0M504.4 220.08a1.55 1.55 0 1 0 3.1 0a1.55 1.55 0 1 0 -3.1 0M504.79 220.08a1.55 1.55 0 1 0 3.1 0a1.55 1.55 0 1 0 -3.1 0M505.17 220.08a1.55 1.55 0 1 0 3.1 0a1.55 1.55 0 1 0 -3.1 0M505.55 220.08a1.55 1.55 0 1 0 3.1 0a1.55 1.55 0 1 0 -3.1 0M505.94 220.08a1.55 1.55 0 1 0 3.1 0a1.55 1.55 0 1 0 -3.1 0M506.32 220.08a1.55 1.55 0 1 0 3.1 0a1.55 1.55 0 1 0 -3.1 0M506.71 220.08a1.55 1.55 0 1 0 3.1 0a1.55 1.55 0 1 0 -3.1 0M507.09 220.08a1.55 1.55 0 1 0 3.1 0a1.55 1.55 0 1 0 -3.1 0M507.48 220.08a1.55 1.55 0 1 0 3.1 0a1.55 1.55 0 1 0 -3.1 0M507.86 220.08a1.55 1.55 0 1 0 3.1 0a1.55 1.55 0 1 0 -3.1 0M508.24 220.08a1.55 1.55 0 1 0 3.1 0a1.55 1.55 0 1 0 -3.1 0M508.63 220.08a1.55 1.55 0 1 0 3.1 0a1.55 1.55 0 1 0 -3.1 0M509.01 220.08a1.55 1.55 0 1 0 3.1 0a1.55 1.55 0 1 0 -3.1 0M509.4 220.08a1.55 1.55 0 1 0 3.1 0a1.55 1.55 0 1 0 -3.1 0M509.78 220.08a1.55 1.55 0 1 0 3.1 0a1.55 1.55 0 1 0 -3.1 0M510.17 220.08a1.55 1.55 0 1 0 3.1 0a1.55 1.55 0 1 0 -3.1 0M510.55 220.08a1.55 1.55 0 1 0 3.1 0a1.55 1.55 0 1 0 -3.1 0M510.93 220.08a1.55 1.55 0 1 0 3.1 0a1.55 1.55 0 1 0 -3.1 0M511.32 220.08a1.55 1.55 0 1 0 3.1 0a1.55 1.55 0 1 0 -3.1 0M511.7 220.08a1.55 1.55 0 1 0 3.1 0a1.55 1.55 0 1 0 -3.1 0M512.09 220.08a1.55 1.55 0 1 0 3.1 0a1.55 1.55 0 1 0 -3.1 0M512.47 220.08a1.55 1.55 0 1 0 3.1 0a1.55 1.55 0 1 0 -3.1 0M512.86 220.08a1.55 1.55 0 1 0 3.1 0a1.55 1.55 0 1 0 -3.1 0M513.24 220.08a1.55 1.55 0 1 0 3.1 0a1.55 1.55 0 1 0 -3.1 0M513.62 220.08a1.55 1.55 0 1 0 3.1 0a1.55 1.55 0 1 0 -3.1 0M514.01 220.08a1.55 1.55 0 1 0 3.1 0a1.55 1.55 0 1 0 -3.1 0M514.39 220.08a1.55 1.55 0 1 0 3.1 0a1.55 1.55 0 1 0 -3.1 0M514.78 220.08a1.55 1.55 0 1 0 3.1 0a1.55 1.55 0 1 0 -3.1 0M515.16 220.08a1.55 1.55 0 1 0 3.1 0a1.55 1.55 0 1 0 -3.1 0M515.55 220.08a1.55 1.55 0 1 0 3.1 0a1.55 1.55 0 1 0 -3.1 0M515.93 220.08a1.55 1.55 0 1 0 3.1 0a1.55 1.55 0 1 0 -3.1 0M516.31 220.08a1.55 1.55 0 1 0 3.1 0a1.55 1.55 0 1 0 -3.1 0M516.7 220.08a1.55 1.55 0 1 0 3.1 0a1.55 1.55 0 1 0 -3.1 0M517.08 220.08a1.55 1.55 0 1 0 3.1 0a1.55 1.55 0 1 0 -3.1 0M517.47 220.08a1.55 1.55 0 1 0 3.1 0a1.55 1.55 0 1 0 -3.1 0M517.85 220.08a1.55 1.55 0 1 0 3.1 0a1.55 1.55 0 1 0 -3.1 0M518.24 220.08a1.55 1.55 0 1 0 3.1 0a1.55 1.55 0 1 0 -3.1 0M518.62 220.08a1.55 1.55 0 1 0 3.1 0a1.55 1.55 0 1 0 -3.1 0M519 220.08a1.55 1.55 0 1 0 3.1 0a1.55 1.55 0 1 0 -3.1 0M519.39 220.08a1.55 1.55 0 1 0 3.1 0a1.55 1.55 0 1 0 -3.1 0M519.77 220.08a1.55 1.55 0 1 0 3.1 0a1.55 1.55 0 1 0 -3.1 0M520.16 220.08a1.55 1.55 0 1 0 3.1 0a1.55 1.55 0 1 0 -3.1 0M520.54 220.08a1.55 1.55 0 1 0 3.1 0a1.55 1.55 0 1 0 -3.1 0M520.93 220.08a1.55 1.55 0 1 0 3.1 0a1.55 1.55 0 1 0 -3.1 0M521.31 220.08a1.55 1.55 0 1 0 3.1 0a1.55 1.55 0 1 0 -3.1 0M521.69 220.08a1.55 1.55 0 1 0 3.1 0a1.55 1.55 0 1 0 -3.1 0M522.08 220.08a1.55 1.55 0 1 0 3.1 0a1.55 1.55 0 1 0 -3.1 0M522.46 220.08a1.55 1.55 0 1 0 3.1 0a1.55 1.55 0 1 0 -3.1 0M522.85 220.08a1.55 1.55 0 1 0 3.1 0a1.55 1.55 0 1 0 -3.1 0M523.23 220.08a1.55 1.55 0 1 0 3.1 0a1.55 1.55 0 1 0 -3.1 0M523.62 220.08a1.55 1.55 0 1 0 3.1 0a1.55 1.55 0 1 0 -3.1 0M524 220.08a1.55 1.55 0 1 0 3.1 0a1.55 1.55 0 1 0 -3.1 0M524.38 220.08a1.55 1.55 0 1 0 3.1 0a1.55 1.55 0 1 0 -3.1 0M524.77 220.08a1.55 1.55 0 1 0 3.1 0a1.55 1.55 0 1 0 -3.1 0M525.15 220.08a1.55 1.55 0 1 0 3.1 0a1.55 1.55 0 1 0 -3.1 0M525.54 220.08a1.55 1.55 0 1 0 3.1 0a1.55 1.55 0 1 0 -3.1 0M525.92 220.08a1.55 1.55 0 1 0 3.1 0a1.55 1.55 0 1 0 -3.1 0M526.31 220.08a1.55 1.55 0 1 0 3.1 0a1.55 1.55 0 1 0 -3.1 0M526.69 220.08a1.55 1.55 0 1 0 3.1 0a1.55 1.55 0 1 0 -3.1 0M527.07 220.08a1.55 1.55 0 1 0 3.1 0a1.55 1.55 0 1 0 -3.1 0M527.46 220.08a1.55 1.55 0 1 0 3.1 0a1.55 1.55 0 1 0 -3.1 0M527.84 220.08a1.55 1.55 0 1 0 3.1 0a1.55 1.55 0 1 0 -3.1 0M528.23 220.08a1.55 1.55 0 1 0 3.1 0a1.55 1.55 0 1 0 -3.1 0M528.61 220.08a1.55 1.55 0 1 0 3.1 0a1.55 1.55 0 1 0 -3.1 0M529 220.08a1.55 1.55 0 1 0 3.1 0a1.55 1.55 0 1 0 -3.1 0M529.38 220.08a1.55 1.55 0 1 0 3.1 0a1.55 1.55 0 1 0 -3.1 0M529.76 220.08a1.55 1.55 0 1 0 3.1 0a1.55 1.55 0 1 0 -3.1 0M530.15 220.08a1.55 1.55 0 1 0 3.1 0a1.55 1.55 0 1 0 -3.1 0M530.53 220.08a1.55 1.55 0 1 0 3.1 0a1.55 1.55 0 1 0 -3.1 0M530.92 220.08a1.55 1.55 0 1 0 3.1 0a1.55 1.55 0 1 0 -3.1 0M531.3 220.08a1.55 1.55 0 1 0 3.1 0a1.55 1.55 0 1 0 -3.1 0M531.69 220.08a1.55 1.55 0 1 0 3.1 0a1.55 1.55 0 1 0 -3.1 0M532.07 220.08a1.55 1.55 0 1 0 3.1 0a1.55 1.55 0 1 0 -3.1 0M532.45 220.08a1.55 1.55 0 1 0 3.1 0a1.55 1.55 0 1 0 -3.1 0M532.84 220.08a1.55 1.55 0 1 0 3.1 0a1.55 1.55 0 1 0 -3.1 0M533.22 220.08a1.55 1.55 0 1 0 3.1 0a1.55 1.55 0 1 0 -3.1 0M533.61 220.08a1.55 1.55 0 1 0 3.1 0a1.55 1.55 0 1 0 -3.1 0M533.99 220.08a1.55 1.55 0 1 0 3.1 0a1.55 1.55 0 1 0 -3.1 0M534.38 220.08a1.55 1.55 0 1 0 3.1 0a1.55 1.55 0 1 0 -3.1 0M534.76 220.08a1.55 1.55 0 1 0 3.1 0a1.55 1.55 0 1 0 -3.1 0M535.14 220.08a1.55 1.55 0 1 0 3.1 0a1.55 1.55 0 1 0 -3.1 0M535.53 220.08a1.55 1.55 0 1 0 3.1 0a1.55 1.55 0 1 0 -3.1 0M535.91 220.08a1.55 1.55 0 1 0 3.1 0a1.55 1.55 0 1 0 -3.1 0M536.3 220.08a1.55 1.55 0 1 0 3.1 0a1.55 1.55 0 1 0 -3.1 0M536.68 220.08a1.55 1.55 0 1 0 3.1 0a1.55 1.55 0 1 0 -3.1 0M537.07 220.08a1.55 1.55 0 1 0 3.1 0a1.55 1.55 0 1 0 -3.1 0M537.45 220.08a1.55 1.55 0 1 0 3.1 0a1.55 1.55 0 1 0 -3.1 0M537.83 220.08a1.55 1.55 0 1 0 3.1 0a1.55 1.55 0 1 0 -3.1 0M538.22 220.08a1.55 1.55 0 1 0 3.1 0a1.55 1.55 0 1 0 -3.1 0M538.6 220.08a1.55 1.55 0 1 0 3.1 0a1.55 1.55 0 1 0 -3.1 0M538.99 220.08a1.55 1.55 0 1 0 3.1 0a1.55 1.55 0 1 0 -3.1 0M539.37 220.08a1.55 1.55 0 1 0 3.1 0a1.55 1.55 0 1 0 -3.1 0M539.76 220.08a1.55 1.55 0 1 0 3.1 0a1.55 1.55 0 1 0 -3.1 0M540.14 220.08a1.55 1.55 0 1 0 3.1 0a1.55 1.55 0 1 0 -3.1 0M540.52 220.08a1.55 1.55 0 1 0 3.1 0a1.55 1.55 0 1 0 -3.1 0M540.91 220.08a1.55 1.55 0 1 0 3.1 0a1.55 1.55 0 1 0 -3.1 0M541.29 220.08a1.55 1.55 0 1 0 3.1 0a1.55 1.55 0 1 0 -3.1 0M541.68 220.08a1.55 1.55 0 1 0 3.1 0a1.55 1.55 0 1 0 -3.1 0M542.06 220.08a1.55 1.55 0 1 0 3.1 0a1.55 1.55 0 1 0 -3.1 0M542.45 220.08a1.55 1.55 0 1 0 3.1 0a1.55 1.55 0 1 0 -3.1 0M542.83 220.08a1.55 1.55 0 1 0 3.1 0a1.55 1.55 0 1 0 -3.1 0M543.21 220.08a1.55 1.55 0 1 0 3.1 0a1.55 1.55 0 1 0 -3.1 0M543.6 220.08a1.55 1.55 0 1 0 3.1 0a1.55 1.55 0 1 0 -3.1 0M543.98 220.08a1.55 1.55 0 1 0 3.1 0a1.55 1.55 0 1 0 -3.1 0M544.37 220.08a1.55 1.55 0 1 0 3.1 0a1.55 1.55 0 1 0 -3.1 0M544.75 220.08a1.55 1.55 0 1 0 3.1 0a1.55 1.55 0 1 0 -3.1 0M545.14 220.08a1.55 1.55 0 1 0 3.1 0a1.55 1.55 0 1 0 -3.1 0M545.52 220.08a1.55 1.55 0 1 0 3.1 0a1.55 1.55 0 1 0 -3.1 0M545.9 220.08a1.55 1.55 0 1 0 3.1 0a1.55 1.55 0 1 0 -3.1 0M546.29 220.08a1.55 1.55 0 1 0 3.1 0a1.55 1.55 0 1 0 -3.1 0M546.67 220.08a1.55 1.55 0 1 0 3.1 0a1.55 1.55 0 1 0 -3.1 0M547.06 220.08a1.55 1.55 0 1 0 3.1 0a1.55 1.55 0 1 0 -3.1 0M547.44 220.08a1.55 1.55 0 1 0 3.1 0a1.55 1.55 0 1 0 -3.1 0M547.83 220.08a1.55 1.55 0 1 0 3.1 0a1.55 1.55 0 1 0 -3.1 0M548.21 220.08a1.55 1.55 0 1 0 3.1 0a1.55 1.55 0 1 0 -3.1 0M548.59 220.08a1.55 1.55 0 1 0 3.1 0a1.55 1.55 0 1 0 -3.1 0M548.98 220.08a1.55 1.55 0 1 0 3.1 0a1.55 1.55 0 1 0 -3.1 0M549.36 220.08a1.55 1.55 0 1 0 3.1 0a1.55 1.55 0 1 0 -3.1 0M549.75 220.08a1.55 1.55 0 1 0 3.1 0a1.55 1.55 0 1 0 -3.1 0M550.13 220.08a1.55 1.55 0 1 0 3.1 0a1.55 1.55 0 1 0 -3.1 0M550.52 220.08a1.55 1.55 0 1 0 3.1 0a1.55 1.55 0 1 0 -3.1 0M550.9 220.08a1.55 1.55 0 1 0 3.1 0a1.55 1.55 0 1 0 -3.1 0M551.28 220.08a1.55 1.55 0 1 0 3.1 0a1.55 1.55 0 1 0 -3.1 0M551.67 220.08a1.55 1.55 0 1 0 3.1 0a1.55 1.55 0 1 0 -3.1 0M552.05 220.08a1.55 1.55 0 1 0 3.1 0a1.55 1.55 0 1 0 -3.1 0M552.44 220.08a1.55 1.55 0 1 0 3.1 0a1.55 1.55 0 1 0 -3.1 0M552.82 220.08a1.55 1.55 0 1 0 3.1 0a1.55 1.55 0 1 0 -3.1 0M553.21 220.08a1.55 1.55 0 1 0 3.1 0a1.55 1.55 0 1 0 -3.1 0M553.59 220.08a1.55 1.55 0 1 0 3.1 0a1.55 1.55 0 1 0 -3.1 0M553.97 220.08a1.55 1.55 0 1 0 3.1 0a1.55 1.55 0 1 0 -3.1 0M554.36 220.08a1.55 1.55 0 1 0 3.1 0a1.55 1.55 0 1 0 -3.1 0M554.74 220.07a1.55 1.55 0 1 0 3.1 0a1.55 1.55 0 1 0 -3.1 0M555.13 220.07a1.55 1.55 0 1 0 3.1 0a1.55 1.55 0 1 0 -3.1 0M555.51 220.07a1.55 1.55 0 1 0 3.1 0a1.55 1.55 0 1 0 -3.1 0M555.9 220.07a1.55 1.55 0 1 0 3.1 0a1.55 1.55 0 1 0 -3.1 0M556.28 219.92a1.55 1.55 0 1 0 3.1 0a1.55 1.55 0 1 0 -3.1 0M556.47 219.42a1.55 1.55 0 1 0 3.1 0a1.55 1.55 0 1 0 -3.1 0M556.66 218.23a1.55 1.55 0 1 0 3.1 0a1.55 1.55 0 1 0 -3.1 0M556.86 216.11a1.55 1.55 0 1 0 3.1 0a1.55 1.55 0 1 0 -3.1 0M557.05 213.33a1.55 1.55 0 1 0 3.1 0a1.55 1.55 0 1 0 -3.1 0M557.24 210.22a1.55 1.55 0 1 0 3.1 0a1.55 1.55 0 1 0 -3.1 0M563.2 140.08a1.55 1.55 0 1 0 3.1 0a1.55 1.55 0 1 0 -3.1 0M563.39 139.13a1.55 1.55 0 1 0 3.1 0a1.55 1.55 0 1 0 -3.1 0M563.58 138.33a1.55 1.55 0 1 0 3.1 0a1.55 1.55 0 1 0 -3.1 0M563.77 137.71a1.55 1.55 0 1 0 3.1 0a1.55 1.55 0 1 0 -3.1 0M563.97 137.3a1.55 1.55 0 1 0 3.1 0a1.55 1.55 0 1 0 -3.1 0M564.35 137.16a1.55 1.55 0 1 0 3.1 0a1.55 1.55 0 1 0 -3.1 0M564.73 137.52a1.55 1.55 0 1 0 3.1 0a1.55 1.55 0 1 0 -3.1 0M565.12 137.95a1.55 1.55 0 1 0 3.1 0a1.55 1.55 0 1 0 -3.1 0M565.5 138.38a1.55 1.55 0 1 0 3.1 0a1.55 1.55 0 1 0 -3.1 0M565.89 138.8a1.55 1.55 0 1 0 3.1 0a1.55 1.55 0 1 0 -3.1 0M566.27 139.23a1.55 1.55 0 1 0 3.1 0a1.55 1.55 0 1 0 -3.1 0M566.66 139.65a1.55 1.55 0 1 0 3.1 0a1.55 1.55 0 1 0 -3.1 0M567.04 140.11a1.55 1.55 0 1 0 3.1 0a1.55 1.55 0 1 0 -3.1 0M567.23 140.37a1.55 1.55 0 1 0 3.1 0a1.55 1.55 0 1 0 -3.1 0M567.42 140.65a1.55 1.55 0 1 0 3.1 0a1.55 1.55 0 1 0 -3.1 0M567.62 140.95a1.55 1.55 0 1 0 3.1 0a1.55 1.55 0 1 0 -3.1 0M567.81 141.25a1.55 1.55 0 1 0 3.1 0a1.55 1.55 0 1 0 -3.1 0M568 141.55a1.55 1.55 0 1 0 3.1 0a1.55 1.55 0 1 0 -3.1 0M568.19 141.85a1.55 1.55 0 1 0 3.1 0a1.55 1.55 0 1 0 -3.1 0M568.38 142.15a1.55 1.55 0 1 0 3.1 0a1.55 1.55 0 1 0 -3.1 0M568.58 142.44a1.55 1.55 0 1 0 3.1 0a1.55 1.55 0 1 0 -3.1 0M568.77 142.74a1.55 1.55 0 1 0 3.1 0a1.55 1.55 0 1 0 -3.1 0M568.96 143.04a1.55 1.55 0 1 0 3.1 0a1.55 1.55 0 1 0 -3.1 0M569.15 143.33a1.55 1.55 0 1 0 3.1 0a1.55 1.55 0 1 0 -3.1 0M569.35 143.62a1.55 1.55 0 1 0 3.1 0a1.55 1.55 0 1 0 -3.1 0M569.54 143.92a1.55 1.55 0 1 0 3.1 0a1.55 1.55 0 1 0 -3.1 0M569.73 144.21a1.55 1.55 0 1 0 3.1 0a1.55 1.55 0 1 0 -3.1 0M569.92 144.5a1.55 1.55 0 1 0 3.1 0a1.55 1.55 0 1 0 -3.1 0M570.11 144.78a1.55 1.55 0 1 0 3.1 0a1.55 1.55 0 1 0 -3.1 0M570.31 145.07a1.55 1.55 0 1 0 3.1 0a1.55 1.55 0 1 0 -3.1 0M570.5 145.36a1.55 1.55 0 1 0 3.1 0a1.55 1.55 0 1 0 -3.1 0M570.69 145.64a1.55 1.55 0 1 0 3.1 0a1.55 1.55 0 1 0 -3.1 0M570.88 145.93a1.55 1.55 0 1 0 3.1 0a1.55 1.55 0 1 0 -3.1 0M571.08 146.21a1.55 1.55 0 1 0 3.1 0a1.55 1.55 0 1 0 -3.1 0M571.27 146.49a1.55 1.55 0 1 0 3.1 0a1.55 1.55 0 1 0 -3.1 0M571.46 146.77a1.55 1.55 0 1 0 3.1 0a1.55 1.55 0 1 0 -3.1 0M571.65 147.05a1.55 1.55 0 1 0 3.1 0a1.55 1.55 0 1 0 -3.1 0M571.84 147.33a1.55 1.55 0 1 0 3.1 0a1.55 1.55 0 1 0 -3.1 0M572.04 147.61a1.55 1.55 0 1 0 3.1 0a1.55 1.55 0 1 0 -3.1 0M572.23 147.89a1.55 1.55 0 1 0 3.1 0a1.55 1.55 0 1 0 -3.1 0M572.42 148.16a1.55 1.55 0 1 0 3.1 0a1.55 1.55 0 1 0 -3.1 0M572.61 148.44a1.55 1.55 0 1 0 3.1 0a1.55 1.55 0 1 0 -3.1 0M572.8 148.71a1.55 1.55 0 1 0 3.1 0a1.55 1.55 0 1 0 -3.1 0M573 148.98a1.55 1.55 0 1 0 3.1 0a1.55 1.55 0 1 0 -3.1 0M573.19 149.26a1.55 1.55 0 1 0 3.1 0a1.55 1.55 0 1 0 -3.1 0M573.38 149.53a1.55 1.55 0 1 0 3.1 0a1.55 1.55 0 1 0 -3.1 0M573.57 149.79a1.55 1.55 0 1 0 3.1 0a1.55 1.55 0 1 0 -3.1 0M573.77 150.06a1.55 1.55 0 1 0 3.1 0a1.55 1.55 0 1 0 -3.1 0M573.96 150.33a1.55 1.55 0 1 0 3.1 0a1.55 1.55 0 1 0 -3.1 0M574.15 150.6a1.55 1.55 0 1 0 3.1 0a1.55 1.55 0 1 0 -3.1 0M574.34 150.86a1.55 1.55 0 1 0 3.1 0a1.55 1.55 0 1 0 -3.1 0M574.53 151.13a1.55 1.55 0 1 0 3.1 0a1.55 1.55 0 1 0 -3.1 0M574.73 151.4a1.55 1.55 0 1 0 3.1 0a1.55 1.55 0 1 0 -3.1 0M574.92 151.67a1.55 1.55 0 1 0 3.1 0a1.55 1.55 0 1 0 -3.1 0M575.11 151.96a1.55 1.55 0 1 0 3.1 0a1.55 1.55 0 1 0 -3.1 0M575.3 152.27a1.55 1.55 0 1 0 3.1 0a1.55 1.55 0 1 0 -3.1 0M575.49 152.58a1.55 1.55 0 1 0 3.1 0a1.55 1.55 0 1 0 -3.1 0M575.69 152.9a1.55 1.55 0 1 0 3.1 0a1.55 1.55 0 1 0 -3.1 0M575.88 153.22a1.55 1.55 0 1 0 3.1 0a1.55 1.55 0 1 0 -3.1 0M576.07 153.53a1.55 1.55 0 1 0 3.1 0a1.55 1.55 0 1 0 -3.1 0M576.26 153.85a1.55 1.55 0 1 0 3.1 0a1.55 1.55 0 1 0 -3.1 0M576.46 154.16a1.55 1.55 0 1 0 3.1 0a1.55 1.55 0 1 0 -3.1 0M576.65 154.47a1.55 1.55 0 1 0 3.1 0a1.55 1.55 0 1 0 -3.1 0M576.84 154.78a1.55 1.55 0 1 0 3.1 0a1.55 1.55 0 1 0 -3.1 0M577.03 155.09a1.55 1.55 0 1 0 3.1 0a1.55 1.55 0 1 0 -3.1 0M577.22 155.39a1.55 1.55 0 1 0 3.1 0a1.55 1.55 0 1 0 -3.1 0M577.42 155.7a1.55 1.55 0 1 0 3.1 0a1.55 1.55 0 1 0 -3.1 0M577.61 156a1.55 1.55 0 1 0 3.1 0a1.55 1.55 0 1 0 -3.1 0M577.8 156.31a1.55 1.55 0 1 0 3.1 0a1.55 1.55 0 1 0 -3.1 0M577.99 156.61a1.55 1.55 0 1 0 3.1 0a1.55 1.55 0 1 0 -3.1 0M578.18 156.91a1.55 1.55 0 1 0 3.1 0a1.55 1.55 0 1 0 -3.1 0M578.38 157.21a1.55 1.55 0 1 0 3.1 0a1.55 1.55 0 1 0 -3.1 0M578.57 157.5a1.55 1.55 0 1 0 3.1 0a1.55 1.55 0 1 0 -3.1 0M578.76 157.8a1.55 1.55 0 1 0 3.1 0a1.55 1.55 0 1 0 -3.1 0M578.95 158.09a1.55 1.55 0 1 0 3.1 0a1.55 1.55 0 1 0 -3.1 0M579.14 158.38a1.55 1.55 0 1 0 3.1 0a1.55 1.55 0 1 0 -3.1 0M579.34 158.68a1.55 1.55 0 1 0 3.1 0a1.55 1.55 0 1 0 -3.1 0M579.53 158.97a1.55 1.55 0 1 0 3.1 0a1.55 1.55 0 1 0 -3.1 0M579.72 159.25a1.55 1.55 0 1 0 3.1 0a1.55 1.55 0 1 0 -3.1 0M579.91 159.54a1.55 1.55 0 1 0 3.1 0a1.55 1.55 0 1 0 -3.1 0M580.11 159.83a1.55 1.55 0 1 0 3.1 0a1.55 1.55 0 1 0 -3.1 0M580.3 160.11a1.55 1.55 0 1 0 3.1 0a1.55 1.55 0 1 0 -3.1 0M580.49 160.39a1.55 1.55 0 1 0 3.1 0a1.55 1.55 0 1 0 -3.1 0M580.68 160.68a1.55 1.55 0 1 0 3.1 0a1.55 1.55 0 1 0 -3.1 0M580.87 160.96a1.55 1.55 0 1 0 3.1 0a1.55 1.55 0 1 0 -3.1 0M581.07 161.24a1.55 1.55 0 1 0 3.1 0a1.55 1.55 0 1 0 -3.1 0M581.26 161.51a1.55 1.55 0 1 0 3.1 0a1.55 1.55 0 1 0 -3.1 0M581.45 161.79a1.55 1.55 0 1 0 3.1 0a1.55 1.55 0 1 0 -3.1 0M581.64 162.07a1.55 1.55 0 1 0 3.1 0a1.55 1.55 0 1 0 -3.1 0M581.84 162.34a1.55 1.55 0 1 0 3.1 0a1.55 1.55 0 1 0 -3.1 0M582.03 162.61a1.55 1.55 0 1 0 3.1 0a1.55 1.55 0 1 0 -3.1 0M582.22 162.88a1.55 1.55 0 1 0 3.1 0a1.55 1.55 0 1 0 -3.1 0M582.41 163.15a1.55 1.55 0 1 0 3.1 0a1.55 1.55 0 1 0 -3.1 0M582.6 163.42a1.55 1.55 0 1 0 3.1 0a1.55 1.55 0 1 0 -3.1 0M582.8 163.69a1.55 1.55 0 1 0 3.1 0a1.55 1.55 0 1 0 -3.1 0M582.99 163.95a1.55 1.55 0 1 0 3.1 0a1.55 1.55 0 1 0 -3.1 0M583.18 164.22a1.55 1.55 0 1 0 3.1 0a1.55 1.55 0 1 0 -3.1 0M583.37 164.48a1.55 1.55 0 1 0 3.1 0a1.55 1.55 0 1 0 -3.1 0M583.56 164.74a1.55 1.55 0 1 0 3.1 0a1.55 1.55 0 1 0 -3.1 0M583.76 165a1.55 1.55 0 1 0 3.1 0a1.55 1.55 0 1 0 -3.1 0M583.95 165.26a1.55 1.55 0 1 0 3.1 0a1.55 1.55 0 1 0 -3.1 0M584.14 165.52a1.55 1.55 0 1 0 3.1 0a1.55 1.55 0 1 0 -3.1 0M584.33 165.77a1.55 1.55 0 1 0 3.1 0a1.55 1.55 0 1 0 -3.1 0M584.53 166.03a1.55 1.55 0 1 0 3.1 0a1.55 1.55 0 1 0 -3.1 0M584.72 166.28a1.55 1.55 0 1 0 3.1 0a1.55 1.55 0 1 0 -3.1 0M584.91 166.53a1.55 1.55 0 1 0 3.1 0a1.55 1.55 0 1 0 -3.1 0M585.1 166.78a1.55 1.55 0 1 0 3.1 0a1.55 1.55 0 1 0 -3.1 0M585.29 167.03a1.55 1.55 0 1 0 3.1 0a1.55 1.55 0 1 0 -3.1 0M585.49 167.28a1.55 1.55 0 1 0 3.1 0a1.55 1.55 0 1 0 -3.1 0M585.68 167.53a1.55 1.55 0 1 0 3.1 0a1.55 1.55 0 1 0 -3.1 0M585.87 167.78a1.55 1.55 0 1 0 3.1 0a1.55 1.55 0 1 0 -3.1 0M586.06 168.02a1.55 1.55 0 1 0 3.1 0a1.55 1.55 0 1 0 -3.1 0M586.25 168.26a1.55 1.55 0 1 0 3.1 0a1.55 1.55 0 1 0 -3.1 0M586.45 168.51a1.55 1.55 0 1 0 3.1 0a1.55 1.55 0 1 0 -3.1 0M586.64 168.75a1.55 1.55 0 1 0 3.1 0a1.55 1.55 0 1 0 -3.1 0M586.83 168.99a1.55 1.55 0 1 0 3.1 0a1.55 1.55 0 1 0 -3.1 0M587.02 169.23a1.55 1.55 0 1 0 3.1 0a1.55 1.55 0 1 0 -3.1 0M587.22 169.47a1.55 1.55 0 1 0 3.1 0a1.55 1.55 0 1 0 -3.1 0M587.41 169.71a1.55 1.55 0 1 0 3.1 0a1.55 1.55 0 1 0 -3.1 0M587.6 169.94a1.55 1.55 0 1 0 3.1 0a1.55 1.55 0 1 0 -3.1 0M587.79 170.18a1.55 1.55 0 1 0 3.1 0a1.55 1.55 0 1 0 -3.1 0M587.98 170.41a1.55 1.55 0 1 0 3.1 0a1.55 1.55 0 1 0 -3.1 0M588.18 170.64a1.55 1.55 0 1 0 3.1 0a1.55 1.55 0 1 0 -3.1 0M588.37 170.87a1.55 1.55 0 1 0 3.1 0a1.55 1.55 0 1 0 -3.1 0M588.56 171.11a1.55 1.55 0 1 0 3.1 0a1.55 1.55 0 1 0 -3.1 0M588.94 171.56a1.55 1.55 0 1 0 3.1 0a1.55 1.55 0 1 0 -3.1 0M589.33 172.02a1.55 1.55 0 1 0 3.1 0a1.55 1.55 0 1 0 -3.1 0M589.71 172.47a1.55 1.55 0 1 0 3.1 0a1.55 1.55 0 1 0 -3.1 0M590.1 172.91a1.55 1.55 0 1 0 3.1 0a1.55 1.55 0 1 0 -3.1 0M590.48 173.35a1.55 1.55 0 1 0 3.1 0a1.55 1.55 0 1 0 -3.1 0M590.87 173.77a1.55 1.55 0 1 0 3.1 0a1.55 1.55 0 1 0 -3.1 0M591.25 174.16a1.55 1.55 0 1 0 3.1 0a1.55 1.55 0 1 0 -3.1 0M591.63 174.54a1.55 1.55 0 1 0 3.1 0a1.55 1.55 0 1 0 -3.1 0M592.02 174.91a1.55 1.55 0 1 0 3.1 0a1.55 1.55 0 1 0 -3.1 0M592.4 175.29a1.55 1.55 0 1 0 3.1 0a1.55 1.55 0 1 0 -3.1 0M592.79 175.66a1.55 1.55 0 1 0 3.1 0a1.55 1.55 0 1 0 -3.1 0M593.17 176.02a1.55 1.55 0 1 0 3.1 0a1.55 1.55 0 1 0 -3.1 0M593.56 176.38a1.55 1.55 0 1 0 3.1 0a1.55 1.55 0 1 0 -3.1 0M593.94 176.74a1.55 1.55 0 1 0 3.1 0a1.55 1.55 0 1 0 -3.1 0M594.32 177.1a1.55 1.55 0 1 0 3.1 0a1.55 1.55 0 1 0 -3.1 0M594.71 177.45a1.55 1.55 0 1 0 3.1 0a1.55 1.55 0 1 0 -3.1 0M595.09 177.81a1.55 1.55 0 1 0 3.1 0a1.55 1.55 0 1 0 -3.1 0M595.48 178.15a1.55 1.55 0 1 0 3.1 0a1.55 1.55 0 1 0 -3.1 0M595.86 178.5a1.55 1.55 0 1 0 3.1 0a1.55 1.55 0 1 0 -3.1 0M596.25 178.84a1.55 1.55 0 1 0 3.1 0a1.55 1.55 0 1 0 -3.1 0M596.63 179.18a1.55 1.55 0 1 0 3.1 0a1.55 1.55 0 1 0 -3.1 0M597.01 179.52a1.55 1.55 0 1 0 3.1 0a1.55 1.55 0 1 0 -3.1 0M597.4 179.85a1.55 1.55 0 1 0 3.1 0a1.55 1.55 0 1 0 -3.1 0M597.78 180.18a1.55 1.55 0 1 0 3.1 0a1.55 1.55 0 1 0 -3.1 0M598.17 180.51a1.55 1.55 0 1 0 3.1 0a1.55 1.55 0 1 0 -3.1 0M598.55 180.84a1.55 1.55 0 1 0 3.1 0a1.55 1.55 0 1 0 -3.1 0M598.94 181.16a1.55 1.55 0 1 0 3.1 0a1.55 1.55 0 1 0 -3.1 0M599.32 181.48a1.55 1.55 0 1 0 3.1 0a1.55 1.55 0 1 0 -3.1 0M599.7 181.8a1.55 1.55 0 1 0 3.1 0a1.55 1.55 0 1 0 -3.1 0M600.09 182.11a1.55 1.55 0 1 0 3.1 0a1.55 1.55 0 1 0 -3.1 0M600.47 182.43a1.55 1.55 0 1 0 3.1 0a1.55 1.55 0 1 0 -3.1 0M600.86 182.75a1.55 1.55 0 1 0 3.1 0a1.55 1.55 0 1 0 -3.1 0M601.24 183.08a1.55 1.55 0 1 0 3.1 0a1.55 1.55 0 1 0 -3.1 0M601.63 183.41a1.55 1.55 0 1 0 3.1 0a1.55 1.55 0 1 0 -3.1 0M602.01 183.74a1.55 1.55 0 1 0 3.1 0a1.55 1.55 0 1 0 -3.1 0M602.39 184.06a1.55 1.55 0 1 0 3.1 0a1.55 1.55 0 1 0 -3.1 0M602.78 184.38a1.55 1.55 0 1 0 3.1 0a1.55 1.55 0 1 0 -3.1 0M603.16 184.7a1.55 1.55 0 1 0 3.1 0a1.55 1.55 0 1 0 -3.1 0M603.55 185.02a1.55 1.55 0 1 0 3.1 0a1.55 1.55 0 1 0 -3.1 0M603.93 185.33a1.55 1.55 0 1 0 3.1 0a1.55 1.55 0 1 0 -3.1 0M604.32 185.64a1.55 1.55 0 1 0 3.1 0a1.55 1.55 0 1 0 -3.1 0M604.7 185.95a1.55 1.55 0 1 0 3.1 0a1.55 1.55 0 1 0 -3.1 0M605.08 186.25a1.55 1.55 0 1 0 3.1 0a1.55 1.55 0 1 0 -3.1 0M605.47 186.56a1.55 1.55 0 1 0 3.1 0a1.55 1.55 0 1 0 -3.1 0M605.85 186.85a1.55 1.55 0 1 0 3.1 0a1.55 1.55 0 1 0 -3.1 0M606.24 187.15a1.55 1.55 0 1 0 3.1 0a1.55 1.55 0 1 0 -3.1 0M606.62 187.45a1.55 1.55 0 1 0 3.1 0a1.55 1.55 0 1 0 -3.1 0M607.01 187.74a1.55 1.55 0 1 0 3.1 0a1.55 1.55 0 1 0 -3.1 0M607.39 188.03a1.55 1.55 0 1 0 3.1 0a1.55 1.55 0 1 0 -3.1 0M607.77 188.31a1.55 1.55 0 1 0 3.1 0a1.55 1.55 0 1 0 -3.1 0M608.16 188.6a1.55 1.55 0 1 0 3.1 0a1.55 1.55 0 1 0 -3.1 0M608.54 188.88a1.55 1.55 0 1 0 3.1 0a1.55 1.55 0 1 0 -3.1 0M608.93 189.16a1.55 1.55 0 1 0 3.1 0a1.55 1.55 0 1 0 -3.1 0M609.31 189.43a1.55 1.55 0 1 0 3.1 0a1.55 1.55 0 1 0 -3.1 0M609.7 189.71a1.55 1.55 0 1 0 3.1 0a1.55 1.55 0 1 0 -3.1 0M610.08 189.98a1.55 1.55 0 1 0 3.1 0a1.55 1.55 0 1 0 -3.1 0M610.46 190.25a1.55 1.55 0 1 0 3.1 0a1.55 1.55 0 1 0 -3.1 0M610.85 190.51a1.55 1.55 0 1 0 3.1 0a1.55 1.55 0 1 0 -3.1 0M611.23 190.78a1.55 1.55 0 1 0 3.1 0a1.55 1.55 0 1 0 -3.1 0M611.62 191.04a1.55 1.55 0 1 0 3.1 0a1.55 1.55 0 1 0 -3.1 0M612 191.3a1.55 1.55 0 1 0 3.1 0a1.55 1.55 0 1 0 -3.1 0M612.39 191.55a1.55 1.55 0 1 0 3.1 0a1.55 1.55 0 1 0 -3.1 0M612.77 191.81a1.55 1.55 0 1 0 3.1 0a1.55 1.55 0 1 0 -3.1 0M613.15 192.06a1.55 1.55 0 1 0 3.1 0a1.55 1.55 0 1 0 -3.1 0M613.54 192.31a1.55 1.55 0 1 0 3.1 0a1.55 1.55 0 1 0 -3.1 0M613.92 192.56a1.55 1.55 0 1 0 3.1 0a1.55 1.55 0 1 0 -3.1 0M614.31 192.8a1.55 1.55 0 1 0 3.1 0a1.55 1.55 0 1 0 -3.1 0M614.69 193.05a1.55 1.55 0 1 0 3.1 0a1.55 1.55 0 1 0 -3.1 0M615.08 193.29a1.55 1.55 0 1 0 3.1 0a1.55 1.55 0 1 0 -3.1 0M615.46 193.53a1.55 1.55 0 1 0 3.1 0a1.55 1.55 0 1 0 -3.1 0M615.84 193.77a1.55 1.55 0 1 0 3.1 0a1.55 1.55 0 1 0 -3.1 0M616.23 194a1.55 1.55 0 1 0 3.1 0a1.55 1.55 0 1 0 -3.1 0M616.61 194.23a1.55 1.55 0 1 0 3.1 0a1.55 1.55 0 1 0 -3.1 0M617 194.46a1.55 1.55 0 1 0 3.1 0a1.55 1.55 0 1 0 -3.1 0M617.38 194.69a1.55 1.55 0 1 0 3.1 0a1.55 1.55 0 1 0 -3.1 0M617.77 194.92a1.55 1.55 0 1 0 3.1 0a1.55 1.55 0 1 0 -3.1 0M618.15 195.14a1.55 1.55 0 1 0 3.1 0a1.55 1.55 0 1 0 -3.1 0M618.53 195.35a1.55 1.55 0 1 0 3.1 0a1.55 1.55 0 1 0 -3.1 0M618.92 195.57a1.55 1.55 0 1 0 3.1 0a1.55 1.55 0 1 0 -3.1 0M619.3 195.77a1.55 1.55 0 1 0 3.1 0a1.55 1.55 0 1 0 -3.1 0M619.69 195.98a1.55 1.55 0 1 0 3.1 0a1.55 1.55 0 1 0 -3.1 0M620.07 196.19a1.55 1.55 0 1 0 3.1 0a1.55 1.55 0 1 0 -3.1 0M620.46 196.39a1.55 1.55 0 1 0 3.1 0a1.55 1.55 0 1 0 -3.1 0M620.84 196.59a1.55 1.55 0 1 0 3.1 0a1.55 1.55 0 1 0 -3.1 0M621.22 196.79a1.55 1.55 0 1 0 3.1 0a1.55 1.55 0 1 0 -3.1 0M621.61 196.99a1.55 1.55 0 1 0 3.1 0a1.55 1.55 0 1 0 -3.1 0M621.99 197.19a1.55 1.55 0 1 0 3.1 0a1.55 1.55 0 1 0 -3.1 0M622.38 197.38a1.55 1.55 0 1 0 3.1 0a1.55 1.55 0 1 0 -3.1 0M622.76 197.57a1.55 1.55 0 1 0 3.1 0a1.55 1.55 0 1 0 -3.1 0M623.15 197.77a1.55 1.55 0 1 0 3.1 0a1.55 1.55 0 1 0 -3.1 0M623.53 197.96a1.55 1.55 0 1 0 3.1 0a1.55 1.55 0 1 0 -3.1 0M623.91 198.14a1.55 1.55 0 1 0 3.1 0a1.55 1.55 0 1 0 -3.1 0M624.3 198.33a1.55 1.55 0 1 0 3.1 0a1.55 1.55 0 1 0 -3.1 0M624.68 198.52a1.55 1.55 0 1 0 3.1 0a1.55 1.55 0 1 0 -3.1 0M625.07 198.7a1.55 1.55 0 1 0 3.1 0a1.55 1.55 0 1 0 -3.1 0M625.45 198.88a1.55 1.55 0 1 0 3.1 0a1.55 1.55 0 1 0 -3.1 0M625.84 199.06a1.55 1.55 0 1 0 3.1 0a1.55 1.55 0 1 0 -3.1 0M626.22 199.24a1.55 1.55 0 1 0 3.1 0a1.55 1.55 0 1 0 -3.1 0M626.6 199.42a1.55 1.55 0 1 0 3.1 0a1.55 1.55 0 1 0 -3.1 0M626.99 199.59a1.55 1.55 0 1 0 3.1 0a1.55 1.55 0 1 0 -3.1 0M627.37 199.76a1.55 1.55 0 1 0 3.1 0a1.55 1.55 0 1 0 -3.1 0M627.76 199.93a1.55 1.55 0 1 0 3.1 0a1.55 1.55 0 1 0 -3.1 0M628.14 200.09a1.55 1.55 0 1 0 3.1 0a1.55 1.55 0 1 0 -3.1 0M628.53 200.25a1.55 1.55 0 1 0 3.1 0a1.55 1.55 0 1 0 -3.1 0M628.91 200.41a1.55 1.55 0 1 0 3.1 0a1.55 1.55 0 1 0 -3.1 0M629.29 200.57a1.55 1.55 0 1 0 3.1 0a1.55 1.55 0 1 0 -3.1 0M629.68 200.73a1.55 1.55 0 1 0 3.1 0a1.55 1.55 0 1 0 -3.1 0M630.06 200.89a1.55 1.55 0 1 0 3.1 0a1.55 1.55 0 1 0 -3.1 0M630.45 201.04a1.55 1.55 0 1 0 3.1 0a1.55 1.55 0 1 0 -3.1 0M630.83 201.2a1.55 1.55 0 1 0 3.1 0a1.55 1.55 0 1 0 -3.1 0M631.22 201.35a1.55 1.55 0 1 0 3.1 0a1.55 1.55 0 1 0 -3.1 0M631.6 201.5a1.55 1.55 0 1 0 3.1 0a1.55 1.55 0 1 0 -3.1 0M631.98 201.65a1.55 1.55 0 1 0 3.1 0a1.55 1.55 0 1 0 -3.1 0M632.37 201.8a1.55 1.55 0 1 0 3.1 0a1.55 1.55 0 1 0 -3.1 0M632.75 201.95a1.55 1.55 0 1 0 3.1 0a1.55 1.55 0 1 0 -3.1 0M633.14 202.1a1.55 1.55 0 1 0 3.1 0a1.55 1.55 0 1 0 -3.1 0M633.52 202.24a1.55 1.55 0 1 0 3.1 0a1.55 1.55 0 1 0 -3.1 0M633.91 202.39a1.55 1.55 0 1 0 3.1 0a1.55 1.55 0 1 0 -3.1 0M634.29 202.53a1.55 1.55 0 1 0 3.1 0a1.55 1.55 0 1 0 -3.1 0M634.67 202.67a1.55 1.55 0 1 0 3.1 0a1.55 1.55 0 1 0 -3.1 0M635.06 202.81a1.55 1.55 0 1 0 3.1 0a1.55 1.55 0 1 0 -3.1 0M635.44 202.95a1.55 1.55 0 1 0 3.1 0a1.55 1.55 0 1 0 -3.1 0M635.83 203.1a1.55 1.55 0 1 0 3.1 0a1.55 1.55 0 1 0 -3.1 0M636.21 203.26a1.55 1.55 0 1 0 3.1 0a1.55 1.55 0 1 0 -3.1 0M636.6 203.43a1.55 1.55 0 1 0 3.1 0a1.55 1.55 0 1 0 -3.1 0M636.98 203.6a1.55 1.55 0 1 0 3.1 0a1.55 1.55 0 1 0 -3.1 0M637.36 203.77a1.55 1.55 0 1 0 3.1 0a1.55 1.55 0 1 0 -3.1 0M637.75 203.94a1.55 1.55 0 1 0 3.1 0a1.55 1.55 0 1 0 -3.1 0M638.13 204.1a1.55 1.55 0 1 0 3.1 0a1.55 1.55 0 1 0 -3.1 0M638.52 204.26a1.55 1.55 0 1 0 3.1 0a1.55 1.55 0 1 0 -3.1 0M638.9 204.42a1.55 1.55 0 1 0 3.1 0a1.55 1.55 0 1 0 -3.1 0M639.29 204.58a1.55 1.55 0 1 0 3.1 0a1.55 1.55 0 1 0 -3.1 0M639.67 204.74a1.55 1.55 0 1 0 3.1 0a1.55 1.55 0 1 0 -3.1 0M640.05 204.89a1.55 1.55 0 1 0 3.1 0a1.55 1.55 0 1 0 -3.1 0M640.44 205.05a1.55 1.55 0 1 0 3.1 0a1.55 1.55 0 1 0 -3.1 0M640.82 205.2a1.55 1.55 0 1 0 3.1 0a1.55 1.55 0 1 0 -3.1 0M641.21 205.35a1.55 1.55 0 1 0 3.1 0a1.55 1.55 0 1 0 -3.1 0M641.59 205.5a1.55 1.55 0 1 0 3.1 0a1.55 1.55 0 1 0 -3.1 0M641.98 205.65a1.55 1.55 0 1 0 3.1 0a1.55 1.55 0 1 0 -3.1 0M642.36 205.8a1.55 1.55 0 1 0 3.1 0a1.55 1.55 0 1 0 -3.1 0M642.74 205.94a1.55 1.55 0 1 0 3.1 0a1.55 1.55 0 1 0 -3.1 0M643.13 206.08a1.55 1.55 0 1 0 3.1 0a1.55 1.55 0 1 0 -3.1 0M643.51 206.23a1.55 1.55 0 1 0 3.1 0a1.55 1.55 0 1 0 -3.1 0M643.9 206.37a1.55 1.55 0 1 0 3.1 0a1.55 1.55 0 1 0 -3.1 0M644.28 206.51a1.55 1.55 0 1 0 3.1 0a1.55 1.55 0 1 0 -3.1 0M644.67 206.64a1.55 1.55 0 1 0 3.1 0a1.55 1.55 0 1 0 -3.1 0M645.05 206.77a1.55 1.55 0 1 0 3.1 0a1.55 1.55 0 1 0 -3.1 0M645.43 206.89a1.55 1.55 0 1 0 3.1 0a1.55 1.55 0 1 0 -3.1 0M645.82 207.01a1.55 1.55 0 1 0 3.1 0a1.55 1.55 0 1 0 -3.1 0M646.2 207.13a1.55 1.55 0 1 0 3.1 0a1.55 1.55 0 1 0 -3.1 0M646.59 207.25a1.55 1.55 0 1 0 3.1 0a1.55 1.55 0 1 0 -3.1 0M646.97 207.37a1.55 1.55 0 1 0 3.1 0a1.55 1.55 0 1 0 -3.1 0M647.36 207.49a1.55 1.55 0 1 0 3.1 0a1.55 1.55 0 1 0 -3.1 0M647.74 207.6a1.55 1.55 0 1 0 3.1 0a1.55 1.55 0 1 0 -3.1 0M648.12 207.72a1.55 1.55 0 1 0 3.1 0a1.55 1.55 0 1 0 -3.1 0M648.51 207.83a1.55 1.55 0 1 0 3.1 0a1.55 1.55 0 1 0 -3.1 0M648.89 207.94a1.55 1.55 0 1 0 3.1 0a1.55 1.55 0 1 0 -3.1 0M649.28 208.05a1.55 1.55 0 1 0 3.1 0a1.55 1.55 0 1 0 -3.1 0M649.66 208.16a1.55 1.55 0 1 0 3.1 0a1.55 1.55 0 1 0 -3.1 0M650.05 208.27a1.55 1.55 0 1 0 3.1 0a1.55 1.55 0 1 0 -3.1 0M650.43 208.38a1.55 1.55 0 1 0 3.1 0a1.55 1.55 0 1 0 -3.1 0M650.81 208.49a1.55 1.55 0 1 0 3.1 0a1.55 1.55 0 1 0 -3.1 0M651.2 208.59a1.55 1.55 0 1 0 3.1 0a1.55 1.55 0 1 0 -3.1 0M651.58 208.7a1.55 1.55 0 1 0 3.1 0a1.55 1.55 0 1 0 -3.1 0M651.97 208.8a1.55 1.55 0 1 0 3.1 0a1.55 1.55 0 1 0 -3.1 0M652.35 208.91a1.55 1.55 0 1 0 3.1 0a1.55 1.55 0 1 0 -3.1 0M652.74 209.01a1.55 1.55 0 1 0 3.1 0a1.55 1.55 0 1 0 -3.1 0M653.12 209.11a1.55 1.55 0 1 0 3.1 0a1.55 1.55 0 1 0 -3.1 0M653.5 209.21a1.55 1.55 0 1 0 3.1 0a1.55 1.55 0 1 0 -3.1 0M653.89 209.3a1.55 1.55 0 1 0 3.1 0a1.55 1.55 0 1 0 -3.1 0M654.27 209.39a1.55 1.55 0 1 0 3.1 0a1.55 1.55 0 1 0 -3.1 0M654.66 209.48a1.55 1.55 0 1 0 3.1 0a1.55 1.55 0 1 0 -3.1 0M655.04 209.56a1.55 1.55 0 1 0 3.1 0a1.55 1.55 0 1 0 -3.1 0M655.43 209.65a1.55 1.55 0 1 0 3.1 0a1.55 1.55 0 1 0 -3.1 0M655.81 209.73a1.55 1.55 0 1 0 3.1 0a1.55 1.55 0 1 0 -3.1 0M656.19 209.82a1.55 1.55 0 1 0 3.1 0a1.55 1.55 0 1 0 -3.1 0M656.58 209.9a1.55 1.55 0 1 0 3.1 0a1.55 1.55 0 1 0 -3.1 0M656.96 209.98a1.55 1.55 0 1 0 3.1 0a1.55 1.55 0 1 0 -3.1 0M657.35 210.07a1.55 1.55 0 1 0 3.1 0a1.55 1.55 0 1 0 -3.1 0M657.73 210.15a1.55 1.55 0 1 0 3.1 0a1.55 1.55 0 1 0 -3.1 0M658.12 210.23a1.55 1.55 0 1 0 3.1 0a1.55 1.55 0 1 0 -3.1 0M658.5 210.31a1.55 1.55 0 1 0 3.1 0a1.55 1.55 0 1 0 -3.1 0M658.88 210.39a1.55 1.55 0 1 0 3.1 0a1.55 1.55 0 1 0 -3.1 0M659.27 210.46a1.55 1.55 0 1 0 3.1 0a1.55 1.55 0 1 0 -3.1 0M659.65 210.54a1.55 1.55 0 1 0 3.1 0a1.55 1.55 0 1 0 -3.1 0M660.04 210.62a1.55 1.55 0 1 0 3.1 0a1.55 1.55 0 1 0 -3.1 0M660.42 210.7a1.55 1.55 0 1 0 3.1 0a1.55 1.55 0 1 0 -3.1 0M660.81 210.77a1.55 1.55 0 1 0 3.1 0a1.55 1.55 0 1 0 -3.1 0M661.19 210.85a1.55 1.55 0 1 0 3.1 0a1.55 1.55 0 1 0 -3.1 0M661.57 210.92a1.55 1.55 0 1 0 3.1 0a1.55 1.55 0 1 0 -3.1 0M661.96 211a1.55 1.55 0 1 0 3.1 0a1.55 1.55 0 1 0 -3.1 0M662.34 211.07a1.55 1.55 0 1 0 3.1 0a1.55 1.55 0 1 0 -3.1 0M662.73 211.14a1.55 1.55 0 1 0 3.1 0a1.55 1.55 0 1 0 -3.1 0M663.11 211.21a1.55 1.55 0 1 0 3.1 0a1.55 1.55 0 1 0 -3.1 0M663.5 211.28a1.55 1.55 0 1 0 3.1 0a1.55 1.55 0 1 0 -3.1 0M663.88 211.35a1.55 1.55 0 1 0 3.1 0a1.55 1.55 0 1 0 -3.1 0M664.26 211.41a1.55 1.55 0 1 0 3.1 0a1.55 1.55 0 1 0 -3.1 0M664.65 211.48a1.55 1.55 0 1 0 3.1 0a1.55 1.55 0 1 0 -3.1 0M665.03 211.55a1.55 1.55 0 1 0 3.1 0a1.55 1.55 0 1 0 -3.1 0M665.42 211.61a1.55 1.55 0 1 0 3.1 0a1.55 1.55 0 1 0 -3.1 0M665.8 211.68a1.55 1.55 0 1 0 3.1 0a1.55 1.55 0 1 0 -3.1 0M666.19 211.75a1.55 1.55 0 1 0 3.1 0a1.55 1.55 0 1 0 -3.1 0M666.57 211.81a1.55 1.55 0 1 0 3.1 0a1.55 1.55 0 1 0 -3.1 0M666.95 211.87a1.55 1.55 0 1 0 3.1 0a1.55 1.55 0 1 0 -3.1 0M667.34 211.94a1.55 1.55 0 1 0 3.1 0a1.55 1.55 0 1 0 -3.1 0M667.72 212a1.55 1.55 0 1 0 3.1 0a1.55 1.55 0 1 0 -3.1 0M668.11 212.06a1.55 1.55 0 1 0 3.1 0a1.55 1.55 0 1 0 -3.1 0M668.49 212.13a1.55 1.55 0 1 0 3.1 0a1.55 1.55 0 1 0 -3.1 0M668.88 212.19a1.55 1.55 0 1 0 3.1 0a1.55 1.55 0 1 0 -3.1 0M669.26 212.25a1.55 1.55 0 1 0 3.1 0a1.55 1.55 0 1 0 -3.1 0M669.64 212.31a1.55 1.55 0 1 0 3.1 0a1.55 1.55 0 1 0 -3.1 0M670.03 212.37a1.55 1.55 0 1 0 3.1 0a1.55 1.55 0 1 0 -3.1 0M670.41 212.43a1.55 1.55 0 1 0 3.1 0a1.55 1.55 0 1 0 -3.1 0M670.8 212.49a1.55 1.55 0 1 0 3.1 0a1.55 1.55 0 1 0 -3.1 0M671.18 212.55a1.55 1.55 0 1 0 3.1 0a1.55 1.55 0 1 0 -3.1 0M671.57 212.61a1.55 1.55 0 1 0 3.1 0a1.55 1.55 0 1 0 -3.1 0M671.95 212.65a1.55 1.55 0 1 0 3.1 0a1.55 1.55 0 1 0 -3.1 0" fill="none" stroke="#0a0ad0" stroke-width="0.95"/>
<path d="M31.5 2.5H215.5V102.5H31.5ZM30.3 102.5H31.5M214.2 102.5H215.5M29.3 94.5H31.5M213.1 94.5H215.5M30.3 85.5H31.5M214.2 85.5H215.5M29.3 77.5H31.5M213.1 77.5H215.5M30.3 69.5H31.5M214.2 69.5H215.5M29.3 60.5H31.5M213.1 60.5H215.5M30.3 52.5H31.5M214.2 52.5H215.5M29.3 44.5H31.5M213.1 44.5H215.5M30.3 35.5H31.5M214.2 35.5H215.5M29.3 27.5H31.5M213.1 27.5H215.5M30.3 19.5H31.5M214.2 19.5H215.5M29.3 10.5H31.5M213.1 10.5H215.5M30.3 2.5H31.5M214.2 2.5H215.5M31.5 102.5V104.7M31.5 2.5V4.9M49.5 102.5V103.7M49.5 2.5V3.8M67.5 102.5V104.7M67.5 2.5V4.9M86.5 102.5V103.7M86.5 2.5V3.8M104.5 102.5V104.7M104.5 2.5V4.9M123.5 102.5V103.7M123.5 2.5V3.8M141.5 102.5V104.7M141.5 2.5V4.9M160.5 102.5V103.7M160.5 2.5V3.8M178.5 102.5V104.7M178.5 2.5V4.9M196.5 102.5V103.7M196.5 2.5V3.8M215.5 102.5V104.7M215.5 2.5V4.9" fill="none" stroke="#2a2a2a" stroke-width="1"/>
<text x="25.9" y="96.33" class="tl" text-anchor="end">0.0</text>
<text x="25.9" y="79.7" class="tl" text-anchor="end">0.2</text>
<text x="25.9" y="63.07" class="tl" text-anchor="end">0.4</text>
<text x="25.9" y="46.43" class="tl" text-anchor="end">0.6</text>
<text x="25.9" y="29.8" class="tl" text-anchor="end">0.8</text>
<text x="25.9" y="13.17" class="tl" text-anchor="end">1.0</text>
<text x="31.1" y="112.6" class="tl" text-anchor="middle">1544.00</text>
<text x="67.94" y="112.6" class="tl" text-anchor="middle">1544.25</text>
<text x="104.78" y="112.6" class="tl" text-anchor="middle">1544.50</text>
<text x="141.62" y="112.6" class="tl" text-anchor="middle">1544.75</text>
<text x="178.46" y="112.6" class="tl" text-anchor="middle">1545.00</text>
<text x="215.3" y="112.6" class="tl" text-anchor="middle">1545.25</text>
<text x="123.2" y="122.8" class="at" text-anchor="middle">Wavelength (nm)</text>
<path d="M258.5 3.5H444.5V103.5H258.5ZM257.3 103.5H258.5M443.2 103.5H444.5M256.3 94.5H258.5M442.1 94.5H444.5M257.3 86.5H258.5M443.2 86.5H444.5M256.3 78.5H258.5M442.1 78.5H444.5M257.3 69.5H258.5M443.2 69.5H444.5M256.3 61.5H258.5M442.1 61.5H444.5M257.3 53.5H258.5M443.2 53.5H444.5M256.3 44.5H258.5M442.1 44.5H444.5M257.3 36.5H258.5M443.2 36.5H444.5M256.3 28.5H258.5M442.1 28.5H444.5M257.3 20.5H258.5M443.2 20.5H444.5M256.3 11.5H258.5M442.1 11.5H444.5M257.3 3.5H258.5M443.2 3.5H444.5M258.5 103.5V105.7M258.5 3.5V5.9M276.5 103.5V104.7M276.5 3.5V4.8M295.5 103.5V105.7M295.5 3.5V5.9M313.5 103.5V104.7M313.5 3.5V4.8M332.5 103.5V105.7M332.5 3.5V5.9M351.5 103.5V104.7M351.5 3.5V4.8M369.5 103.5V105.7M369.5 3.5V5.9M388.5 103.5V104.7M388.5 3.5V4.8M406.5 103.5V105.7M406.5 3.5V5.9M425.5 103.5V104.7M425.5 3.5V4.8M444.5 103.5V105.7M444.5 3.5V5.9" fill="none" stroke="#2a2a2a" stroke-width="1"/>
<text x="253" y="96.95" class="tl" text-anchor="end">0.0</text>
<text x="253" y="80.35" class="tl" text-anchor="end">0.2</text>
<text x="253" y="63.75" class="tl" text-anchor="end">0.4</text>
<text x="253" y="47.15" class="tl" text-anchor="end">0.6</text>
<text x="253" y="30.55" class="tl" text-anchor="end">0.8</text>
<text x="253" y="13.95" class="tl" text-anchor="end">1.0</text>
<text x="258.2" y="113.2" class="tl" text-anchor="middle">1544.00</text>
<text x="295.36" y="113.2" class="tl" text-anchor="middle">1544.25</text>
<text x="332.52" y="113.2" class="tl" text-anchor="middle">1544.50</text>
<text x="369.68" y="113.2" class="tl" text-anchor="middle">1544.75</text>
<text x="406.84" y="113.2" class="tl" text-anchor="middle">1545.00</text>
<text x="444" y="113.2" class="tl" text-anchor="middle">1545.25</text>
<text x="351.1" y="123.4" class="at" text-anchor="middle">Wavelength (nm)</text>
<path d="M484.5 2.5H671.5V103.5H484.5ZM483.3 103.5H484.5M670.2 103.5H671.5M482.3 94.5H484.5M669.1 94.5H671.5M483.3 86.5H484.5M670.2 86.5H671.5M482.3 78.5H484.5M669.1 78.5H671.5M483.3 69.5H484.5M670.2 69.5H671.5M482.3 61.5H484.5M669.1 61.5H671.5M483.3 52.5H484.5M670.2 52.5H671.5M482.3 44.5H484.5M669.1 44.5H671.5M483.3 36.5H484.5M670.2 36.5H671.5M482.3 27.5H484.5M669.1 27.5H671.5M483.3 19.5H484.5M670.2 19.5H671.5M482.3 10.5H484.5M669.1 10.5H671.5M483.3 2.5H484.5M670.2 2.5H671.5M484.5 103.5V105.7M484.5 2.5V4.9M503.5 103.5V104.7M503.5 2.5V3.8M521.5 103.5V105.7M521.5 2.5V4.9M540.5 103.5V104.7M540.5 2.5V3.8M559.5 103.5V105.7M559.5 2.5V4.9M578.5 103.5V104.7M578.5 2.5V3.8M596.5 103.5V105.7M596.5 2.5V4.9M615.5 103.5V104.7M615.5 2.5V3.8M634.5 103.5V105.7M634.5 2.5V4.9M652.5 103.5V104.7M652.5 2.5V3.8M671.5 103.5V105.7M671.5 2.5V4.9" fill="none" stroke="#2a2a2a" stroke-width="1"/>
<text x="479.3" y="97.15" class="tl" text-anchor="end">0.0</text>
<text x="479.3" y="80.35" class="tl" text-anchor="end">0.2</text>
<text x="479.3" y="63.55" class="tl" text-anchor="end">0.4</text>
<text x="479.3" y="46.75" class="tl" text-anchor="end">0.6</text>
<text x="479.3" y="29.95" class="tl" text-anchor="end">0.8</text>
<text x="479.3" y="13.15" class="tl" text-anchor="end">1.0</text>
<text x="484.5" y="113.5" class="tl" text-anchor="middle">1544.00</text>
<text x="521.9" y="113.5" class="tl" text-anchor="middle">1544.25</text>
<text x="559.3" y="113.5" class="tl" text-anchor="middle">1544.50</text>
<text x="596.7" y="113.5" class="tl" text-anchor="middle">1544.75</text>
<text x="634.1" y="113.5" class="tl" text-anchor="middle">1545.00</text>
<text x="671.5" y="113.5" class="tl" text-anchor="middle">1545.25</text>
<text x="578" y="123.7" class="at" text-anchor="middle">Wavelength (nm)</text>
<path d="M32.5 129.5H216.5V229.5H32.5ZM31.3 229.5H32.5M215.2 229.5H216.5M30.3 220.5H32.5M214.1 220.5H216.5M31.3 212.5H32.5M215.2 212.5H216.5M30.3 204.5H32.5M214.1 204.5H216.5M31.3 196.5H32.5M215.2 196.5H216.5M30.3 187.5H32.5M214.1 187.5H216.5M31.3 179.5H32.5M215.2 179.5H216.5M30.3 171.5H32.5M214.1 171.5H216.5M31.3 162.5H32.5M215.2 162.5H216.5M30.3 154.5H32.5M214.1 154.5H216.5M31.3 146.5H32.5M215.2 146.5H216.5M30.3 137.5H32.5M214.1 137.5H216.5M31.3 129.5H32.5M215.2 129.5H216.5M32.5 229.5V231.7M32.5 129.5V131.9M51.5 229.5V230.7M51.5 129.5V130.8M69.5 229.5V231.7M69.5 129.5V131.9M88.5 229.5V230.7M88.5 129.5V130.8M107.5 229.5V231.7M107.5 129.5V131.9M126.5 229.5V230.7M126.5 129.5V130.8M145.5 229.5V231.7M145.5 129.5V131.9M163.5 229.5V230.7M163.5 129.5V130.8M182.5 229.5V231.7M182.5 129.5V131.9M201.5 229.5V230.7M201.5 129.5V130.8" fill="none" stroke="#2a2a2a" stroke-width="1"/>
<text x="27.2" y="223.23" class="tl" text-anchor="end">0.0</text>
<text x="27.2" y="206.58" class="tl" text-anchor="end">0.2</text>
<text x="27.2" y="189.93" class="tl" text-anchor="end">0.4</text>
<text x="27.2" y="173.28" class="tl" text-anchor="end">0.6</text>
<text x="27.2" y="156.62" class="tl" text-anchor="end">0.8</text>
<text x="27.2" y="139.98" class="tl" text-anchor="end">1.0</text>
<text x="32.4" y="239.5" class="tl" text-anchor="middle">-1000</text>
<text x="69.97" y="239.5" class="tl" text-anchor="middle">-500</text>
<text x="107.54" y="239.5" class="tl" text-anchor="middle">0</text>
<text x="145.11" y="239.5" class="tl" text-anchor="middle">500</text>
<text x="182.69" y="239.5" class="tl" text-anchor="middle">1000</text>
<text x="124.45" y="249.7" class="at" text-anchor="middle">Time (ps)</text>
<path d="M261.5 129.5H445.5V229.5H261.5ZM260.3 229.5H261.5M444.2 229.5H445.5M259.3 220.5H261.5M443.1 220.5H445.5M260.3 212.5H261.5M444.2 212.5H445.5M259.3 204.5H261.5M443.1 204.5H445.5M260.3 195.5H261.5M444.2 195.5H445.5M259.3 187.5H261.5M443.1 187.5H445.5M260.3 179.5H261.5M444.2 179.5H445.5M259.3 170.5H261.5M443.1 170.5H445.5M260.3 162.5H261.5M444.2 162.5H445.5M259.3 154.5H261.5M443.1 154.5H445.5M260.3 146.5H261.5M444.2 146.5H445.5M259.3 137.5H261.5M443.1 137.5H445.5M260.3 129.5H261.5M444.2 129.5H445.5M261.5 229.5V231.7M261.5 129.5V131.9M280.5 229.5V230.7M280.5 129.5V130.8M298.5 229.5V231.7M298.5 129.5V131.9M317.5 229.5V230.7M317.5 129.5V130.8M336.5 229.5V231.7M336.5 129.5V131.9M355.5 229.5V230.7M355.5 129.5V130.8M373.5 229.5V231.7M373.5 129.5V131.9M392.5 229.5V230.7M392.5 129.5V130.8M411.5 229.5V231.7M411.5 129.5V131.9M430.5 229.5V230.7M430.5 129.5V130.8" fill="none" stroke="#2a2a2a" stroke-width="1"/>
<text x="256.1" y="223.13" class="tl" text-anchor="end">0.0</text>
<text x="256.1" y="206.5" class="tl" text-anchor="end">0.2</text>
<text x="256.1" y="189.87" class="tl" text-anchor="end">0.4</text>
<text x="256.1" y="173.23" class="tl" text-anchor="end">0.6</text>
<text x="256.1" y="156.6" class="tl" text-anchor="end">0.8</text>
<text x="256.1" y="139.97" class="tl" text-anchor="end">1.0</text>
<text x="261.3" y="239.4" class="tl" text-anchor="middle">-1000</text>
<text x="298.85" y="239.4" class="tl" text-anchor="middle">-500</text>
<text x="336.4" y="239.4" class="tl" text-anchor="middle">0</text>
<text x="373.95" y="239.4" class="tl" text-anchor="middle">500</text>
<text x="411.5" y="239.4" class="tl" text-anchor="middle">1000</text>
<text x="353.3" y="249.6" class="at" text-anchor="middle">Time (ps)</text>
<path d="M485.5 128.5H673.5V228.5H485.5ZM484.3 228.5H485.5M672.2 228.5H673.5M483.3 220.5H485.5M671.1 220.5H673.5M484.3 211.5H485.5M672.2 211.5H673.5M483.3 203.5H485.5M671.1 203.5H673.5M484.3 195.5H485.5M672.2 195.5H673.5M483.3 186.5H485.5M671.1 186.5H673.5M484.3 178.5H485.5M672.2 178.5H673.5M483.3 170.5H485.5M671.1 170.5H673.5M484.3 161.5H485.5M672.2 161.5H673.5M483.3 153.5H485.5M671.1 153.5H673.5M484.3 145.5H485.5M672.2 145.5H673.5M483.3 136.5H485.5M671.1 136.5H673.5M484.3 128.5H485.5M672.2 128.5H673.5M485.5 228.5V230.7M485.5 128.5V130.9M504.5 228.5V229.7M504.5 128.5V129.8M523.5 228.5V230.7M523.5 128.5V130.9M542.5 228.5V229.7M542.5 128.5V129.8M562.5 228.5V230.7M562.5 128.5V130.9M581.5 228.5V229.7M581.5 128.5V129.8M600.5 228.5V230.7M600.5 128.5V130.9M619.5 228.5V229.7M619.5 128.5V129.8M638.5 228.5V230.7M638.5 128.5V130.9M658.5 228.5V229.7M658.5 128.5V129.8" fill="none" stroke="#2a2a2a" stroke-width="1"/>
<text x="480" y="222.33" class="tl" text-anchor="end">0.0</text>
<text x="480" y="205.68" class="tl" text-anchor="end">0.2</text>
<text x="480" y="189.03" class="tl" text-anchor="end">0.4</text>
<text x="480" y="172.38" class="tl" text-anchor="end">0.6</text>
<text x="480" y="155.73" class="tl" text-anchor="end">0.8</text>
<text x="480" y="139.07" class="tl" text-anchor="end">1.0</text>
<text x="485.2" y="238.6" class="tl" text-anchor="middle">-1000</text>
<text x="523.63" y="238.6" class="tl" text-anchor="middle">-500</text>
<text x="562.06" y="238.6" class="tl" text-anchor="middle">0</text>
<text x="600.49" y="238.6" class="tl" text-anchor="middle">500</text>
<text x="638.91" y="238.6" class="tl" text-anchor="middle">1000</text>
<text x="579.35" y="248.8" class="at" text-anchor="middle">Time (ps)</text>
<text transform="translate(10 59.5) rotate(-90)" class="yt" text-anchor="middle">Amplitude (a.u.)</text>
<text transform="translate(237 60.5) rotate(-90)" class="yt" text-anchor="middle">Amplitude (a.u.)</text>
<text transform="translate(463.5 60) rotate(-90)" class="yt" text-anchor="middle">Amplitude (a.u.)</text>
<text transform="translate(10.3 186.5) rotate(-90)" class="yt" text-anchor="middle">Amplitude (a.u.)</text>
<text transform="translate(239.5 186.5) rotate(-90)" class="yt" text-anchor="middle">Amplitude (a.u.)</text>
<text transform="translate(463.9 186.3) rotate(-90)" class="yt" text-anchor="middle">Amplitude (a.u.)</text>
<text x="39.2" y="20.8" class="pl">(a)</text>
<text x="267.7" y="19.3" class="pl">(b)</text>
<text x="496.2" y="19.8" class="pl">(c)</text>
<text x="39" y="145.3" class="pl">(d)</text>
<text x="268" y="145.3" class="pl">(e)</text>
<text x="497" y="144.6" class="pl">(f)</text>
<text x="38.5" y="49.6" class="tx">I=22.95mA</text>
<text x="38.5" y="61.5" class="tx">k=0.008/ps</text>
<text x="274.3" y="48.5" class="tx">I=23mA</text>
<text x="274.4" y="59.9" class="tx">k=0.005/ps</text>
<text x="497.5" y="48.8" class="tx">I=23.05mA</text>
<text x="497.3" y="60.1" class="tx">k=0.0035/ps</text>
<text x="41.5" y="175.7" class="tx">I=22.95mA</text>
<text x="41.3" y="187" class="tx">k=0.008/ps</text>
<text x="275.7" y="176" class="tx">I=23mA</text>
<text x="275.3" y="187.3" class="tx">k=0.005/ps</text>
<text x="497.9" y="175.7" class="tx">I=23.05mA</text>
<text x="497.3" y="186.7" class="tx">k=0.0035/ps</text>
<circle cx="148.75" cy="24.2" r="1.9" fill="#fff" stroke="#0a0ad0" stroke-width="0.9"/>
<path d="M139 34.5H158.4" stroke="#33e033" stroke-width="1.8"/>
<text x="163.5" y="27" class="tx">Fitted</text>
<text x="163.5" y="37.7" class="tx">Measured</text>
<circle cx="381.6" cy="22.3" r="1.9" fill="#fff" stroke="#0a0ad0" stroke-width="0.9"/>
<path d="M372.1 32.9H391.1" stroke="#33e033" stroke-width="1.8"/>
<text x="396.4" y="25.8" class="tx">Fitted</text>
<text x="396.4" y="35.6" class="tx">Measured</text>
<circle cx="609.5" cy="22.3" r="1.9" fill="#fff" stroke="#0a0ad0" stroke-width="0.9"/>
<path d="M600.1 32.9H619.5" stroke="#33e033" stroke-width="1.8"/>
<text x="624.2" y="25.3" class="tx">Fitted</text>
<text x="624.2" y="35.3" class="tx">Measured</text>
<circle cx="158.4" cy="146.3" r="1.9" fill="#fff" stroke="#0a0ad0" stroke-width="0.9"/>
<circle cx="158.4" cy="158.2" r="2.5" fill="#33e033"/>
<text x="168.6" y="149.5" class="tx">Calculated</text>
<text x="168.6" y="161.3" class="tx">Measured</text>
<circle cx="386.8" cy="146.3" r="1.9" fill="#fff" stroke="#0a0ad0" stroke-width="0.9"/>
<circle cx="386.8" cy="158.5" r="2.5" fill="#33e033"/>
<text x="396.7" y="149.5" class="tx">Calculated</text>
<text x="396.7" y="161.3" class="tx">Measured</text>
<circle cx="616.8" cy="146.8" r="1.9" fill="#fff" stroke="#0a0ad0" stroke-width="0.9"/>
<circle cx="616.8" cy="158.5" r="2.5" fill="#33e033"/>
<text x="626.7" y="149.5" class="tx">Calculated</text>
<text x="626.7" y="161.3" class="tx">Measured</text>
</svg>
</body></html>
